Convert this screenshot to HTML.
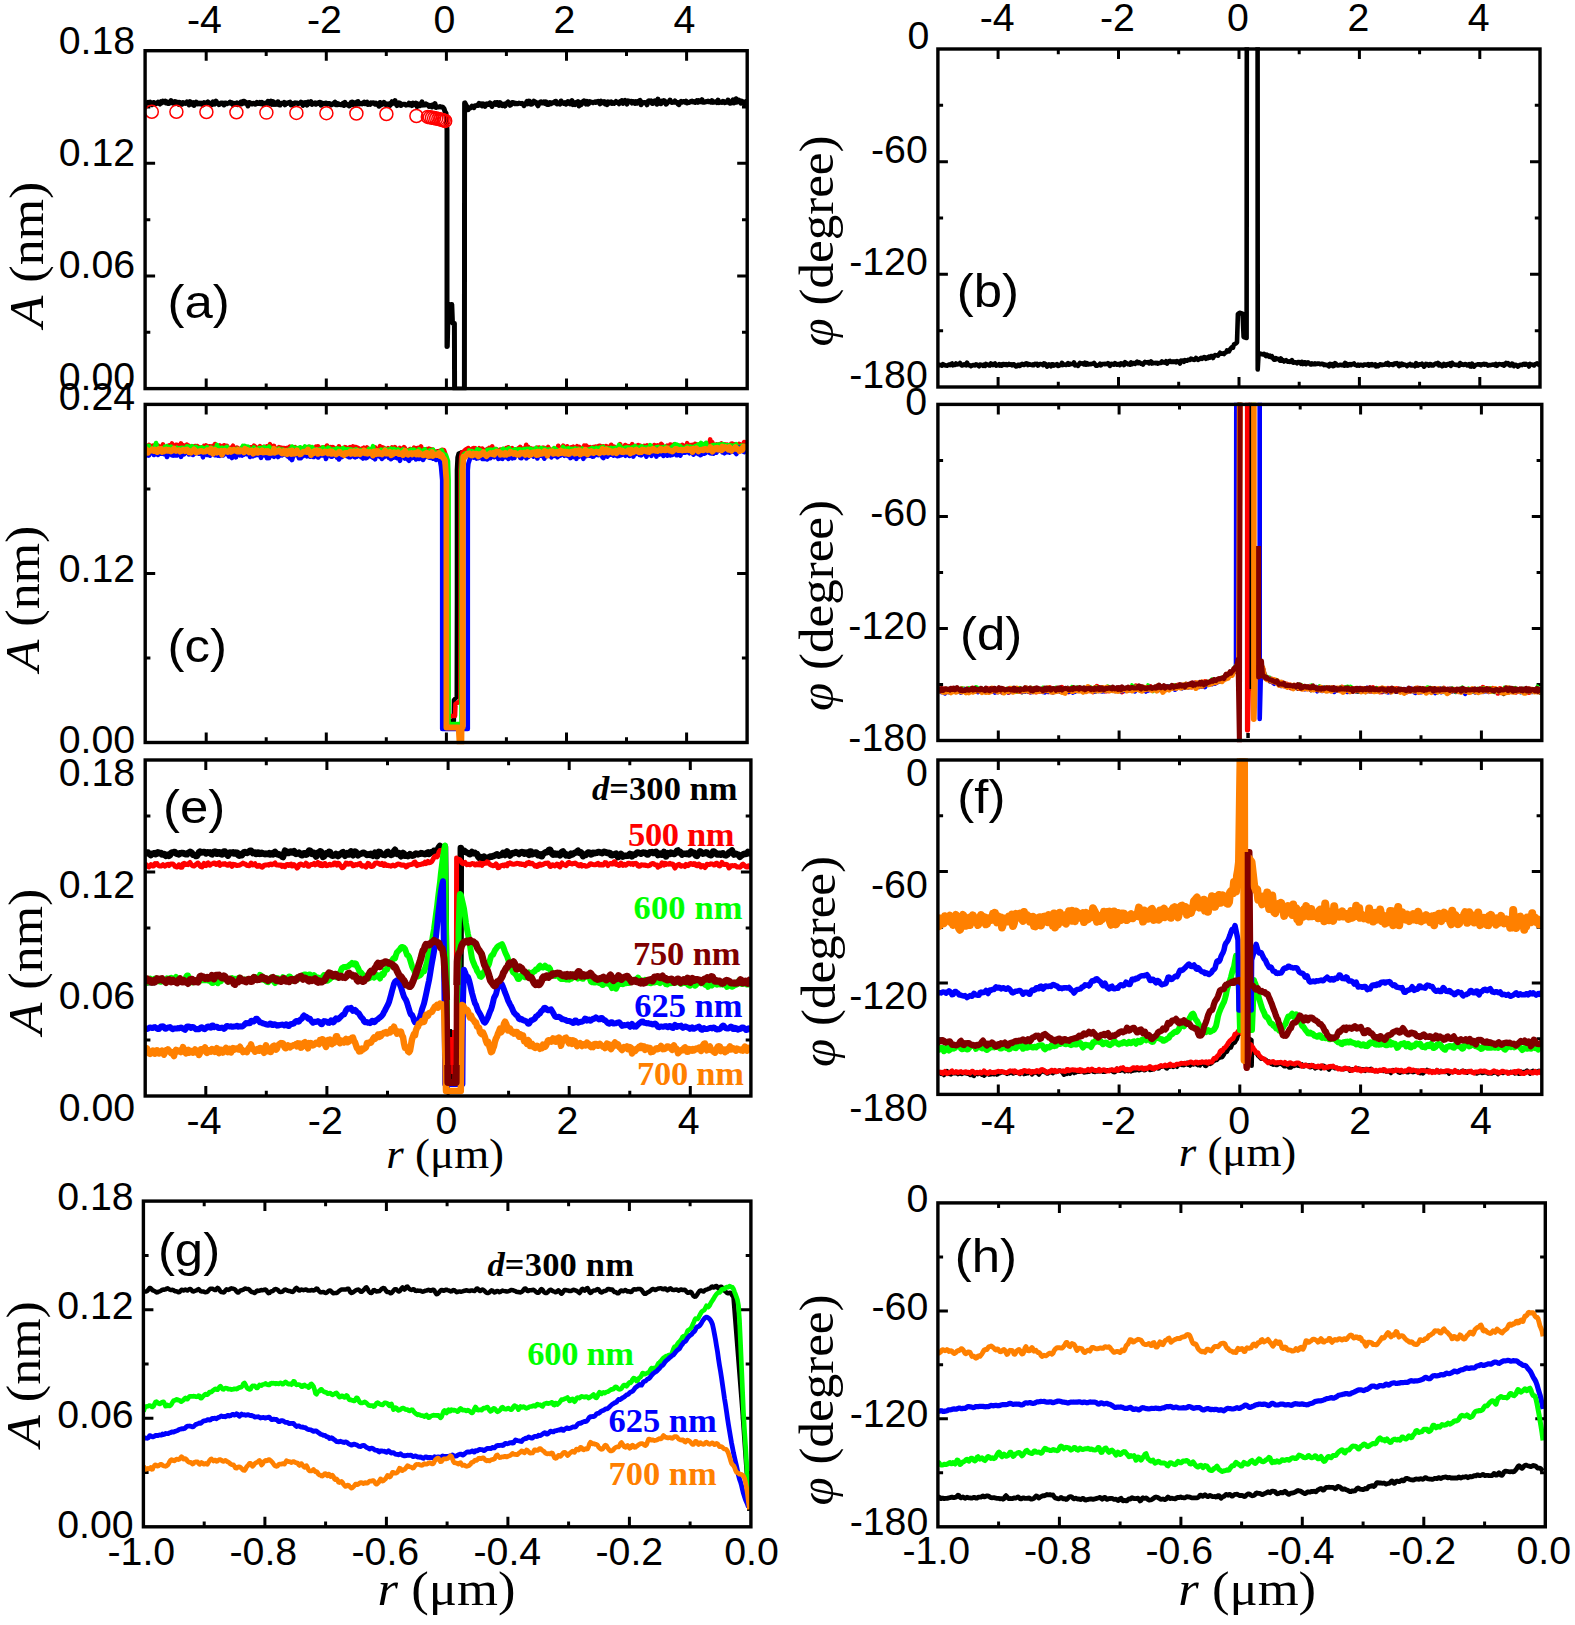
<!DOCTYPE html>
<html><head><meta charset="utf-8"><title>Figure</title><style>html,body{margin:0;padding:0;background:#fff}svg{display:block}</style></head><body>
<svg width="1575" height="1625" viewBox="0 0 1575 1625">
<rect width="1575" height="1625" fill="#fff"/>
<defs>
<clipPath id="cpa"><rect x="145.1" y="49.0" width="602.1" height="341.3"/></clipPath>
<clipPath id="cpb"><rect x="937.9" y="47.3" width="602.1" height="341.4"/></clipPath>
<clipPath id="cpc"><rect x="145.2" y="402.7" width="601.9000000000001" height="341.5"/></clipPath>
<clipPath id="cpd"><rect x="937.9" y="402.7" width="603.9" height="339.5"/></clipPath>
<clipPath id="cpe"><rect x="145.2" y="758.3" width="605.7" height="339.4"/></clipPath>
<clipPath id="cpf"><rect x="937.9" y="758.3" width="603.9" height="337.80000000000007"/></clipPath>
<clipPath id="cpg"><rect x="143.4" y="1199.3999999999999" width="607.5" height="329.1"/></clipPath>
<clipPath id="cph"><rect x="937.9" y="1201.2" width="607.4" height="327.29999999999984"/></clipPath>
</defs>
<path d="M206.2,50.7v10.0M206.2,388.6v-10.0M266.2,50.7v5.2M266.2,388.6v-5.2M326.3,50.7v10.0M326.3,388.6v-10.0M386.3,50.7v5.2M386.3,388.6v-5.2M446.4,50.7v10.0M446.4,388.6v-10.0M506.4,50.7v5.2M506.4,388.6v-5.2M566.5,50.7v10.0M566.5,388.6v-10.0M626.5,50.7v5.2M626.5,388.6v-5.2M686.6,50.7v10.0M686.6,388.6v-10.0M145.1,107.0h5.2M747.2,107.0h-5.2M145.1,163.3h10.0M747.2,163.3h-10.0M145.1,219.7h5.2M747.2,219.7h-5.2M145.1,276.0h10.0M747.2,276.0h-10.0M145.1,332.3h5.2M747.2,332.3h-5.2" stroke="#000" stroke-width="3.0" fill="none"/>
<g clip-path="url(#cpa)">
<path d="M145.0,103.2 L146.0,103.5 L147.0,102.9 L148.0,102.2 L149.0,102.7 L150.0,102.1 L151.0,103.3 L152.0,104.7 L153.0,102.7 L154.0,102.5 L155.0,103.7 L156.0,103.6 L157.0,103.3 L158.0,102.2 L159.0,103.2 L160.0,104.0 L161.0,101.7 L162.0,102.7 L163.0,101.1 L164.0,101.8 L165.0,101.2 L166.0,103.0 L167.0,101.8 L168.0,103.5 L169.0,103.4 L170.0,103.0 L171.0,100.5 L172.0,102.6 L173.0,103.2 L174.0,103.4 L175.0,101.5 L176.0,102.7 L177.0,102.2 L178.0,102.3 L179.0,104.4 L180.0,102.4 L181.0,103.2 L182.0,104.2 L183.0,102.6 L184.0,103.1 L185.0,103.4 L186.0,103.3 L187.0,101.9 L188.0,103.3 L189.0,104.8 L190.0,101.6 L191.0,104.2 L192.0,103.4 L193.0,102.6 L194.0,105.5 L195.0,104.1 L196.0,102.0 L197.0,103.4 L198.0,103.9 L199.0,103.1 L200.0,104.0 L201.0,103.2 L202.0,104.0 L203.0,104.9 L204.0,102.5 L205.0,103.5 L206.0,102.8 L207.0,103.4 L208.0,102.0 L209.0,102.7 L210.0,103.1 L211.0,104.3 L212.0,104.6 L213.0,101.9 L214.0,102.4 L215.0,104.0 L216.0,101.1 L217.0,102.8 L218.0,103.2 L219.0,104.7 L220.0,104.1 L221.0,103.0 L222.0,102.9 L223.0,103.1 L224.0,105.0 L225.0,102.9 L226.0,103.0 L227.0,103.7 L228.0,103.2 L229.0,103.1 L230.0,102.1 L231.0,103.3 L232.0,102.9 L233.0,104.7 L234.0,104.1 L235.0,103.3 L236.0,104.1 L237.0,103.0 L238.0,104.5 L239.0,103.4 L240.0,104.0 L241.0,102.0 L242.0,103.8 L243.0,101.5 L244.0,101.2 L245.0,103.1 L246.0,102.4 L247.0,103.6 L248.0,105.9 L249.0,102.5 L250.0,102.7 L251.0,103.7 L252.0,104.0 L253.0,103.2 L254.0,103.2 L255.0,104.2 L256.0,104.0 L257.0,102.3 L258.0,103.4 L259.0,103.5 L260.0,102.3 L261.0,103.7 L262.0,102.5 L263.0,104.5 L264.0,103.7 L265.0,103.6 L266.0,102.8 L267.0,103.3 L268.0,101.3 L269.0,102.2 L270.0,103.9 L271.0,101.2 L272.0,104.4 L273.0,101.6 L274.0,104.3 L275.0,102.6 L276.0,104.4 L277.0,103.7 L278.0,101.8 L279.0,104.9 L280.0,105.1 L281.0,103.5 L282.0,103.2 L283.0,103.4 L284.0,102.5 L285.0,104.8 L286.0,103.0 L287.0,103.5 L288.0,102.7 L289.0,102.9 L290.0,102.2 L291.0,104.9 L292.0,103.4 L293.0,104.6 L294.0,103.6 L295.0,102.8 L296.0,103.2 L297.0,103.0 L298.0,103.6 L299.0,103.2 L300.0,103.3 L301.0,102.1 L302.0,102.7 L303.0,105.4 L304.0,102.9 L305.0,102.5 L306.0,104.0 L307.0,105.2 L308.0,102.0 L309.0,103.4 L310.0,102.9 L311.0,101.7 L312.0,104.5 L313.0,103.6 L314.0,103.7 L315.0,102.8 L316.0,104.2 L317.0,103.1 L318.0,103.5 L319.0,102.5 L320.0,102.3 L321.0,105.1 L322.0,103.1 L323.0,104.0 L324.0,103.7 L325.0,103.2 L326.0,103.1 L327.0,104.4 L328.0,103.4 L329.0,103.5 L330.0,103.7 L331.0,105.0 L332.0,104.5 L333.0,104.1 L334.0,103.1 L335.0,102.2 L336.0,104.8 L337.0,104.8 L338.0,103.6 L339.0,104.3 L340.0,104.6 L341.0,104.7 L342.0,104.8 L343.0,103.3 L344.0,105.4 L345.0,102.4 L346.0,104.7 L347.0,104.3 L348.0,104.8 L349.0,105.9 L350.0,105.4 L351.0,102.5 L352.0,102.0 L353.0,104.7 L354.0,102.7 L355.0,103.8 L356.0,104.8 L357.0,102.0 L358.0,101.5 L359.0,104.1 L360.0,103.9 L361.0,103.6 L362.0,103.9 L363.0,102.9 L364.0,102.2 L365.0,103.7 L366.0,102.8 L367.0,102.1 L368.0,104.5 L369.0,103.8 L370.0,104.4 L371.0,102.8 L372.0,103.2 L373.0,102.8 L374.0,103.0 L375.0,104.2 L376.0,103.1 L377.0,104.4 L378.0,104.4 L379.0,106.2 L380.0,102.5 L381.0,105.0 L382.0,103.9 L383.0,104.0 L384.0,102.4 L385.0,103.5 L386.0,104.9 L387.0,104.0 L388.0,104.2 L389.0,103.8 L390.0,105.4 L391.0,104.1 L392.0,101.7 L393.0,103.4 L394.0,102.0 L395.0,100.6 L396.0,103.6 L397.0,105.6 L398.0,104.2 L399.0,102.9 L400.0,103.2 L401.0,105.5 L402.0,104.4 L403.0,104.3 L404.0,104.2 L405.0,104.3 L406.0,105.2 L407.0,104.9 L408.0,104.6 L409.0,103.2 L410.0,104.9 L411.0,103.7 L412.0,105.6 L413.0,103.1 L414.0,104.3 L415.0,104.5 L416.0,103.1 L417.0,106.5 L418.0,106.2 L419.0,104.2 L420.0,105.6 L421.0,105.2 L422.0,101.9 L423.0,105.1 L424.0,104.8 L425.0,105.0 L426.0,103.8 L427.0,104.7 L428.0,104.9 L429.0,106.4 L430.0,105.6 L431.0,105.3 L432.0,107.0 L433.0,104.8 L434.0,105.1 L435.0,103.6 L436.0,107.5 L437.0,107.0 L438.0,107.1 L439.0,107.0 L440.0,106.6 L441.0,107.0 L442.0,106.9 L443.0,107.5 L444.0,108.6 L445.0,111.7 L446.0,113.1 L447.0,130.0 L447.0,346.5 L447.3,346.5 L448.2,305.0 L451.8,304.5 L452.5,323.0 L454.4,323.5 L454.6,389.0 L464.4,389.0 L464.6,103.0 L465.0,102.9 L466.0,105.2 L467.0,106.7 L468.0,109.7 L469.0,108.6 L470.0,108.1 L471.0,107.4 L472.0,106.2 L473.0,106.9 L474.0,107.6 L475.0,105.7 L476.0,105.7 L477.0,105.4 L478.0,105.6 L479.0,103.3 L480.0,104.8 L481.0,103.9 L482.0,105.9 L483.0,103.8 L484.0,105.3 L485.0,106.4 L486.0,104.1 L487.0,103.7 L488.0,104.6 L489.0,104.3 L490.0,103.0 L491.0,104.7 L492.0,106.5 L493.0,103.8 L494.0,103.8 L495.0,102.7 L496.0,104.3 L497.0,102.4 L498.0,102.6 L499.0,105.4 L500.0,102.7 L501.0,105.1 L502.0,105.6 L503.0,104.1 L504.0,104.4 L505.0,106.0 L506.0,103.4 L507.0,102.9 L508.0,102.0 L509.0,103.6 L510.0,105.3 L511.0,104.7 L512.0,102.4 L513.0,102.5 L514.0,102.9 L515.0,103.8 L516.0,103.2 L517.0,103.7 L518.0,103.8 L519.0,103.1 L520.0,103.4 L521.0,103.6 L522.0,103.3 L523.0,104.0 L524.0,105.6 L525.0,104.1 L526.0,103.4 L527.0,101.3 L528.0,103.8 L529.0,101.0 L530.0,101.6 L531.0,104.3 L532.0,104.1 L533.0,103.1 L534.0,101.2 L535.0,102.8 L536.0,102.4 L537.0,104.0 L538.0,105.9 L539.0,103.5 L540.0,102.3 L541.0,101.8 L542.0,103.1 L543.0,103.0 L544.0,101.8 L545.0,103.3 L546.0,101.8 L547.0,104.5 L548.0,104.4 L549.0,104.4 L550.0,102.5 L551.0,103.7 L552.0,102.9 L553.0,102.6 L554.0,102.7 L555.0,101.5 L556.0,101.3 L557.0,104.0 L558.0,102.8 L559.0,103.3 L560.0,104.2 L561.0,101.0 L562.0,102.1 L563.0,103.2 L564.0,103.5 L565.0,102.6 L566.0,104.2 L567.0,103.3 L568.0,101.5 L569.0,101.9 L570.0,103.9 L571.0,103.5 L572.0,100.7 L573.0,104.6 L574.0,103.7 L575.0,104.6 L576.0,102.5 L577.0,102.6 L578.0,101.6 L579.0,106.0 L580.0,102.7 L581.0,104.8 L582.0,102.1 L583.0,103.1 L584.0,100.9 L585.0,102.4 L586.0,104.1 L587.0,101.4 L588.0,104.2 L589.0,103.3 L590.0,101.6 L591.0,102.3 L592.0,102.3 L593.0,102.8 L594.0,102.2 L595.0,101.8 L596.0,102.5 L597.0,101.6 L598.0,101.3 L599.0,102.7 L600.0,103.9 L601.0,101.0 L602.0,102.8 L603.0,102.0 L604.0,101.6 L605.0,103.8 L606.0,102.1 L607.0,104.6 L608.0,101.8 L609.0,103.2 L610.0,102.5 L611.0,101.8 L612.0,103.4 L613.0,102.5 L614.0,103.4 L615.0,102.7 L616.0,101.4 L617.0,102.6 L618.0,102.8 L619.0,103.8 L620.0,101.6 L621.0,102.6 L622.0,100.6 L623.0,103.4 L624.0,101.4 L625.0,100.5 L626.0,102.6 L627.0,104.0 L628.0,100.8 L629.0,101.3 L630.0,101.7 L631.0,101.3 L632.0,103.1 L633.0,101.6 L634.0,101.7 L635.0,103.3 L636.0,101.7 L637.0,103.1 L638.0,101.4 L639.0,101.1 L640.0,100.4 L641.0,104.8 L642.0,102.2 L643.0,102.9 L644.0,102.5 L645.0,102.7 L646.0,102.6 L647.0,104.8 L648.0,101.3 L649.0,100.7 L650.0,101.3 L651.0,100.9 L652.0,103.4 L653.0,103.5 L654.0,101.3 L655.0,100.8 L656.0,102.1 L657.0,104.2 L658.0,99.1 L659.0,103.1 L660.0,101.2 L661.0,103.7 L662.0,101.2 L663.0,102.1 L664.0,100.6 L665.0,101.3 L666.0,104.1 L667.0,103.4 L668.0,101.9 L669.0,101.4 L670.0,100.1 L671.0,101.9 L672.0,102.4 L673.0,102.3 L674.0,102.3 L675.0,101.0 L676.0,102.3 L677.0,102.3 L678.0,103.9 L679.0,104.6 L680.0,102.2 L681.0,101.4 L682.0,102.3 L683.0,101.6 L684.0,101.4 L685.0,102.2 L686.0,101.1 L687.0,103.0 L688.0,102.2 L689.0,102.6 L690.0,102.1 L691.0,101.4 L692.0,101.1 L693.0,102.0 L694.0,101.6 L695.0,102.5 L696.0,102.2 L697.0,100.6 L698.0,102.3 L699.0,100.6 L700.0,101.5 L701.0,101.8 L702.0,99.7 L703.0,102.3 L704.0,102.3 L705.0,102.0 L706.0,101.6 L707.0,101.7 L708.0,101.0 L709.0,101.8 L710.0,101.4 L711.0,102.2 L712.0,100.6 L713.0,102.4 L714.0,102.2 L715.0,101.9 L716.0,101.5 L717.0,102.7 L718.0,100.0 L719.0,102.6 L720.0,102.3 L721.0,102.3 L722.0,102.4 L723.0,101.2 L724.0,101.6 L725.0,102.7 L726.0,102.4 L727.0,102.1 L728.0,100.1 L729.0,102.5 L730.0,103.3 L731.0,103.1 L732.0,102.1 L733.0,99.9 L734.0,102.9 L735.0,101.6 L736.0,98.7 L737.0,102.2 L738.0,99.9 L739.0,100.2 L740.0,100.9 L741.0,103.2 L742.0,101.2 L743.0,102.0 L744.0,103.7 L745.0,103.5 L746.0,101.5 L747.0,101.3" fill="none" stroke="#000" stroke-width="5.0" stroke-linejoin="round" stroke-linecap="butt" />
</g>
<g fill="none" stroke="#ff0000" stroke-width="1.5" clip-path="url(#cpa)"><circle cx="151.8" cy="111.8" r="6.5"/><circle cx="176.4" cy="111.8" r="6.5"/><circle cx="206.4" cy="112.0" r="6.5"/><circle cx="236.4" cy="112.3" r="6.5"/><circle cx="266.4" cy="112.6" r="6.5"/><circle cx="296.4" cy="112.9" r="6.5"/><circle cx="326.4" cy="113.2" r="6.5"/><circle cx="356.4" cy="113.5" r="6.5"/><circle cx="386.4" cy="114.0" r="6.5"/><circle cx="416.4" cy="116" r="6.5"/><circle cx="427.8" cy="116.9" r="6.5"/><circle cx="429.9" cy="117.3" r="6.5"/><circle cx="432.0" cy="117.7" r="6.5"/><circle cx="434.1" cy="118.1" r="6.5"/><circle cx="436.2" cy="118.5" r="6.5"/><circle cx="438.3" cy="118.9" r="6.5"/><circle cx="440.4" cy="119.4" r="6.5"/><circle cx="442.2" cy="119.9" r="6.5"/><circle cx="443.7" cy="120.4" r="6.5"/><circle cx="445.2" cy="120.9" r="6.5"/></g>
<rect x="145.1" y="50.7" width="602.1" height="337.9" fill="none" stroke="#000" stroke-width="3.4"/>
<path d="M998.1,49.0v10.0M998.1,387.0v-10.0M1058.3,49.0v5.2M1058.3,387.0v-5.2M1118.5,49.0v10.0M1118.5,387.0v-10.0M1178.7,49.0v5.2M1178.7,387.0v-5.2M1239.0,49.0v10.0M1239.0,387.0v-10.0M1299.2,49.0v5.2M1299.2,387.0v-5.2M1359.4,49.0v10.0M1359.4,387.0v-10.0M1419.6,49.0v5.2M1419.6,387.0v-5.2M1479.8,49.0v10.0M1479.8,387.0v-10.0M937.9,105.3h5.2M1540.0,105.3h-5.2M937.9,161.7h10.0M1540.0,161.7h-10.0M937.9,218.0h5.2M1540.0,218.0h-5.2M937.9,274.3h10.0M1540.0,274.3h-10.0M937.9,330.7h5.2M1540.0,330.7h-5.2" stroke="#000" stroke-width="3.0" fill="none"/>
<g clip-path="url(#cpb)">
<path d="M937.0,363.8 L938.0,364.2 L939.0,365.1 L940.0,365.1 L941.0,364.9 L942.0,365.6 L943.0,364.2 L944.0,364.8 L945.0,365.4 L946.0,365.3 L947.0,365.7 L948.0,365.1 L949.0,364.5 L950.0,365.1 L951.0,364.0 L952.0,363.5 L953.0,365.3 L954.0,364.7 L955.0,365.0 L956.0,363.4 L957.0,364.5 L958.0,364.3 L959.0,364.1 L960.0,363.0 L961.0,364.5 L962.0,365.5 L963.0,365.1 L964.0,364.3 L965.0,364.8 L966.0,365.4 L967.0,362.6 L968.0,364.7 L969.0,365.2 L970.0,365.3 L971.0,366.1 L972.0,365.7 L973.0,365.0 L974.0,365.0 L975.0,365.4 L976.0,364.3 L977.0,364.7 L978.0,365.5 L979.0,366.3 L980.0,364.6 L981.0,364.7 L982.0,364.9 L983.0,365.8 L984.0,364.7 L985.0,365.9 L986.0,364.0 L987.0,364.6 L988.0,364.6 L989.0,365.4 L990.0,365.6 L991.0,363.5 L992.0,364.0 L993.0,365.0 L994.0,364.2 L995.0,363.5 L996.0,365.6 L997.0,365.1 L998.0,365.1 L999.0,364.3 L1000.0,365.5 L1001.0,364.5 L1002.0,365.6 L1003.0,364.0 L1004.0,364.0 L1005.0,364.9 L1006.0,364.1 L1007.0,365.2 L1008.0,364.9 L1009.0,363.9 L1010.0,364.7 L1011.0,364.4 L1012.0,365.4 L1013.0,364.2 L1014.0,364.3 L1015.0,365.6 L1016.0,366.4 L1017.0,366.3 L1018.0,364.7 L1019.0,364.8 L1020.0,365.9 L1021.0,364.5 L1022.0,363.9 L1023.0,364.7 L1024.0,365.0 L1025.0,364.0 L1026.0,363.3 L1027.0,363.5 L1028.0,365.1 L1029.0,364.0 L1030.0,364.5 L1031.0,364.8 L1032.0,365.1 L1033.0,364.3 L1034.0,365.0 L1035.0,363.9 L1036.0,364.3 L1037.0,363.8 L1038.0,365.5 L1039.0,364.5 L1040.0,364.0 L1041.0,364.3 L1042.0,364.4 L1043.0,365.1 L1044.0,363.3 L1045.0,363.7 L1046.0,364.2 L1047.0,366.6 L1048.0,365.3 L1049.0,364.4 L1050.0,365.1 L1051.0,366.2 L1052.0,364.3 L1053.0,364.2 L1054.0,365.5 L1055.0,364.9 L1056.0,365.0 L1057.0,364.1 L1058.0,366.0 L1059.0,365.8 L1060.0,364.9 L1061.0,365.0 L1062.0,362.8 L1063.0,365.0 L1064.0,364.3 L1065.0,364.8 L1066.0,365.0 L1067.0,364.1 L1068.0,363.1 L1069.0,364.7 L1070.0,363.8 L1071.0,364.1 L1072.0,363.9 L1073.0,364.1 L1074.0,362.5 L1075.0,365.3 L1076.0,364.6 L1077.0,365.2 L1078.0,365.9 L1079.0,364.4 L1080.0,362.9 L1081.0,363.6 L1082.0,363.4 L1083.0,363.9 L1084.0,364.4 L1085.0,362.7 L1086.0,364.6 L1087.0,363.1 L1088.0,364.5 L1089.0,364.2 L1090.0,364.0 L1091.0,364.2 L1092.0,363.8 L1093.0,363.8 L1094.0,362.9 L1095.0,364.2 L1096.0,365.7 L1097.0,365.8 L1098.0,365.3 L1099.0,364.8 L1100.0,363.7 L1101.0,365.3 L1102.0,364.1 L1103.0,364.1 L1104.0,363.9 L1105.0,364.2 L1106.0,363.8 L1107.0,364.1 L1108.0,363.2 L1109.0,363.8 L1110.0,365.9 L1111.0,364.0 L1112.0,363.9 L1113.0,364.5 L1114.0,364.6 L1115.0,363.1 L1116.0,363.8 L1117.0,364.7 L1118.0,364.1 L1119.0,364.0 L1120.0,365.1 L1121.0,363.3 L1122.0,363.9 L1123.0,363.4 L1124.0,365.0 L1125.0,362.2 L1126.0,363.2 L1127.0,363.3 L1128.0,364.2 L1129.0,364.1 L1130.0,364.7 L1131.0,362.3 L1132.0,364.2 L1133.0,363.3 L1134.0,363.0 L1135.0,363.9 L1136.0,362.7 L1137.0,361.8 L1138.0,363.1 L1139.0,362.2 L1140.0,362.8 L1141.0,363.6 L1142.0,363.5 L1143.0,364.5 L1144.0,363.0 L1145.0,361.9 L1146.0,362.5 L1147.0,362.4 L1148.0,362.1 L1149.0,363.4 L1150.0,362.5 L1151.0,361.4 L1152.0,363.5 L1153.0,362.8 L1154.0,363.1 L1155.0,362.9 L1156.0,363.3 L1157.0,362.8 L1158.0,363.7 L1159.0,363.0 L1160.0,362.9 L1161.0,362.9 L1162.0,361.4 L1163.0,362.4 L1164.0,362.2 L1165.0,362.6 L1166.0,361.3 L1167.0,363.6 L1168.0,362.3 L1169.0,361.2 L1170.0,360.8 L1171.0,361.9 L1172.0,362.0 L1173.0,361.4 L1174.0,362.0 L1175.0,361.3 L1176.0,362.2 L1177.0,361.1 L1178.0,361.6 L1179.0,362.4 L1180.0,363.6 L1181.0,360.6 L1182.0,361.0 L1183.0,360.6 L1184.0,361.8 L1185.0,360.1 L1186.0,360.5 L1187.0,360.8 L1188.0,359.9 L1189.0,359.8 L1190.0,360.0 L1191.0,358.6 L1192.0,358.9 L1193.0,359.6 L1194.0,359.9 L1195.0,359.5 L1196.0,358.0 L1197.0,358.9 L1198.0,359.8 L1199.0,359.4 L1200.0,358.7 L1201.0,357.9 L1202.0,358.9 L1203.0,357.8 L1204.0,357.1 L1205.0,357.2 L1206.0,358.8 L1207.0,357.6 L1208.0,358.1 L1209.0,356.6 L1210.0,357.5 L1211.0,356.0 L1212.0,356.1 L1213.0,358.0 L1214.0,356.4 L1215.0,355.1 L1216.0,355.2 L1217.0,355.3 L1218.0,355.7 L1219.0,354.1 L1220.0,352.8 L1221.0,353.7 L1222.0,353.7 L1223.0,353.4 L1224.0,354.0 L1225.0,352.8 L1226.0,352.6 L1227.0,350.4 L1228.0,351.3 L1229.0,351.4 L1230.0,349.5 L1231.0,348.2 L1232.0,347.2 L1233.0,347.6 L1234.0,344.4 L1235.0,344.0 L1236.0,343.4 L1237.0,342.4 L1237.9,314.0 L1239.5,312.8 L1242.6,313.8 L1243.6,337.0 L1246.6,338.0 L1246.8,40.0 L1257.6,40.0 L1257.7,369.5 L1258.6,353.0 L1259.0,353.2 L1260.0,354.0 L1261.0,353.8 L1262.0,354.3 L1263.0,354.4 L1264.0,353.8 L1265.0,355.0 L1266.0,356.0 L1267.0,354.8 L1268.0,355.7 L1269.0,356.7 L1270.0,355.7 L1271.0,357.0 L1272.0,356.3 L1273.0,358.3 L1274.0,359.6 L1275.0,359.6 L1276.0,358.1 L1277.0,359.1 L1278.0,358.9 L1279.0,359.2 L1280.0,360.6 L1281.0,358.5 L1282.0,360.7 L1283.0,360.1 L1284.0,361.5 L1285.0,360.7 L1286.0,360.2 L1287.0,361.2 L1288.0,361.8 L1289.0,361.4 L1290.0,361.9 L1291.0,361.2 L1292.0,360.1 L1293.0,362.6 L1294.0,362.6 L1295.0,362.3 L1296.0,362.3 L1297.0,363.2 L1298.0,362.1 L1299.0,362.0 L1300.0,362.6 L1301.0,363.8 L1302.0,361.8 L1303.0,364.0 L1304.0,362.6 L1305.0,362.3 L1306.0,364.2 L1307.0,363.2 L1308.0,362.3 L1309.0,363.2 L1310.0,364.2 L1311.0,364.5 L1312.0,363.3 L1313.0,364.0 L1314.0,364.3 L1315.0,363.3 L1316.0,364.1 L1317.0,363.9 L1318.0,363.5 L1319.0,363.6 L1320.0,364.1 L1321.0,364.1 L1322.0,363.7 L1323.0,363.9 L1324.0,365.1 L1325.0,364.5 L1326.0,365.0 L1327.0,365.3 L1328.0,364.9 L1329.0,366.3 L1330.0,363.8 L1331.0,365.2 L1332.0,364.3 L1333.0,366.1 L1334.0,366.0 L1335.0,363.1 L1336.0,363.9 L1337.0,365.2 L1338.0,365.4 L1339.0,365.3 L1340.0,364.7 L1341.0,365.1 L1342.0,365.3 L1343.0,364.7 L1344.0,365.6 L1345.0,363.0 L1346.0,365.3 L1347.0,364.0 L1348.0,365.6 L1349.0,364.6 L1350.0,364.1 L1351.0,365.1 L1352.0,364.1 L1353.0,364.1 L1354.0,363.5 L1355.0,364.8 L1356.0,365.2 L1357.0,365.6 L1358.0,364.7 L1359.0,365.6 L1360.0,364.8 L1361.0,364.7 L1362.0,365.3 L1363.0,365.6 L1364.0,364.5 L1365.0,364.6 L1366.0,364.7 L1367.0,364.9 L1368.0,364.1 L1369.0,365.6 L1370.0,364.5 L1371.0,365.2 L1372.0,364.1 L1373.0,365.1 L1374.0,365.1 L1375.0,364.5 L1376.0,366.4 L1377.0,365.1 L1378.0,366.2 L1379.0,365.6 L1380.0,364.3 L1381.0,364.5 L1382.0,365.1 L1383.0,364.8 L1384.0,364.8 L1385.0,364.6 L1386.0,363.4 L1387.0,364.6 L1388.0,363.0 L1389.0,365.1 L1390.0,364.2 L1391.0,364.2 L1392.0,364.6 L1393.0,365.0 L1394.0,363.7 L1395.0,363.4 L1396.0,363.9 L1397.0,363.2 L1398.0,364.0 L1399.0,366.1 L1400.0,364.0 L1401.0,365.3 L1402.0,363.7 L1403.0,365.0 L1404.0,364.5 L1405.0,364.7 L1406.0,365.2 L1407.0,366.2 L1408.0,364.9 L1409.0,364.9 L1410.0,364.0 L1411.0,365.3 L1412.0,364.6 L1413.0,365.5 L1414.0,364.8 L1415.0,366.2 L1416.0,363.2 L1417.0,364.6 L1418.0,365.5 L1419.0,364.5 L1420.0,364.2 L1421.0,364.6 L1422.0,363.7 L1423.0,364.9 L1424.0,366.7 L1425.0,365.7 L1426.0,363.9 L1427.0,364.1 L1428.0,364.5 L1429.0,365.6 L1430.0,364.1 L1431.0,364.2 L1432.0,365.5 L1433.0,365.5 L1434.0,364.5 L1435.0,363.9 L1436.0,363.5 L1437.0,364.2 L1438.0,363.0 L1439.0,365.4 L1440.0,364.3 L1441.0,365.2 L1442.0,366.3 L1443.0,365.7 L1444.0,363.9 L1445.0,365.5 L1446.0,365.7 L1447.0,364.2 L1448.0,364.0 L1449.0,364.7 L1450.0,363.5 L1451.0,365.9 L1452.0,362.8 L1453.0,363.9 L1454.0,364.5 L1455.0,364.6 L1456.0,364.9 L1457.0,365.0 L1458.0,364.6 L1459.0,365.7 L1460.0,363.0 L1461.0,364.8 L1462.0,364.2 L1463.0,364.9 L1464.0,364.9 L1465.0,364.0 L1466.0,364.2 L1467.0,365.4 L1468.0,365.0 L1469.0,364.2 L1470.0,366.4 L1471.0,366.6 L1472.0,363.6 L1473.0,365.0 L1474.0,366.7 L1475.0,365.4 L1476.0,364.9 L1477.0,364.6 L1478.0,364.3 L1479.0,364.6 L1480.0,364.3 L1481.0,365.3 L1482.0,364.4 L1483.0,364.4 L1484.0,363.8 L1485.0,364.7 L1486.0,364.0 L1487.0,364.6 L1488.0,365.6 L1489.0,365.0 L1490.0,365.1 L1491.0,365.0 L1492.0,364.8 L1493.0,364.6 L1494.0,364.5 L1495.0,365.3 L1496.0,363.8 L1497.0,365.8 L1498.0,364.7 L1499.0,364.1 L1500.0,364.3 L1501.0,364.2 L1502.0,364.8 L1503.0,364.1 L1504.0,365.6 L1505.0,364.1 L1506.0,362.9 L1507.0,364.1 L1508.0,363.1 L1509.0,364.6 L1510.0,365.5 L1511.0,365.2 L1512.0,363.6 L1513.0,364.1 L1514.0,366.1 L1515.0,364.9 L1516.0,364.7 L1517.0,365.5 L1518.0,366.6 L1519.0,365.7 L1520.0,364.8 L1521.0,364.9 L1522.0,365.1 L1523.0,364.2 L1524.0,363.8 L1525.0,364.7 L1526.0,363.9 L1527.0,364.6 L1528.0,364.7 L1529.0,366.5 L1530.0,363.9 L1531.0,364.5 L1532.0,364.5 L1533.0,365.0 L1534.0,365.5 L1535.0,364.2 L1536.0,364.0 L1537.0,363.3 L1538.0,363.9 L1539.0,365.0 L1540.0,364.6 L1541.0,363.8" fill="none" stroke="#000" stroke-width="4.6" stroke-linejoin="round" stroke-linecap="butt" />
</g>
<rect x="937.9" y="49.0" width="602.1" height="338.0" fill="none" stroke="#000" stroke-width="3.4"/>
<path d="M206.2,404.4v10.0M206.2,742.5v-10.0M266.2,404.4v5.2M266.2,742.5v-5.2M326.3,404.4v10.0M326.3,742.5v-10.0M386.3,404.4v5.2M386.3,742.5v-5.2M446.4,404.4v10.0M446.4,742.5v-10.0M506.4,404.4v5.2M506.4,742.5v-5.2M566.5,404.4v10.0M566.5,742.5v-10.0M626.5,404.4v5.2M626.5,742.5v-5.2M686.6,404.4v10.0M686.6,742.5v-10.0M145.2,488.9h5.2M747.1,488.9h-5.2M145.2,573.5h10.0M747.1,573.5h-10.0M145.2,658.0h5.2M747.1,658.0h-5.2" stroke="#000" stroke-width="3.0" fill="none"/>
<g clip-path="url(#cpc)">
<path d="M145.0,448.6 L146.0,449.0 L147.0,449.5 L148.0,448.4 L149.0,448.8 L150.0,447.2 L151.0,447.9 L152.0,450.7 L153.0,446.9 L154.0,448.7 L155.0,449.3 L156.0,448.7 L157.0,448.3 L158.0,449.0 L159.0,449.1 L160.0,449.0 L161.0,447.2 L162.0,449.0 L163.0,448.3 L164.0,448.6 L165.0,449.4 L166.0,449.8 L167.0,450.1 L168.0,448.7 L169.0,450.1 L170.0,450.4 L171.0,450.3 L172.0,450.6 L173.0,449.1 L174.0,449.0 L175.0,450.0 L176.0,447.9 L177.0,449.4 L178.0,448.7 L179.0,448.9 L180.0,447.5 L181.0,448.4 L182.0,449.3 L183.0,450.2 L184.0,450.3 L185.0,449.2 L186.0,449.1 L187.0,448.5 L188.0,449.7 L189.0,449.1 L190.0,449.9 L191.0,451.1 L192.0,449.3 L193.0,447.9 L194.0,448.5 L195.0,447.9 L196.0,448.2 L197.0,450.7 L198.0,449.6 L199.0,447.9 L200.0,450.1 L201.0,450.7 L202.0,449.1 L203.0,448.8 L204.0,449.1 L205.0,449.8 L206.0,450.1 L207.0,450.7 L208.0,450.7 L209.0,450.7 L210.0,450.9 L211.0,450.2 L212.0,448.0 L213.0,449.4 L214.0,449.9 L215.0,449.2 L216.0,450.5 L217.0,449.2 L218.0,448.7 L219.0,451.1 L220.0,450.3 L221.0,449.8 L222.0,450.6 L223.0,450.7 L224.0,450.0 L225.0,447.2 L226.0,449.0 L227.0,449.2 L228.0,448.7 L229.0,449.9 L230.0,450.9 L231.0,449.2 L232.0,448.6 L233.0,451.8 L234.0,449.3 L235.0,448.5 L236.0,450.0 L237.0,450.2 L238.0,449.1 L239.0,450.6 L240.0,449.3 L241.0,448.9 L242.0,450.0 L243.0,450.6 L244.0,449.2 L245.0,450.2 L246.0,449.8 L247.0,452.7 L248.0,449.2 L249.0,451.3 L250.0,449.9 L251.0,449.8 L252.0,450.7 L253.0,450.9 L254.0,451.2 L255.0,450.3 L256.0,449.4 L257.0,449.5 L258.0,450.5 L259.0,450.6 L260.0,451.4 L261.0,450.5 L262.0,451.1 L263.0,451.6 L264.0,450.2 L265.0,448.6 L266.0,448.9 L267.0,448.7 L268.0,451.7 L269.0,449.3 L270.0,451.4 L271.0,450.7 L272.0,451.9 L273.0,451.2 L274.0,450.1 L275.0,450.0 L276.0,450.3 L277.0,450.4 L278.0,449.7 L279.0,450.2 L280.0,451.9 L281.0,448.6 L282.0,450.5 L283.0,449.4 L284.0,450.5 L285.0,451.2 L286.0,450.3 L287.0,451.1 L288.0,448.8 L289.0,451.5 L290.0,449.8 L291.0,451.0 L292.0,450.6 L293.0,447.8 L294.0,449.7 L295.0,450.7 L296.0,452.0 L297.0,450.8 L298.0,450.7 L299.0,449.1 L300.0,451.9 L301.0,452.3 L302.0,450.6 L303.0,450.3 L304.0,448.9 L305.0,451.4 L306.0,453.3 L307.0,451.3 L308.0,451.9 L309.0,451.2 L310.0,449.6 L311.0,452.0 L312.0,449.4 L313.0,450.4 L314.0,450.9 L315.0,451.6 L316.0,451.1 L317.0,451.1 L318.0,450.0 L319.0,449.4 L320.0,450.8 L321.0,450.0 L322.0,449.5 L323.0,449.5 L324.0,450.3 L325.0,449.0 L326.0,449.5 L327.0,449.2 L328.0,451.0 L329.0,451.3 L330.0,452.9 L331.0,449.4 L332.0,450.2 L333.0,451.8 L334.0,450.7 L335.0,450.6 L336.0,452.7 L337.0,450.6 L338.0,449.8 L339.0,449.7 L340.0,451.3 L341.0,451.3 L342.0,449.7 L343.0,450.1 L344.0,451.6 L345.0,451.7 L346.0,450.4 L347.0,451.7 L348.0,451.7 L349.0,449.4 L350.0,450.8 L351.0,451.6 L352.0,450.6 L353.0,449.1 L354.0,450.9 L355.0,452.0 L356.0,452.8 L357.0,449.1 L358.0,453.9 L359.0,450.2 L360.0,452.3 L361.0,452.5 L362.0,452.3 L363.0,451.5 L364.0,450.2 L365.0,452.0 L366.0,450.7 L367.0,448.9 L368.0,454.3 L369.0,452.2 L370.0,453.3 L371.0,450.6 L372.0,453.0 L373.0,453.1 L374.0,453.1 L375.0,451.5 L376.0,450.4 L377.0,451.4 L378.0,449.4 L379.0,449.9 L380.0,451.7 L381.0,450.7 L382.0,451.5 L383.0,451.6 L384.0,453.6 L385.0,453.0 L386.0,451.7 L387.0,453.0 L388.0,451.0 L389.0,451.5 L390.0,452.7 L391.0,450.6 L392.0,451.6 L393.0,450.5 L394.0,452.0 L395.0,453.5 L396.0,451.2 L397.0,452.2 L398.0,451.1 L399.0,450.8 L400.0,450.8 L401.0,453.5 L402.0,454.4 L403.0,452.5 L404.0,451.4 L405.0,452.8 L406.0,451.8 L407.0,452.9 L408.0,452.4 L409.0,452.4 L410.0,452.8 L411.0,451.6 L412.0,451.8 L413.0,450.5 L414.0,451.8 L415.0,450.8 L416.0,452.1 L417.0,451.3 L418.0,452.4 L419.0,452.7 L420.0,450.9 L421.0,451.5 L422.0,451.4 L423.0,453.1 L424.0,454.1 L425.0,453.3 L426.0,452.1 L427.0,454.0 L428.0,451.0 L429.0,454.1 L430.0,451.9 L431.0,449.9 L432.0,455.3 L433.0,454.3 L434.0,451.7 L435.0,453.0 L436.0,452.7 L437.0,453.0 L438.0,451.5 L439.0,452.4 L440.0,453.8 L441.0,454.0 L442.0,455.5 L443.0,455.1 L444.0,459.6 L445.0,460.5 L446.0,480.0 L446.0,721.0 L453.8,721.0 L454.0,700.0 L456.8,697.0 L457.0,600.0 L457.0,470.0 L457.6,457.3 L458.6,453.8 L459.6,453.2 L460.6,455.0 L461.6,452.4 L462.6,453.8 L463.6,453.0 L464.6,451.9 L465.6,452.5 L466.6,452.3 L467.6,452.2 L468.6,453.4 L469.6,453.2 L470.6,452.0 L471.6,451.6 L472.6,452.8 L473.6,452.3 L474.6,453.4 L475.6,455.0 L476.6,453.2 L477.6,452.3 L478.6,452.1 L479.6,451.4 L480.6,451.3 L481.6,451.2 L482.6,451.8 L483.6,451.7 L484.6,452.9 L485.6,451.7 L486.6,451.9 L487.6,450.8 L488.6,453.7 L489.6,452.5 L490.6,453.8 L491.6,452.8 L492.6,453.4 L493.6,451.7 L494.6,452.6 L495.6,454.6 L496.6,450.6 L497.6,453.0 L498.6,453.5 L499.6,452.2 L500.6,452.6 L501.6,453.1 L502.6,451.1 L503.6,452.2 L504.6,450.8 L505.6,451.0 L506.6,451.1 L507.6,451.5 L508.6,451.8 L509.6,452.1 L510.6,450.2 L511.6,453.7 L512.6,452.8 L513.6,452.4 L514.6,451.2 L515.6,451.5 L516.6,452.1 L517.6,452.0 L518.6,449.8 L519.6,452.3 L520.6,454.5 L521.6,449.6 L522.6,452.5 L523.6,451.9 L524.6,451.4 L525.6,452.9 L526.6,450.2 L527.6,451.6 L528.6,452.9 L529.6,451.2 L530.6,451.0 L531.6,451.5 L532.6,450.9 L533.6,453.0 L534.6,450.4 L535.6,452.3 L536.6,450.1 L537.6,452.0 L538.6,451.2 L539.6,448.7 L540.6,451.3 L541.6,450.2 L542.6,450.8 L543.6,452.8 L544.6,450.1 L545.6,450.1 L546.6,452.7 L547.6,451.3 L548.6,452.8 L549.6,451.5 L550.6,450.3 L551.6,451.1 L552.6,452.4 L553.6,452.1 L554.6,451.1 L555.6,451.1 L556.6,450.9 L557.6,450.5 L558.6,453.0 L559.6,451.0 L560.6,449.8 L561.6,450.5 L562.6,451.7 L563.6,451.6 L564.6,450.8 L565.6,450.2 L566.6,450.9 L567.6,449.1 L568.6,449.5 L569.6,451.6 L570.6,450.3 L571.6,451.2 L572.6,452.0 L573.6,451.4 L574.6,450.7 L575.6,452.9 L576.6,451.4 L577.6,450.3 L578.6,451.4 L579.6,451.0 L580.6,449.7 L581.6,450.6 L582.6,450.4 L583.6,448.5 L584.6,450.3 L585.6,450.2 L586.6,450.0 L587.6,448.7 L588.6,450.0 L589.6,450.4 L590.6,450.5 L591.6,449.2 L592.6,451.0 L593.6,449.1 L594.6,450.1 L595.6,451.6 L596.6,449.5 L597.6,449.7 L598.6,451.3 L599.6,449.8 L600.6,449.8 L601.6,450.4 L602.6,451.2 L603.6,447.8 L604.6,449.2 L605.6,449.0 L606.6,448.9 L607.6,449.1 L608.6,449.1 L609.6,450.3 L610.6,449.0 L611.6,450.0 L612.6,450.3 L613.6,449.1 L614.6,450.0 L615.6,451.5 L616.6,450.1 L617.6,449.1 L618.6,449.7 L619.6,448.8 L620.6,450.0 L621.6,450.6 L622.6,448.8 L623.6,449.4 L624.6,450.7 L625.6,449.1 L626.6,449.7 L627.6,448.5 L628.6,448.7 L629.6,449.0 L630.6,451.6 L631.6,449.0 L632.6,448.9 L633.6,448.8 L634.6,449.2 L635.6,450.0 L636.6,449.5 L637.6,451.4 L638.6,449.5 L639.6,450.7 L640.6,449.5 L641.6,449.8 L642.6,447.7 L643.6,449.0 L644.6,449.1 L645.6,448.9 L646.6,446.9 L647.6,449.9 L648.6,448.6 L649.6,448.6 L650.6,448.7 L651.6,448.7 L652.6,449.3 L653.6,447.6 L654.6,448.0 L655.6,449.2 L656.6,449.0 L657.6,448.4 L658.6,448.2 L659.6,447.9 L660.6,448.7 L661.6,449.9 L662.6,447.6 L663.6,450.2 L664.6,449.5 L665.6,448.2 L666.6,449.4 L667.6,447.1 L668.6,446.8 L669.6,447.2 L670.6,448.1 L671.6,448.2 L672.6,447.9 L673.6,448.5 L674.6,446.3 L675.6,448.9 L676.6,446.9 L677.6,447.7 L678.6,447.9 L679.6,447.1 L680.6,446.9 L681.6,447.2 L682.6,448.2 L683.6,448.8 L684.6,448.7 L685.6,447.1 L686.6,447.3 L687.6,447.2 L688.6,448.5 L689.6,446.0 L690.6,449.2 L691.6,447.5 L692.6,447.2 L693.6,448.3 L694.6,448.9 L695.6,448.2 L696.6,448.9 L697.6,448.0 L698.6,449.0 L699.6,449.0 L700.6,447.6 L701.6,449.2 L702.6,447.9 L703.6,447.8 L704.6,446.7 L705.6,447.3 L706.6,448.4 L707.6,446.3 L708.6,448.2 L709.6,447.9 L710.6,447.8 L711.6,445.3 L712.6,447.3 L713.6,448.1 L714.6,446.6 L715.6,447.4 L716.6,445.0 L717.6,448.0 L718.6,446.6 L719.6,448.1 L720.6,445.4 L721.6,447.9 L722.6,446.9 L723.6,448.0 L724.6,446.2 L725.6,446.5 L726.6,449.3 L727.6,446.2 L728.6,446.3 L729.6,446.7 L730.6,445.9 L731.6,448.1 L732.6,448.6 L733.6,446.2 L734.6,445.1 L735.6,448.0 L736.6,447.9 L737.6,447.6 L738.6,447.9 L739.6,445.8 L740.6,446.5 L741.6,445.3 L742.6,445.2 L743.6,447.6 L744.6,445.9 L745.6,448.8 L746.6,446.6" fill="none" stroke="#000" stroke-width="4.6" stroke-linejoin="round" stroke-linecap="butt" />
<path d="M145.0,445.8 L146.0,448.1 L147.0,449.7 L148.0,447.6 L149.0,444.9 L150.0,447.4 L151.0,449.0 L152.0,446.1 L153.0,445.6 L154.0,448.5 L155.0,447.1 L156.0,445.1 L157.0,446.3 L158.0,445.7 L159.0,447.4 L160.0,447.1 L161.0,448.8 L162.0,448.1 L163.0,444.4 L164.0,447.6 L165.0,448.4 L166.0,447.7 L167.0,448.6 L168.0,446.1 L169.0,445.4 L170.0,448.5 L171.0,445.3 L172.0,443.5 L173.0,448.6 L174.0,445.8 L175.0,446.5 L176.0,444.8 L177.0,444.9 L178.0,445.2 L179.0,446.5 L180.0,447.6 L181.0,443.4 L182.0,448.3 L183.0,445.2 L184.0,445.4 L185.0,448.2 L186.0,447.0 L187.0,444.7 L188.0,450.1 L189.0,445.8 L190.0,447.5 L191.0,447.5 L192.0,449.4 L193.0,446.4 L194.0,448.8 L195.0,446.0 L196.0,449.0 L197.0,446.0 L198.0,446.6 L199.0,450.3 L200.0,447.7 L201.0,447.4 L202.0,450.8 L203.0,447.8 L204.0,446.0 L205.0,448.5 L206.0,445.4 L207.0,449.1 L208.0,449.2 L209.0,446.4 L210.0,446.3 L211.0,447.6 L212.0,447.4 L213.0,445.8 L214.0,448.3 L215.0,444.1 L216.0,446.7 L217.0,446.7 L218.0,447.0 L219.0,447.9 L220.0,445.5 L221.0,448.4 L222.0,447.2 L223.0,446.4 L224.0,445.3 L225.0,445.6 L226.0,448.1 L227.0,445.9 L228.0,447.6 L229.0,449.2 L230.0,449.2 L231.0,450.0 L232.0,447.1 L233.0,445.8 L234.0,449.2 L235.0,448.1 L236.0,449.4 L237.0,447.6 L238.0,449.5 L239.0,449.0 L240.0,448.8 L241.0,448.4 L242.0,448.3 L243.0,448.0 L244.0,448.0 L245.0,449.3 L246.0,446.9 L247.0,450.5 L248.0,447.5 L249.0,449.3 L250.0,447.6 L251.0,447.3 L252.0,451.0 L253.0,447.3 L254.0,445.7 L255.0,446.6 L256.0,447.3 L257.0,451.3 L258.0,448.1 L259.0,449.3 L260.0,446.2 L261.0,448.4 L262.0,448.9 L263.0,450.8 L264.0,446.8 L265.0,448.9 L266.0,448.4 L267.0,446.3 L268.0,447.9 L269.0,447.5 L270.0,444.2 L271.0,448.9 L272.0,448.8 L273.0,447.3 L274.0,445.9 L275.0,450.4 L276.0,448.4 L277.0,449.7 L278.0,450.3 L279.0,447.2 L280.0,449.4 L281.0,447.7 L282.0,448.0 L283.0,448.0 L284.0,448.1 L285.0,449.9 L286.0,448.3 L287.0,447.9 L288.0,447.7 L289.0,448.7 L290.0,446.7 L291.0,447.4 L292.0,448.1 L293.0,447.3 L294.0,448.0 L295.0,447.3 L296.0,451.5 L297.0,450.4 L298.0,449.0 L299.0,448.2 L300.0,451.8 L301.0,448.8 L302.0,448.2 L303.0,448.8 L304.0,448.8 L305.0,450.6 L306.0,448.3 L307.0,451.7 L308.0,447.0 L309.0,449.5 L310.0,446.8 L311.0,451.3 L312.0,447.9 L313.0,448.4 L314.0,449.9 L315.0,450.5 L316.0,446.7 L317.0,448.0 L318.0,446.3 L319.0,448.8 L320.0,448.4 L321.0,448.0 L322.0,447.5 L323.0,448.0 L324.0,447.4 L325.0,449.5 L326.0,451.0 L327.0,445.5 L328.0,448.5 L329.0,448.0 L330.0,449.5 L331.0,447.2 L332.0,448.5 L333.0,447.1 L334.0,449.8 L335.0,448.9 L336.0,448.5 L337.0,449.4 L338.0,448.4 L339.0,446.3 L340.0,449.8 L341.0,449.3 L342.0,448.6 L343.0,450.4 L344.0,450.8 L345.0,447.1 L346.0,447.6 L347.0,451.4 L348.0,451.2 L349.0,447.8 L350.0,447.1 L351.0,447.9 L352.0,448.2 L353.0,446.5 L354.0,449.1 L355.0,447.0 L356.0,447.1 L357.0,450.5 L358.0,448.0 L359.0,449.0 L360.0,450.1 L361.0,450.4 L362.0,448.6 L363.0,449.2 L364.0,447.8 L365.0,452.0 L366.0,450.2 L367.0,447.4 L368.0,449.2 L369.0,450.4 L370.0,450.0 L371.0,452.2 L372.0,451.5 L373.0,448.5 L374.0,449.2 L375.0,447.3 L376.0,449.8 L377.0,449.6 L378.0,453.7 L379.0,449.6 L380.0,446.1 L381.0,448.4 L382.0,449.6 L383.0,447.5 L384.0,448.1 L385.0,448.9 L386.0,450.1 L387.0,449.3 L388.0,448.2 L389.0,450.9 L390.0,448.7 L391.0,448.8 L392.0,447.4 L393.0,448.4 L394.0,450.7 L395.0,447.1 L396.0,449.6 L397.0,450.9 L398.0,449.2 L399.0,450.2 L400.0,448.0 L401.0,451.9 L402.0,451.6 L403.0,450.2 L404.0,447.1 L405.0,448.2 L406.0,451.5 L407.0,452.7 L408.0,450.4 L409.0,451.9 L410.0,449.0 L411.0,449.7 L412.0,450.0 L413.0,450.7 L414.0,447.6 L415.0,451.5 L416.0,452.1 L417.0,448.2 L418.0,447.9 L419.0,450.6 L420.0,449.0 L421.0,446.3 L422.0,451.4 L423.0,450.4 L424.0,449.4 L425.0,453.6 L426.0,450.5 L427.0,449.1 L428.0,450.4 L429.0,448.7 L430.0,449.1 L431.0,451.0 L432.0,449.5 L433.0,449.7 L434.0,453.2 L435.0,451.9 L436.0,451.9 L437.0,451.5 L438.0,451.5 L439.0,453.1 L440.0,450.8 L441.0,454.0 L442.0,449.8 L443.0,451.4 L444.0,450.2 L445.0,453.0 L446.0,457.8 L447.5,480.0 L447.5,716.0 L455.0,716.0 L455.5,704.0 L460.4,701.0 L460.6,600.0 L460.6,470.0 L461.2,457.1 L462.2,452.4 L463.2,452.3 L464.2,450.9 L465.2,450.0 L466.2,449.1 L467.2,451.0 L468.2,448.0 L469.2,450.8 L470.2,450.6 L471.2,449.4 L472.2,448.8 L473.2,448.2 L474.2,453.3 L475.2,448.2 L476.2,452.8 L477.2,451.2 L478.2,449.6 L479.2,448.3 L480.2,451.8 L481.2,452.9 L482.2,448.6 L483.2,449.6 L484.2,451.7 L485.2,450.5 L486.2,453.2 L487.2,449.0 L488.2,450.8 L489.2,447.9 L490.2,453.2 L491.2,448.7 L492.2,446.3 L493.2,449.6 L494.2,449.5 L495.2,452.8 L496.2,449.2 L497.2,449.7 L498.2,450.6 L499.2,452.2 L500.2,449.5 L501.2,451.3 L502.2,450.4 L503.2,449.1 L504.2,449.7 L505.2,449.6 L506.2,448.1 L507.2,451.5 L508.2,447.3 L509.2,451.4 L510.2,451.0 L511.2,449.3 L512.2,448.2 L513.2,449.1 L514.2,450.2 L515.2,450.6 L516.2,449.9 L517.2,451.0 L518.2,448.5 L519.2,449.7 L520.2,446.8 L521.2,450.6 L522.2,449.6 L523.2,448.6 L524.2,451.2 L525.2,450.4 L526.2,444.8 L527.2,449.3 L528.2,446.9 L529.2,450.9 L530.2,453.2 L531.2,448.4 L532.2,449.3 L533.2,448.8 L534.2,449.7 L535.2,450.2 L536.2,451.2 L537.2,447.6 L538.2,451.6 L539.2,447.6 L540.2,449.6 L541.2,451.0 L542.2,450.2 L543.2,447.6 L544.2,447.9 L545.2,448.3 L546.2,448.9 L547.2,450.9 L548.2,446.9 L549.2,449.7 L550.2,449.9 L551.2,449.8 L552.2,449.7 L553.2,451.4 L554.2,449.7 L555.2,450.3 L556.2,449.8 L557.2,451.7 L558.2,445.8 L559.2,450.9 L560.2,448.4 L561.2,448.3 L562.2,447.2 L563.2,445.7 L564.2,448.1 L565.2,447.6 L566.2,449.5 L567.2,446.3 L568.2,450.9 L569.2,449.1 L570.2,448.2 L571.2,447.4 L572.2,447.3 L573.2,446.7 L574.2,447.6 L575.2,448.5 L576.2,448.2 L577.2,446.2 L578.2,448.0 L579.2,447.0 L580.2,448.6 L581.2,451.3 L582.2,449.3 L583.2,447.8 L584.2,445.7 L585.2,446.0 L586.2,445.6 L587.2,449.4 L588.2,447.0 L589.2,448.3 L590.2,447.2 L591.2,448.3 L592.2,450.4 L593.2,447.0 L594.2,447.5 L595.2,446.8 L596.2,449.4 L597.2,446.4 L598.2,446.2 L599.2,445.8 L600.2,445.7 L601.2,448.7 L602.2,452.0 L603.2,446.3 L604.2,449.4 L605.2,448.2 L606.2,446.1 L607.2,447.4 L608.2,447.4 L609.2,446.6 L610.2,450.8 L611.2,444.7 L612.2,448.3 L613.2,448.2 L614.2,446.7 L615.2,447.9 L616.2,449.0 L617.2,447.8 L618.2,448.2 L619.2,448.6 L620.2,444.2 L621.2,449.8 L622.2,451.1 L623.2,449.0 L624.2,449.0 L625.2,445.1 L626.2,447.2 L627.2,446.0 L628.2,446.4 L629.2,448.8 L630.2,446.0 L631.2,447.0 L632.2,444.2 L633.2,446.9 L634.2,447.3 L635.2,446.0 L636.2,446.0 L637.2,450.1 L638.2,445.1 L639.2,445.4 L640.2,445.7 L641.2,448.9 L642.2,450.3 L643.2,447.5 L644.2,445.8 L645.2,446.2 L646.2,448.6 L647.2,445.4 L648.2,449.2 L649.2,449.1 L650.2,446.9 L651.2,447.8 L652.2,447.9 L653.2,449.2 L654.2,445.0 L655.2,448.6 L656.2,446.1 L657.2,445.4 L658.2,446.8 L659.2,446.2 L660.2,445.0 L661.2,444.0 L662.2,445.0 L663.2,448.8 L664.2,449.6 L665.2,447.5 L666.2,448.3 L667.2,445.6 L668.2,446.2 L669.2,446.8 L670.2,444.6 L671.2,444.7 L672.2,446.4 L673.2,445.7 L674.2,444.5 L675.2,446.8 L676.2,445.7 L677.2,447.8 L678.2,446.1 L679.2,445.6 L680.2,446.3 L681.2,445.8 L682.2,444.9 L683.2,445.3 L684.2,447.2 L685.2,447.0 L686.2,448.0 L687.2,443.2 L688.2,445.2 L689.2,445.2 L690.2,446.1 L691.2,445.1 L692.2,444.9 L693.2,447.0 L694.2,446.0 L695.2,443.8 L696.2,447.8 L697.2,447.2 L698.2,444.7 L699.2,446.9 L700.2,444.4 L701.2,447.3 L702.2,445.2 L703.2,444.2 L704.2,444.9 L705.2,444.2 L706.2,445.7 L707.2,445.7 L708.2,445.4 L709.2,444.4 L710.2,439.4 L711.2,445.4 L712.2,442.2 L713.2,445.6 L714.2,447.0 L715.2,445.6 L716.2,444.5 L717.2,444.8 L718.2,444.9 L719.2,444.2 L720.2,444.1 L721.2,443.5 L722.2,446.9 L723.2,444.9 L724.2,446.5 L725.2,444.5 L726.2,445.0 L727.2,444.6 L728.2,445.6 L729.2,446.1 L730.2,445.2 L731.2,443.7 L732.2,443.5 L733.2,447.3 L734.2,444.2 L735.2,444.2 L736.2,447.0 L737.2,446.3 L738.2,445.4 L739.2,443.9 L740.2,448.3 L741.2,445.1 L742.2,445.3 L743.2,444.1 L744.2,442.1 L745.2,442.2 L746.2,445.0 L747.2,444.9" fill="none" stroke="#ff0000" stroke-width="4.6" stroke-linejoin="round" stroke-linecap="butt" />
<path d="M145.0,447.8 L146.0,446.4 L147.0,446.1 L148.0,447.7 L149.0,446.0 L150.0,449.6 L151.0,450.0 L152.0,452.5 L153.0,449.6 L154.0,447.4 L155.0,447.0 L156.0,443.1 L157.0,447.4 L158.0,448.0 L159.0,449.7 L160.0,449.2 L161.0,449.2 L162.0,448.6 L163.0,449.3 L164.0,450.5 L165.0,446.7 L166.0,447.7 L167.0,446.3 L168.0,450.8 L169.0,450.3 L170.0,449.5 L171.0,446.6 L172.0,448.7 L173.0,448.0 L174.0,448.5 L175.0,448.1 L176.0,449.2 L177.0,447.8 L178.0,449.7 L179.0,448.8 L180.0,448.0 L181.0,448.3 L182.0,447.8 L183.0,449.7 L184.0,448.1 L185.0,448.9 L186.0,447.9 L187.0,446.3 L188.0,449.9 L189.0,446.9 L190.0,449.6 L191.0,449.2 L192.0,446.1 L193.0,447.2 L194.0,447.8 L195.0,447.4 L196.0,446.8 L197.0,449.7 L198.0,448.3 L199.0,449.2 L200.0,448.0 L201.0,449.1 L202.0,447.5 L203.0,448.6 L204.0,449.5 L205.0,448.7 L206.0,448.0 L207.0,447.1 L208.0,449.0 L209.0,449.2 L210.0,448.3 L211.0,447.6 L212.0,449.6 L213.0,452.5 L214.0,448.3 L215.0,449.3 L216.0,449.3 L217.0,444.9 L218.0,449.0 L219.0,447.7 L220.0,450.9 L221.0,448.4 L222.0,447.7 L223.0,448.5 L224.0,449.1 L225.0,448.0 L226.0,448.8 L227.0,446.9 L228.0,448.6 L229.0,450.1 L230.0,451.9 L231.0,450.0 L232.0,449.3 L233.0,450.7 L234.0,450.5 L235.0,451.5 L236.0,450.6 L237.0,448.8 L238.0,449.4 L239.0,449.3 L240.0,449.5 L241.0,449.3 L242.0,447.9 L243.0,445.9 L244.0,448.1 L245.0,446.0 L246.0,449.2 L247.0,449.1 L248.0,446.6 L249.0,450.2 L250.0,450.4 L251.0,449.3 L252.0,451.7 L253.0,452.0 L254.0,447.4 L255.0,450.7 L256.0,449.9 L257.0,449.8 L258.0,450.6 L259.0,448.1 L260.0,448.3 L261.0,448.0 L262.0,448.1 L263.0,449.1 L264.0,447.1 L265.0,447.7 L266.0,450.2 L267.0,449.2 L268.0,449.9 L269.0,446.5 L270.0,448.2 L271.0,448.5 L272.0,449.4 L273.0,448.5 L274.0,450.8 L275.0,449.3 L276.0,449.4 L277.0,449.5 L278.0,450.5 L279.0,448.7 L280.0,451.1 L281.0,450.2 L282.0,449.7 L283.0,449.6 L284.0,450.3 L285.0,451.0 L286.0,451.0 L287.0,450.1 L288.0,450.9 L289.0,449.7 L290.0,451.5 L291.0,449.6 L292.0,446.5 L293.0,451.6 L294.0,449.8 L295.0,447.9 L296.0,449.4 L297.0,448.3 L298.0,452.8 L299.0,450.4 L300.0,447.3 L301.0,450.5 L302.0,449.1 L303.0,452.6 L304.0,448.2 L305.0,446.4 L306.0,449.9 L307.0,449.3 L308.0,449.2 L309.0,446.6 L310.0,450.5 L311.0,452.3 L312.0,447.0 L313.0,451.6 L314.0,449.0 L315.0,453.4 L316.0,450.6 L317.0,449.6 L318.0,451.6 L319.0,450.7 L320.0,449.1 L321.0,451.0 L322.0,449.2 L323.0,447.3 L324.0,453.0 L325.0,449.5 L326.0,449.1 L327.0,450.5 L328.0,447.7 L329.0,448.0 L330.0,449.3 L331.0,449.3 L332.0,450.2 L333.0,451.8 L334.0,449.4 L335.0,450.9 L336.0,451.1 L337.0,448.5 L338.0,450.5 L339.0,448.8 L340.0,451.8 L341.0,450.9 L342.0,450.3 L343.0,448.2 L344.0,450.4 L345.0,449.1 L346.0,451.4 L347.0,450.1 L348.0,449.1 L349.0,451.7 L350.0,451.4 L351.0,449.5 L352.0,452.1 L353.0,450.0 L354.0,450.0 L355.0,450.6 L356.0,449.3 L357.0,449.8 L358.0,450.2 L359.0,452.8 L360.0,452.8 L361.0,450.1 L362.0,453.0 L363.0,450.5 L364.0,451.1 L365.0,451.9 L366.0,451.0 L367.0,454.2 L368.0,451.0 L369.0,448.9 L370.0,452.6 L371.0,450.1 L372.0,450.2 L373.0,446.2 L374.0,452.2 L375.0,452.0 L376.0,452.0 L377.0,452.3 L378.0,453.3 L379.0,450.7 L380.0,452.2 L381.0,449.7 L382.0,450.3 L383.0,452.5 L384.0,451.5 L385.0,448.9 L386.0,451.5 L387.0,450.7 L388.0,449.7 L389.0,451.6 L390.0,450.4 L391.0,448.7 L392.0,449.4 L393.0,453.7 L394.0,448.8 L395.0,451.4 L396.0,452.0 L397.0,452.1 L398.0,449.3 L399.0,450.7 L400.0,451.4 L401.0,452.4 L402.0,450.3 L403.0,449.5 L404.0,452.8 L405.0,452.9 L406.0,451.9 L407.0,450.4 L408.0,451.9 L409.0,451.5 L410.0,452.6 L411.0,449.5 L412.0,451.5 L413.0,451.1 L414.0,449.7 L415.0,451.7 L416.0,451.5 L417.0,450.8 L418.0,452.0 L419.0,449.3 L420.0,451.4 L421.0,452.2 L422.0,451.9 L423.0,453.2 L424.0,449.8 L425.0,449.3 L426.0,452.0 L427.0,452.3 L428.0,454.8 L429.0,452.6 L430.0,450.4 L431.0,453.0 L432.0,450.5 L433.0,449.6 L434.0,455.8 L435.0,452.4 L436.0,453.0 L437.0,452.8 L438.0,454.8 L439.0,452.5 L440.0,454.0 L441.0,450.7 L442.0,450.3 L443.0,454.8 L444.0,455.4 L445.0,454.5 L446.0,455.1 L447.0,458.2 L448.0,461.2 L448.6,480.0 L448.6,724.0 L461.5,724.0 L461.5,470.0 L462.1,458.5 L463.1,455.9 L464.1,454.4 L465.1,453.4 L466.1,454.2 L467.1,453.2 L468.1,453.4 L469.1,450.4 L470.1,452.8 L471.1,455.3 L472.1,451.1 L473.1,451.7 L474.1,453.1 L475.1,453.2 L476.1,452.7 L477.1,449.3 L478.1,452.4 L479.1,449.8 L480.1,450.3 L481.1,452.4 L482.1,451.1 L483.1,452.7 L484.1,456.2 L485.1,452.6 L486.1,452.5 L487.1,450.0 L488.1,450.4 L489.1,449.7 L490.1,450.5 L491.1,449.6 L492.1,450.2 L493.1,450.9 L494.1,449.7 L495.1,449.0 L496.1,449.1 L497.1,451.8 L498.1,451.2 L499.1,452.6 L500.1,452.6 L501.1,450.5 L502.1,452.0 L503.1,448.8 L504.1,454.4 L505.1,452.8 L506.1,450.6 L507.1,449.2 L508.1,451.5 L509.1,448.1 L510.1,449.7 L511.1,452.0 L512.1,451.0 L513.1,450.1 L514.1,452.3 L515.1,449.3 L516.1,451.2 L517.1,450.0 L518.1,449.5 L519.1,451.5 L520.1,449.3 L521.1,453.6 L522.1,449.9 L523.1,453.7 L524.1,449.1 L525.1,451.6 L526.1,448.9 L527.1,448.7 L528.1,450.9 L529.1,451.7 L530.1,448.7 L531.1,452.4 L532.1,449.4 L533.1,450.8 L534.1,451.2 L535.1,451.5 L536.1,447.9 L537.1,453.0 L538.1,451.4 L539.1,449.9 L540.1,449.0 L541.1,448.0 L542.1,448.4 L543.1,451.3 L544.1,449.9 L545.1,448.7 L546.1,449.6 L547.1,452.8 L548.1,449.9 L549.1,449.5 L550.1,452.4 L551.1,451.1 L552.1,450.4 L553.1,449.4 L554.1,448.0 L555.1,448.5 L556.1,449.6 L557.1,449.9 L558.1,450.8 L559.1,451.0 L560.1,450.5 L561.1,450.5 L562.1,448.6 L563.1,446.9 L564.1,449.3 L565.1,448.7 L566.1,449.1 L567.1,449.6 L568.1,448.2 L569.1,448.4 L570.1,449.8 L571.1,450.1 L572.1,449.0 L573.1,450.7 L574.1,449.6 L575.1,448.4 L576.1,449.9 L577.1,452.7 L578.1,448.8 L579.1,451.6 L580.1,451.9 L581.1,452.0 L582.1,448.5 L583.1,452.7 L584.1,449.9 L585.1,449.3 L586.1,449.3 L587.1,450.5 L588.1,449.7 L589.1,449.3 L590.1,451.5 L591.1,448.5 L592.1,448.0 L593.1,450.7 L594.1,450.5 L595.1,451.1 L596.1,447.8 L597.1,451.0 L598.1,450.1 L599.1,452.0 L600.1,447.5 L601.1,449.7 L602.1,448.9 L603.1,446.9 L604.1,448.2 L605.1,450.9 L606.1,448.5 L607.1,448.1 L608.1,450.5 L609.1,450.6 L610.1,450.6 L611.1,447.9 L612.1,449.0 L613.1,450.6 L614.1,448.1 L615.1,447.9 L616.1,450.2 L617.1,451.3 L618.1,447.2 L619.1,445.0 L620.1,446.7 L621.1,447.4 L622.1,448.6 L623.1,449.8 L624.1,448.6 L625.1,447.7 L626.1,449.0 L627.1,447.3 L628.1,448.6 L629.1,447.7 L630.1,452.7 L631.1,449.9 L632.1,447.4 L633.1,447.1 L634.1,447.9 L635.1,446.1 L636.1,447.4 L637.1,447.4 L638.1,449.8 L639.1,447.8 L640.1,447.2 L641.1,446.4 L642.1,446.6 L643.1,448.3 L644.1,448.0 L645.1,450.0 L646.1,447.3 L647.1,449.9 L648.1,448.6 L649.1,448.2 L650.1,445.2 L651.1,446.2 L652.1,449.3 L653.1,450.2 L654.1,448.4 L655.1,449.2 L656.1,447.4 L657.1,447.5 L658.1,447.0 L659.1,449.4 L660.1,448.5 L661.1,447.6 L662.1,447.4 L663.1,448.7 L664.1,448.3 L665.1,446.6 L666.1,450.4 L667.1,448.2 L668.1,447.8 L669.1,450.0 L670.1,449.2 L671.1,447.6 L672.1,448.5 L673.1,446.0 L674.1,446.7 L675.1,444.2 L676.1,449.4 L677.1,444.7 L678.1,448.5 L679.1,446.2 L680.1,446.0 L681.1,447.1 L682.1,447.8 L683.1,448.3 L684.1,450.0 L685.1,447.9 L686.1,448.6 L687.1,446.4 L688.1,448.3 L689.1,447.5 L690.1,446.5 L691.1,447.0 L692.1,447.1 L693.1,447.4 L694.1,447.7 L695.1,446.3 L696.1,446.0 L697.1,448.2 L698.1,444.5 L699.1,446.1 L700.1,449.3 L701.1,442.9 L702.1,445.9 L703.1,447.9 L704.1,444.4 L705.1,450.7 L706.1,442.9 L707.1,448.9 L708.1,449.1 L709.1,448.1 L710.1,446.4 L711.1,447.2 L712.1,445.3 L713.1,447.8 L714.1,444.9 L715.1,446.2 L716.1,448.0 L717.1,444.8 L718.1,445.9 L719.1,446.7 L720.1,444.4 L721.1,448.2 L722.1,446.9 L723.1,444.1 L724.1,446.3 L725.1,445.1 L726.1,445.3 L727.1,446.4 L728.1,445.2 L729.1,447.6 L730.1,445.1 L731.1,447.6 L732.1,446.1 L733.1,447.4 L734.1,445.3 L735.1,445.3 L736.1,444.3 L737.1,446.9 L738.1,447.4 L739.1,449.1 L740.1,447.8 L741.1,446.2 L742.1,445.5 L743.1,446.4 L744.1,445.8 L745.1,448.0 L746.1,447.2 L747.1,444.5" fill="none" stroke="#00ff00" stroke-width="4.6" stroke-linejoin="round" stroke-linecap="butt" />
<path d="M145.0,452.5 L146.0,455.8 L147.0,454.1 L148.0,453.2 L149.0,455.5 L150.0,453.0 L151.0,453.2 L152.0,452.9 L153.0,450.5 L154.0,455.0 L155.0,451.7 L156.0,452.8 L157.0,452.5 L158.0,454.9 L159.0,453.6 L160.0,453.7 L161.0,451.0 L162.0,453.6 L163.0,451.4 L164.0,454.2 L165.0,454.3 L166.0,453.7 L167.0,457.0 L168.0,454.6 L169.0,454.7 L170.0,454.0 L171.0,453.5 L172.0,455.3 L173.0,455.6 L174.0,451.7 L175.0,455.5 L176.0,454.6 L177.0,455.4 L178.0,454.6 L179.0,451.9 L180.0,452.0 L181.0,456.8 L182.0,454.3 L183.0,451.6 L184.0,454.4 L185.0,453.3 L186.0,451.0 L187.0,450.3 L188.0,451.4 L189.0,454.4 L190.0,453.9 L191.0,453.6 L192.0,454.4 L193.0,454.9 L194.0,450.6 L195.0,453.5 L196.0,452.7 L197.0,452.0 L198.0,453.1 L199.0,453.8 L200.0,453.6 L201.0,451.7 L202.0,453.3 L203.0,457.3 L204.0,452.4 L205.0,451.4 L206.0,454.5 L207.0,455.0 L208.0,454.8 L209.0,452.3 L210.0,455.7 L211.0,452.9 L212.0,452.3 L213.0,453.2 L214.0,454.0 L215.0,455.3 L216.0,455.2 L217.0,454.2 L218.0,455.7 L219.0,454.3 L220.0,455.7 L221.0,452.0 L222.0,451.7 L223.0,455.5 L224.0,452.0 L225.0,453.8 L226.0,454.1 L227.0,453.5 L228.0,453.6 L229.0,456.5 L230.0,450.3 L231.0,455.7 L232.0,458.0 L233.0,454.4 L234.0,454.3 L235.0,455.5 L236.0,457.3 L237.0,452.5 L238.0,454.5 L239.0,454.1 L240.0,455.3 L241.0,454.7 L242.0,455.5 L243.0,453.8 L244.0,454.5 L245.0,453.4 L246.0,453.4 L247.0,454.3 L248.0,454.3 L249.0,452.6 L250.0,457.0 L251.0,454.3 L252.0,452.3 L253.0,456.3 L254.0,453.4 L255.0,455.4 L256.0,454.6 L257.0,455.0 L258.0,454.9 L259.0,453.7 L260.0,454.7 L261.0,457.9 L262.0,451.1 L263.0,454.8 L264.0,455.4 L265.0,453.0 L266.0,452.5 L267.0,458.2 L268.0,454.1 L269.0,458.1 L270.0,455.6 L271.0,454.9 L272.0,455.5 L273.0,455.8 L274.0,456.7 L275.0,455.5 L276.0,455.0 L277.0,455.1 L278.0,457.0 L279.0,456.2 L280.0,453.3 L281.0,453.9 L282.0,455.4 L283.0,453.9 L284.0,454.3 L285.0,453.4 L286.0,454.5 L287.0,455.6 L288.0,456.6 L289.0,455.0 L290.0,458.3 L291.0,454.9 L292.0,460.1 L293.0,456.6 L294.0,455.8 L295.0,454.2 L296.0,450.5 L297.0,454.8 L298.0,455.4 L299.0,458.2 L300.0,452.9 L301.0,458.2 L302.0,454.7 L303.0,456.3 L304.0,451.1 L305.0,455.4 L306.0,454.6 L307.0,456.3 L308.0,455.3 L309.0,453.4 L310.0,456.7 L311.0,456.3 L312.0,456.2 L313.0,456.9 L314.0,457.0 L315.0,455.2 L316.0,453.1 L317.0,453.1 L318.0,457.5 L319.0,456.5 L320.0,455.5 L321.0,454.7 L322.0,455.4 L323.0,455.4 L324.0,454.9 L325.0,454.3 L326.0,458.9 L327.0,455.8 L328.0,454.5 L329.0,453.4 L330.0,454.3 L331.0,456.6 L332.0,456.7 L333.0,455.2 L334.0,455.6 L335.0,455.0 L336.0,453.8 L337.0,457.6 L338.0,456.2 L339.0,459.5 L340.0,454.4 L341.0,455.4 L342.0,457.0 L343.0,455.2 L344.0,453.4 L345.0,454.1 L346.0,455.8 L347.0,456.2 L348.0,455.6 L349.0,457.3 L350.0,457.3 L351.0,456.3 L352.0,455.8 L353.0,455.4 L354.0,456.7 L355.0,457.3 L356.0,455.9 L357.0,456.6 L358.0,455.3 L359.0,453.6 L360.0,454.3 L361.0,457.1 L362.0,456.6 L363.0,458.5 L364.0,456.0 L365.0,457.3 L366.0,458.1 L367.0,457.6 L368.0,455.0 L369.0,455.7 L370.0,456.3 L371.0,454.5 L372.0,456.8 L373.0,457.7 L374.0,455.3 L375.0,459.3 L376.0,455.7 L377.0,455.8 L378.0,455.8 L379.0,455.1 L380.0,456.9 L381.0,456.3 L382.0,458.9 L383.0,457.2 L384.0,457.1 L385.0,456.0 L386.0,454.1 L387.0,456.2 L388.0,455.0 L389.0,457.9 L390.0,456.4 L391.0,459.1 L392.0,457.6 L393.0,457.8 L394.0,456.8 L395.0,456.8 L396.0,457.6 L397.0,458.0 L398.0,455.4 L399.0,457.4 L400.0,460.8 L401.0,456.5 L402.0,456.2 L403.0,455.5 L404.0,454.4 L405.0,458.6 L406.0,456.8 L407.0,457.2 L408.0,459.7 L409.0,460.8 L410.0,455.3 L411.0,458.5 L412.0,457.8 L413.0,457.5 L414.0,457.6 L415.0,456.8 L416.0,459.4 L417.0,457.9 L418.0,457.5 L419.0,458.9 L420.0,458.4 L421.0,457.7 L422.0,457.5 L423.0,459.9 L424.0,457.9 L425.0,457.0 L426.0,455.8 L427.0,456.7 L428.0,455.6 L429.0,457.5 L430.0,457.8 L431.0,454.1 L432.0,457.5 L433.0,458.6 L434.0,457.9 L435.0,456.2 L436.0,460.0 L437.0,457.2 L438.0,456.8 L439.0,457.7 L440.0,461.2 L441.0,466.6 L442.2,480.0 L442.2,729.0 L467.8,729.0 L467.8,470.0 L468.4,463.5 L469.4,460.6 L470.4,457.2 L471.4,457.2 L472.4,456.6 L473.4,457.5 L474.4,454.8 L475.4,457.7 L476.4,458.5 L477.4,457.1 L478.4,458.0 L479.4,455.7 L480.4,454.9 L481.4,456.1 L482.4,459.0 L483.4,458.7 L484.4,456.3 L485.4,458.9 L486.4,456.5 L487.4,459.4 L488.4,457.7 L489.4,456.1 L490.4,458.1 L491.4,455.6 L492.4,455.3 L493.4,454.4 L494.4,457.1 L495.4,456.6 L496.4,456.5 L497.4,456.0 L498.4,458.9 L499.4,455.9 L500.4,455.4 L501.4,458.5 L502.4,458.8 L503.4,457.0 L504.4,453.7 L505.4,455.5 L506.4,457.4 L507.4,456.4 L508.4,458.9 L509.4,454.2 L510.4,457.4 L511.4,455.3 L512.4,458.4 L513.4,456.2 L514.4,457.9 L515.4,455.2 L516.4,454.0 L517.4,454.5 L518.4,455.3 L519.4,454.6 L520.4,458.1 L521.4,458.3 L522.4,456.6 L523.4,454.5 L524.4,455.9 L525.4,455.0 L526.4,458.4 L527.4,456.6 L528.4,456.9 L529.4,455.4 L530.4,452.8 L531.4,454.8 L532.4,454.2 L533.4,456.6 L534.4,456.2 L535.4,454.7 L536.4,455.4 L537.4,458.5 L538.4,454.4 L539.4,454.5 L540.4,455.6 L541.4,454.8 L542.4,455.2 L543.4,456.7 L544.4,458.6 L545.4,453.0 L546.4,455.8 L547.4,455.9 L548.4,455.7 L549.4,455.5 L550.4,455.2 L551.4,457.4 L552.4,455.0 L553.4,455.5 L554.4,455.7 L555.4,455.9 L556.4,455.4 L557.4,457.3 L558.4,455.6 L559.4,455.9 L560.4,455.5 L561.4,454.0 L562.4,454.2 L563.4,453.8 L564.4,455.8 L565.4,454.3 L566.4,453.8 L567.4,455.8 L568.4,456.3 L569.4,452.6 L570.4,458.1 L571.4,455.4 L572.4,455.2 L573.4,457.0 L574.4,455.4 L575.4,454.3 L576.4,458.8 L577.4,453.5 L578.4,455.1 L579.4,456.5 L580.4,453.5 L581.4,455.0 L582.4,455.7 L583.4,458.9 L584.4,453.7 L585.4,455.0 L586.4,456.1 L587.4,455.2 L588.4,453.1 L589.4,455.6 L590.4,455.1 L591.4,455.6 L592.4,456.7 L593.4,456.5 L594.4,455.5 L595.4,455.3 L596.4,453.1 L597.4,454.6 L598.4,455.1 L599.4,454.1 L600.4,454.9 L601.4,453.4 L602.4,457.1 L603.4,458.1 L604.4,454.0 L605.4,455.3 L606.4,454.2 L607.4,456.6 L608.4,455.3 L609.4,454.7 L610.4,454.2 L611.4,454.7 L612.4,452.9 L613.4,455.5 L614.4,453.3 L615.4,455.3 L616.4,454.6 L617.4,456.1 L618.4,454.3 L619.4,455.9 L620.4,452.8 L621.4,455.2 L622.4,453.9 L623.4,454.5 L624.4,454.3 L625.4,455.7 L626.4,450.9 L627.4,454.6 L628.4,451.7 L629.4,456.0 L630.4,450.9 L631.4,452.4 L632.4,451.3 L633.4,456.6 L634.4,451.9 L635.4,454.1 L636.4,453.1 L637.4,451.0 L638.4,453.3 L639.4,454.9 L640.4,453.5 L641.4,455.3 L642.4,453.2 L643.4,453.8 L644.4,453.1 L645.4,454.3 L646.4,456.7 L647.4,454.2 L648.4,453.9 L649.4,452.6 L650.4,452.4 L651.4,455.9 L652.4,451.8 L653.4,452.1 L654.4,453.3 L655.4,452.8 L656.4,456.6 L657.4,449.6 L658.4,454.0 L659.4,454.5 L660.4,451.6 L661.4,452.3 L662.4,454.0 L663.4,455.9 L664.4,451.8 L665.4,450.7 L666.4,454.8 L667.4,455.6 L668.4,452.6 L669.4,449.6 L670.4,455.4 L671.4,452.8 L672.4,454.9 L673.4,453.0 L674.4,452.4 L675.4,452.3 L676.4,455.3 L677.4,455.2 L678.4,449.5 L679.4,451.4 L680.4,455.7 L681.4,452.2 L682.4,450.6 L683.4,452.8 L684.4,452.6 L685.4,452.6 L686.4,451.9 L687.4,452.2 L688.4,451.9 L689.4,453.2 L690.4,451.3 L691.4,452.1 L692.4,452.3 L693.4,454.6 L694.4,453.1 L695.4,452.3 L696.4,453.3 L697.4,453.1 L698.4,454.1 L699.4,453.2 L700.4,455.2 L701.4,454.5 L702.4,452.2 L703.4,451.6 L704.4,453.7 L705.4,453.0 L706.4,452.0 L707.4,449.8 L708.4,449.2 L709.4,452.7 L710.4,453.3 L711.4,453.4 L712.4,450.0 L713.4,453.7 L714.4,451.1 L715.4,452.6 L716.4,452.6 L717.4,450.6 L718.4,450.9 L719.4,448.5 L720.4,450.4 L721.4,448.9 L722.4,452.5 L723.4,451.8 L724.4,453.2 L725.4,452.3 L726.4,450.7 L727.4,452.2 L728.4,451.0 L729.4,452.6 L730.4,452.1 L731.4,450.0 L732.4,451.5 L733.4,451.6 L734.4,451.0 L735.4,452.9 L736.4,454.1 L737.4,450.8 L738.4,450.8 L739.4,447.7 L740.4,451.1 L741.4,450.6 L742.4,447.8 L743.4,451.7 L744.4,452.1 L745.4,450.0 L746.4,450.5 L747.4,449.6" fill="none" stroke="#0000ff" stroke-width="4.6" stroke-linejoin="round" stroke-linecap="butt" />
<path d="M145.0,451.4 L146.0,448.9 L147.0,450.3 L148.0,452.8 L149.0,450.7 L150.0,451.1 L151.0,450.5 L152.0,449.4 L153.0,450.6 L154.0,451.1 L155.0,449.5 L156.0,451.0 L157.0,452.1 L158.0,451.9 L159.0,449.0 L160.0,449.6 L161.0,448.9 L162.0,451.9 L163.0,451.4 L164.0,451.5 L165.0,449.8 L166.0,449.5 L167.0,450.8 L168.0,450.9 L169.0,449.8 L170.0,450.9 L171.0,451.5 L172.0,451.0 L173.0,449.7 L174.0,448.5 L175.0,450.5 L176.0,451.0 L177.0,450.5 L178.0,450.4 L179.0,450.1 L180.0,451.6 L181.0,450.8 L182.0,451.0 L183.0,449.8 L184.0,450.2 L185.0,451.1 L186.0,449.8 L187.0,449.5 L188.0,450.6 L189.0,452.3 L190.0,451.2 L191.0,452.6 L192.0,450.8 L193.0,450.6 L194.0,449.4 L195.0,450.4 L196.0,452.6 L197.0,451.4 L198.0,451.8 L199.0,451.8 L200.0,451.0 L201.0,450.8 L202.0,451.2 L203.0,451.8 L204.0,451.6 L205.0,451.6 L206.0,451.3 L207.0,450.2 L208.0,450.8 L209.0,450.1 L210.0,452.2 L211.0,448.8 L212.0,450.9 L213.0,453.8 L214.0,450.8 L215.0,449.9 L216.0,451.2 L217.0,452.6 L218.0,451.0 L219.0,451.9 L220.0,451.3 L221.0,450.8 L222.0,454.7 L223.0,451.3 L224.0,450.7 L225.0,450.7 L226.0,451.7 L227.0,451.7 L228.0,452.1 L229.0,451.5 L230.0,449.7 L231.0,451.9 L232.0,451.0 L233.0,451.0 L234.0,449.7 L235.0,450.7 L236.0,450.6 L237.0,451.4 L238.0,449.8 L239.0,451.5 L240.0,451.6 L241.0,450.2 L242.0,450.8 L243.0,450.5 L244.0,452.5 L245.0,448.7 L246.0,451.1 L247.0,449.7 L248.0,451.0 L249.0,452.4 L250.0,450.8 L251.0,451.7 L252.0,450.6 L253.0,453.7 L254.0,452.6 L255.0,452.8 L256.0,450.1 L257.0,450.4 L258.0,452.8 L259.0,451.4 L260.0,451.4 L261.0,452.0 L262.0,450.3 L263.0,452.5 L264.0,451.7 L265.0,452.2 L266.0,451.0 L267.0,452.3 L268.0,451.0 L269.0,452.8 L270.0,453.0 L271.0,452.8 L272.0,452.3 L273.0,452.5 L274.0,448.8 L275.0,452.7 L276.0,451.5 L277.0,451.9 L278.0,451.5 L279.0,450.3 L280.0,451.3 L281.0,452.6 L282.0,453.4 L283.0,451.2 L284.0,450.9 L285.0,453.5 L286.0,451.0 L287.0,454.2 L288.0,452.0 L289.0,451.0 L290.0,453.1 L291.0,453.9 L292.0,450.4 L293.0,453.7 L294.0,451.7 L295.0,453.7 L296.0,451.6 L297.0,450.3 L298.0,452.6 L299.0,453.1 L300.0,454.4 L301.0,454.0 L302.0,452.9 L303.0,451.9 L304.0,451.6 L305.0,451.8 L306.0,451.3 L307.0,451.9 L308.0,449.4 L309.0,452.4 L310.0,452.2 L311.0,455.1 L312.0,453.1 L313.0,451.7 L314.0,452.9 L315.0,450.9 L316.0,451.6 L317.0,450.3 L318.0,453.9 L319.0,453.0 L320.0,451.1 L321.0,452.3 L322.0,453.4 L323.0,452.9 L324.0,452.8 L325.0,451.5 L326.0,451.7 L327.0,452.5 L328.0,453.5 L329.0,451.5 L330.0,451.2 L331.0,453.7 L332.0,451.5 L333.0,453.7 L334.0,452.8 L335.0,453.5 L336.0,454.5 L337.0,453.3 L338.0,453.4 L339.0,451.6 L340.0,451.8 L341.0,453.3 L342.0,454.3 L343.0,454.2 L344.0,455.2 L345.0,453.0 L346.0,452.9 L347.0,453.8 L348.0,452.7 L349.0,452.7 L350.0,451.6 L351.0,453.9 L352.0,451.6 L353.0,453.4 L354.0,451.2 L355.0,454.0 L356.0,451.7 L357.0,453.8 L358.0,451.1 L359.0,452.4 L360.0,454.2 L361.0,452.0 L362.0,453.0 L363.0,452.4 L364.0,450.4 L365.0,453.3 L366.0,453.5 L367.0,451.8 L368.0,453.7 L369.0,452.2 L370.0,452.0 L371.0,453.1 L372.0,452.3 L373.0,455.6 L374.0,451.4 L375.0,454.0 L376.0,454.2 L377.0,451.0 L378.0,451.3 L379.0,453.8 L380.0,452.7 L381.0,453.7 L382.0,454.5 L383.0,452.9 L384.0,452.1 L385.0,450.3 L386.0,453.6 L387.0,452.3 L388.0,453.7 L389.0,453.6 L390.0,451.9 L391.0,455.3 L392.0,454.6 L393.0,454.4 L394.0,452.2 L395.0,453.1 L396.0,452.9 L397.0,453.1 L398.0,452.3 L399.0,454.1 L400.0,453.9 L401.0,454.0 L402.0,453.1 L403.0,455.1 L404.0,453.9 L405.0,450.7 L406.0,453.0 L407.0,453.7 L408.0,454.8 L409.0,453.4 L410.0,453.5 L411.0,453.0 L412.0,454.5 L413.0,453.3 L414.0,453.1 L415.0,453.0 L416.0,454.5 L417.0,453.3 L418.0,452.0 L419.0,454.6 L420.0,453.1 L421.0,454.3 L422.0,454.4 L423.0,455.3 L424.0,455.1 L425.0,453.4 L426.0,453.9 L427.0,452.7 L428.0,456.0 L429.0,454.6 L430.0,455.7 L431.0,453.9 L432.0,452.0 L433.0,456.0 L434.0,454.5 L435.0,454.6 L436.0,454.5 L437.0,455.2 L438.0,455.2 L439.0,452.9 L440.0,456.1 L441.0,454.6 L442.0,455.2 L443.0,458.2 L444.0,458.6 L445.0,460.8 L446.4,480.0 L446.4,727.5 L458.6,727.5 L459.6,744.0 L461.4,744.0 L461.6,727.0 L462.8,727.0 L462.8,470.0 L463.4,456.6 L464.4,457.5 L465.4,456.7 L466.4,455.2 L467.4,453.6 L468.4,454.0 L469.4,453.3 L470.4,454.8 L471.4,455.4 L472.4,455.5 L473.4,453.5 L474.4,454.5 L475.4,454.8 L476.4,453.6 L477.4,454.0 L478.4,456.4 L479.4,454.3 L480.4,455.0 L481.4,453.5 L482.4,454.0 L483.4,452.0 L484.4,453.9 L485.4,455.2 L486.4,456.1 L487.4,455.1 L488.4,454.5 L489.4,453.8 L490.4,453.0 L491.4,453.5 L492.4,454.3 L493.4,452.8 L494.4,454.6 L495.4,452.5 L496.4,451.6 L497.4,452.4 L498.4,451.7 L499.4,452.0 L500.4,454.7 L501.4,453.2 L502.4,453.7 L503.4,454.7 L504.4,454.8 L505.4,452.8 L506.4,454.8 L507.4,453.8 L508.4,453.3 L509.4,453.8 L510.4,451.7 L511.4,452.4 L512.4,453.2 L513.4,453.9 L514.4,452.8 L515.4,453.1 L516.4,454.3 L517.4,454.8 L518.4,454.0 L519.4,454.6 L520.4,452.7 L521.4,452.8 L522.4,453.5 L523.4,452.8 L524.4,452.6 L525.4,454.9 L526.4,452.9 L527.4,452.0 L528.4,453.6 L529.4,455.1 L530.4,453.1 L531.4,454.4 L532.4,452.5 L533.4,452.5 L534.4,452.2 L535.4,452.8 L536.4,455.0 L537.4,451.7 L538.4,454.7 L539.4,451.8 L540.4,452.7 L541.4,453.8 L542.4,453.6 L543.4,453.2 L544.4,451.0 L545.4,453.2 L546.4,451.7 L547.4,455.6 L548.4,452.6 L549.4,453.0 L550.4,451.5 L551.4,452.2 L552.4,451.3 L553.4,453.8 L554.4,452.4 L555.4,453.3 L556.4,451.9 L557.4,452.1 L558.4,454.0 L559.4,451.5 L560.4,450.6 L561.4,453.0 L562.4,451.3 L563.4,452.0 L564.4,453.5 L565.4,451.6 L566.4,453.4 L567.4,451.7 L568.4,454.1 L569.4,453.9 L570.4,451.9 L571.4,452.1 L572.4,451.4 L573.4,452.5 L574.4,453.6 L575.4,450.7 L576.4,453.3 L577.4,450.8 L578.4,451.3 L579.4,450.2 L580.4,454.5 L581.4,452.2 L582.4,452.4 L583.4,451.4 L584.4,453.3 L585.4,449.8 L586.4,452.1 L587.4,454.5 L588.4,451.6 L589.4,452.0 L590.4,452.7 L591.4,451.1 L592.4,451.9 L593.4,453.0 L594.4,452.1 L595.4,452.3 L596.4,451.4 L597.4,452.2 L598.4,451.9 L599.4,453.4 L600.4,452.5 L601.4,451.5 L602.4,449.0 L603.4,452.5 L604.4,452.5 L605.4,450.6 L606.4,449.4 L607.4,450.3 L608.4,452.6 L609.4,450.4 L610.4,451.0 L611.4,451.7 L612.4,452.8 L613.4,451.4 L614.4,451.3 L615.4,450.8 L616.4,453.2 L617.4,452.5 L618.4,451.2 L619.4,449.8 L620.4,450.4 L621.4,451.9 L622.4,450.5 L623.4,452.2 L624.4,451.6 L625.4,451.5 L626.4,451.9 L627.4,451.7 L628.4,450.2 L629.4,450.7 L630.4,453.6 L631.4,449.7 L632.4,450.5 L633.4,452.2 L634.4,450.8 L635.4,450.1 L636.4,449.5 L637.4,451.5 L638.4,452.0 L639.4,452.4 L640.4,450.9 L641.4,452.0 L642.4,449.6 L643.4,450.9 L644.4,450.0 L645.4,450.9 L646.4,451.5 L647.4,451.8 L648.4,449.5 L649.4,452.0 L650.4,450.1 L651.4,449.4 L652.4,450.4 L653.4,448.9 L654.4,450.5 L655.4,450.8 L656.4,450.2 L657.4,451.0 L658.4,450.1 L659.4,450.4 L660.4,448.8 L661.4,450.4 L662.4,449.4 L663.4,449.8 L664.4,450.2 L665.4,450.4 L666.4,448.4 L667.4,448.5 L668.4,449.8 L669.4,450.7 L670.4,450.5 L671.4,451.1 L672.4,451.5 L673.4,450.6 L674.4,450.0 L675.4,448.8 L676.4,448.9 L677.4,449.4 L678.4,450.2 L679.4,450.1 L680.4,449.9 L681.4,449.7 L682.4,450.5 L683.4,450.0 L684.4,450.1 L685.4,450.1 L686.4,449.1 L687.4,448.5 L688.4,450.2 L689.4,450.1 L690.4,449.4 L691.4,449.1 L692.4,452.1 L693.4,448.7 L694.4,449.3 L695.4,449.8 L696.4,448.2 L697.4,449.6 L698.4,451.4 L699.4,450.4 L700.4,450.0 L701.4,450.0 L702.4,449.4 L703.4,450.3 L704.4,449.1 L705.4,448.8 L706.4,449.3 L707.4,450.2 L708.4,449.5 L709.4,449.9 L710.4,446.9 L711.4,450.4 L712.4,451.6 L713.4,450.5 L714.4,448.6 L715.4,448.0 L716.4,449.2 L717.4,447.8 L718.4,449.7 L719.4,448.3 L720.4,449.9 L721.4,450.3 L722.4,446.5 L723.4,449.1 L724.4,448.0 L725.4,447.1 L726.4,448.0 L727.4,448.4 L728.4,449.8 L729.4,446.9 L730.4,449.7 L731.4,450.8 L732.4,449.2 L733.4,449.1 L734.4,448.4 L735.4,447.1 L736.4,449.0 L737.4,448.8 L738.4,449.2 L739.4,451.1 L740.4,449.1 L741.4,448.7 L742.4,450.0 L743.4,446.7 L744.4,446.9 L745.4,447.7 L746.4,447.4 L747.4,448.9" fill="none" stroke="#ff8000" stroke-width="5.8" stroke-linejoin="round" stroke-linecap="butt" />
</g>
<rect x="145.2" y="404.4" width="601.9" height="338.1" fill="none" stroke="#000" stroke-width="3.4"/>
<path d="M998.3,404.4v10.0M998.3,740.5v-10.0M1058.7,404.4v5.2M1058.7,740.5v-5.2M1119.1,404.4v10.0M1119.1,740.5v-10.0M1179.5,404.4v5.2M1179.5,740.5v-5.2M1239.8,404.4v10.0M1239.8,740.5v-10.0M1300.2,404.4v5.2M1300.2,740.5v-5.2M1360.6,404.4v10.0M1360.6,740.5v-10.0M1421.0,404.4v5.2M1421.0,740.5v-5.2M1481.4,404.4v10.0M1481.4,740.5v-10.0M937.9,460.4h5.2M1541.8,460.4h-5.2M937.9,516.4h10.0M1541.8,516.4h-10.0M937.9,572.5h5.2M1541.8,572.5h-5.2M937.9,628.5h10.0M1541.8,628.5h-10.0M937.9,684.5h5.2M1541.8,684.5h-5.2" stroke="#000" stroke-width="3.0" fill="none"/>
<g clip-path="url(#cpd)">
<path d="M937.0,690.5 L938.0,692.4 L939.0,692.2 L940.0,691.5 L941.0,690.5 L942.0,691.4 L943.0,691.5 L944.0,689.8 L945.0,691.1 L946.0,691.4 L947.0,691.0 L948.0,692.2 L949.0,691.9 L950.0,690.1 L951.0,690.9 L952.0,690.0 L953.0,691.3 L954.0,690.0 L955.0,691.6 L956.0,691.1 L957.0,691.7 L958.0,690.7 L959.0,689.5 L960.0,692.4 L961.0,690.6 L962.0,692.0 L963.0,691.2 L964.0,691.4 L965.0,692.4 L966.0,691.1 L967.0,692.0 L968.0,689.4 L969.0,691.5 L970.0,690.5 L971.0,690.6 L972.0,690.8 L973.0,691.1 L974.0,692.2 L975.0,689.1 L976.0,690.8 L977.0,690.1 L978.0,691.8 L979.0,690.4 L980.0,691.1 L981.0,690.4 L982.0,691.3 L983.0,691.6 L984.0,690.4 L985.0,690.8 L986.0,689.4 L987.0,691.0 L988.0,691.5 L989.0,690.2 L990.0,691.7 L991.0,688.8 L992.0,689.0 L993.0,689.4 L994.0,690.3 L995.0,690.7 L996.0,690.6 L997.0,690.6 L998.0,691.3 L999.0,690.2 L1000.0,689.5 L1001.0,689.5 L1002.0,692.6 L1003.0,688.5 L1004.0,690.5 L1005.0,692.0 L1006.0,691.1 L1007.0,689.9 L1008.0,690.6 L1009.0,691.4 L1010.0,691.7 L1011.0,689.8 L1012.0,691.3 L1013.0,690.8 L1014.0,691.6 L1015.0,691.9 L1016.0,690.3 L1017.0,689.3 L1018.0,690.9 L1019.0,692.2 L1020.0,691.2 L1021.0,690.8 L1022.0,692.7 L1023.0,689.6 L1024.0,691.4 L1025.0,690.0 L1026.0,690.6 L1027.0,690.6 L1028.0,691.9 L1029.0,689.7 L1030.0,690.0 L1031.0,689.1 L1032.0,691.0 L1033.0,690.1 L1034.0,690.9 L1035.0,689.5 L1036.0,690.2 L1037.0,691.4 L1038.0,690.3 L1039.0,691.0 L1040.0,690.9 L1041.0,690.1 L1042.0,689.0 L1043.0,691.3 L1044.0,690.6 L1045.0,691.3 L1046.0,688.6 L1047.0,688.9 L1048.0,688.5 L1049.0,689.6 L1050.0,691.3 L1051.0,690.9 L1052.0,690.4 L1053.0,690.5 L1054.0,691.1 L1055.0,690.1 L1056.0,690.7 L1057.0,690.5 L1058.0,688.4 L1059.0,690.0 L1060.0,691.6 L1061.0,690.0 L1062.0,690.2 L1063.0,689.8 L1064.0,689.9 L1065.0,691.3 L1066.0,690.0 L1067.0,689.4 L1068.0,687.5 L1069.0,689.7 L1070.0,688.5 L1071.0,688.6 L1072.0,691.0 L1073.0,690.9 L1074.0,688.5 L1075.0,691.0 L1076.0,690.6 L1077.0,689.5 L1078.0,690.9 L1079.0,688.7 L1080.0,689.1 L1081.0,688.9 L1082.0,689.2 L1083.0,690.9 L1084.0,688.9 L1085.0,689.1 L1086.0,689.3 L1087.0,690.3 L1088.0,689.8 L1089.0,690.9 L1090.0,689.4 L1091.0,688.9 L1092.0,689.6 L1093.0,690.1 L1094.0,689.2 L1095.0,690.3 L1096.0,691.7 L1097.0,689.5 L1098.0,690.1 L1099.0,691.2 L1100.0,689.4 L1101.0,689.2 L1102.0,689.0 L1103.0,690.3 L1104.0,690.4 L1105.0,689.8 L1106.0,690.0 L1107.0,691.1 L1108.0,690.7 L1109.0,688.6 L1110.0,689.9 L1111.0,689.9 L1112.0,690.5 L1113.0,689.6 L1114.0,689.2 L1115.0,689.4 L1116.0,688.2 L1117.0,689.7 L1118.0,689.2 L1119.0,690.1 L1120.0,688.8 L1121.0,689.3 L1122.0,688.8 L1123.0,688.7 L1124.0,690.2 L1125.0,689.2 L1126.0,689.9 L1127.0,688.5 L1128.0,689.6 L1129.0,688.0 L1130.0,689.0 L1131.0,689.0 L1132.0,689.9 L1133.0,689.5 L1134.0,689.2 L1135.0,690.1 L1136.0,689.5 L1137.0,689.7 L1138.0,689.9 L1139.0,689.1 L1140.0,688.9 L1141.0,689.4 L1142.0,688.7 L1143.0,689.4 L1144.0,690.0 L1145.0,689.8 L1146.0,688.6 L1147.0,687.8 L1148.0,688.9 L1149.0,688.8 L1150.0,689.8 L1151.0,688.5 L1152.0,688.6 L1153.0,689.4 L1154.0,688.3 L1155.0,688.5 L1156.0,690.2 L1157.0,689.9 L1158.0,689.1 L1159.0,688.7 L1160.0,687.6 L1161.0,688.9 L1162.0,688.4 L1163.0,688.5 L1164.0,687.8 L1165.0,688.2 L1166.0,688.0 L1167.0,688.4 L1168.0,689.3 L1169.0,688.3 L1170.0,686.4 L1171.0,687.0 L1172.0,686.4 L1173.0,687.0 L1174.0,688.2 L1175.0,687.9 L1176.0,687.0 L1177.0,687.7 L1178.0,686.7 L1179.0,686.0 L1180.0,685.9 L1181.0,686.3 L1182.0,688.3 L1183.0,685.7 L1184.0,687.9 L1185.0,687.9 L1186.0,686.4 L1187.0,686.5 L1188.0,685.8 L1189.0,686.3 L1190.0,686.8 L1191.0,686.1 L1192.0,686.8 L1193.0,686.9 L1194.0,686.0 L1195.0,685.9 L1196.0,685.4 L1197.0,685.7 L1198.0,684.2 L1199.0,685.4 L1200.0,685.1 L1201.0,684.0 L1202.0,686.6 L1203.0,683.7 L1204.0,683.6 L1205.0,684.5 L1206.0,682.3 L1207.0,683.1 L1208.0,682.3 L1209.0,682.6 L1210.0,683.1 L1211.0,683.3 L1212.0,683.8 L1213.0,683.3 L1214.0,683.3 L1215.0,682.5 L1216.0,681.3 L1217.0,682.4 L1218.0,680.7 L1219.0,680.2 L1220.0,681.8 L1221.0,680.8 L1222.0,679.8 L1223.0,679.8 L1224.0,679.4 L1225.0,676.8 L1226.0,677.3 L1227.0,675.6 L1228.0,676.1 L1229.0,674.6 L1230.0,675.7 L1231.0,674.1 L1232.0,672.1 L1233.0,671.8 L1234.0,669.7 L1235.0,669.7 L1236.0,668.9 L1237.0,667.2 L1238.0,663.6 L1239.0,663.1 L1239.5,380.0" fill="none" stroke="#000" stroke-width="3.6" stroke-linejoin="round" stroke-linecap="butt" />
<path d="M1250.3,380.0 L1250.3,689.0 L1251.5,672.5 L1251.8,670.9 L1252.8,670.1 L1253.8,670.5 L1254.8,667.9 L1255.8,669.3 L1256.8,668.1 L1257.8,668.7 L1258.8,668.8 L1259.8,669.1 L1260.8,667.9 L1261.8,669.0 L1262.8,668.9 L1263.8,672.4 L1264.8,677.7 L1265.8,678.1 L1266.8,677.4 L1267.8,678.7 L1268.8,680.0 L1269.8,681.8 L1270.8,681.7 L1271.8,681.7 L1272.8,679.7 L1273.8,681.5 L1274.8,682.2 L1275.8,682.4 L1276.8,682.8 L1277.8,682.5 L1278.8,684.6 L1279.8,684.7 L1280.8,683.6 L1281.8,683.1 L1282.8,686.2 L1283.8,684.1 L1284.8,686.0 L1285.8,686.9 L1286.8,684.6 L1287.8,685.9 L1288.8,685.6 L1289.8,686.6 L1290.8,686.6 L1291.8,688.2 L1292.8,687.1 L1293.8,686.7 L1294.8,687.8 L1295.8,686.7 L1296.8,686.7 L1297.8,689.2 L1298.8,686.5 L1299.8,687.0 L1300.8,687.5 L1301.8,686.7 L1302.8,685.8 L1303.8,688.8 L1304.8,687.2 L1305.8,687.5 L1306.8,687.8 L1307.8,687.3 L1308.8,687.3 L1309.8,688.5 L1310.8,690.6 L1311.8,689.2 L1312.8,689.3 L1313.8,687.3 L1314.8,688.7 L1315.8,687.7 L1316.8,689.6 L1317.8,688.7 L1318.8,689.0 L1319.8,689.0 L1320.8,688.6 L1321.8,687.8 L1322.8,689.7 L1323.8,688.0 L1324.8,688.2 L1325.8,689.0 L1326.8,688.7 L1327.8,689.6 L1328.8,690.3 L1329.8,689.7 L1330.8,689.6 L1331.8,689.5 L1332.8,690.3 L1333.8,687.9 L1334.8,689.9 L1335.8,688.8 L1336.8,688.5 L1337.8,689.6 L1338.8,689.3 L1339.8,690.2 L1340.8,690.7 L1341.8,687.6 L1342.8,689.7 L1343.8,691.5 L1344.8,690.6 L1345.8,691.1 L1346.8,689.9 L1347.8,688.6 L1348.8,688.9 L1349.8,690.5 L1350.8,690.8 L1351.8,689.3 L1352.8,689.7 L1353.8,690.2 L1354.8,688.4 L1355.8,689.7 L1356.8,691.5 L1357.8,692.0 L1358.8,689.9 L1359.8,691.7 L1360.8,689.6 L1361.8,689.4 L1362.8,688.1 L1363.8,691.0 L1364.8,689.8 L1365.8,692.3 L1366.8,690.5 L1367.8,690.3 L1368.8,688.6 L1369.8,691.6 L1370.8,689.9 L1371.8,690.1 L1372.8,688.3 L1373.8,691.1 L1374.8,691.2 L1375.8,689.7 L1376.8,690.4 L1377.8,690.6 L1378.8,691.2 L1379.8,690.4 L1380.8,691.9 L1381.8,690.1 L1382.8,689.8 L1383.8,689.9 L1384.8,688.1 L1385.8,689.6 L1386.8,691.3 L1387.8,690.6 L1388.8,689.7 L1389.8,690.7 L1390.8,688.6 L1391.8,690.2 L1392.8,690.9 L1393.8,691.0 L1394.8,689.7 L1395.8,691.3 L1396.8,692.1 L1397.8,690.1 L1398.8,691.1 L1399.8,689.0 L1400.8,688.7 L1401.8,691.0 L1402.8,690.5 L1403.8,690.6 L1404.8,689.9 L1405.8,690.2 L1406.8,691.2 L1407.8,692.0 L1408.8,690.3 L1409.8,689.0 L1410.8,691.6 L1411.8,691.0 L1412.8,691.1 L1413.8,690.7 L1414.8,692.6 L1415.8,690.6 L1416.8,691.0 L1417.8,688.9 L1418.8,690.0 L1419.8,689.9 L1420.8,690.5 L1421.8,690.8 L1422.8,689.9 L1423.8,692.1 L1424.8,689.6 L1425.8,690.1 L1426.8,690.8 L1427.8,689.4 L1428.8,691.1 L1429.8,691.1 L1430.8,690.3 L1431.8,692.3 L1432.8,690.6 L1433.8,690.8 L1434.8,689.7 L1435.8,689.1 L1436.8,690.0 L1437.8,690.3 L1438.8,690.2 L1439.8,691.3 L1440.8,688.4 L1441.8,689.6 L1442.8,689.0 L1443.8,691.8 L1444.8,690.1 L1445.8,690.1 L1446.8,689.6 L1447.8,691.4 L1448.8,690.2 L1449.8,690.8 L1450.8,688.8 L1451.8,691.7 L1452.8,691.0 L1453.8,691.1 L1454.8,691.8 L1455.8,690.5 L1456.8,690.5 L1457.8,691.3 L1458.8,691.0 L1459.8,690.4 L1460.8,690.7 L1461.8,690.2 L1462.8,691.3 L1463.8,691.5 L1464.8,690.7 L1465.8,692.4 L1466.8,689.3 L1467.8,690.5 L1468.8,692.2 L1469.8,690.3 L1470.8,689.2 L1471.8,691.9 L1472.8,691.2 L1473.8,689.6 L1474.8,691.4 L1475.8,689.8 L1476.8,689.5 L1477.8,690.6 L1478.8,690.3 L1479.8,689.7 L1480.8,690.4 L1481.8,689.8 L1482.8,690.8 L1483.8,690.7 L1484.8,691.4 L1485.8,690.3 L1486.8,689.5 L1487.8,689.5 L1488.8,690.5 L1489.8,692.1 L1490.8,691.5 L1491.8,690.1 L1492.8,691.6 L1493.8,689.7 L1494.8,691.6 L1495.8,690.4 L1496.8,691.4 L1497.8,691.3 L1498.8,690.5 L1499.8,691.0 L1500.8,689.8 L1501.8,690.7 L1502.8,691.7 L1503.8,694.4 L1504.8,691.4 L1505.8,690.8 L1506.8,689.8 L1507.8,691.7 L1508.8,689.2 L1509.8,690.0 L1510.8,691.1 L1511.8,689.7 L1512.8,692.1 L1513.8,691.7 L1514.8,690.2 L1515.8,690.2 L1516.8,689.6 L1517.8,689.5 L1518.8,691.1 L1519.8,691.3 L1520.8,691.1 L1521.8,691.0 L1522.8,690.2 L1523.8,691.1 L1524.8,689.4 L1525.8,690.8 L1526.8,692.1 L1527.8,691.9 L1528.8,690.3 L1529.8,690.5 L1530.8,692.0 L1531.8,692.4 L1532.8,689.4 L1533.8,690.4 L1534.8,691.0 L1535.8,691.9 L1536.8,690.0 L1537.8,691.3 L1538.8,690.5 L1539.8,692.9 L1540.8,691.1 L1541.8,690.6 L1542.8,690.5" fill="none" stroke="#000" stroke-width="3.6" stroke-linejoin="round" stroke-linecap="butt" />
<path d="M937.0,691.2 L938.0,690.9 L939.0,689.3 L940.0,690.5 L941.0,689.0 L942.0,689.6 L943.0,689.1 L944.0,689.1 L945.0,689.6 L946.0,689.4 L947.0,690.7 L948.0,691.0 L949.0,690.0 L950.0,689.2 L951.0,691.0 L952.0,688.4 L953.0,688.5 L954.0,690.9 L955.0,690.8 L956.0,691.1 L957.0,690.1 L958.0,689.1 L959.0,689.8 L960.0,690.8 L961.0,689.5 L962.0,689.6 L963.0,689.0 L964.0,689.2 L965.0,691.0 L966.0,690.6 L967.0,689.2 L968.0,689.3 L969.0,689.7 L970.0,690.7 L971.0,689.2 L972.0,690.1 L973.0,688.3 L974.0,689.1 L975.0,690.6 L976.0,691.0 L977.0,689.2 L978.0,689.5 L979.0,690.9 L980.0,689.8 L981.0,689.7 L982.0,690.7 L983.0,690.4 L984.0,691.2 L985.0,690.9 L986.0,689.7 L987.0,690.1 L988.0,690.1 L989.0,688.9 L990.0,689.3 L991.0,691.0 L992.0,688.7 L993.0,691.1 L994.0,690.4 L995.0,690.0 L996.0,690.6 L997.0,690.6 L998.0,691.2 L999.0,689.8 L1000.0,689.9 L1001.0,689.9 L1002.0,691.8 L1003.0,691.0 L1004.0,689.3 L1005.0,689.8 L1006.0,689.5 L1007.0,690.1 L1008.0,690.3 L1009.0,692.2 L1010.0,688.4 L1011.0,691.0 L1012.0,690.5 L1013.0,689.4 L1014.0,689.9 L1015.0,689.6 L1016.0,690.1 L1017.0,691.0 L1018.0,688.7 L1019.0,691.2 L1020.0,689.7 L1021.0,691.4 L1022.0,690.4 L1023.0,691.1 L1024.0,690.5 L1025.0,691.0 L1026.0,690.1 L1027.0,689.3 L1028.0,690.6 L1029.0,690.6 L1030.0,691.9 L1031.0,688.2 L1032.0,689.8 L1033.0,690.9 L1034.0,688.8 L1035.0,689.8 L1036.0,691.9 L1037.0,691.2 L1038.0,689.2 L1039.0,691.2 L1040.0,691.0 L1041.0,690.6 L1042.0,690.3 L1043.0,690.1 L1044.0,689.1 L1045.0,689.4 L1046.0,690.6 L1047.0,690.0 L1048.0,691.6 L1049.0,689.6 L1050.0,687.7 L1051.0,689.6 L1052.0,690.1 L1053.0,690.2 L1054.0,689.9 L1055.0,689.1 L1056.0,691.2 L1057.0,689.2 L1058.0,690.5 L1059.0,689.6 L1060.0,688.7 L1061.0,691.1 L1062.0,687.5 L1063.0,689.0 L1064.0,690.2 L1065.0,689.4 L1066.0,690.4 L1067.0,689.7 L1068.0,689.3 L1069.0,691.7 L1070.0,689.5 L1071.0,689.6 L1072.0,688.7 L1073.0,689.0 L1074.0,690.3 L1075.0,690.2 L1076.0,689.7 L1077.0,689.0 L1078.0,690.3 L1079.0,688.1 L1080.0,689.3 L1081.0,689.4 L1082.0,688.9 L1083.0,689.8 L1084.0,689.0 L1085.0,688.9 L1086.0,691.2 L1087.0,690.3 L1088.0,690.7 L1089.0,689.6 L1090.0,690.4 L1091.0,690.3 L1092.0,690.7 L1093.0,691.7 L1094.0,689.3 L1095.0,689.8 L1096.0,689.5 L1097.0,686.4 L1098.0,688.3 L1099.0,689.5 L1100.0,690.1 L1101.0,689.0 L1102.0,690.5 L1103.0,690.6 L1104.0,689.1 L1105.0,690.7 L1106.0,691.0 L1107.0,689.8 L1108.0,688.5 L1109.0,690.7 L1110.0,689.2 L1111.0,689.0 L1112.0,689.5 L1113.0,688.8 L1114.0,690.3 L1115.0,690.0 L1116.0,690.4 L1117.0,689.8 L1118.0,688.5 L1119.0,689.1 L1120.0,690.0 L1121.0,688.8 L1122.0,691.8 L1123.0,688.9 L1124.0,688.6 L1125.0,690.1 L1126.0,689.8 L1127.0,689.0 L1128.0,688.8 L1129.0,689.4 L1130.0,689.7 L1131.0,689.6 L1132.0,688.7 L1133.0,689.3 L1134.0,689.6 L1135.0,689.5 L1136.0,686.0 L1137.0,688.0 L1138.0,688.1 L1139.0,688.5 L1140.0,688.9 L1141.0,689.5 L1142.0,689.2 L1143.0,688.5 L1144.0,688.6 L1145.0,690.1 L1146.0,688.0 L1147.0,688.8 L1148.0,689.9 L1149.0,688.7 L1150.0,686.5 L1151.0,688.7 L1152.0,688.0 L1153.0,688.2 L1154.0,689.2 L1155.0,688.6 L1156.0,687.9 L1157.0,688.9 L1158.0,688.5 L1159.0,688.1 L1160.0,688.3 L1161.0,688.2 L1162.0,687.6 L1163.0,687.5 L1164.0,687.8 L1165.0,686.9 L1166.0,686.6 L1167.0,688.8 L1168.0,687.4 L1169.0,687.5 L1170.0,687.4 L1171.0,687.4 L1172.0,687.4 L1173.0,687.3 L1174.0,686.5 L1175.0,688.0 L1176.0,686.4 L1177.0,687.9 L1178.0,685.2 L1179.0,685.8 L1180.0,687.6 L1181.0,686.5 L1182.0,685.9 L1183.0,686.8 L1184.0,685.4 L1185.0,686.3 L1186.0,684.1 L1187.0,685.6 L1188.0,685.3 L1189.0,686.3 L1190.0,686.5 L1191.0,684.8 L1192.0,686.9 L1193.0,684.8 L1194.0,683.4 L1195.0,683.0 L1196.0,686.4 L1197.0,684.8 L1198.0,684.2 L1199.0,684.0 L1200.0,683.5 L1201.0,685.6 L1202.0,684.1 L1203.0,685.7 L1204.0,683.7 L1205.0,681.6 L1206.0,684.3 L1207.0,683.1 L1208.0,683.0 L1209.0,684.4 L1210.0,682.5 L1211.0,683.6 L1212.0,682.3 L1213.0,681.4 L1214.0,682.3 L1215.0,681.0 L1216.0,682.4 L1217.0,681.8 L1218.0,680.7 L1219.0,680.9 L1220.0,680.5 L1221.0,679.4 L1222.0,680.0 L1223.0,678.5 L1224.0,678.7 L1225.0,676.7 L1226.0,677.0 L1227.0,676.6 L1228.0,674.8 L1229.0,674.4 L1230.0,673.5 L1231.0,673.9 L1232.0,671.7 L1233.0,671.8 L1234.0,671.7 L1235.0,669.5 L1236.0,666.6 L1237.0,666.8 L1238.0,666.0 L1239.0,663.2 L1239.8,380.0" fill="none" stroke="#ff0000" stroke-width="5.2" stroke-linejoin="round" stroke-linecap="butt" />
<path d="M1247.5,380.0 L1247.5,730.0 L1248.7,672.0 L1249.0,671.0 L1250.0,670.1 L1251.0,669.5 L1252.0,668.6 L1253.0,668.1 L1254.0,668.2 L1255.0,668.3 L1256.0,668.6 L1257.0,668.5 L1258.0,667.8 L1259.0,668.1 L1260.0,668.4 L1261.0,666.5 L1262.0,667.8 L1263.0,669.4 L1264.0,673.9 L1265.0,676.8 L1266.0,677.6 L1267.0,677.7 L1268.0,679.7 L1269.0,679.8 L1270.0,678.5 L1271.0,680.4 L1272.0,679.6 L1273.0,682.5 L1274.0,680.8 L1275.0,681.1 L1276.0,681.8 L1277.0,681.8 L1278.0,682.3 L1279.0,684.1 L1280.0,683.2 L1281.0,684.1 L1282.0,684.6 L1283.0,683.1 L1284.0,685.8 L1285.0,685.1 L1286.0,685.7 L1287.0,684.3 L1288.0,686.0 L1289.0,685.9 L1290.0,685.2 L1291.0,687.9 L1292.0,686.5 L1293.0,685.9 L1294.0,686.4 L1295.0,687.2 L1296.0,687.5 L1297.0,687.2 L1298.0,687.9 L1299.0,688.2 L1300.0,685.9 L1301.0,686.7 L1302.0,686.4 L1303.0,687.4 L1304.0,688.7 L1305.0,688.1 L1306.0,686.7 L1307.0,687.4 L1308.0,688.7 L1309.0,687.4 L1310.0,687.9 L1311.0,688.3 L1312.0,686.5 L1313.0,688.9 L1314.0,688.6 L1315.0,688.8 L1316.0,687.5 L1317.0,687.8 L1318.0,688.0 L1319.0,688.8 L1320.0,688.7 L1321.0,688.8 L1322.0,690.3 L1323.0,689.9 L1324.0,688.2 L1325.0,688.3 L1326.0,690.4 L1327.0,688.6 L1328.0,690.2 L1329.0,690.4 L1330.0,688.5 L1331.0,688.8 L1332.0,689.1 L1333.0,688.3 L1334.0,688.2 L1335.0,688.8 L1336.0,689.9 L1337.0,688.8 L1338.0,689.0 L1339.0,688.8 L1340.0,688.0 L1341.0,690.6 L1342.0,687.2 L1343.0,688.7 L1344.0,689.8 L1345.0,688.1 L1346.0,689.9 L1347.0,690.5 L1348.0,688.7 L1349.0,689.6 L1350.0,688.5 L1351.0,689.9 L1352.0,689.6 L1353.0,689.7 L1354.0,690.8 L1355.0,690.0 L1356.0,690.8 L1357.0,690.2 L1358.0,688.5 L1359.0,689.9 L1360.0,690.1 L1361.0,688.4 L1362.0,690.9 L1363.0,689.7 L1364.0,690.0 L1365.0,688.9 L1366.0,689.8 L1367.0,690.0 L1368.0,689.5 L1369.0,689.8 L1370.0,687.9 L1371.0,691.0 L1372.0,688.8 L1373.0,687.8 L1374.0,689.0 L1375.0,689.1 L1376.0,690.3 L1377.0,689.0 L1378.0,690.1 L1379.0,689.0 L1380.0,691.9 L1381.0,690.4 L1382.0,691.7 L1383.0,689.0 L1384.0,690.5 L1385.0,689.1 L1386.0,690.5 L1387.0,690.6 L1388.0,688.5 L1389.0,688.9 L1390.0,688.9 L1391.0,688.6 L1392.0,689.3 L1393.0,689.1 L1394.0,688.7 L1395.0,690.1 L1396.0,690.5 L1397.0,688.8 L1398.0,689.5 L1399.0,690.0 L1400.0,689.8 L1401.0,689.4 L1402.0,690.7 L1403.0,690.8 L1404.0,690.6 L1405.0,689.8 L1406.0,691.8 L1407.0,691.6 L1408.0,689.7 L1409.0,689.9 L1410.0,691.1 L1411.0,689.3 L1412.0,690.4 L1413.0,690.1 L1414.0,689.4 L1415.0,689.9 L1416.0,688.7 L1417.0,689.6 L1418.0,688.3 L1419.0,692.1 L1420.0,691.4 L1421.0,691.2 L1422.0,690.4 L1423.0,691.0 L1424.0,691.2 L1425.0,691.0 L1426.0,690.9 L1427.0,689.3 L1428.0,690.5 L1429.0,689.6 L1430.0,689.1 L1431.0,689.1 L1432.0,690.5 L1433.0,691.1 L1434.0,688.9 L1435.0,691.7 L1436.0,691.5 L1437.0,689.8 L1438.0,689.7 L1439.0,690.1 L1440.0,691.0 L1441.0,689.8 L1442.0,689.2 L1443.0,690.5 L1444.0,688.3 L1445.0,690.3 L1446.0,691.2 L1447.0,690.4 L1448.0,690.9 L1449.0,690.6 L1450.0,690.8 L1451.0,690.3 L1452.0,689.4 L1453.0,690.0 L1454.0,690.1 L1455.0,691.3 L1456.0,691.6 L1457.0,690.6 L1458.0,689.5 L1459.0,689.5 L1460.0,690.0 L1461.0,691.4 L1462.0,690.5 L1463.0,690.2 L1464.0,689.5 L1465.0,691.0 L1466.0,690.5 L1467.0,690.2 L1468.0,690.3 L1469.0,691.7 L1470.0,690.1 L1471.0,691.7 L1472.0,691.3 L1473.0,690.3 L1474.0,691.0 L1475.0,690.1 L1476.0,689.5 L1477.0,690.0 L1478.0,689.4 L1479.0,690.7 L1480.0,690.3 L1481.0,690.8 L1482.0,691.0 L1483.0,687.4 L1484.0,690.5 L1485.0,688.6 L1486.0,690.4 L1487.0,689.5 L1488.0,690.3 L1489.0,691.5 L1490.0,688.7 L1491.0,690.4 L1492.0,690.2 L1493.0,688.6 L1494.0,690.8 L1495.0,690.3 L1496.0,689.8 L1497.0,689.6 L1498.0,693.2 L1499.0,689.9 L1500.0,688.7 L1501.0,689.4 L1502.0,689.9 L1503.0,689.9 L1504.0,690.2 L1505.0,689.3 L1506.0,690.8 L1507.0,689.8 L1508.0,689.1 L1509.0,689.5 L1510.0,689.9 L1511.0,691.0 L1512.0,690.7 L1513.0,690.0 L1514.0,690.3 L1515.0,690.5 L1516.0,692.1 L1517.0,689.7 L1518.0,690.7 L1519.0,690.9 L1520.0,689.4 L1521.0,690.5 L1522.0,690.4 L1523.0,689.9 L1524.0,690.8 L1525.0,691.2 L1526.0,691.3 L1527.0,690.1 L1528.0,690.5 L1529.0,692.4 L1530.0,689.3 L1531.0,690.5 L1532.0,691.1 L1533.0,690.4 L1534.0,690.9 L1535.0,690.5 L1536.0,691.0 L1537.0,691.5 L1538.0,690.1 L1539.0,690.5 L1540.0,690.3 L1541.0,689.9 L1542.0,690.3 L1543.0,689.3" fill="none" stroke="#ff0000" stroke-width="5.2" stroke-linejoin="round" stroke-linecap="butt" />
<path d="M937.0,690.8 L938.0,691.9 L939.0,691.9 L940.0,691.4 L941.0,688.7 L942.0,691.7 L943.0,689.0 L944.0,689.8 L945.0,692.1 L946.0,688.6 L947.0,690.9 L948.0,690.2 L949.0,689.7 L950.0,688.8 L951.0,690.4 L952.0,689.3 L953.0,691.1 L954.0,691.4 L955.0,688.2 L956.0,689.3 L957.0,689.5 L958.0,688.5 L959.0,688.5 L960.0,690.0 L961.0,689.6 L962.0,687.9 L963.0,689.2 L964.0,690.5 L965.0,688.4 L966.0,688.8 L967.0,691.8 L968.0,691.4 L969.0,687.9 L970.0,688.2 L971.0,690.3 L972.0,688.4 L973.0,689.6 L974.0,689.3 L975.0,690.5 L976.0,686.8 L977.0,687.2 L978.0,688.4 L979.0,691.1 L980.0,689.7 L981.0,687.8 L982.0,690.4 L983.0,690.7 L984.0,689.5 L985.0,689.4 L986.0,690.3 L987.0,691.3 L988.0,690.0 L989.0,690.5 L990.0,689.7 L991.0,689.3 L992.0,688.7 L993.0,690.1 L994.0,689.4 L995.0,689.5 L996.0,690.9 L997.0,690.4 L998.0,690.8 L999.0,687.9 L1000.0,690.4 L1001.0,689.1 L1002.0,688.8 L1003.0,688.7 L1004.0,691.2 L1005.0,690.7 L1006.0,688.9 L1007.0,688.4 L1008.0,689.8 L1009.0,689.2 L1010.0,691.7 L1011.0,688.0 L1012.0,687.5 L1013.0,689.4 L1014.0,689.7 L1015.0,689.9 L1016.0,690.6 L1017.0,692.2 L1018.0,689.3 L1019.0,689.0 L1020.0,687.6 L1021.0,690.0 L1022.0,690.7 L1023.0,689.4 L1024.0,691.1 L1025.0,689.7 L1026.0,691.5 L1027.0,690.0 L1028.0,688.4 L1029.0,688.9 L1030.0,687.8 L1031.0,687.5 L1032.0,689.9 L1033.0,690.7 L1034.0,691.9 L1035.0,689.5 L1036.0,689.3 L1037.0,688.3 L1038.0,690.8 L1039.0,690.0 L1040.0,688.9 L1041.0,690.4 L1042.0,690.2 L1043.0,687.3 L1044.0,690.4 L1045.0,689.7 L1046.0,689.1 L1047.0,689.0 L1048.0,691.6 L1049.0,691.3 L1050.0,691.7 L1051.0,688.1 L1052.0,688.7 L1053.0,690.6 L1054.0,688.0 L1055.0,688.6 L1056.0,687.3 L1057.0,691.7 L1058.0,690.7 L1059.0,690.0 L1060.0,689.7 L1061.0,688.9 L1062.0,688.9 L1063.0,690.1 L1064.0,688.5 L1065.0,690.9 L1066.0,688.8 L1067.0,688.3 L1068.0,690.9 L1069.0,689.2 L1070.0,690.0 L1071.0,688.8 L1072.0,686.6 L1073.0,690.0 L1074.0,687.7 L1075.0,690.6 L1076.0,687.4 L1077.0,687.1 L1078.0,689.7 L1079.0,689.8 L1080.0,689.4 L1081.0,687.8 L1082.0,690.3 L1083.0,687.5 L1084.0,688.7 L1085.0,688.3 L1086.0,688.8 L1087.0,690.2 L1088.0,688.4 L1089.0,689.9 L1090.0,690.0 L1091.0,687.1 L1092.0,687.8 L1093.0,688.7 L1094.0,688.4 L1095.0,689.5 L1096.0,686.8 L1097.0,690.0 L1098.0,690.0 L1099.0,688.9 L1100.0,687.4 L1101.0,689.1 L1102.0,688.4 L1103.0,689.8 L1104.0,689.0 L1105.0,689.9 L1106.0,688.5 L1107.0,690.8 L1108.0,686.2 L1109.0,687.8 L1110.0,689.6 L1111.0,687.2 L1112.0,689.8 L1113.0,687.5 L1114.0,689.0 L1115.0,687.8 L1116.0,688.4 L1117.0,689.1 L1118.0,688.7 L1119.0,688.4 L1120.0,691.4 L1121.0,688.8 L1122.0,687.6 L1123.0,689.9 L1124.0,689.7 L1125.0,690.2 L1126.0,690.8 L1127.0,687.5 L1128.0,689.9 L1129.0,690.0 L1130.0,688.6 L1131.0,688.9 L1132.0,684.9 L1133.0,687.8 L1134.0,690.6 L1135.0,686.3 L1136.0,687.8 L1137.0,688.7 L1138.0,689.1 L1139.0,690.3 L1140.0,686.2 L1141.0,688.3 L1142.0,689.3 L1143.0,686.6 L1144.0,688.1 L1145.0,690.4 L1146.0,689.7 L1147.0,688.7 L1148.0,684.9 L1149.0,687.9 L1150.0,688.4 L1151.0,687.6 L1152.0,687.8 L1153.0,691.6 L1154.0,687.6 L1155.0,686.6 L1156.0,688.0 L1157.0,687.3 L1158.0,687.3 L1159.0,687.5 L1160.0,688.5 L1161.0,687.8 L1162.0,686.1 L1163.0,687.3 L1164.0,688.0 L1165.0,686.8 L1166.0,688.7 L1167.0,688.2 L1168.0,686.0 L1169.0,687.5 L1170.0,689.5 L1171.0,688.9 L1172.0,686.9 L1173.0,687.9 L1174.0,686.0 L1175.0,685.0 L1176.0,687.3 L1177.0,686.9 L1178.0,687.1 L1179.0,686.4 L1180.0,686.7 L1181.0,685.6 L1182.0,686.7 L1183.0,687.0 L1184.0,685.9 L1185.0,686.8 L1186.0,683.6 L1187.0,684.7 L1188.0,687.3 L1189.0,687.5 L1190.0,685.6 L1191.0,685.1 L1192.0,683.6 L1193.0,685.4 L1194.0,685.8 L1195.0,683.0 L1196.0,685.3 L1197.0,685.1 L1198.0,684.9 L1199.0,682.9 L1200.0,684.8 L1201.0,682.2 L1202.0,685.6 L1203.0,683.8 L1204.0,682.1 L1205.0,685.0 L1206.0,684.6 L1207.0,682.2 L1208.0,685.4 L1209.0,681.4 L1210.0,682.8 L1211.0,683.6 L1212.0,679.2 L1213.0,682.9 L1214.0,681.3 L1215.0,681.1 L1216.0,679.6 L1217.0,681.0 L1218.0,678.9 L1219.0,678.8 L1220.0,679.1 L1221.0,677.7 L1222.0,680.7 L1223.0,676.7 L1224.0,676.8 L1225.0,676.7 L1226.0,676.5 L1227.0,676.8 L1228.0,676.1 L1229.0,674.0 L1230.0,673.1 L1231.0,672.8 L1232.0,672.9 L1233.0,671.8 L1234.0,669.3 L1235.0,666.4 L1236.0,670.2 L1237.0,667.3 L1238.0,664.9 L1239.0,663.1 L1239.6,380.0" fill="none" stroke="#00ff00" stroke-width="3.6" stroke-linejoin="round" stroke-linecap="butt" />
<path d="M1254.0,380.0 L1254.0,700.0 L1255.2,671.6 L1255.5,669.0 L1256.5,667.5 L1257.5,667.7 L1258.5,667.5 L1259.5,666.9 L1260.5,665.9 L1261.5,667.4 L1262.5,669.3 L1263.5,671.0 L1264.5,675.6 L1265.5,674.5 L1266.5,677.5 L1267.5,678.3 L1268.5,677.5 L1269.5,677.3 L1270.5,680.3 L1271.5,679.1 L1272.5,681.0 L1273.5,680.1 L1274.5,681.6 L1275.5,680.7 L1276.5,679.6 L1277.5,681.7 L1278.5,681.7 L1279.5,683.2 L1280.5,682.2 L1281.5,682.6 L1282.5,684.4 L1283.5,685.1 L1284.5,684.9 L1285.5,685.5 L1286.5,685.1 L1287.5,685.7 L1288.5,686.0 L1289.5,685.7 L1290.5,685.4 L1291.5,685.7 L1292.5,688.6 L1293.5,685.8 L1294.5,685.6 L1295.5,685.6 L1296.5,686.1 L1297.5,686.6 L1298.5,685.0 L1299.5,684.1 L1300.5,687.0 L1301.5,684.8 L1302.5,687.1 L1303.5,687.1 L1304.5,688.4 L1305.5,689.1 L1306.5,687.7 L1307.5,686.6 L1308.5,686.0 L1309.5,686.5 L1310.5,687.6 L1311.5,685.2 L1312.5,687.8 L1313.5,687.8 L1314.5,688.6 L1315.5,687.5 L1316.5,688.1 L1317.5,687.2 L1318.5,687.6 L1319.5,686.0 L1320.5,688.4 L1321.5,690.1 L1322.5,688.5 L1323.5,688.8 L1324.5,687.2 L1325.5,690.2 L1326.5,687.6 L1327.5,689.5 L1328.5,688.7 L1329.5,687.4 L1330.5,689.8 L1331.5,688.7 L1332.5,688.9 L1333.5,689.2 L1334.5,688.7 L1335.5,688.3 L1336.5,689.3 L1337.5,688.3 L1338.5,688.9 L1339.5,688.0 L1340.5,687.1 L1341.5,688.1 L1342.5,688.3 L1343.5,688.9 L1344.5,690.4 L1345.5,686.9 L1346.5,689.1 L1347.5,686.3 L1348.5,687.8 L1349.5,688.4 L1350.5,686.4 L1351.5,686.8 L1352.5,689.3 L1353.5,689.2 L1354.5,689.0 L1355.5,688.2 L1356.5,691.7 L1357.5,689.0 L1358.5,688.2 L1359.5,691.2 L1360.5,690.0 L1361.5,688.8 L1362.5,690.7 L1363.5,689.5 L1364.5,690.1 L1365.5,689.6 L1366.5,688.1 L1367.5,690.5 L1368.5,689.5 L1369.5,688.1 L1370.5,688.4 L1371.5,690.5 L1372.5,688.9 L1373.5,689.5 L1374.5,690.2 L1375.5,689.6 L1376.5,687.6 L1377.5,690.2 L1378.5,690.6 L1379.5,690.5 L1380.5,691.4 L1381.5,689.9 L1382.5,690.4 L1383.5,691.4 L1384.5,689.2 L1385.5,691.6 L1386.5,691.6 L1387.5,690.5 L1388.5,691.7 L1389.5,690.6 L1390.5,688.5 L1391.5,690.9 L1392.5,690.0 L1393.5,690.1 L1394.5,689.8 L1395.5,691.2 L1396.5,690.2 L1397.5,688.8 L1398.5,690.2 L1399.5,690.5 L1400.5,688.7 L1401.5,689.1 L1402.5,689.2 L1403.5,688.9 L1404.5,690.0 L1405.5,690.8 L1406.5,691.9 L1407.5,691.1 L1408.5,690.9 L1409.5,691.0 L1410.5,691.2 L1411.5,689.2 L1412.5,690.5 L1413.5,690.0 L1414.5,689.5 L1415.5,689.1 L1416.5,689.1 L1417.5,689.3 L1418.5,688.2 L1419.5,690.3 L1420.5,689.7 L1421.5,689.8 L1422.5,690.1 L1423.5,690.6 L1424.5,689.0 L1425.5,689.6 L1426.5,687.8 L1427.5,687.0 L1428.5,687.4 L1429.5,691.6 L1430.5,687.5 L1431.5,690.3 L1432.5,691.5 L1433.5,689.2 L1434.5,691.7 L1435.5,691.9 L1436.5,690.9 L1437.5,692.6 L1438.5,690.5 L1439.5,688.9 L1440.5,690.4 L1441.5,689.2 L1442.5,688.2 L1443.5,688.2 L1444.5,692.5 L1445.5,689.1 L1446.5,689.7 L1447.5,689.0 L1448.5,689.9 L1449.5,689.5 L1450.5,689.3 L1451.5,688.3 L1452.5,688.1 L1453.5,688.9 L1454.5,690.1 L1455.5,692.3 L1456.5,691.1 L1457.5,692.0 L1458.5,690.4 L1459.5,689.7 L1460.5,688.2 L1461.5,689.8 L1462.5,687.2 L1463.5,689.5 L1464.5,691.8 L1465.5,690.2 L1466.5,691.2 L1467.5,689.4 L1468.5,688.2 L1469.5,689.3 L1470.5,689.4 L1471.5,691.3 L1472.5,692.2 L1473.5,689.0 L1474.5,689.4 L1475.5,689.7 L1476.5,689.4 L1477.5,688.4 L1478.5,690.0 L1479.5,690.3 L1480.5,690.3 L1481.5,688.4 L1482.5,689.7 L1483.5,687.8 L1484.5,691.0 L1485.5,688.7 L1486.5,689.6 L1487.5,689.3 L1488.5,689.2 L1489.5,688.6 L1490.5,687.8 L1491.5,692.0 L1492.5,690.2 L1493.5,690.2 L1494.5,692.4 L1495.5,689.8 L1496.5,690.6 L1497.5,689.9 L1498.5,691.3 L1499.5,690.5 L1500.5,690.3 L1501.5,689.6 L1502.5,690.2 L1503.5,691.3 L1504.5,687.4 L1505.5,689.8 L1506.5,689.4 L1507.5,689.6 L1508.5,687.5 L1509.5,690.8 L1510.5,688.9 L1511.5,689.7 L1512.5,689.3 L1513.5,687.9 L1514.5,689.4 L1515.5,687.7 L1516.5,688.8 L1517.5,689.6 L1518.5,689.9 L1519.5,690.0 L1520.5,689.8 L1521.5,692.5 L1522.5,690.5 L1523.5,688.5 L1524.5,689.2 L1525.5,689.1 L1526.5,689.7 L1527.5,689.2 L1528.5,688.9 L1529.5,691.9 L1530.5,690.0 L1531.5,689.5 L1532.5,689.6 L1533.5,689.7 L1534.5,691.6 L1535.5,690.5 L1536.5,691.3 L1537.5,686.2 L1538.5,690.3 L1539.5,691.2 L1540.5,692.3 L1541.5,690.0 L1542.5,687.9" fill="none" stroke="#00ff00" stroke-width="3.6" stroke-linejoin="round" stroke-linecap="butt" />
<path d="M937.0,691.5 L938.0,690.3 L939.0,689.1 L940.0,690.3 L941.0,692.0 L942.0,692.1 L943.0,691.7 L944.0,689.9 L945.0,693.5 L946.0,689.8 L947.0,690.9 L948.0,689.5 L949.0,692.2 L950.0,691.4 L951.0,691.8 L952.0,691.0 L953.0,690.9 L954.0,691.1 L955.0,689.0 L956.0,691.9 L957.0,691.8 L958.0,690.5 L959.0,690.9 L960.0,691.2 L961.0,692.5 L962.0,691.4 L963.0,691.0 L964.0,690.4 L965.0,689.4 L966.0,690.3 L967.0,691.0 L968.0,690.7 L969.0,691.0 L970.0,691.7 L971.0,691.3 L972.0,691.2 L973.0,691.6 L974.0,691.1 L975.0,690.9 L976.0,691.4 L977.0,689.2 L978.0,692.1 L979.0,689.6 L980.0,691.7 L981.0,690.9 L982.0,692.0 L983.0,690.9 L984.0,689.9 L985.0,691.9 L986.0,691.1 L987.0,691.0 L988.0,690.9 L989.0,691.9 L990.0,691.7 L991.0,691.1 L992.0,689.3 L993.0,690.4 L994.0,691.0 L995.0,692.6 L996.0,691.2 L997.0,690.7 L998.0,692.0 L999.0,690.7 L1000.0,690.8 L1001.0,691.0 L1002.0,689.3 L1003.0,691.8 L1004.0,691.2 L1005.0,690.5 L1006.0,689.7 L1007.0,691.0 L1008.0,692.2 L1009.0,690.1 L1010.0,689.7 L1011.0,691.2 L1012.0,689.2 L1013.0,688.5 L1014.0,690.3 L1015.0,690.1 L1016.0,690.5 L1017.0,690.2 L1018.0,691.1 L1019.0,690.5 L1020.0,690.1 L1021.0,690.3 L1022.0,691.4 L1023.0,691.7 L1024.0,691.6 L1025.0,691.4 L1026.0,687.4 L1027.0,689.7 L1028.0,690.4 L1029.0,690.9 L1030.0,689.1 L1031.0,692.1 L1032.0,691.0 L1033.0,690.0 L1034.0,690.8 L1035.0,690.3 L1036.0,689.9 L1037.0,691.1 L1038.0,690.2 L1039.0,689.2 L1040.0,690.0 L1041.0,690.5 L1042.0,689.5 L1043.0,691.9 L1044.0,689.5 L1045.0,692.4 L1046.0,691.5 L1047.0,689.6 L1048.0,690.7 L1049.0,691.8 L1050.0,690.4 L1051.0,689.4 L1052.0,690.7 L1053.0,692.5 L1054.0,689.0 L1055.0,691.1 L1056.0,690.5 L1057.0,690.4 L1058.0,690.1 L1059.0,690.2 L1060.0,691.5 L1061.0,691.1 L1062.0,689.5 L1063.0,692.0 L1064.0,689.2 L1065.0,691.1 L1066.0,690.6 L1067.0,691.6 L1068.0,690.8 L1069.0,691.5 L1070.0,690.4 L1071.0,691.4 L1072.0,690.8 L1073.0,692.6 L1074.0,689.7 L1075.0,691.6 L1076.0,690.8 L1077.0,690.5 L1078.0,689.8 L1079.0,690.8 L1080.0,688.9 L1081.0,689.0 L1082.0,691.0 L1083.0,688.8 L1084.0,691.8 L1085.0,690.0 L1086.0,690.5 L1087.0,690.4 L1088.0,690.7 L1089.0,690.0 L1090.0,689.9 L1091.0,690.1 L1092.0,691.3 L1093.0,691.4 L1094.0,691.5 L1095.0,690.6 L1096.0,690.0 L1097.0,688.5 L1098.0,690.8 L1099.0,691.0 L1100.0,689.8 L1101.0,691.0 L1102.0,691.4 L1103.0,690.2 L1104.0,691.2 L1105.0,690.4 L1106.0,688.4 L1107.0,689.6 L1108.0,689.7 L1109.0,690.6 L1110.0,689.2 L1111.0,689.6 L1112.0,689.1 L1113.0,690.0 L1114.0,690.1 L1115.0,691.0 L1116.0,690.8 L1117.0,690.1 L1118.0,690.2 L1119.0,690.0 L1120.0,690.0 L1121.0,691.4 L1122.0,687.4 L1123.0,689.6 L1124.0,690.1 L1125.0,690.9 L1126.0,688.7 L1127.0,690.1 L1128.0,690.6 L1129.0,689.2 L1130.0,687.8 L1131.0,689.3 L1132.0,688.4 L1133.0,690.2 L1134.0,688.7 L1135.0,691.3 L1136.0,689.6 L1137.0,688.7 L1138.0,688.9 L1139.0,688.3 L1140.0,689.8 L1141.0,690.8 L1142.0,689.1 L1143.0,690.2 L1144.0,688.3 L1145.0,689.5 L1146.0,691.5 L1147.0,687.8 L1148.0,690.4 L1149.0,690.3 L1150.0,687.2 L1151.0,687.6 L1152.0,688.0 L1153.0,689.9 L1154.0,688.5 L1155.0,688.7 L1156.0,689.5 L1157.0,688.9 L1158.0,689.0 L1159.0,688.4 L1160.0,689.8 L1161.0,687.9 L1162.0,690.3 L1163.0,688.2 L1164.0,687.7 L1165.0,689.1 L1166.0,688.8 L1167.0,686.4 L1168.0,688.5 L1169.0,686.9 L1170.0,687.3 L1171.0,688.9 L1172.0,687.2 L1173.0,688.3 L1174.0,687.5 L1175.0,689.7 L1176.0,687.6 L1177.0,686.5 L1178.0,686.4 L1179.0,686.6 L1180.0,687.5 L1181.0,687.3 L1182.0,688.2 L1183.0,687.3 L1184.0,687.1 L1185.0,687.2 L1186.0,686.7 L1187.0,687.0 L1188.0,687.4 L1189.0,687.3 L1190.0,685.8 L1191.0,684.5 L1192.0,685.3 L1193.0,686.3 L1194.0,683.4 L1195.0,685.3 L1196.0,686.1 L1197.0,685.0 L1198.0,684.3 L1199.0,687.0 L1200.0,686.5 L1201.0,684.8 L1202.0,686.2 L1203.0,686.0 L1204.0,683.4 L1205.0,687.1 L1206.0,683.3 L1207.0,683.8 L1208.0,682.8 L1209.0,683.7 L1210.0,682.1 L1211.0,683.2 L1212.0,684.1 L1213.0,682.9 L1214.0,682.2 L1215.0,683.7 L1216.0,681.0 L1217.0,682.6 L1218.0,681.0 L1219.0,681.2 L1220.0,680.7 L1221.0,680.4 L1222.0,679.8 L1223.0,678.5 L1224.0,678.2 L1225.0,678.6 L1226.0,677.4 L1227.0,675.7 L1228.0,675.4 L1229.0,674.7 L1230.0,674.6 L1231.0,674.2 L1232.0,673.7 L1233.0,672.4 L1234.0,672.2 L1235.0,669.4 L1236.0,665.8 L1236.3,380.0" fill="none" stroke="#0000ff" stroke-width="4.6" stroke-linejoin="round" stroke-linecap="butt" />
<path d="M1259.7,380.0 L1259.7,719.0 L1260.9,672.6 L1261.2,670.6 L1262.2,668.0 L1263.2,670.1 L1264.2,674.2 L1265.2,678.4 L1266.2,677.4 L1267.2,679.5 L1268.2,679.3 L1269.2,679.1 L1270.2,679.1 L1271.2,681.5 L1272.2,681.7 L1273.2,682.4 L1274.2,683.7 L1275.2,682.4 L1276.2,682.7 L1277.2,682.6 L1278.2,683.1 L1279.2,683.0 L1280.2,682.8 L1281.2,686.0 L1282.2,682.4 L1283.2,684.9 L1284.2,685.3 L1285.2,685.3 L1286.2,684.5 L1287.2,685.5 L1288.2,685.5 L1289.2,685.1 L1290.2,686.3 L1291.2,686.1 L1292.2,686.1 L1293.2,687.4 L1294.2,685.8 L1295.2,687.5 L1296.2,686.5 L1297.2,687.7 L1298.2,687.4 L1299.2,687.7 L1300.2,686.6 L1301.2,686.9 L1302.2,686.9 L1303.2,688.1 L1304.2,688.7 L1305.2,689.2 L1306.2,687.7 L1307.2,688.4 L1308.2,686.8 L1309.2,686.2 L1310.2,687.7 L1311.2,687.9 L1312.2,687.1 L1313.2,687.0 L1314.2,689.4 L1315.2,688.1 L1316.2,687.3 L1317.2,691.3 L1318.2,689.3 L1319.2,688.8 L1320.2,689.9 L1321.2,688.5 L1322.2,690.9 L1323.2,687.8 L1324.2,688.1 L1325.2,689.3 L1326.2,688.7 L1327.2,690.9 L1328.2,687.9 L1329.2,688.8 L1330.2,689.8 L1331.2,690.2 L1332.2,690.6 L1333.2,690.0 L1334.2,691.9 L1335.2,689.2 L1336.2,689.9 L1337.2,690.6 L1338.2,689.5 L1339.2,689.5 L1340.2,689.4 L1341.2,689.2 L1342.2,688.7 L1343.2,689.3 L1344.2,688.4 L1345.2,690.3 L1346.2,688.3 L1347.2,692.0 L1348.2,691.7 L1349.2,691.1 L1350.2,689.8 L1351.2,689.4 L1352.2,691.3 L1353.2,690.2 L1354.2,690.6 L1355.2,689.4 L1356.2,691.2 L1357.2,689.3 L1358.2,690.3 L1359.2,688.4 L1360.2,689.5 L1361.2,690.7 L1362.2,689.8 L1363.2,689.8 L1364.2,691.0 L1365.2,690.2 L1366.2,691.5 L1367.2,687.9 L1368.2,690.9 L1369.2,690.8 L1370.2,688.8 L1371.2,689.0 L1372.2,691.2 L1373.2,689.3 L1374.2,689.7 L1375.2,691.0 L1376.2,690.0 L1377.2,690.9 L1378.2,689.5 L1379.2,690.7 L1380.2,691.5 L1381.2,690.7 L1382.2,688.2 L1383.2,691.1 L1384.2,690.5 L1385.2,689.6 L1386.2,691.9 L1387.2,688.7 L1388.2,692.3 L1389.2,689.9 L1390.2,692.1 L1391.2,690.5 L1392.2,689.2 L1393.2,690.6 L1394.2,690.8 L1395.2,691.1 L1396.2,691.6 L1397.2,689.6 L1398.2,691.0 L1399.2,691.3 L1400.2,690.3 L1401.2,689.6 L1402.2,689.6 L1403.2,691.3 L1404.2,691.4 L1405.2,689.7 L1406.2,689.2 L1407.2,691.8 L1408.2,689.0 L1409.2,690.7 L1410.2,689.8 L1411.2,688.8 L1412.2,690.7 L1413.2,690.4 L1414.2,692.0 L1415.2,692.9 L1416.2,690.4 L1417.2,691.6 L1418.2,691.7 L1419.2,690.1 L1420.2,689.8 L1421.2,692.2 L1422.2,690.3 L1423.2,690.6 L1424.2,690.3 L1425.2,690.5 L1426.2,690.0 L1427.2,691.4 L1428.2,691.9 L1429.2,690.3 L1430.2,689.3 L1431.2,690.7 L1432.2,689.2 L1433.2,690.0 L1434.2,691.9 L1435.2,693.0 L1436.2,691.0 L1437.2,689.6 L1438.2,691.5 L1439.2,688.4 L1440.2,690.0 L1441.2,692.2 L1442.2,691.4 L1443.2,689.3 L1444.2,689.0 L1445.2,691.6 L1446.2,690.7 L1447.2,690.1 L1448.2,691.1 L1449.2,690.1 L1450.2,688.8 L1451.2,691.5 L1452.2,690.1 L1453.2,689.7 L1454.2,689.4 L1455.2,691.0 L1456.2,689.9 L1457.2,691.4 L1458.2,690.5 L1459.2,691.8 L1460.2,690.4 L1461.2,690.1 L1462.2,688.8 L1463.2,689.7 L1464.2,691.5 L1465.2,693.8 L1466.2,689.5 L1467.2,689.7 L1468.2,691.1 L1469.2,691.2 L1470.2,690.1 L1471.2,690.8 L1472.2,689.2 L1473.2,690.5 L1474.2,691.7 L1475.2,692.4 L1476.2,690.6 L1477.2,690.5 L1478.2,691.2 L1479.2,691.9 L1480.2,691.3 L1481.2,690.0 L1482.2,691.1 L1483.2,691.8 L1484.2,690.1 L1485.2,689.5 L1486.2,691.3 L1487.2,691.2 L1488.2,691.8 L1489.2,690.9 L1490.2,690.2 L1491.2,690.4 L1492.2,689.8 L1493.2,689.9 L1494.2,690.3 L1495.2,690.3 L1496.2,691.9 L1497.2,689.6 L1498.2,690.8 L1499.2,690.2 L1500.2,692.3 L1501.2,691.1 L1502.2,690.5 L1503.2,691.6 L1504.2,690.9 L1505.2,690.4 L1506.2,692.4 L1507.2,691.5 L1508.2,692.6 L1509.2,692.0 L1510.2,691.6 L1511.2,691.0 L1512.2,689.8 L1513.2,691.5 L1514.2,690.9 L1515.2,691.5 L1516.2,690.8 L1517.2,690.2 L1518.2,689.8 L1519.2,691.5 L1520.2,692.1 L1521.2,690.6 L1522.2,691.3 L1523.2,692.2 L1524.2,690.0 L1525.2,690.5 L1526.2,689.7 L1527.2,692.0 L1528.2,691.1 L1529.2,690.4 L1530.2,689.2 L1531.2,690.7 L1532.2,691.8 L1533.2,690.6 L1534.2,690.4 L1535.2,691.5 L1536.2,689.6 L1537.2,690.9 L1538.2,691.5 L1539.2,690.1 L1540.2,690.0 L1541.2,691.1 L1542.2,690.8" fill="none" stroke="#0000ff" stroke-width="4.6" stroke-linejoin="round" stroke-linecap="butt" />
<path d="M937.0,690.4 L938.0,690.9 L939.0,690.9 L940.0,689.7 L941.0,690.0 L942.0,691.1 L943.0,691.8 L944.0,692.0 L945.0,689.8 L946.0,691.7 L947.0,691.4 L948.0,690.6 L949.0,691.1 L950.0,691.5 L951.0,692.4 L952.0,689.6 L953.0,691.3 L954.0,690.5 L955.0,690.4 L956.0,691.8 L957.0,691.5 L958.0,689.6 L959.0,690.4 L960.0,690.9 L961.0,689.2 L962.0,691.5 L963.0,690.6 L964.0,690.8 L965.0,691.0 L966.0,692.4 L967.0,690.7 L968.0,690.3 L969.0,692.4 L970.0,690.1 L971.0,690.1 L972.0,689.3 L973.0,691.7 L974.0,690.9 L975.0,691.1 L976.0,690.8 L977.0,690.5 L978.0,689.8 L979.0,689.8 L980.0,691.0 L981.0,690.7 L982.0,692.2 L983.0,689.8 L984.0,690.1 L985.0,689.6 L986.0,692.0 L987.0,689.4 L988.0,691.3 L989.0,692.0 L990.0,690.4 L991.0,691.3 L992.0,688.5 L993.0,690.2 L994.0,688.9 L995.0,690.7 L996.0,690.6 L997.0,689.8 L998.0,691.5 L999.0,690.9 L1000.0,690.0 L1001.0,690.0 L1002.0,689.1 L1003.0,690.3 L1004.0,692.6 L1005.0,689.8 L1006.0,690.9 L1007.0,690.0 L1008.0,691.3 L1009.0,690.9 L1010.0,690.3 L1011.0,688.7 L1012.0,690.0 L1013.0,691.7 L1014.0,690.2 L1015.0,691.1 L1016.0,690.0 L1017.0,688.6 L1018.0,690.9 L1019.0,690.8 L1020.0,689.9 L1021.0,690.1 L1022.0,690.7 L1023.0,689.9 L1024.0,690.8 L1025.0,690.2 L1026.0,688.1 L1027.0,690.3 L1028.0,689.8 L1029.0,689.6 L1030.0,690.8 L1031.0,689.9 L1032.0,690.9 L1033.0,691.5 L1034.0,690.5 L1035.0,688.8 L1036.0,689.6 L1037.0,691.3 L1038.0,690.1 L1039.0,689.6 L1040.0,690.3 L1041.0,690.8 L1042.0,690.6 L1043.0,691.0 L1044.0,689.5 L1045.0,690.0 L1046.0,690.1 L1047.0,690.3 L1048.0,688.2 L1049.0,690.1 L1050.0,689.0 L1051.0,691.6 L1052.0,691.8 L1053.0,691.9 L1054.0,691.1 L1055.0,689.8 L1056.0,691.2 L1057.0,690.0 L1058.0,690.8 L1059.0,689.3 L1060.0,689.6 L1061.0,690.7 L1062.0,691.9 L1063.0,690.2 L1064.0,692.4 L1065.0,692.9 L1066.0,688.9 L1067.0,690.1 L1068.0,689.2 L1069.0,690.0 L1070.0,689.6 L1071.0,690.1 L1072.0,691.1 L1073.0,691.0 L1074.0,690.4 L1075.0,690.1 L1076.0,690.2 L1077.0,690.2 L1078.0,690.6 L1079.0,690.1 L1080.0,690.6 L1081.0,688.8 L1082.0,690.8 L1083.0,691.8 L1084.0,690.2 L1085.0,688.6 L1086.0,691.3 L1087.0,689.7 L1088.0,687.0 L1089.0,689.8 L1090.0,690.6 L1091.0,690.3 L1092.0,691.2 L1093.0,690.6 L1094.0,690.1 L1095.0,688.0 L1096.0,688.8 L1097.0,690.1 L1098.0,690.6 L1099.0,688.9 L1100.0,689.3 L1101.0,690.3 L1102.0,688.0 L1103.0,687.9 L1104.0,689.6 L1105.0,690.1 L1106.0,689.3 L1107.0,687.5 L1108.0,689.8 L1109.0,688.5 L1110.0,690.4 L1111.0,689.7 L1112.0,690.0 L1113.0,690.4 L1114.0,689.2 L1115.0,690.5 L1116.0,690.9 L1117.0,690.0 L1118.0,691.0 L1119.0,689.0 L1120.0,690.5 L1121.0,689.8 L1122.0,688.6 L1123.0,689.5 L1124.0,689.0 L1125.0,688.9 L1126.0,689.6 L1127.0,690.5 L1128.0,689.1 L1129.0,689.5 L1130.0,687.9 L1131.0,689.5 L1132.0,690.5 L1133.0,690.1 L1134.0,689.7 L1135.0,688.7 L1136.0,688.2 L1137.0,689.1 L1138.0,687.8 L1139.0,687.9 L1140.0,690.0 L1141.0,688.2 L1142.0,690.8 L1143.0,687.6 L1144.0,689.4 L1145.0,687.8 L1146.0,689.1 L1147.0,687.8 L1148.0,688.9 L1149.0,688.6 L1150.0,688.3 L1151.0,689.2 L1152.0,690.2 L1153.0,688.1 L1154.0,689.5 L1155.0,688.7 L1156.0,688.5 L1157.0,690.7 L1158.0,686.3 L1159.0,687.8 L1160.0,686.6 L1161.0,688.0 L1162.0,688.1 L1163.0,692.0 L1164.0,688.6 L1165.0,689.9 L1166.0,689.4 L1167.0,687.6 L1168.0,688.5 L1169.0,689.6 L1170.0,688.0 L1171.0,688.0 L1172.0,688.2 L1173.0,686.2 L1174.0,686.8 L1175.0,687.8 L1176.0,688.0 L1177.0,686.4 L1178.0,686.9 L1179.0,687.1 L1180.0,686.9 L1181.0,687.7 L1182.0,687.0 L1183.0,687.0 L1184.0,685.3 L1185.0,685.6 L1186.0,686.8 L1187.0,684.8 L1188.0,686.6 L1189.0,685.6 L1190.0,685.3 L1191.0,686.6 L1192.0,685.2 L1193.0,684.9 L1194.0,685.0 L1195.0,685.6 L1196.0,688.1 L1197.0,683.2 L1198.0,685.1 L1199.0,684.8 L1200.0,685.8 L1201.0,684.4 L1202.0,682.2 L1203.0,685.8 L1204.0,683.2 L1205.0,684.1 L1206.0,682.6 L1207.0,682.7 L1208.0,683.1 L1209.0,684.2 L1210.0,684.0 L1211.0,682.3 L1212.0,683.2 L1213.0,682.1 L1214.0,682.3 L1215.0,682.1 L1216.0,682.3 L1217.0,680.7 L1218.0,680.9 L1219.0,680.9 L1220.0,680.5 L1221.0,679.2 L1222.0,681.3 L1223.0,678.6 L1224.0,679.3 L1225.0,678.1 L1226.0,678.5 L1227.0,674.4 L1228.0,677.9 L1229.0,674.9 L1230.0,673.1 L1231.0,673.7 L1232.0,674.9 L1233.0,672.2 L1234.0,669.5 L1235.0,669.1 L1236.0,669.7 L1237.0,665.6 L1238.0,665.3 L1239.0,663.5 L1239.8,380.0" fill="none" stroke="#ff8000" stroke-width="5.8" stroke-linejoin="round" stroke-linecap="butt" />
<path d="M1253.8,380.0 L1253.8,719.0 L1255.0,672.4 L1255.3,672.5 L1256.3,669.2 L1257.3,670.2 L1258.3,667.9 L1259.3,667.6 L1260.3,669.4 L1261.3,669.0 L1262.3,667.4 L1263.3,672.2 L1264.3,676.3 L1265.3,677.0 L1266.3,678.6 L1267.3,679.3 L1268.3,679.1 L1269.3,679.5 L1270.3,679.8 L1271.3,680.5 L1272.3,679.8 L1273.3,681.3 L1274.3,680.1 L1275.3,681.9 L1276.3,682.1 L1277.3,681.4 L1278.3,683.6 L1279.3,685.0 L1280.3,684.8 L1281.3,682.4 L1282.3,685.3 L1283.3,684.6 L1284.3,684.6 L1285.3,684.4 L1286.3,685.2 L1287.3,686.9 L1288.3,686.2 L1289.3,685.5 L1290.3,685.4 L1291.3,685.9 L1292.3,687.0 L1293.3,688.4 L1294.3,685.6 L1295.3,686.8 L1296.3,686.5 L1297.3,686.3 L1298.3,687.5 L1299.3,687.8 L1300.3,686.0 L1301.3,686.4 L1302.3,688.8 L1303.3,688.0 L1304.3,688.3 L1305.3,687.4 L1306.3,687.6 L1307.3,688.5 L1308.3,687.7 L1309.3,687.1 L1310.3,688.3 L1311.3,689.3 L1312.3,687.4 L1313.3,689.6 L1314.3,689.3 L1315.3,687.8 L1316.3,688.8 L1317.3,688.8 L1318.3,689.5 L1319.3,689.6 L1320.3,687.7 L1321.3,687.7 L1322.3,690.1 L1323.3,689.2 L1324.3,689.6 L1325.3,689.5 L1326.3,690.8 L1327.3,688.1 L1328.3,690.4 L1329.3,688.5 L1330.3,690.1 L1331.3,690.7 L1332.3,688.1 L1333.3,689.8 L1334.3,689.2 L1335.3,689.2 L1336.3,689.6 L1337.3,688.5 L1338.3,688.6 L1339.3,690.2 L1340.3,690.5 L1341.3,689.1 L1342.3,688.2 L1343.3,692.0 L1344.3,690.8 L1345.3,690.1 L1346.3,688.7 L1347.3,689.2 L1348.3,690.0 L1349.3,688.9 L1350.3,691.4 L1351.3,690.0 L1352.3,690.2 L1353.3,688.9 L1354.3,689.0 L1355.3,689.1 L1356.3,690.2 L1357.3,689.7 L1358.3,689.7 L1359.3,690.3 L1360.3,690.2 L1361.3,691.5 L1362.3,689.8 L1363.3,689.0 L1364.3,690.0 L1365.3,691.5 L1366.3,689.5 L1367.3,690.1 L1368.3,689.8 L1369.3,690.5 L1370.3,690.4 L1371.3,689.3 L1372.3,689.9 L1373.3,691.1 L1374.3,691.3 L1375.3,691.1 L1376.3,691.0 L1377.3,689.9 L1378.3,689.9 L1379.3,691.1 L1380.3,689.1 L1381.3,690.2 L1382.3,688.4 L1383.3,689.9 L1384.3,689.6 L1385.3,689.1 L1386.3,690.9 L1387.3,689.6 L1388.3,689.9 L1389.3,690.1 L1390.3,689.6 L1391.3,691.7 L1392.3,689.8 L1393.3,690.5 L1394.3,689.1 L1395.3,689.9 L1396.3,690.0 L1397.3,690.1 L1398.3,689.8 L1399.3,690.5 L1400.3,691.9 L1401.3,690.2 L1402.3,690.2 L1403.3,690.0 L1404.3,692.9 L1405.3,692.0 L1406.3,690.9 L1407.3,691.1 L1408.3,689.7 L1409.3,690.3 L1410.3,690.6 L1411.3,690.5 L1412.3,689.6 L1413.3,689.7 L1414.3,690.9 L1415.3,690.7 L1416.3,688.4 L1417.3,690.5 L1418.3,691.7 L1419.3,689.8 L1420.3,690.7 L1421.3,689.0 L1422.3,691.3 L1423.3,689.4 L1424.3,689.2 L1425.3,690.2 L1426.3,692.8 L1427.3,689.9 L1428.3,689.2 L1429.3,690.9 L1430.3,690.7 L1431.3,692.1 L1432.3,689.2 L1433.3,688.9 L1434.3,690.2 L1435.3,690.9 L1436.3,690.8 L1437.3,691.6 L1438.3,689.0 L1439.3,689.7 L1440.3,690.4 L1441.3,691.3 L1442.3,691.0 L1443.3,690.1 L1444.3,689.5 L1445.3,691.4 L1446.3,691.5 L1447.3,693.2 L1448.3,690.4 L1449.3,692.1 L1450.3,689.4 L1451.3,690.0 L1452.3,689.9 L1453.3,690.1 L1454.3,689.7 L1455.3,690.0 L1456.3,690.5 L1457.3,690.1 L1458.3,691.2 L1459.3,690.5 L1460.3,690.6 L1461.3,692.0 L1462.3,690.9 L1463.3,690.7 L1464.3,690.6 L1465.3,690.6 L1466.3,691.1 L1467.3,689.8 L1468.3,691.7 L1469.3,692.1 L1470.3,691.7 L1471.3,690.1 L1472.3,689.0 L1473.3,690.2 L1474.3,690.7 L1475.3,691.4 L1476.3,690.4 L1477.3,690.3 L1478.3,692.1 L1479.3,690.0 L1480.3,691.7 L1481.3,691.5 L1482.3,689.3 L1483.3,690.9 L1484.3,690.1 L1485.3,689.7 L1486.3,688.8 L1487.3,689.1 L1488.3,691.0 L1489.3,690.2 L1490.3,690.9 L1491.3,689.6 L1492.3,690.3 L1493.3,690.4 L1494.3,689.1 L1495.3,689.0 L1496.3,691.1 L1497.3,690.8 L1498.3,689.7 L1499.3,690.5 L1500.3,691.3 L1501.3,692.4 L1502.3,689.8 L1503.3,691.3 L1504.3,692.7 L1505.3,690.7 L1506.3,692.1 L1507.3,688.1 L1508.3,692.1 L1509.3,690.6 L1510.3,688.8 L1511.3,691.4 L1512.3,691.7 L1513.3,691.8 L1514.3,691.8 L1515.3,690.6 L1516.3,689.9 L1517.3,690.2 L1518.3,690.6 L1519.3,691.1 L1520.3,690.2 L1521.3,690.7 L1522.3,691.5 L1523.3,691.0 L1524.3,692.9 L1525.3,692.8 L1526.3,689.5 L1527.3,690.1 L1528.3,689.4 L1529.3,689.5 L1530.3,691.2 L1531.3,689.7 L1532.3,689.6 L1533.3,690.4 L1534.3,691.5 L1535.3,690.3 L1536.3,690.3 L1537.3,691.6 L1538.3,691.1 L1539.3,691.1 L1540.3,691.6 L1541.3,689.7 L1542.3,690.9" fill="none" stroke="#ff8000" stroke-width="5.8" stroke-linejoin="round" stroke-linecap="butt" />
<path d="M1250.3,404.0 L1250.3,689.0" fill="none" stroke="#000" stroke-width="1.6" stroke-linejoin="round" stroke-linecap="butt" />
<path d="M1246.3,735.6 L1249.8,735.6" fill="none" stroke="#000" stroke-width="5.0" stroke-linejoin="round" stroke-linecap="butt" />
<path d="M937.0,689.1 L938.0,690.4 L939.0,690.2 L940.0,688.8 L941.0,690.6 L942.0,688.7 L943.0,690.5 L944.0,689.7 L945.0,688.9 L946.0,688.7 L947.0,689.3 L948.0,689.6 L949.0,689.0 L950.0,690.0 L951.0,688.5 L952.0,689.6 L953.0,689.6 L954.0,688.1 L955.0,689.8 L956.0,688.6 L957.0,687.6 L958.0,689.1 L959.0,689.4 L960.0,690.3 L961.0,689.2 L962.0,690.7 L963.0,690.7 L964.0,690.4 L965.0,690.6 L966.0,689.8 L967.0,689.1 L968.0,690.1 L969.0,690.3 L970.0,689.7 L971.0,689.3 L972.0,688.3 L973.0,690.1 L974.0,689.8 L975.0,688.5 L976.0,689.6 L977.0,690.1 L978.0,689.4 L979.0,690.1 L980.0,690.1 L981.0,688.3 L982.0,689.3 L983.0,689.9 L984.0,690.2 L985.0,690.6 L986.0,688.0 L987.0,689.4 L988.0,690.1 L989.0,690.5 L990.0,690.8 L991.0,688.7 L992.0,689.2 L993.0,688.6 L994.0,690.1 L995.0,688.4 L996.0,690.4 L997.0,690.2 L998.0,689.8 L999.0,687.7 L1000.0,688.9 L1001.0,690.0 L1002.0,688.3 L1003.0,689.2 L1004.0,689.3 L1005.0,690.1 L1006.0,689.6 L1007.0,689.6 L1008.0,689.1 L1009.0,689.4 L1010.0,689.3 L1011.0,690.0 L1012.0,689.3 L1013.0,690.2 L1014.0,688.0 L1015.0,690.3 L1016.0,689.2 L1017.0,690.3 L1018.0,689.4 L1019.0,690.0 L1020.0,690.5 L1021.0,688.9 L1022.0,689.4 L1023.0,689.2 L1024.0,689.5 L1025.0,688.0 L1026.0,689.2 L1027.0,689.1 L1028.0,688.7 L1029.0,689.2 L1030.0,688.1 L1031.0,690.4 L1032.0,689.6 L1033.0,690.8 L1034.0,688.6 L1035.0,688.3 L1036.0,689.5 L1037.0,687.9 L1038.0,689.4 L1039.0,688.7 L1040.0,689.0 L1041.0,689.4 L1042.0,689.3 L1043.0,690.7 L1044.0,689.7 L1045.0,688.2 L1046.0,690.0 L1047.0,688.1 L1048.0,689.3 L1049.0,688.2 L1050.0,688.5 L1051.0,690.2 L1052.0,688.7 L1053.0,688.6 L1054.0,688.7 L1055.0,688.9 L1056.0,690.3 L1057.0,688.2 L1058.0,688.1 L1059.0,689.6 L1060.0,687.8 L1061.0,688.8 L1062.0,690.0 L1063.0,689.1 L1064.0,688.7 L1065.0,688.5 L1066.0,688.3 L1067.0,688.6 L1068.0,689.1 L1069.0,690.0 L1070.0,689.8 L1071.0,688.6 L1072.0,688.4 L1073.0,689.5 L1074.0,687.6 L1075.0,688.6 L1076.0,688.7 L1077.0,688.1 L1078.0,688.2 L1079.0,689.2 L1080.0,687.6 L1081.0,688.2 L1082.0,688.4 L1083.0,689.0 L1084.0,687.8 L1085.0,689.8 L1086.0,688.6 L1087.0,688.7 L1088.0,688.6 L1089.0,688.3 L1090.0,688.1 L1091.0,689.7 L1092.0,689.0 L1093.0,688.7 L1094.0,689.6 L1095.0,688.2 L1096.0,689.3 L1097.0,688.8 L1098.0,688.1 L1099.0,689.4 L1100.0,687.6 L1101.0,689.3 L1102.0,688.0 L1103.0,689.0 L1104.0,689.8 L1105.0,689.1 L1106.0,688.2 L1107.0,688.6 L1108.0,688.4 L1109.0,687.7 L1110.0,687.7 L1111.0,688.6 L1112.0,689.0 L1113.0,687.2 L1114.0,688.5 L1115.0,688.9 L1116.0,688.6 L1117.0,687.7 L1118.0,689.3 L1119.0,687.5 L1120.0,688.9 L1121.0,689.7 L1122.0,686.8 L1123.0,688.6 L1124.0,688.6 L1125.0,688.5 L1126.0,687.7 L1127.0,688.0 L1128.0,687.1 L1129.0,688.3 L1130.0,688.6 L1131.0,687.6 L1132.0,687.4 L1133.0,687.7 L1134.0,688.1 L1135.0,688.1 L1136.0,687.9 L1137.0,688.0 L1138.0,686.9 L1139.0,685.8 L1140.0,688.4 L1141.0,689.0 L1142.0,686.7 L1143.0,687.3 L1144.0,688.0 L1145.0,688.5 L1146.0,688.2 L1147.0,688.6 L1148.0,687.6 L1149.0,687.9 L1150.0,687.9 L1151.0,687.2 L1152.0,688.4 L1153.0,687.9 L1154.0,688.1 L1155.0,687.0 L1156.0,688.1 L1157.0,686.4 L1158.0,687.5 L1159.0,685.1 L1160.0,686.3 L1161.0,687.7 L1162.0,686.7 L1163.0,687.1 L1164.0,685.7 L1165.0,688.1 L1166.0,687.3 L1167.0,686.7 L1168.0,687.0 L1169.0,686.9 L1170.0,687.7 L1171.0,686.7 L1172.0,685.3 L1173.0,686.1 L1174.0,687.3 L1175.0,686.6 L1176.0,685.8 L1177.0,686.5 L1178.0,686.0 L1179.0,686.3 L1180.0,684.5 L1181.0,684.9 L1182.0,686.1 L1183.0,685.3 L1184.0,685.6 L1185.0,686.8 L1186.0,684.9 L1187.0,685.2 L1188.0,684.5 L1189.0,684.3 L1190.0,684.6 L1191.0,683.4 L1192.0,682.8 L1193.0,685.4 L1194.0,684.1 L1195.0,685.0 L1196.0,684.0 L1197.0,683.9 L1198.0,684.2 L1199.0,684.1 L1200.0,682.5 L1201.0,684.2 L1202.0,682.4 L1203.0,683.1 L1204.0,684.8 L1205.0,682.7 L1206.0,683.8 L1207.0,682.0 L1208.0,682.6 L1209.0,681.9 L1210.0,682.0 L1211.0,680.8 L1212.0,680.5 L1213.0,681.3 L1214.0,679.5 L1215.0,679.8 L1216.0,680.7 L1217.0,679.4 L1218.0,678.9 L1219.0,678.4 L1220.0,679.0 L1221.0,678.3 L1222.0,678.2 L1223.0,677.5 L1224.0,678.5 L1225.0,676.1 L1226.0,674.3 L1227.0,675.2 L1228.0,674.4 L1229.0,673.8 L1230.0,671.7 L1231.0,673.1 L1232.0,671.4 L1233.0,670.6 L1234.0,668.4 L1235.0,668.8 L1236.0,666.9 L1237.0,665.1 L1238.0,659.6 L1239.4,742.0 L1240.2,380.0" fill="none" stroke="#800000" stroke-width="5.0" stroke-linejoin="round" stroke-linecap="butt" />
<path d="M1258.6,546.0 L1258.6,677.0 L1261.5,661.0 L1262.6,676.0 L1263.0,675.0 L1264.0,676.7 L1265.0,676.5 L1266.0,678.2 L1267.0,677.6 L1268.0,678.8 L1269.0,679.2 L1270.0,679.8 L1271.0,679.9 L1272.0,680.1 L1273.0,681.1 L1274.0,681.1 L1275.0,682.0 L1276.0,682.0 L1277.0,680.8 L1278.0,682.8 L1279.0,684.3 L1280.0,683.7 L1281.0,684.1 L1282.0,684.2 L1283.0,683.7 L1284.0,683.3 L1285.0,685.2 L1286.0,685.5 L1287.0,685.4 L1288.0,685.4 L1289.0,685.6 L1290.0,685.4 L1291.0,685.8 L1292.0,685.8 L1293.0,686.2 L1294.0,685.3 L1295.0,685.7 L1296.0,686.8 L1297.0,686.2 L1298.0,684.7 L1299.0,686.7 L1300.0,685.0 L1301.0,688.3 L1302.0,687.4 L1303.0,687.5 L1304.0,686.5 L1305.0,686.2 L1306.0,687.0 L1307.0,687.3 L1308.0,686.7 L1309.0,687.5 L1310.0,688.0 L1311.0,688.0 L1312.0,686.8 L1313.0,686.0 L1314.0,687.7 L1315.0,687.3 L1316.0,688.2 L1317.0,689.1 L1318.0,689.2 L1319.0,688.2 L1320.0,688.9 L1321.0,689.3 L1322.0,688.2 L1323.0,688.4 L1324.0,688.9 L1325.0,688.2 L1326.0,687.9 L1327.0,687.8 L1328.0,688.4 L1329.0,687.9 L1330.0,689.1 L1331.0,688.2 L1332.0,689.6 L1333.0,689.5 L1334.0,687.6 L1335.0,689.4 L1336.0,688.3 L1337.0,689.7 L1338.0,689.1 L1339.0,688.7 L1340.0,689.3 L1341.0,688.3 L1342.0,689.0 L1343.0,689.1 L1344.0,688.7 L1345.0,689.1 L1346.0,688.1 L1347.0,689.3 L1348.0,688.0 L1349.0,689.4 L1350.0,689.3 L1351.0,689.5 L1352.0,688.6 L1353.0,691.3 L1354.0,688.9 L1355.0,689.2 L1356.0,688.5 L1357.0,690.2 L1358.0,688.7 L1359.0,689.9 L1360.0,688.4 L1361.0,689.4 L1362.0,688.9 L1363.0,689.9 L1364.0,689.0 L1365.0,688.6 L1366.0,689.6 L1367.0,688.3 L1368.0,688.5 L1369.0,689.9 L1370.0,687.9 L1371.0,689.9 L1372.0,689.0 L1373.0,688.6 L1374.0,689.5 L1375.0,689.8 L1376.0,688.9 L1377.0,689.3 L1378.0,690.0 L1379.0,690.0 L1380.0,689.4 L1381.0,688.9 L1382.0,688.7 L1383.0,689.0 L1384.0,690.0 L1385.0,689.9 L1386.0,689.7 L1387.0,690.5 L1388.0,689.3 L1389.0,689.2 L1390.0,689.2 L1391.0,691.0 L1392.0,688.0 L1393.0,689.8 L1394.0,689.9 L1395.0,689.6 L1396.0,691.3 L1397.0,690.4 L1398.0,690.2 L1399.0,688.9 L1400.0,690.0 L1401.0,689.3 L1402.0,689.6 L1403.0,689.7 L1404.0,689.2 L1405.0,690.1 L1406.0,690.8 L1407.0,690.4 L1408.0,689.8 L1409.0,688.1 L1410.0,690.4 L1411.0,690.4 L1412.0,689.5 L1413.0,689.3 L1414.0,690.1 L1415.0,689.0 L1416.0,690.2 L1417.0,688.8 L1418.0,688.9 L1419.0,689.6 L1420.0,688.5 L1421.0,689.6 L1422.0,690.0 L1423.0,688.7 L1424.0,690.3 L1425.0,689.2 L1426.0,690.1 L1427.0,689.8 L1428.0,689.3 L1429.0,689.3 L1430.0,688.4 L1431.0,689.1 L1432.0,689.1 L1433.0,690.9 L1434.0,690.4 L1435.0,688.7 L1436.0,690.3 L1437.0,689.9 L1438.0,689.4 L1439.0,690.0 L1440.0,690.3 L1441.0,689.3 L1442.0,689.5 L1443.0,689.8 L1444.0,689.0 L1445.0,689.8 L1446.0,689.6 L1447.0,689.2 L1448.0,689.1 L1449.0,689.9 L1450.0,690.4 L1451.0,690.0 L1452.0,689.1 L1453.0,690.3 L1454.0,689.8 L1455.0,690.2 L1456.0,690.6 L1457.0,689.0 L1458.0,689.6 L1459.0,689.3 L1460.0,689.1 L1461.0,691.2 L1462.0,690.4 L1463.0,688.4 L1464.0,690.1 L1465.0,689.3 L1466.0,690.6 L1467.0,689.8 L1468.0,689.6 L1469.0,689.9 L1470.0,690.0 L1471.0,689.8 L1472.0,689.6 L1473.0,689.6 L1474.0,690.1 L1475.0,688.9 L1476.0,689.8 L1477.0,689.7 L1478.0,689.4 L1479.0,690.3 L1480.0,688.8 L1481.0,689.5 L1482.0,689.1 L1483.0,690.2 L1484.0,689.4 L1485.0,689.8 L1486.0,690.1 L1487.0,688.6 L1488.0,690.1 L1489.0,689.2 L1490.0,689.6 L1491.0,689.7 L1492.0,690.4 L1493.0,690.3 L1494.0,691.1 L1495.0,689.9 L1496.0,689.4 L1497.0,689.4 L1498.0,690.3 L1499.0,691.0 L1500.0,690.0 L1501.0,689.4 L1502.0,690.0 L1503.0,690.0 L1504.0,689.8 L1505.0,689.2 L1506.0,687.9 L1507.0,689.4 L1508.0,690.6 L1509.0,689.9 L1510.0,688.1 L1511.0,689.8 L1512.0,688.4 L1513.0,691.3 L1514.0,689.9 L1515.0,688.9 L1516.0,690.4 L1517.0,689.2 L1518.0,690.2 L1519.0,689.8 L1520.0,688.9 L1521.0,690.3 L1522.0,688.8 L1523.0,690.8 L1524.0,689.8 L1525.0,689.0 L1526.0,688.4 L1527.0,691.0 L1528.0,690.9 L1529.0,688.9 L1530.0,691.0 L1531.0,689.9 L1532.0,689.6 L1533.0,689.7 L1534.0,689.6 L1535.0,690.9 L1536.0,689.9 L1537.0,688.4 L1538.0,691.4 L1539.0,690.5 L1540.0,689.0 L1541.0,689.5 L1542.0,689.1 L1543.0,689.8" fill="none" stroke="#800000" stroke-width="5.0" stroke-linejoin="round" stroke-linecap="butt" />
</g>
<rect x="937.9" y="404.4" width="603.9" height="336.1" fill="none" stroke="#000" stroke-width="3.4"/>
<path d="M205.8,760.0v10.0M205.8,1096.0v-10.0M266.3,760.0v5.2M266.3,1096.0v-5.2M326.9,760.0v10.0M326.9,1096.0v-10.0M387.5,760.0v5.2M387.5,1096.0v-5.2M448.1,760.0v10.0M448.1,1096.0v-10.0M508.6,760.0v5.2M508.6,1096.0v-5.2M569.2,760.0v10.0M569.2,1096.0v-10.0M629.8,760.0v5.2M629.8,1096.0v-5.2M690.3,760.0v10.0M690.3,1096.0v-10.0M145.2,816.0h5.2M750.9,816.0h-5.2M145.2,872.0h10.0M750.9,872.0h-10.0M145.2,928.0h5.2M750.9,928.0h-5.2M145.2,984.0h10.0M750.9,984.0h-10.0M145.2,1040.0h5.2M750.9,1040.0h-5.2" stroke="#000" stroke-width="3.0" fill="none"/>
<g clip-path="url(#cpe)">
<path d="M145.0,853.9 L146.0,853.3 L147.0,852.4 L148.0,852.5 L149.0,853.7 L150.0,854.5 L151.0,855.1 L152.0,853.8 L153.0,853.7 L154.0,853.3 L155.0,853.1 L156.0,854.2 L157.0,853.5 L158.0,852.3 L159.0,852.9 L160.0,853.5 L161.0,853.1 L162.0,854.4 L163.0,854.4 L164.0,854.0 L165.0,855.3 L166.0,855.9 L167.0,854.8 L168.0,854.7 L169.0,855.8 L170.0,855.1 L171.0,852.9 L172.0,852.5 L173.0,852.6 L174.0,852.0 L175.0,851.9 L176.0,853.5 L177.0,853.8 L178.0,854.0 L179.0,854.4 L180.0,853.3 L181.0,853.1 L182.0,853.2 L183.0,852.9 L184.0,853.3 L185.0,854.0 L186.0,854.2 L187.0,854.3 L188.0,853.1 L189.0,852.5 L190.0,851.8 L191.0,852.2 L192.0,853.1 L193.0,854.7 L194.0,854.9 L195.0,855.1 L196.0,856.1 L197.0,855.9 L198.0,854.3 L199.0,852.3 L200.0,851.5 L201.0,852.3 L202.0,852.5 L203.0,852.2 L204.0,851.9 L205.0,852.1 L206.0,853.4 L207.0,852.4 L208.0,852.3 L209.0,852.8 L210.0,852.3 L211.0,853.9 L212.0,854.4 L213.0,852.9 L214.0,851.8 L215.0,851.5 L216.0,851.8 L217.0,853.8 L218.0,853.5 L219.0,852.2 L220.0,852.4 L221.0,854.1 L222.0,854.4 L223.0,852.4 L224.0,851.4 L225.0,851.5 L226.0,853.3 L227.0,854.8 L228.0,855.6 L229.0,854.0 L230.0,852.6 L231.0,852.7 L232.0,853.1 L233.0,852.4 L234.0,853.5 L235.0,853.6 L236.0,852.6 L237.0,852.8 L238.0,854.8 L239.0,855.5 L240.0,854.1 L241.0,854.5 L242.0,855.1 L243.0,853.4 L244.0,852.3 L245.0,851.9 L246.0,852.6 L247.0,852.9 L248.0,852.5 L249.0,851.6 L250.0,850.7 L251.0,850.8 L252.0,851.9 L253.0,853.2 L254.0,852.7 L255.0,852.6 L256.0,853.9 L257.0,853.8 L258.0,852.6 L259.0,852.7 L260.0,853.9 L261.0,853.7 L262.0,852.8 L263.0,853.3 L264.0,853.9 L265.0,854.2 L266.0,853.5 L267.0,854.1 L268.0,853.8 L269.0,853.2 L270.0,854.4 L271.0,854.3 L272.0,853.4 L273.0,854.3 L274.0,852.7 L275.0,851.9 L276.0,853.0 L277.0,854.3 L278.0,854.4 L279.0,854.3 L280.0,855.1 L281.0,855.3 L282.0,856.5 L283.0,857.0 L284.0,853.8 L285.0,850.7 L286.0,851.3 L287.0,852.1 L288.0,853.0 L289.0,852.9 L290.0,851.7 L291.0,851.6 L292.0,852.4 L293.0,851.9 L294.0,851.1 L295.0,853.3 L296.0,853.9 L297.0,853.6 L298.0,853.3 L299.0,852.6 L300.0,853.5 L301.0,855.0 L302.0,855.3 L303.0,854.4 L304.0,853.2 L305.0,853.2 L306.0,854.7 L307.0,854.4 L308.0,852.3 L309.0,850.6 L310.0,850.7 L311.0,851.6 L312.0,853.9 L313.0,853.9 L314.0,852.9 L315.0,854.2 L316.0,856.6 L317.0,855.4 L318.0,852.7 L319.0,852.2 L320.0,851.3 L321.0,851.4 L322.0,854.1 L323.0,856.9 L324.0,856.4 L325.0,854.3 L326.0,853.4 L327.0,854.1 L328.0,854.0 L329.0,851.8 L330.0,851.9 L331.0,854.8 L332.0,855.5 L333.0,855.7 L334.0,855.4 L335.0,855.1 L336.0,854.0 L337.0,854.7 L338.0,856.0 L339.0,855.3 L340.0,854.1 L341.0,854.1 L342.0,852.7 L343.0,852.2 L344.0,854.2 L345.0,855.7 L346.0,854.7 L347.0,853.3 L348.0,854.4 L349.0,854.5 L350.0,852.4 L351.0,851.4 L352.0,854.0 L353.0,855.2 L354.0,853.8 L355.0,851.5 L356.0,851.9 L357.0,854.4 L358.0,855.3 L359.0,854.6 L360.0,853.9 L361.0,853.8 L362.0,853.2 L363.0,852.8 L364.0,852.8 L365.0,853.5 L366.0,853.9 L367.0,855.0 L368.0,854.7 L369.0,854.2 L370.0,854.9 L371.0,853.8 L372.0,854.4 L373.0,855.7 L374.0,854.7 L375.0,852.7 L376.0,854.6 L377.0,856.2 L378.0,854.9 L379.0,851.9 L380.0,852.1 L381.0,853.2 L382.0,854.0 L383.0,854.8 L384.0,854.4 L385.0,855.2 L386.0,854.3 L387.0,852.2 L388.0,851.9 L389.0,853.0 L390.0,854.2 L391.0,855.0 L392.0,854.6 L393.0,854.0 L394.0,851.2 L395.0,849.8 L396.0,852.2 L397.0,853.9 L398.0,853.3 L399.0,853.0 L400.0,854.9 L401.0,856.2 L402.0,854.5 L403.0,853.0 L404.0,853.7 L405.0,855.7 L406.0,855.3 L407.0,855.4 L408.0,856.2 L409.0,855.5 L410.0,854.2 L411.0,855.2 L412.0,855.7 L413.0,855.6 L414.0,855.2 L415.0,854.0 L416.0,853.6 L417.0,853.9 L418.0,854.4 L419.0,853.9 L420.0,853.8 L421.0,853.1 L422.0,853.3 L423.0,853.6 L424.0,853.9 L425.0,854.2 L426.0,853.9 L427.0,852.9 L428.0,852.4 L429.0,853.9 L430.0,853.3 L431.0,852.3 L432.0,851.9 L433.0,852.0 L434.0,850.8 L435.0,850.7 L436.0,850.8 L437.0,850.2 L438.0,848.9 L439.0,847.1 L440.0,845.9 L441.0,847.4 L442.0,848.2 L443.0,847.8 L444.0,847.2 L445.0,846.9 L446.5,1000.0 L447.0,1083.0 L460.2,1083.0 L460.8,848.0 L461.0,849.7 L462.0,851.8 L463.0,851.9 L464.0,850.6 L465.0,851.5 L466.0,852.2 L467.0,852.7 L468.0,853.0 L469.0,853.9 L470.0,854.3 L471.0,853.3 L472.0,852.0 L473.0,853.3 L474.0,853.3 L475.0,852.9 L476.0,853.8 L477.0,853.9 L478.0,856.3 L479.0,857.7 L480.0,856.8 L481.0,857.6 L482.0,858.2 L483.0,857.6 L484.0,856.6 L485.0,857.7 L486.0,858.2 L487.0,858.0 L488.0,857.4 L489.0,857.3 L490.0,856.6 L491.0,856.6 L492.0,856.7 L493.0,856.0 L494.0,855.9 L495.0,855.4 L496.0,854.7 L497.0,854.3 L498.0,855.4 L499.0,855.8 L500.0,855.0 L501.0,855.0 L502.0,854.1 L503.0,853.0 L504.0,854.2 L505.0,855.0 L506.0,852.8 L507.0,851.4 L508.0,852.6 L509.0,853.9 L510.0,855.5 L511.0,854.5 L512.0,853.3 L513.0,852.9 L514.0,853.2 L515.0,852.5 L516.0,852.1 L517.0,852.6 L518.0,853.2 L519.0,854.0 L520.0,852.7 L521.0,852.4 L522.0,851.9 L523.0,852.3 L524.0,853.6 L525.0,852.6 L526.0,853.4 L527.0,852.7 L528.0,854.0 L529.0,854.9 L530.0,851.5 L531.0,851.5 L532.0,854.3 L533.0,854.0 L534.0,852.9 L535.0,852.6 L536.0,852.4 L537.0,853.9 L538.0,855.1 L539.0,854.0 L540.0,854.3 L541.0,856.0 L542.0,856.2 L543.0,854.0 L544.0,853.3 L545.0,852.6 L546.0,852.1 L547.0,852.2 L548.0,851.4 L549.0,849.9 L550.0,849.7 L551.0,851.5 L552.0,853.7 L553.0,854.6 L554.0,853.4 L555.0,853.4 L556.0,854.5 L557.0,854.6 L558.0,853.8 L559.0,854.3 L560.0,855.4 L561.0,853.7 L562.0,851.9 L563.0,851.4 L564.0,853.0 L565.0,854.3 L566.0,855.4 L567.0,854.5 L568.0,854.9 L569.0,855.8 L570.0,855.3 L571.0,853.7 L572.0,854.6 L573.0,854.1 L574.0,853.2 L575.0,852.8 L576.0,852.5 L577.0,851.5 L578.0,850.7 L579.0,852.7 L580.0,853.1 L581.0,852.4 L582.0,854.1 L583.0,856.2 L584.0,855.0 L585.0,854.2 L586.0,854.8 L587.0,853.3 L588.0,852.6 L589.0,852.5 L590.0,853.2 L591.0,854.4 L592.0,854.1 L593.0,852.8 L594.0,852.9 L595.0,853.2 L596.0,852.9 L597.0,852.7 L598.0,852.1 L599.0,852.1 L600.0,852.5 L601.0,852.4 L602.0,853.2 L603.0,852.8 L604.0,851.8 L605.0,851.9 L606.0,852.3 L607.0,852.9 L608.0,853.2 L609.0,852.8 L610.0,853.1 L611.0,855.1 L612.0,855.3 L613.0,854.6 L614.0,854.8 L615.0,854.1 L616.0,853.5 L617.0,854.8 L618.0,857.1 L619.0,856.5 L620.0,855.1 L621.0,853.9 L622.0,855.1 L623.0,856.6 L624.0,855.7 L625.0,855.7 L626.0,855.9 L627.0,855.7 L628.0,855.8 L629.0,854.7 L630.0,853.9 L631.0,854.3 L632.0,856.3 L633.0,855.2 L634.0,854.5 L635.0,854.8 L636.0,853.5 L637.0,852.7 L638.0,852.4 L639.0,852.8 L640.0,853.1 L641.0,853.7 L642.0,853.1 L643.0,852.4 L644.0,852.6 L645.0,852.8 L646.0,853.2 L647.0,854.5 L648.0,854.6 L649.0,853.3 L650.0,852.2 L651.0,852.6 L652.0,852.1 L653.0,852.9 L654.0,853.0 L655.0,852.2 L656.0,851.8 L657.0,853.1 L658.0,855.1 L659.0,854.0 L660.0,853.6 L661.0,854.6 L662.0,854.8 L663.0,854.1 L664.0,852.0 L665.0,853.2 L666.0,856.5 L667.0,854.8 L668.0,853.2 L669.0,853.8 L670.0,853.9 L671.0,852.6 L672.0,853.1 L673.0,853.7 L674.0,854.1 L675.0,853.5 L676.0,852.2 L677.0,850.8 L678.0,850.4 L679.0,852.3 L680.0,851.8 L681.0,852.9 L682.0,854.7 L683.0,854.0 L684.0,853.8 L685.0,853.7 L686.0,854.0 L687.0,853.5 L688.0,853.4 L689.0,854.4 L690.0,852.9 L691.0,851.5 L692.0,852.4 L693.0,853.1 L694.0,852.7 L695.0,854.1 L696.0,855.6 L697.0,855.9 L698.0,854.0 L699.0,852.9 L700.0,851.4 L701.0,852.0 L702.0,853.3 L703.0,853.7 L704.0,853.4 L705.0,852.8 L706.0,852.3 L707.0,852.6 L708.0,853.7 L709.0,854.5 L710.0,854.9 L711.0,855.3 L712.0,854.2 L713.0,851.6 L714.0,851.6 L715.0,852.4 L716.0,853.0 L717.0,854.5 L718.0,854.6 L719.0,853.7 L720.0,854.0 L721.0,854.6 L722.0,853.4 L723.0,853.3 L724.0,854.5 L725.0,855.1 L726.0,855.4 L727.0,854.8 L728.0,854.1 L729.0,852.5 L730.0,851.8 L731.0,851.3 L732.0,850.4 L733.0,852.8 L734.0,854.5 L735.0,853.8 L736.0,853.7 L737.0,854.4 L738.0,854.4 L739.0,855.6 L740.0,856.8 L741.0,855.8 L742.0,855.1 L743.0,854.5 L744.0,854.0 L745.0,853.8 L746.0,854.0 L747.0,853.7 L748.0,851.9 L749.0,852.5 L750.0,853.3 L751.0,852.1" fill="none" stroke="#000" stroke-width="6.5" stroke-linejoin="round" stroke-linecap="butt" />
<path d="M145.0,864.7 L146.0,864.5 L147.0,865.5 L148.0,866.5 L149.0,866.9 L150.0,865.8 L151.0,864.6 L152.0,865.2 L153.0,866.1 L154.0,865.8 L155.0,863.6 L156.0,864.0 L157.0,863.6 L158.0,865.2 L159.0,865.8 L160.0,866.0 L161.0,866.1 L162.0,865.5 L163.0,864.7 L164.0,865.5 L165.0,866.2 L166.0,865.3 L167.0,864.6 L168.0,864.2 L169.0,865.5 L170.0,864.6 L171.0,863.9 L172.0,864.0 L173.0,863.9 L174.0,864.9 L175.0,866.4 L176.0,866.7 L177.0,867.1 L178.0,866.6 L179.0,864.8 L180.0,865.7 L181.0,867.3 L182.0,867.2 L183.0,863.9 L184.0,863.3 L185.0,864.7 L186.0,864.4 L187.0,864.0 L188.0,864.6 L189.0,863.5 L190.0,862.5 L191.0,864.2 L192.0,865.2 L193.0,865.9 L194.0,866.1 L195.0,865.3 L196.0,864.5 L197.0,863.6 L198.0,863.0 L199.0,864.3 L200.0,865.9 L201.0,866.6 L202.0,867.0 L203.0,864.9 L204.0,863.5 L205.0,865.4 L206.0,865.7 L207.0,863.6 L208.0,863.0 L209.0,864.7 L210.0,865.2 L211.0,863.9 L212.0,863.9 L213.0,863.6 L214.0,863.0 L215.0,863.2 L216.0,864.4 L217.0,864.3 L218.0,863.2 L219.0,862.7 L220.0,865.3 L221.0,864.5 L222.0,864.1 L223.0,863.8 L224.0,864.3 L225.0,863.6 L226.0,864.4 L227.0,865.0 L228.0,865.3 L229.0,863.9 L230.0,863.8 L231.0,865.1 L232.0,866.3 L233.0,864.3 L234.0,864.4 L235.0,864.4 L236.0,865.2 L237.0,865.6 L238.0,865.3 L239.0,865.2 L240.0,865.0 L241.0,864.3 L242.0,863.9 L243.0,863.0 L244.0,863.7 L245.0,863.9 L246.0,864.6 L247.0,865.6 L248.0,865.6 L249.0,865.8 L250.0,865.2 L251.0,863.1 L252.0,864.4 L253.0,864.9 L254.0,864.3 L255.0,863.7 L256.0,865.3 L257.0,866.4 L258.0,866.2 L259.0,865.3 L260.0,865.8 L261.0,866.6 L262.0,867.3 L263.0,866.7 L264.0,865.4 L265.0,865.0 L266.0,865.1 L267.0,864.9 L268.0,864.7 L269.0,865.1 L270.0,864.1 L271.0,863.9 L272.0,864.7 L273.0,864.3 L274.0,863.7 L275.0,863.0 L276.0,864.8 L277.0,865.0 L278.0,864.9 L279.0,865.3 L280.0,865.0 L281.0,864.9 L282.0,866.3 L283.0,865.4 L284.0,866.2 L285.0,866.7 L286.0,864.9 L287.0,864.4 L288.0,864.4 L289.0,865.4 L290.0,864.5 L291.0,864.1 L292.0,866.0 L293.0,865.8 L294.0,864.7 L295.0,865.8 L296.0,866.3 L297.0,868.1 L298.0,867.2 L299.0,864.8 L300.0,864.1 L301.0,863.9 L302.0,864.7 L303.0,865.1 L304.0,865.5 L305.0,864.6 L306.0,863.2 L307.0,864.0 L308.0,866.2 L309.0,866.3 L310.0,865.0 L311.0,864.6 L312.0,864.6 L313.0,864.2 L314.0,863.5 L315.0,864.9 L316.0,864.5 L317.0,863.9 L318.0,862.5 L319.0,864.6 L320.0,865.4 L321.0,863.7 L322.0,865.7 L323.0,865.5 L324.0,863.8 L325.0,863.5 L326.0,865.5 L327.0,865.7 L328.0,865.4 L329.0,864.5 L330.0,864.3 L331.0,865.1 L332.0,864.5 L333.0,864.8 L334.0,863.2 L335.0,862.9 L336.0,863.5 L337.0,865.0 L338.0,863.2 L339.0,863.4 L340.0,865.2 L341.0,866.1 L342.0,867.7 L343.0,867.6 L344.0,866.4 L345.0,865.1 L346.0,863.1 L347.0,863.3 L348.0,864.2 L349.0,864.1 L350.0,863.2 L351.0,863.3 L352.0,864.1 L353.0,865.8 L354.0,865.6 L355.0,864.7 L356.0,864.6 L357.0,864.9 L358.0,864.2 L359.0,863.9 L360.0,863.4 L361.0,865.3 L362.0,866.2 L363.0,865.8 L364.0,865.7 L365.0,866.2 L366.0,867.1 L367.0,865.4 L368.0,863.4 L369.0,863.8 L370.0,865.6 L371.0,866.5 L372.0,866.4 L373.0,866.1 L374.0,864.9 L375.0,863.3 L376.0,863.1 L377.0,862.8 L378.0,863.5 L379.0,863.5 L380.0,864.5 L381.0,864.2 L382.0,863.3 L383.0,865.2 L384.0,865.5 L385.0,864.0 L386.0,864.9 L387.0,865.6 L388.0,865.3 L389.0,865.8 L390.0,865.8 L391.0,866.2 L392.0,865.5 L393.0,865.1 L394.0,865.7 L395.0,866.0 L396.0,865.3 L397.0,864.4 L398.0,863.9 L399.0,864.1 L400.0,864.4 L401.0,865.0 L402.0,865.2 L403.0,865.0 L404.0,865.0 L405.0,865.7 L406.0,866.9 L407.0,866.5 L408.0,865.0 L409.0,865.0 L410.0,864.7 L411.0,864.6 L412.0,864.4 L413.0,863.7 L414.0,862.5 L415.0,862.0 L416.0,864.5 L417.0,865.6 L418.0,864.4 L419.0,864.8 L420.0,864.5 L421.0,864.5 L422.0,863.8 L423.0,864.0 L424.0,863.5 L425.0,862.2 L426.0,863.6 L427.0,863.1 L428.0,861.4 L429.0,862.8 L430.0,862.6 L431.0,862.0 L432.0,861.2 L433.0,859.3 L434.0,857.3 L435.0,856.2 L436.0,855.8 L437.0,856.8 L438.0,855.3 L439.0,851.9 L440.0,850.5 L441.0,850.8 L442.0,850.9 L443.0,849.7 L444.0,849.1 L445.6,1000.0 L446.5,1083.0 L456.2,1083.0 L456.6,858.0 L457.0,861.5 L458.0,861.0 L459.0,859.5 L460.0,859.7 L461.0,861.3 L462.0,863.0 L463.0,863.7 L464.0,863.0 L465.0,862.4 L466.0,863.9 L467.0,864.7 L468.0,864.4 L469.0,864.2 L470.0,864.8 L471.0,864.2 L472.0,863.5 L473.0,863.8 L474.0,863.7 L475.0,865.0 L476.0,864.8 L477.0,863.9 L478.0,864.7 L479.0,864.9 L480.0,863.0 L481.0,864.2 L482.0,865.3 L483.0,863.6 L484.0,863.5 L485.0,863.2 L486.0,863.2 L487.0,861.9 L488.0,862.2 L489.0,863.6 L490.0,864.5 L491.0,865.0 L492.0,865.3 L493.0,865.8 L494.0,865.6 L495.0,865.0 L496.0,863.9 L497.0,865.1 L498.0,867.8 L499.0,867.6 L500.0,866.2 L501.0,865.7 L502.0,865.5 L503.0,865.1 L504.0,865.9 L505.0,864.8 L506.0,865.0 L507.0,865.7 L508.0,863.5 L509.0,863.7 L510.0,862.9 L511.0,863.4 L512.0,864.1 L513.0,864.2 L514.0,864.3 L515.0,863.9 L516.0,863.8 L517.0,863.3 L518.0,863.4 L519.0,863.4 L520.0,864.3 L521.0,863.8 L522.0,864.6 L523.0,864.3 L524.0,864.5 L525.0,865.4 L526.0,864.4 L527.0,863.1 L528.0,863.5 L529.0,862.3 L530.0,863.7 L531.0,863.8 L532.0,863.2 L533.0,864.1 L534.0,864.9 L535.0,866.0 L536.0,865.4 L537.0,866.5 L538.0,866.1 L539.0,864.2 L540.0,864.1 L541.0,865.3 L542.0,864.8 L543.0,864.5 L544.0,864.0 L545.0,863.3 L546.0,863.5 L547.0,863.1 L548.0,862.9 L549.0,864.4 L550.0,866.4 L551.0,866.4 L552.0,865.0 L553.0,864.8 L554.0,865.4 L555.0,865.9 L556.0,865.1 L557.0,864.1 L558.0,864.4 L559.0,866.2 L560.0,866.9 L561.0,864.2 L562.0,862.9 L563.0,864.6 L564.0,864.7 L565.0,865.0 L566.0,865.6 L567.0,864.5 L568.0,862.8 L569.0,862.4 L570.0,863.5 L571.0,863.6 L572.0,864.0 L573.0,863.4 L574.0,863.4 L575.0,863.0 L576.0,863.6 L577.0,864.2 L578.0,865.3 L579.0,865.8 L580.0,864.6 L581.0,864.4 L582.0,866.1 L583.0,865.6 L584.0,865.4 L585.0,865.7 L586.0,866.3 L587.0,866.1 L588.0,865.7 L589.0,865.2 L590.0,863.9 L591.0,863.7 L592.0,864.3 L593.0,864.6 L594.0,864.7 L595.0,864.8 L596.0,864.5 L597.0,863.7 L598.0,863.3 L599.0,864.9 L600.0,865.0 L601.0,864.2 L602.0,864.9 L603.0,865.0 L604.0,864.2 L605.0,862.6 L606.0,862.8 L607.0,864.1 L608.0,865.5 L609.0,864.2 L610.0,863.7 L611.0,863.4 L612.0,863.9 L613.0,864.0 L614.0,862.0 L615.0,861.7 L616.0,864.3 L617.0,864.6 L618.0,864.4 L619.0,865.5 L620.0,865.1 L621.0,863.1 L622.0,864.2 L623.0,865.3 L624.0,864.3 L625.0,864.4 L626.0,865.2 L627.0,864.3 L628.0,863.3 L629.0,863.3 L630.0,863.4 L631.0,864.2 L632.0,863.6 L633.0,864.5 L634.0,863.5 L635.0,863.7 L636.0,863.3 L637.0,864.2 L638.0,865.8 L639.0,866.3 L640.0,866.1 L641.0,865.0 L642.0,864.8 L643.0,865.1 L644.0,865.2 L645.0,864.9 L646.0,865.6 L647.0,865.6 L648.0,865.9 L649.0,865.6 L650.0,865.2 L651.0,864.1 L652.0,863.7 L653.0,863.4 L654.0,864.0 L655.0,864.7 L656.0,865.0 L657.0,864.9 L658.0,867.1 L659.0,866.0 L660.0,866.1 L661.0,865.2 L662.0,862.8 L663.0,864.2 L664.0,865.1 L665.0,863.3 L666.0,864.4 L667.0,864.0 L668.0,864.1 L669.0,864.2 L670.0,863.3 L671.0,864.2 L672.0,864.0 L673.0,864.2 L674.0,866.2 L675.0,868.1 L676.0,866.4 L677.0,865.4 L678.0,864.7 L679.0,864.3 L680.0,865.3 L681.0,866.3 L682.0,865.7 L683.0,865.7 L684.0,865.7 L685.0,866.5 L686.0,864.4 L687.0,865.1 L688.0,865.6 L689.0,864.9 L690.0,863.7 L691.0,863.5 L692.0,864.3 L693.0,864.5 L694.0,863.6 L695.0,863.8 L696.0,865.4 L697.0,865.8 L698.0,864.6 L699.0,864.0 L700.0,864.9 L701.0,867.0 L702.0,866.1 L703.0,865.5 L704.0,866.6 L705.0,867.6 L706.0,866.3 L707.0,864.2 L708.0,864.4 L709.0,864.5 L710.0,864.3 L711.0,863.8 L712.0,864.1 L713.0,864.2 L714.0,865.1 L715.0,864.9 L716.0,863.5 L717.0,863.2 L718.0,864.5 L719.0,865.8 L720.0,865.9 L721.0,864.4 L722.0,862.4 L723.0,863.7 L724.0,864.5 L725.0,864.6 L726.0,864.2 L727.0,864.6 L728.0,865.7 L729.0,868.0 L730.0,867.0 L731.0,865.8 L732.0,865.6 L733.0,865.7 L734.0,865.8 L735.0,865.5 L736.0,866.1 L737.0,867.0 L738.0,867.1 L739.0,866.9 L740.0,867.3 L741.0,866.3 L742.0,864.8 L743.0,864.1 L744.0,865.0 L745.0,866.1 L746.0,866.9 L747.0,867.1 L748.0,865.9 L749.0,865.8 L750.0,867.2 L751.0,868.1" fill="none" stroke="#ff0000" stroke-width="5.0" stroke-linejoin="round" stroke-linecap="butt" />
<path d="M145.0,979.8 L146.0,981.3 L147.0,982.5 L148.0,981.5 L149.0,979.5 L150.0,978.6 L151.0,981.2 L152.0,981.9 L153.0,980.7 L154.0,979.2 L155.0,978.5 L156.0,979.5 L157.0,980.7 L158.0,981.1 L159.0,980.3 L160.0,981.6 L161.0,981.8 L162.0,981.4 L163.0,980.1 L164.0,981.0 L165.0,982.0 L166.0,980.4 L167.0,978.5 L168.0,979.3 L169.0,979.9 L170.0,978.1 L171.0,977.8 L172.0,979.2 L173.0,979.5 L174.0,979.9 L175.0,978.1 L176.0,977.0 L177.0,979.0 L178.0,981.1 L179.0,980.0 L180.0,980.0 L181.0,980.1 L182.0,979.9 L183.0,981.3 L184.0,981.2 L185.0,979.9 L186.0,977.3 L187.0,975.5 L188.0,975.6 L189.0,978.3 L190.0,980.2 L191.0,981.9 L192.0,982.4 L193.0,980.7 L194.0,980.2 L195.0,981.5 L196.0,981.9 L197.0,980.4 L198.0,980.5 L199.0,980.1 L200.0,980.1 L201.0,980.5 L202.0,979.1 L203.0,978.8 L204.0,980.3 L205.0,980.3 L206.0,979.8 L207.0,980.1 L208.0,980.5 L209.0,980.4 L210.0,981.2 L211.0,982.0 L212.0,983.0 L213.0,983.0 L214.0,981.9 L215.0,980.4 L216.0,980.0 L217.0,981.0 L218.0,983.2 L219.0,981.7 L220.0,981.4 L221.0,981.2 L222.0,978.6 L223.0,978.0 L224.0,978.3 L225.0,977.7 L226.0,977.5 L227.0,979.3 L228.0,981.6 L229.0,981.5 L230.0,980.3 L231.0,979.1 L232.0,978.2 L233.0,979.9 L234.0,980.1 L235.0,978.8 L236.0,979.3 L237.0,979.2 L238.0,978.4 L239.0,977.8 L240.0,977.8 L241.0,978.4 L242.0,979.9 L243.0,980.5 L244.0,980.2 L245.0,979.5 L246.0,980.1 L247.0,980.9 L248.0,979.1 L249.0,980.3 L250.0,980.6 L251.0,979.6 L252.0,978.8 L253.0,978.2 L254.0,977.1 L255.0,976.9 L256.0,977.6 L257.0,977.8 L258.0,980.0 L259.0,979.2 L260.0,974.9 L261.0,975.7 L262.0,978.8 L263.0,979.8 L264.0,979.9 L265.0,980.4 L266.0,981.1 L267.0,981.9 L268.0,982.2 L269.0,980.8 L270.0,979.6 L271.0,977.6 L272.0,977.6 L273.0,978.5 L274.0,981.7 L275.0,983.1 L276.0,980.6 L277.0,978.0 L278.0,978.4 L279.0,979.3 L280.0,980.1 L281.0,981.0 L282.0,979.5 L283.0,977.2 L284.0,979.0 L285.0,978.9 L286.0,978.9 L287.0,980.2 L288.0,978.6 L289.0,976.4 L290.0,976.6 L291.0,978.7 L292.0,980.7 L293.0,980.9 L294.0,979.0 L295.0,978.5 L296.0,979.6 L297.0,978.9 L298.0,979.2 L299.0,978.4 L300.0,977.3 L301.0,976.6 L302.0,976.2 L303.0,975.2 L304.0,974.6 L305.0,974.6 L306.0,974.6 L307.0,975.2 L308.0,975.1 L309.0,974.6 L310.0,974.5 L311.0,975.6 L312.0,977.2 L313.0,976.2 L314.0,975.2 L315.0,976.1 L316.0,977.4 L317.0,977.4 L318.0,977.5 L319.0,978.0 L320.0,978.9 L321.0,979.6 L322.0,978.7 L323.0,976.4 L324.0,975.1 L325.0,975.2 L326.0,978.7 L327.0,980.8 L328.0,980.6 L329.0,979.5 L330.0,979.1 L331.0,977.7 L332.0,975.9 L333.0,974.1 L334.0,974.1 L335.0,975.3 L336.0,977.2 L337.0,977.3 L338.0,975.0 L339.0,974.1 L340.0,972.9 L341.0,970.3 L342.0,968.1 L343.0,967.5 L344.0,966.9 L345.0,967.2 L346.0,967.2 L347.0,966.6 L348.0,966.2 L349.0,965.7 L350.0,964.7 L351.0,964.4 L352.0,962.9 L353.0,963.8 L354.0,964.5 L355.0,963.4 L356.0,963.7 L357.0,966.3 L358.0,967.9 L359.0,970.2 L360.0,971.9 L361.0,972.4 L362.0,973.8 L363.0,975.8 L364.0,976.1 L365.0,975.8 L366.0,977.3 L367.0,978.6 L368.0,978.6 L369.0,978.2 L370.0,977.7 L371.0,976.9 L372.0,975.7 L373.0,975.8 L374.0,977.6 L375.0,977.0 L376.0,976.1 L377.0,975.0 L378.0,975.5 L379.0,976.8 L380.0,978.5 L381.0,975.4 L382.0,973.8 L383.0,975.1 L384.0,973.7 L385.0,970.0 L386.0,970.1 L387.0,969.6 L388.0,967.0 L389.0,966.0 L390.0,963.8 L391.0,961.6 L392.0,960.6 L393.0,958.9 L394.0,957.9 L395.0,958.4 L396.0,954.9 L397.0,952.1 L398.0,951.4 L399.0,950.2 L400.0,949.3 L401.0,947.5 L402.0,946.9 L403.0,947.1 L404.0,947.8 L405.0,949.0 L406.0,951.8 L407.0,954.9 L408.0,955.3 L409.0,956.7 L410.0,959.5 L411.0,962.9 L412.0,966.2 L413.0,968.5 L414.0,969.8 L415.0,972.9 L416.0,975.3 L417.0,976.5 L418.0,976.4 L419.0,974.9 L420.0,975.5 L421.0,974.5 L422.0,971.9 L423.0,971.8 L424.0,971.5 L425.0,968.6 L426.0,965.9 L427.0,961.9 L428.0,957.0 L429.0,952.6 L430.0,949.5 L431.0,946.7 L432.0,941.3 L433.0,934.7 L434.0,929.2 L435.0,921.8 L436.0,914.1 L437.0,907.0 L438.0,898.2 L439.0,890.0 L440.0,882.5 L441.0,872.6 L442.0,864.8 L443.0,857.0 L444.0,851.1 L445.0,845.5 L446.8,1000.0 L447.5,1083.0 L457.8,1083.0 L458.6,930.0 L459.7,896.0 L460.0,893.9 L461.0,895.3 L462.0,899.9 L463.0,904.2 L464.0,908.6 L465.0,915.7 L466.0,923.2 L467.0,928.9 L468.0,934.3 L469.0,939.1 L470.0,945.6 L471.0,952.5 L472.0,958.6 L473.0,961.5 L474.0,963.8 L475.0,966.3 L476.0,967.8 L477.0,970.8 L478.0,972.2 L479.0,973.9 L480.0,976.4 L481.0,976.9 L482.0,975.9 L483.0,973.1 L484.0,972.0 L485.0,970.3 L486.0,967.8 L487.0,965.7 L488.0,966.1 L489.0,964.0 L490.0,959.8 L491.0,956.4 L492.0,955.2 L493.0,954.9 L494.0,952.4 L495.0,950.2 L496.0,949.0 L497.0,947.4 L498.0,946.4 L499.0,945.8 L500.0,945.3 L501.0,944.7 L502.0,944.2 L503.0,946.3 L504.0,948.9 L505.0,951.8 L506.0,954.2 L507.0,956.1 L508.0,959.0 L509.0,962.3 L510.0,963.6 L511.0,965.5 L512.0,969.6 L513.0,972.2 L514.0,972.9 L515.0,973.9 L516.0,974.8 L517.0,976.8 L518.0,979.0 L519.0,979.0 L520.0,977.7 L521.0,975.8 L522.0,974.6 L523.0,975.7 L524.0,976.6 L525.0,977.3 L526.0,977.3 L527.0,975.6 L528.0,973.9 L529.0,972.4 L530.0,973.4 L531.0,973.8 L532.0,973.4 L533.0,972.2 L534.0,971.5 L535.0,971.0 L536.0,969.2 L537.0,969.4 L538.0,969.1 L539.0,966.7 L540.0,965.8 L541.0,966.9 L542.0,967.3 L543.0,967.5 L544.0,966.8 L545.0,965.7 L546.0,966.7 L547.0,967.9 L548.0,967.5 L549.0,967.6 L550.0,968.9 L551.0,972.4 L552.0,974.0 L553.0,972.9 L554.0,974.6 L555.0,976.0 L556.0,975.5 L557.0,975.4 L558.0,975.5 L559.0,976.5 L560.0,978.1 L561.0,978.9 L562.0,979.0 L563.0,979.1 L564.0,978.1 L565.0,977.5 L566.0,979.5 L567.0,979.6 L568.0,978.5 L569.0,979.6 L570.0,979.2 L571.0,978.9 L572.0,978.3 L573.0,974.6 L574.0,974.5 L575.0,976.9 L576.0,976.7 L577.0,976.7 L578.0,978.5 L579.0,977.7 L580.0,975.6 L581.0,976.2 L582.0,978.6 L583.0,978.8 L584.0,976.3 L585.0,976.8 L586.0,976.7 L587.0,976.0 L588.0,976.7 L589.0,976.9 L590.0,978.9 L591.0,981.8 L592.0,982.2 L593.0,982.3 L594.0,982.4 L595.0,982.6 L596.0,982.4 L597.0,981.0 L598.0,981.6 L599.0,982.8 L600.0,982.0 L601.0,982.6 L602.0,984.8 L603.0,985.0 L604.0,982.8 L605.0,982.3 L606.0,983.6 L607.0,983.6 L608.0,983.2 L609.0,984.2 L610.0,984.8 L611.0,985.8 L612.0,988.1 L613.0,987.5 L614.0,986.5 L615.0,987.3 L616.0,988.7 L617.0,986.6 L618.0,984.2 L619.0,984.2 L620.0,984.0 L621.0,983.6 L622.0,984.1 L623.0,984.2 L624.0,983.6 L625.0,983.3 L626.0,983.2 L627.0,982.1 L628.0,983.0 L629.0,983.0 L630.0,981.5 L631.0,980.3 L632.0,981.6 L633.0,979.9 L634.0,979.8 L635.0,981.0 L636.0,980.2 L637.0,978.8 L638.0,977.6 L639.0,979.0 L640.0,980.9 L641.0,981.4 L642.0,980.8 L643.0,981.0 L644.0,981.0 L645.0,980.0 L646.0,980.8 L647.0,982.6 L648.0,981.9 L649.0,982.6 L650.0,983.0 L651.0,983.2 L652.0,982.1 L653.0,982.4 L654.0,982.6 L655.0,982.2 L656.0,982.1 L657.0,981.6 L658.0,981.8 L659.0,982.4 L660.0,983.2 L661.0,982.2 L662.0,980.8 L663.0,981.4 L664.0,982.0 L665.0,982.4 L666.0,984.2 L667.0,984.5 L668.0,983.8 L669.0,982.4 L670.0,982.6 L671.0,983.2 L672.0,982.1 L673.0,982.8 L674.0,983.1 L675.0,982.6 L676.0,982.5 L677.0,982.0 L678.0,982.2 L679.0,981.3 L680.0,981.9 L681.0,983.8 L682.0,982.1 L683.0,981.1 L684.0,982.8 L685.0,981.0 L686.0,978.9 L687.0,982.0 L688.0,984.7 L689.0,985.4 L690.0,985.8 L691.0,984.6 L692.0,983.8 L693.0,982.9 L694.0,984.1 L695.0,985.7 L696.0,985.0 L697.0,983.1 L698.0,981.1 L699.0,981.4 L700.0,982.2 L701.0,983.4 L702.0,983.2 L703.0,983.2 L704.0,983.5 L705.0,984.7 L706.0,983.4 L707.0,984.7 L708.0,986.8 L709.0,984.9 L710.0,983.2 L711.0,984.5 L712.0,985.5 L713.0,984.2 L714.0,981.8 L715.0,981.8 L716.0,982.1 L717.0,984.7 L718.0,984.4 L719.0,983.6 L720.0,984.4 L721.0,984.0 L722.0,983.4 L723.0,984.7 L724.0,983.3 L725.0,982.3 L726.0,985.2 L727.0,986.8 L728.0,986.3 L729.0,984.6 L730.0,983.5 L731.0,985.3 L732.0,986.8 L733.0,986.5 L734.0,985.7 L735.0,984.2 L736.0,984.9 L737.0,984.4 L738.0,981.5 L739.0,980.5 L740.0,981.9 L741.0,983.5 L742.0,984.0 L743.0,983.6 L744.0,983.4 L745.0,983.5 L746.0,984.0 L747.0,984.6 L748.0,984.5 L749.0,984.0 L750.0,983.7 L751.0,983.0" fill="none" stroke="#00ff00" stroke-width="6.0" stroke-linejoin="round" stroke-linecap="butt" />
<path d="M145.0,1028.6 L146.0,1028.4 L147.0,1029.0 L148.0,1028.6 L149.0,1028.0 L150.0,1027.4 L151.0,1027.6 L152.0,1028.0 L153.0,1027.9 L154.0,1027.3 L155.0,1027.1 L156.0,1027.8 L157.0,1028.5 L158.0,1029.0 L159.0,1029.1 L160.0,1027.7 L161.0,1026.5 L162.0,1026.7 L163.0,1026.3 L164.0,1027.0 L165.0,1028.7 L166.0,1028.7 L167.0,1027.8 L168.0,1027.5 L169.0,1027.4 L170.0,1027.1 L171.0,1028.0 L172.0,1028.7 L173.0,1029.2 L174.0,1028.4 L175.0,1028.5 L176.0,1028.4 L177.0,1028.5 L178.0,1028.1 L179.0,1028.4 L180.0,1027.9 L181.0,1027.5 L182.0,1028.0 L183.0,1028.7 L184.0,1029.3 L185.0,1029.8 L186.0,1028.5 L187.0,1026.4 L188.0,1026.4 L189.0,1026.4 L190.0,1027.4 L191.0,1028.0 L192.0,1027.0 L193.0,1026.9 L194.0,1027.7 L195.0,1028.5 L196.0,1029.3 L197.0,1029.1 L198.0,1029.2 L199.0,1029.3 L200.0,1028.2 L201.0,1027.5 L202.0,1027.3 L203.0,1028.1 L204.0,1029.1 L205.0,1029.2 L206.0,1028.0 L207.0,1026.9 L208.0,1026.4 L209.0,1026.4 L210.0,1027.6 L211.0,1027.7 L212.0,1025.5 L213.0,1025.5 L214.0,1027.1 L215.0,1026.7 L216.0,1026.7 L217.0,1026.7 L218.0,1027.7 L219.0,1028.1 L220.0,1027.9 L221.0,1027.8 L222.0,1027.6 L223.0,1028.1 L224.0,1028.9 L225.0,1028.1 L226.0,1026.5 L227.0,1025.9 L228.0,1026.2 L229.0,1026.4 L230.0,1026.4 L231.0,1026.3 L232.0,1026.8 L233.0,1026.7 L234.0,1026.6 L235.0,1026.5 L236.0,1026.2 L237.0,1025.8 L238.0,1026.7 L239.0,1026.6 L240.0,1026.3 L241.0,1026.4 L242.0,1026.5 L243.0,1026.0 L244.0,1025.2 L245.0,1024.0 L246.0,1023.1 L247.0,1023.4 L248.0,1023.1 L249.0,1023.2 L250.0,1023.2 L251.0,1021.0 L252.0,1020.8 L253.0,1021.6 L254.0,1021.5 L255.0,1020.5 L256.0,1018.8 L257.0,1018.8 L258.0,1020.1 L259.0,1021.0 L260.0,1022.3 L261.0,1022.5 L262.0,1022.8 L263.0,1023.4 L264.0,1023.7 L265.0,1024.0 L266.0,1024.2 L267.0,1024.6 L268.0,1024.8 L269.0,1024.6 L270.0,1023.6 L271.0,1023.7 L272.0,1024.9 L273.0,1025.0 L274.0,1024.3 L275.0,1024.2 L276.0,1024.8 L277.0,1025.6 L278.0,1025.0 L279.0,1025.4 L280.0,1024.9 L281.0,1024.8 L282.0,1024.6 L283.0,1024.7 L284.0,1025.4 L285.0,1025.3 L286.0,1024.3 L287.0,1024.4 L288.0,1026.0 L289.0,1026.0 L290.0,1024.7 L291.0,1023.9 L292.0,1023.9 L293.0,1023.8 L294.0,1023.4 L295.0,1021.9 L296.0,1021.2 L297.0,1020.9 L298.0,1021.7 L299.0,1021.5 L300.0,1020.0 L301.0,1019.3 L302.0,1018.6 L303.0,1016.6 L304.0,1015.5 L305.0,1016.3 L306.0,1016.6 L307.0,1017.2 L308.0,1018.7 L309.0,1018.9 L310.0,1018.8 L311.0,1020.4 L312.0,1021.8 L313.0,1022.7 L314.0,1022.0 L315.0,1021.7 L316.0,1022.0 L317.0,1021.7 L318.0,1021.1 L319.0,1021.6 L320.0,1022.5 L321.0,1024.0 L322.0,1024.2 L323.0,1022.1 L324.0,1021.1 L325.0,1021.3 L326.0,1021.5 L327.0,1021.9 L328.0,1022.7 L329.0,1022.9 L330.0,1021.5 L331.0,1020.4 L332.0,1020.8 L333.0,1022.4 L334.0,1022.0 L335.0,1019.5 L336.0,1018.3 L337.0,1019.0 L338.0,1019.5 L339.0,1018.7 L340.0,1017.4 L341.0,1016.6 L342.0,1015.5 L343.0,1014.7 L344.0,1014.6 L345.0,1012.6 L346.0,1010.4 L347.0,1009.1 L348.0,1008.2 L349.0,1008.6 L350.0,1008.7 L351.0,1008.0 L352.0,1009.5 L353.0,1010.9 L354.0,1010.4 L355.0,1009.9 L356.0,1010.8 L357.0,1012.1 L358.0,1012.7 L359.0,1013.7 L360.0,1015.3 L361.0,1016.9 L362.0,1018.0 L363.0,1018.9 L364.0,1021.2 L365.0,1022.3 L366.0,1022.1 L367.0,1022.0 L368.0,1022.7 L369.0,1022.6 L370.0,1023.1 L371.0,1022.5 L372.0,1020.8 L373.0,1021.0 L374.0,1022.2 L375.0,1021.7 L376.0,1020.3 L377.0,1019.7 L378.0,1019.1 L379.0,1018.1 L380.0,1017.5 L381.0,1016.6 L382.0,1015.6 L383.0,1014.2 L384.0,1012.0 L385.0,1010.4 L386.0,1008.3 L387.0,1006.4 L388.0,1004.5 L389.0,1002.1 L390.0,998.7 L391.0,995.0 L392.0,991.0 L393.0,987.5 L394.0,983.9 L395.0,981.8 L396.0,980.9 L397.0,980.2 L398.0,980.5 L399.0,981.9 L400.0,984.9 L401.0,987.4 L402.0,990.5 L403.0,993.8 L404.0,996.7 L405.0,998.4 L406.0,1000.1 L407.0,1002.6 L408.0,1006.0 L409.0,1009.1 L410.0,1012.5 L411.0,1014.7 L412.0,1014.9 L413.0,1017.0 L414.0,1020.4 L415.0,1022.4 L416.0,1022.4 L417.0,1021.6 L418.0,1020.4 L419.0,1018.9 L420.0,1016.9 L421.0,1013.3 L422.0,1009.3 L423.0,1006.5 L424.0,1003.5 L425.0,999.2 L426.0,994.7 L427.0,989.9 L428.0,985.2 L429.0,980.5 L430.0,974.7 L431.0,968.4 L432.0,962.6 L433.0,957.3 L434.0,951.6 L435.0,944.1 L436.0,936.5 L437.0,927.0 L438.0,916.3 L439.0,907.7 L440.0,899.1 L441.0,891.2 L442.0,885.3 L443.0,881.2 L444.5,1000.0 L445.2,1084.0 L462.4,1084.0 L463.0,1000.0 L463.9,971.5 L464.0,969.8 L465.0,972.1 L466.0,974.9 L467.0,976.3 L468.0,977.1 L469.0,980.1 L470.0,984.0 L471.0,988.5 L472.0,993.0 L473.0,996.5 L474.0,1000.2 L475.0,1003.4 L476.0,1004.9 L477.0,1007.9 L478.0,1010.8 L479.0,1012.2 L480.0,1013.9 L481.0,1015.8 L482.0,1018.2 L483.0,1020.2 L484.0,1022.0 L485.0,1022.6 L486.0,1021.1 L487.0,1019.1 L488.0,1017.1 L489.0,1014.4 L490.0,1011.7 L491.0,1009.7 L492.0,1006.4 L493.0,1002.2 L494.0,997.9 L495.0,996.0 L496.0,994.1 L497.0,990.0 L498.0,985.8 L499.0,983.9 L500.0,983.1 L501.0,983.2 L502.0,984.6 L503.0,987.0 L504.0,989.6 L505.0,992.4 L506.0,994.8 L507.0,997.5 L508.0,1000.3 L509.0,1002.3 L510.0,1004.5 L511.0,1006.1 L512.0,1008.2 L513.0,1010.7 L514.0,1012.7 L515.0,1013.7 L516.0,1014.9 L517.0,1015.3 L518.0,1016.9 L519.0,1018.9 L520.0,1019.4 L521.0,1018.8 L522.0,1019.2 L523.0,1020.3 L524.0,1020.3 L525.0,1020.9 L526.0,1021.2 L527.0,1022.1 L528.0,1023.7 L529.0,1023.7 L530.0,1022.1 L531.0,1020.4 L532.0,1020.1 L533.0,1019.7 L534.0,1019.1 L535.0,1018.3 L536.0,1016.4 L537.0,1015.9 L538.0,1015.1 L539.0,1014.0 L540.0,1013.4 L541.0,1011.5 L542.0,1010.7 L543.0,1009.9 L544.0,1008.1 L545.0,1007.7 L546.0,1008.4 L547.0,1009.7 L548.0,1010.2 L549.0,1010.2 L550.0,1009.7 L551.0,1009.3 L552.0,1010.9 L553.0,1012.6 L554.0,1014.5 L555.0,1016.2 L556.0,1017.1 L557.0,1017.1 L558.0,1016.9 L559.0,1016.7 L560.0,1017.3 L561.0,1018.1 L562.0,1019.2 L563.0,1019.2 L564.0,1019.5 L565.0,1019.8 L566.0,1020.3 L567.0,1020.9 L568.0,1020.9 L569.0,1021.0 L570.0,1021.2 L571.0,1022.0 L572.0,1022.0 L573.0,1022.9 L574.0,1022.8 L575.0,1020.6 L576.0,1020.5 L577.0,1021.9 L578.0,1022.7 L579.0,1022.2 L580.0,1022.0 L581.0,1021.8 L582.0,1021.7 L583.0,1021.1 L584.0,1020.5 L585.0,1018.5 L586.0,1018.8 L587.0,1020.7 L588.0,1020.1 L589.0,1019.5 L590.0,1020.7 L591.0,1020.5 L592.0,1019.7 L593.0,1018.8 L594.0,1018.9 L595.0,1018.4 L596.0,1017.4 L597.0,1018.1 L598.0,1018.6 L599.0,1019.4 L600.0,1019.2 L601.0,1018.0 L602.0,1018.0 L603.0,1019.2 L604.0,1020.1 L605.0,1020.3 L606.0,1021.1 L607.0,1022.3 L608.0,1023.2 L609.0,1023.8 L610.0,1023.3 L611.0,1022.2 L612.0,1022.2 L613.0,1023.5 L614.0,1023.6 L615.0,1023.4 L616.0,1023.2 L617.0,1022.8 L618.0,1022.7 L619.0,1022.2 L620.0,1023.2 L621.0,1024.4 L622.0,1025.9 L623.0,1025.6 L624.0,1025.0 L625.0,1025.2 L626.0,1025.3 L627.0,1024.7 L628.0,1024.6 L629.0,1025.6 L630.0,1026.7 L631.0,1025.3 L632.0,1024.0 L633.0,1025.6 L634.0,1026.6 L635.0,1025.9 L636.0,1026.7 L637.0,1025.6 L638.0,1024.6 L639.0,1023.6 L640.0,1022.8 L641.0,1022.0 L642.0,1021.5 L643.0,1021.6 L644.0,1022.8 L645.0,1022.7 L646.0,1023.1 L647.0,1023.4 L648.0,1023.1 L649.0,1023.5 L650.0,1023.7 L651.0,1023.8 L652.0,1024.3 L653.0,1024.4 L654.0,1023.8 L655.0,1023.5 L656.0,1024.2 L657.0,1025.6 L658.0,1026.9 L659.0,1027.2 L660.0,1026.7 L661.0,1026.6 L662.0,1026.6 L663.0,1026.8 L664.0,1026.5 L665.0,1026.3 L666.0,1026.1 L667.0,1026.7 L668.0,1027.2 L669.0,1026.1 L670.0,1025.9 L671.0,1026.4 L672.0,1027.6 L673.0,1028.0 L674.0,1026.2 L675.0,1024.9 L676.0,1026.5 L677.0,1026.9 L678.0,1025.9 L679.0,1026.2 L680.0,1026.2 L681.0,1025.7 L682.0,1027.1 L683.0,1027.9 L684.0,1027.4 L685.0,1026.6 L686.0,1026.6 L687.0,1027.1 L688.0,1027.7 L689.0,1027.8 L690.0,1028.8 L691.0,1028.2 L692.0,1027.4 L693.0,1028.8 L694.0,1028.8 L695.0,1028.1 L696.0,1027.8 L697.0,1027.2 L698.0,1027.2 L699.0,1026.5 L700.0,1027.5 L701.0,1029.5 L702.0,1029.8 L703.0,1028.5 L704.0,1028.1 L705.0,1028.9 L706.0,1028.9 L707.0,1028.9 L708.0,1028.8 L709.0,1028.2 L710.0,1028.1 L711.0,1027.7 L712.0,1028.4 L713.0,1027.6 L714.0,1027.4 L715.0,1028.1 L716.0,1029.1 L717.0,1029.5 L718.0,1029.3 L719.0,1029.3 L720.0,1029.0 L721.0,1028.0 L722.0,1026.3 L723.0,1025.5 L724.0,1026.0 L725.0,1027.6 L726.0,1028.3 L727.0,1028.4 L728.0,1028.6 L729.0,1028.1 L730.0,1027.2 L731.0,1026.5 L732.0,1027.1 L733.0,1029.0 L734.0,1029.1 L735.0,1027.8 L736.0,1028.1 L737.0,1029.3 L738.0,1029.7 L739.0,1028.8 L740.0,1028.9 L741.0,1028.8 L742.0,1027.4 L743.0,1027.4 L744.0,1028.0 L745.0,1028.7 L746.0,1030.1 L747.0,1029.9 L748.0,1028.8 L749.0,1028.3 L750.0,1029.1 L751.0,1029.5" fill="none" stroke="#0000ff" stroke-width="6.0" stroke-linejoin="round" stroke-linecap="butt" />
<path d="M145.0,1050.0 L146.0,1049.6 L147.0,1048.4 L148.0,1051.0 L149.0,1053.4 L150.0,1053.9 L151.0,1053.3 L152.0,1052.9 L153.0,1050.5 L154.0,1050.8 L155.0,1053.6 L156.0,1052.4 L157.0,1050.3 L158.0,1052.3 L159.0,1053.5 L160.0,1053.1 L161.0,1051.6 L162.0,1050.6 L163.0,1052.6 L164.0,1054.7 L165.0,1052.1 L166.0,1050.3 L167.0,1051.1 L168.0,1049.3 L169.0,1051.0 L170.0,1051.3 L171.0,1053.0 L172.0,1052.4 L173.0,1054.4 L174.0,1056.0 L175.0,1051.6 L176.0,1049.8 L177.0,1051.7 L178.0,1051.4 L179.0,1051.2 L180.0,1050.4 L181.0,1052.0 L182.0,1050.6 L183.0,1047.1 L184.0,1049.9 L185.0,1052.2 L186.0,1053.3 L187.0,1050.3 L188.0,1049.9 L189.0,1052.6 L190.0,1050.6 L191.0,1051.3 L192.0,1052.4 L193.0,1052.7 L194.0,1051.0 L195.0,1049.5 L196.0,1052.3 L197.0,1050.5 L198.0,1050.9 L199.0,1055.0 L200.0,1053.1 L201.0,1049.3 L202.0,1049.5 L203.0,1050.0 L204.0,1048.6 L205.0,1047.5 L206.0,1051.9 L207.0,1052.9 L208.0,1051.6 L209.0,1050.4 L210.0,1051.4 L211.0,1051.7 L212.0,1049.1 L213.0,1049.5 L214.0,1049.9 L215.0,1051.9 L216.0,1051.0 L217.0,1048.2 L218.0,1049.8 L219.0,1053.2 L220.0,1049.7 L221.0,1050.2 L222.0,1050.1 L223.0,1052.6 L224.0,1050.8 L225.0,1049.1 L226.0,1048.0 L227.0,1049.8 L228.0,1052.1 L229.0,1051.4 L230.0,1048.9 L231.0,1052.5 L232.0,1050.0 L233.0,1048.2 L234.0,1049.7 L235.0,1048.8 L236.0,1048.5 L237.0,1048.6 L238.0,1049.3 L239.0,1048.2 L240.0,1046.8 L241.0,1049.9 L242.0,1049.7 L243.0,1052.1 L244.0,1051.6 L245.0,1051.2 L246.0,1050.9 L247.0,1052.0 L248.0,1049.2 L249.0,1047.7 L250.0,1048.5 L251.0,1044.4 L252.0,1047.6 L253.0,1049.4 L254.0,1049.3 L255.0,1051.7 L256.0,1051.2 L257.0,1049.5 L258.0,1048.9 L259.0,1050.6 L260.0,1048.1 L261.0,1048.2 L262.0,1050.3 L263.0,1051.2 L264.0,1052.7 L265.0,1048.3 L266.0,1045.3 L267.0,1049.4 L268.0,1051.0 L269.0,1049.4 L270.0,1051.9 L271.0,1051.9 L272.0,1047.5 L273.0,1046.3 L274.0,1045.7 L275.0,1048.6 L276.0,1049.6 L277.0,1048.6 L278.0,1045.3 L279.0,1044.9 L280.0,1043.7 L281.0,1043.1 L282.0,1043.3 L283.0,1043.5 L284.0,1046.2 L285.0,1048.0 L286.0,1048.2 L287.0,1046.7 L288.0,1045.5 L289.0,1046.5 L290.0,1047.4 L291.0,1046.1 L292.0,1046.1 L293.0,1045.4 L294.0,1045.0 L295.0,1045.3 L296.0,1044.2 L297.0,1046.4 L298.0,1043.3 L299.0,1044.9 L300.0,1043.6 L301.0,1047.7 L302.0,1046.9 L303.0,1043.5 L304.0,1042.9 L305.0,1042.2 L306.0,1043.9 L307.0,1046.1 L308.0,1048.3 L309.0,1043.1 L310.0,1045.2 L311.0,1043.2 L312.0,1044.1 L313.0,1045.3 L314.0,1044.8 L315.0,1044.0 L316.0,1042.8 L317.0,1042.8 L318.0,1043.5 L319.0,1044.2 L320.0,1040.1 L321.0,1040.2 L322.0,1039.3 L323.0,1039.5 L324.0,1040.7 L325.0,1044.6 L326.0,1046.9 L327.0,1044.7 L328.0,1040.1 L329.0,1040.6 L330.0,1039.6 L331.0,1042.2 L332.0,1044.1 L333.0,1043.2 L334.0,1042.9 L335.0,1040.2 L336.0,1036.3 L337.0,1036.2 L338.0,1039.9 L339.0,1042.3 L340.0,1043.1 L341.0,1040.6 L342.0,1040.7 L343.0,1041.5 L344.0,1042.5 L345.0,1040.4 L346.0,1039.0 L347.0,1042.3 L348.0,1042.2 L349.0,1041.3 L350.0,1039.0 L351.0,1040.1 L352.0,1037.7 L353.0,1037.6 L354.0,1041.0 L355.0,1042.3 L356.0,1045.3 L357.0,1048.1 L358.0,1048.2 L359.0,1051.4 L360.0,1049.8 L361.0,1051.0 L362.0,1048.5 L363.0,1049.5 L364.0,1048.7 L365.0,1048.1 L366.0,1047.4 L367.0,1043.0 L368.0,1044.0 L369.0,1042.5 L370.0,1043.0 L371.0,1042.7 L372.0,1040.6 L373.0,1039.0 L374.0,1037.5 L375.0,1038.9 L376.0,1037.1 L377.0,1036.9 L378.0,1034.5 L379.0,1037.0 L380.0,1034.3 L381.0,1035.9 L382.0,1033.7 L383.0,1033.9 L384.0,1032.8 L385.0,1033.1 L386.0,1032.2 L387.0,1033.4 L388.0,1032.4 L389.0,1032.1 L390.0,1032.5 L391.0,1029.3 L392.0,1031.1 L393.0,1029.1 L394.0,1026.7 L395.0,1029.7 L396.0,1030.7 L397.0,1033.6 L398.0,1031.5 L399.0,1032.6 L400.0,1033.3 L401.0,1031.7 L402.0,1035.6 L403.0,1036.9 L404.0,1043.6 L405.0,1047.7 L406.0,1047.3 L407.0,1047.2 L408.0,1051.3 L409.0,1052.2 L410.0,1050.6 L411.0,1045.1 L412.0,1039.4 L413.0,1036.7 L414.0,1034.0 L415.0,1035.4 L416.0,1030.2 L417.0,1027.7 L418.0,1026.7 L419.0,1023.6 L420.0,1023.3 L421.0,1022.6 L422.0,1020.9 L423.0,1020.6 L424.0,1021.8 L425.0,1019.0 L426.0,1014.7 L427.0,1015.0 L428.0,1015.8 L429.0,1013.1 L430.0,1012.8 L431.0,1012.2 L432.0,1011.9 L433.0,1009.8 L434.0,1008.2 L435.0,1006.4 L436.0,1006.6 L437.0,1005.0 L438.0,1007.7 L439.0,1004.9 L440.0,1003.8 L441.0,1005.0 L442.0,1004.2 L443.0,1004.7 L444.0,1005.4 L445.5,1060.0 L446.0,1091.0 L460.8,1091.0 L461.3,1040.0 L461.8,1006.9 L462.0,1005.1 L463.0,1005.5 L464.0,1007.2 L465.0,1010.3 L466.0,1009.3 L467.0,1009.9 L468.0,1011.4 L469.0,1014.8 L470.0,1017.5 L471.0,1015.5 L472.0,1018.1 L473.0,1019.5 L474.0,1020.6 L475.0,1022.6 L476.0,1022.5 L477.0,1026.4 L478.0,1027.2 L479.0,1027.5 L480.0,1032.2 L481.0,1033.6 L482.0,1034.3 L483.0,1032.4 L484.0,1034.8 L485.0,1037.2 L486.0,1041.1 L487.0,1043.5 L488.0,1041.6 L489.0,1045.3 L490.0,1048.5 L491.0,1052.1 L492.0,1051.6 L493.0,1048.6 L494.0,1046.2 L495.0,1041.4 L496.0,1038.4 L497.0,1036.7 L498.0,1033.6 L499.0,1031.4 L500.0,1028.7 L501.0,1032.4 L502.0,1030.9 L503.0,1028.0 L504.0,1023.6 L505.0,1021.6 L506.0,1023.5 L507.0,1026.2 L508.0,1030.5 L509.0,1030.1 L510.0,1028.5 L511.0,1031.3 L512.0,1032.4 L513.0,1031.7 L514.0,1033.6 L515.0,1033.1 L516.0,1031.9 L517.0,1031.9 L518.0,1034.6 L519.0,1036.7 L520.0,1034.2 L521.0,1034.5 L522.0,1037.2 L523.0,1035.4 L524.0,1041.0 L525.0,1040.3 L526.0,1042.4 L527.0,1043.9 L528.0,1040.0 L529.0,1041.2 L530.0,1046.0 L531.0,1043.9 L532.0,1043.8 L533.0,1045.2 L534.0,1047.2 L535.0,1047.9 L536.0,1046.4 L537.0,1045.7 L538.0,1046.4 L539.0,1047.6 L540.0,1048.7 L541.0,1047.6 L542.0,1048.2 L543.0,1044.6 L544.0,1045.4 L545.0,1046.9 L546.0,1045.7 L547.0,1043.0 L548.0,1040.5 L549.0,1040.3 L550.0,1041.2 L551.0,1041.7 L552.0,1040.4 L553.0,1038.4 L554.0,1039.4 L555.0,1041.6 L556.0,1041.7 L557.0,1038.6 L558.0,1038.8 L559.0,1037.6 L560.0,1040.3 L561.0,1045.8 L562.0,1041.9 L563.0,1039.9 L564.0,1039.3 L565.0,1038.1 L566.0,1037.7 L567.0,1040.4 L568.0,1041.6 L569.0,1043.3 L570.0,1040.2 L571.0,1042.8 L572.0,1043.9 L573.0,1040.4 L574.0,1042.6 L575.0,1041.1 L576.0,1044.1 L577.0,1046.0 L578.0,1044.4 L579.0,1044.1 L580.0,1043.2 L581.0,1044.7 L582.0,1046.0 L583.0,1044.4 L584.0,1044.3 L585.0,1045.4 L586.0,1045.4 L587.0,1042.6 L588.0,1044.1 L589.0,1044.1 L590.0,1046.0 L591.0,1047.1 L592.0,1046.6 L593.0,1047.1 L594.0,1044.2 L595.0,1044.1 L596.0,1043.9 L597.0,1045.4 L598.0,1045.8 L599.0,1045.1 L600.0,1043.9 L601.0,1045.2 L602.0,1045.5 L603.0,1046.8 L604.0,1046.4 L605.0,1048.0 L606.0,1046.4 L607.0,1043.5 L608.0,1044.9 L609.0,1044.5 L610.0,1048.0 L611.0,1049.1 L612.0,1047.3 L613.0,1046.8 L614.0,1043.8 L615.0,1042.5 L616.0,1044.9 L617.0,1045.6 L618.0,1044.5 L619.0,1046.6 L620.0,1047.8 L621.0,1048.8 L622.0,1050.0 L623.0,1048.8 L624.0,1047.0 L625.0,1047.4 L626.0,1047.8 L627.0,1046.4 L628.0,1049.3 L629.0,1049.2 L630.0,1047.2 L631.0,1047.8 L632.0,1053.5 L633.0,1050.6 L634.0,1050.0 L635.0,1051.1 L636.0,1049.9 L637.0,1048.6 L638.0,1048.5 L639.0,1046.8 L640.0,1047.9 L641.0,1045.8 L642.0,1048.1 L643.0,1048.2 L644.0,1046.4 L645.0,1049.8 L646.0,1047.3 L647.0,1048.9 L648.0,1047.7 L649.0,1048.0 L650.0,1048.1 L651.0,1052.1 L652.0,1051.3 L653.0,1051.6 L654.0,1050.3 L655.0,1049.6 L656.0,1048.6 L657.0,1048.2 L658.0,1049.2 L659.0,1048.7 L660.0,1047.6 L661.0,1046.0 L662.0,1047.6 L663.0,1049.0 L664.0,1048.1 L665.0,1048.8 L666.0,1048.0 L667.0,1046.5 L668.0,1046.4 L669.0,1046.9 L670.0,1047.8 L671.0,1048.5 L672.0,1049.8 L673.0,1046.6 L674.0,1045.4 L675.0,1048.8 L676.0,1048.3 L677.0,1049.4 L678.0,1053.3 L679.0,1052.3 L680.0,1050.7 L681.0,1050.6 L682.0,1049.8 L683.0,1050.2 L684.0,1048.1 L685.0,1047.4 L686.0,1048.6 L687.0,1051.8 L688.0,1051.8 L689.0,1049.1 L690.0,1050.5 L691.0,1049.6 L692.0,1050.5 L693.0,1049.3 L694.0,1050.4 L695.0,1049.1 L696.0,1048.6 L697.0,1049.0 L698.0,1049.1 L699.0,1047.7 L700.0,1047.4 L701.0,1051.0 L702.0,1048.4 L703.0,1045.2 L704.0,1043.7 L705.0,1043.6 L706.0,1047.5 L707.0,1050.3 L708.0,1046.9 L709.0,1047.2 L710.0,1046.5 L711.0,1050.2 L712.0,1050.2 L713.0,1050.3 L714.0,1052.0 L715.0,1052.6 L716.0,1051.1 L717.0,1048.1 L718.0,1046.4 L719.0,1046.3 L720.0,1046.6 L721.0,1051.1 L722.0,1049.5 L723.0,1049.3 L724.0,1050.2 L725.0,1052.1 L726.0,1049.5 L727.0,1050.8 L728.0,1050.0 L729.0,1048.2 L730.0,1046.4 L731.0,1049.5 L732.0,1048.1 L733.0,1048.2 L734.0,1049.3 L735.0,1049.8 L736.0,1050.6 L737.0,1048.6 L738.0,1049.2 L739.0,1049.6 L740.0,1049.5 L741.0,1050.1 L742.0,1049.4 L743.0,1050.6 L744.0,1047.9 L745.0,1046.6 L746.0,1048.9 L747.0,1050.7 L748.0,1048.5 L749.0,1047.8 L750.0,1048.4 L751.0,1049.3" fill="none" stroke="#ff8000" stroke-width="6.5" stroke-linejoin="round" stroke-linecap="butt" />
<path d="M452.0,1030.0 L452.0,1081.0" fill="none" stroke="#ff0000" stroke-width="8.0" stroke-linejoin="round" stroke-linecap="butt" />
<path d="M450.6,1029.0 L450.6,1037.0" fill="none" stroke="#000" stroke-width="3.0" stroke-linejoin="round" stroke-linecap="butt" />
<path d="M451.0,1074.0 L451.0,1079.0" fill="none" stroke="#000" stroke-width="3.0" stroke-linejoin="round" stroke-linecap="butt" />
<path d="M145.0,979.4 L146.0,979.1 L147.0,978.8 L148.0,981.1 L149.0,981.0 L150.0,980.2 L151.0,981.7 L152.0,982.3 L153.0,981.9 L154.0,980.7 L155.0,981.8 L156.0,980.4 L157.0,978.6 L158.0,980.2 L159.0,980.1 L160.0,979.2 L161.0,978.9 L162.0,978.6 L163.0,980.4 L164.0,980.8 L165.0,981.3 L166.0,982.5 L167.0,981.4 L168.0,979.8 L169.0,979.6 L170.0,981.0 L171.0,981.9 L172.0,980.4 L173.0,980.1 L174.0,981.6 L175.0,981.7 L176.0,982.2 L177.0,982.9 L178.0,980.8 L179.0,979.7 L180.0,978.8 L181.0,980.0 L182.0,982.0 L183.0,981.9 L184.0,980.5 L185.0,981.6 L186.0,982.2 L187.0,982.4 L188.0,983.5 L189.0,981.4 L190.0,979.7 L191.0,979.5 L192.0,979.2 L193.0,981.6 L194.0,981.9 L195.0,980.6 L196.0,981.0 L197.0,981.9 L198.0,982.1 L199.0,979.2 L200.0,976.6 L201.0,976.0 L202.0,976.9 L203.0,976.8 L204.0,978.0 L205.0,978.6 L206.0,977.6 L207.0,977.3 L208.0,978.6 L209.0,978.1 L210.0,978.0 L211.0,977.6 L212.0,975.4 L213.0,976.3 L214.0,978.9 L215.0,977.1 L216.0,975.2 L217.0,975.4 L218.0,975.3 L219.0,975.0 L220.0,976.1 L221.0,977.3 L222.0,978.0 L223.0,977.8 L224.0,975.9 L225.0,976.5 L226.0,979.0 L227.0,980.0 L228.0,981.2 L229.0,980.4 L230.0,979.2 L231.0,980.0 L232.0,980.0 L233.0,981.5 L234.0,983.8 L235.0,984.4 L236.0,982.6 L237.0,982.2 L238.0,982.1 L239.0,980.7 L240.0,978.0 L241.0,979.1 L242.0,980.8 L243.0,980.8 L244.0,980.2 L245.0,981.4 L246.0,981.9 L247.0,980.5 L248.0,979.4 L249.0,979.2 L250.0,980.2 L251.0,981.6 L252.0,981.4 L253.0,978.8 L254.0,977.3 L255.0,977.9 L256.0,979.6 L257.0,979.7 L258.0,979.5 L259.0,979.6 L260.0,979.2 L261.0,978.1 L262.0,977.0 L263.0,977.5 L264.0,978.8 L265.0,979.2 L266.0,978.6 L267.0,979.2 L268.0,980.5 L269.0,979.7 L270.0,979.5 L271.0,978.9 L272.0,977.8 L273.0,977.4 L274.0,978.2 L275.0,979.3 L276.0,980.3 L277.0,979.3 L278.0,979.8 L279.0,981.1 L280.0,981.1 L281.0,981.5 L282.0,980.9 L283.0,978.7 L284.0,978.5 L285.0,979.5 L286.0,981.1 L287.0,980.8 L288.0,981.2 L289.0,981.7 L290.0,979.9 L291.0,979.4 L292.0,979.4 L293.0,979.4 L294.0,980.5 L295.0,980.7 L296.0,980.1 L297.0,978.7 L298.0,977.6 L299.0,977.2 L300.0,976.6 L301.0,976.2 L302.0,978.1 L303.0,979.3 L304.0,978.5 L305.0,978.0 L306.0,978.6 L307.0,979.3 L308.0,980.4 L309.0,981.1 L310.0,979.6 L311.0,980.0 L312.0,980.7 L313.0,980.2 L314.0,979.3 L315.0,978.6 L316.0,979.5 L317.0,981.7 L318.0,982.3 L319.0,980.9 L320.0,981.2 L321.0,981.9 L322.0,982.0 L323.0,981.1 L324.0,980.7 L325.0,979.7 L326.0,977.5 L327.0,976.3 L328.0,974.0 L329.0,972.9 L330.0,973.2 L331.0,973.6 L332.0,975.5 L333.0,976.1 L334.0,974.8 L335.0,974.2 L336.0,974.4 L337.0,975.3 L338.0,976.7 L339.0,977.5 L340.0,976.8 L341.0,976.1 L342.0,976.6 L343.0,977.4 L344.0,977.2 L345.0,977.6 L346.0,976.7 L347.0,976.0 L348.0,973.6 L349.0,973.1 L350.0,974.3 L351.0,974.5 L352.0,974.8 L353.0,976.2 L354.0,975.8 L355.0,975.7 L356.0,977.0 L357.0,980.0 L358.0,981.0 L359.0,980.2 L360.0,979.3 L361.0,980.6 L362.0,981.0 L363.0,981.5 L364.0,981.1 L365.0,979.1 L366.0,978.7 L367.0,978.4 L368.0,976.5 L369.0,974.2 L370.0,972.2 L371.0,971.2 L372.0,970.9 L373.0,971.7 L374.0,970.3 L375.0,968.0 L376.0,967.0 L377.0,964.4 L378.0,963.2 L379.0,966.6 L380.0,966.8 L381.0,963.7 L382.0,963.1 L383.0,963.6 L384.0,962.7 L385.0,961.8 L386.0,961.8 L387.0,962.2 L388.0,962.6 L389.0,963.4 L390.0,963.6 L391.0,963.8 L392.0,964.4 L393.0,965.1 L394.0,967.1 L395.0,966.7 L396.0,968.3 L397.0,970.9 L398.0,972.9 L399.0,974.8 L400.0,976.5 L401.0,976.4 L402.0,978.1 L403.0,979.8 L404.0,980.6 L405.0,982.5 L406.0,985.0 L407.0,985.0 L408.0,985.4 L409.0,986.3 L410.0,986.6 L411.0,985.7 L412.0,983.7 L413.0,981.4 L414.0,978.6 L415.0,976.2 L416.0,973.6 L417.0,970.0 L418.0,967.9 L419.0,964.3 L420.0,961.4 L421.0,958.1 L422.0,953.9 L423.0,950.6 L424.0,949.8 L425.0,946.4 L426.0,944.4 L427.0,944.7 L428.0,944.3 L429.0,944.9 L430.0,944.5 L431.0,943.1 L432.0,942.3 L433.0,941.7 L434.0,940.5 L435.0,941.4 L436.0,942.0 L437.0,942.1 L438.0,942.6 L439.0,943.2 L440.0,946.5 L441.0,948.3 L442.0,948.2 L443.0,952.0 L444.0,958.6 L445.0,975.0 L446.6,1000.0" fill="none" stroke="#800000" stroke-width="7.0" stroke-linejoin="round" stroke-linecap="butt" />
<path d="M446.4,985.0 L447.2,1020.0 L447.8,1070.0" fill="none" stroke="#800000" stroke-width="5.4" stroke-linejoin="round" stroke-linecap="butt" />
<path d="M456.2,1070.0 L456.4,1040.0 L456.6,1000.0 L457.0,975.0" fill="none" stroke="#800000" stroke-width="5.4" stroke-linejoin="round" stroke-linecap="butt" />
<path d="M447.8,1065.0 L447.9,1082.5 L456.1,1082.5 L456.2,1065.0" fill="none" stroke="#800000" stroke-width="7.0" stroke-linejoin="round" stroke-linecap="butt" />
<path d="M456.8,985.0 L457.2,962.0 L457.5,957.9 L458.5,954.3 L459.5,952.5 L460.5,949.9 L461.5,946.0 L462.5,943.9 L463.5,942.5 L464.5,942.0 L465.5,941.9 L466.5,941.1 L467.5,941.1 L468.5,942.2 L469.5,940.9 L470.5,940.4 L471.5,941.4 L472.5,941.4 L473.5,941.9 L474.5,943.0 L475.5,943.3 L476.5,945.5 L477.5,948.0 L478.5,949.5 L479.5,950.9 L480.5,952.4 L481.5,953.9 L482.5,957.5 L483.5,961.5 L484.5,964.9 L485.5,966.9 L486.5,968.6 L487.5,970.8 L488.5,973.8 L489.5,977.4 L490.5,980.6 L491.5,982.1 L492.5,983.4 L493.5,985.0 L494.5,985.9 L495.5,985.4 L496.5,983.0 L497.5,981.6 L498.5,981.2 L499.5,980.8 L500.5,979.2 L501.5,977.8 L502.5,975.8 L503.5,972.6 L504.5,971.3 L505.5,969.3 L506.5,967.7 L507.5,967.1 L508.5,964.3 L509.5,963.0 L510.5,963.7 L511.5,964.2 L512.5,963.0 L513.5,961.7 L514.5,963.3 L515.5,966.1 L516.5,969.1 L517.5,969.1 L518.5,967.4 L519.5,966.8 L520.5,967.6 L521.5,968.1 L522.5,969.8 L523.5,971.1 L524.5,971.6 L525.5,972.6 L526.5,973.3 L527.5,974.7 L528.5,977.3 L529.5,977.8 L530.5,977.1 L531.5,977.7 L532.5,979.7 L533.5,981.8 L534.5,983.6 L535.5,984.6 L536.5,983.6 L537.5,982.9 L538.5,984.7 L539.5,984.5 L540.5,983.1 L541.5,981.2 L542.5,978.0 L543.5,976.9 L544.5,977.2 L545.5,977.4 L546.5,975.7 L547.5,975.9 L548.5,977.3 L549.5,976.4 L550.5,975.5 L551.5,975.6 L552.5,973.7 L553.5,973.7 L554.5,973.9 L555.5,974.0 L556.5,973.3 L557.5,972.9 L558.5,973.3 L559.5,973.2 L560.5,974.3 L561.5,975.0 L562.5,975.6 L563.5,974.9 L564.5,974.8 L565.5,976.3 L566.5,976.4 L567.5,974.5 L568.5,975.6 L569.5,976.1 L570.5,974.6 L571.5,974.8 L572.5,975.8 L573.5,975.1 L574.5,975.5 L575.5,976.6 L576.5,974.7 L577.5,972.7 L578.5,971.5 L579.5,972.0 L580.5,973.6 L581.5,976.2 L582.5,975.9 L583.5,974.6 L584.5,976.2 L585.5,975.9 L586.5,975.1 L587.5,975.6 L588.5,975.3 L589.5,973.9 L590.5,973.1 L591.5,974.4 L592.5,976.1 L593.5,976.6 L594.5,977.4 L595.5,978.6 L596.5,978.5 L597.5,979.4 L598.5,979.2 L599.5,978.9 L600.5,978.3 L601.5,978.5 L602.5,977.7 L603.5,977.1 L604.5,978.4 L605.5,979.4 L606.5,980.0 L607.5,979.1 L608.5,977.4 L609.5,976.2 L610.5,974.9 L611.5,976.5 L612.5,979.7 L613.5,980.6 L614.5,979.7 L615.5,978.9 L616.5,978.7 L617.5,977.5 L618.5,975.6 L619.5,976.4 L620.5,978.9 L621.5,979.5 L622.5,978.4 L623.5,977.5 L624.5,977.2 L625.5,976.9 L626.5,976.3 L627.5,976.3 L628.5,978.0 L629.5,978.8 L630.5,980.1 L631.5,981.9 L632.5,981.4 L633.5,980.4 L634.5,980.4 L635.5,980.2 L636.5,981.7 L637.5,982.0 L638.5,981.8 L639.5,982.7 L640.5,983.1 L641.5,981.3 L642.5,981.2 L643.5,983.1 L644.5,982.8 L645.5,982.4 L646.5,980.9 L647.5,980.4 L648.5,980.1 L649.5,980.3 L650.5,979.6 L651.5,979.6 L652.5,980.9 L653.5,979.3 L654.5,977.0 L655.5,977.1 L656.5,976.9 L657.5,976.5 L658.5,977.0 L659.5,977.6 L660.5,977.8 L661.5,976.7 L662.5,976.0 L663.5,977.6 L664.5,978.8 L665.5,978.3 L666.5,979.5 L667.5,980.0 L668.5,979.6 L669.5,979.6 L670.5,979.2 L671.5,979.1 L672.5,979.5 L673.5,981.4 L674.5,982.3 L675.5,981.6 L676.5,981.2 L677.5,979.1 L678.5,979.1 L679.5,980.7 L680.5,982.6 L681.5,981.9 L682.5,981.0 L683.5,979.6 L684.5,980.7 L685.5,981.6 L686.5,979.9 L687.5,978.1 L688.5,980.0 L689.5,982.1 L690.5,982.4 L691.5,980.6 L692.5,978.5 L693.5,979.4 L694.5,980.3 L695.5,979.6 L696.5,979.7 L697.5,979.4 L698.5,979.8 L699.5,980.1 L700.5,980.5 L701.5,982.4 L702.5,981.3 L703.5,979.9 L704.5,979.1 L705.5,979.3 L706.5,978.8 L707.5,977.6 L708.5,977.9 L709.5,979.6 L710.5,979.0 L711.5,976.6 L712.5,976.9 L713.5,979.4 L714.5,981.0 L715.5,981.2 L716.5,980.6 L717.5,981.3 L718.5,981.2 L719.5,981.0 L720.5,981.9 L721.5,983.2 L722.5,983.4 L723.5,982.9 L724.5,981.5 L725.5,980.8 L726.5,980.3 L727.5,980.6 L728.5,981.0 L729.5,981.6 L730.5,982.7 L731.5,983.1 L732.5,983.1 L733.5,983.0 L734.5,983.2 L735.5,983.0 L736.5,983.2 L737.5,983.1 L738.5,982.7 L739.5,981.2 L740.5,979.6 L741.5,980.3 L742.5,983.0 L743.5,982.9 L744.5,981.9 L745.5,981.1 L746.5,981.9 L747.5,983.3 L748.5,981.0 L749.5,980.1 L750.5,979.8 L751.5,978.5" fill="none" stroke="#800000" stroke-width="7.0" stroke-linejoin="round" stroke-linecap="butt" />
</g>
<rect x="145.2" y="760.0" width="605.7" height="336.0" fill="none" stroke="#000" stroke-width="3.4"/>
<path d="M998.3,760.0v10.0M998.3,1094.4v-10.0M1058.7,760.0v5.2M1058.7,1094.4v-5.2M1119.1,760.0v10.0M1119.1,1094.4v-10.0M1179.5,760.0v5.2M1179.5,1094.4v-5.2M1239.8,760.0v10.0M1239.8,1094.4v-10.0M1300.2,760.0v5.2M1300.2,1094.4v-5.2M1360.6,760.0v10.0M1360.6,1094.4v-10.0M1421.0,760.0v5.2M1421.0,1094.4v-5.2M1481.4,760.0v10.0M1481.4,1094.4v-10.0M937.9,815.7h5.2M1541.8,815.7h-5.2M937.9,871.5h10.0M1541.8,871.5h-10.0M937.9,927.2h5.2M1541.8,927.2h-5.2M937.9,982.9h10.0M1541.8,982.9h-10.0M937.9,1038.7h5.2M1541.8,1038.7h-5.2" stroke="#000" stroke-width="3.0" fill="none"/>
<g clip-path="url(#cpf)">
<path d="M937.0,1072.0 L938.0,1072.6 L939.0,1073.0 L940.0,1073.3 L941.0,1074.0 L942.0,1072.8 L943.0,1074.0 L944.0,1075.2 L945.0,1074.4 L946.0,1072.1 L947.0,1070.9 L948.0,1073.8 L949.0,1074.1 L950.0,1073.5 L951.0,1074.5 L952.0,1073.5 L953.0,1073.4 L954.0,1072.7 L955.0,1073.5 L956.0,1073.1 L957.0,1073.3 L958.0,1074.4 L959.0,1073.7 L960.0,1072.4 L961.0,1074.0 L962.0,1074.2 L963.0,1072.9 L964.0,1073.0 L965.0,1073.4 L966.0,1073.3 L967.0,1073.7 L968.0,1074.0 L969.0,1073.7 L970.0,1075.1 L971.0,1073.2 L972.0,1073.3 L973.0,1075.6 L974.0,1076.0 L975.0,1074.0 L976.0,1073.1 L977.0,1072.7 L978.0,1074.3 L979.0,1073.7 L980.0,1072.8 L981.0,1073.9 L982.0,1074.9 L983.0,1074.8 L984.0,1075.8 L985.0,1075.0 L986.0,1074.0 L987.0,1073.6 L988.0,1074.1 L989.0,1074.8 L990.0,1074.6 L991.0,1074.5 L992.0,1073.9 L993.0,1074.3 L994.0,1074.5 L995.0,1073.1 L996.0,1072.5 L997.0,1074.7 L998.0,1074.1 L999.0,1073.1 L1000.0,1073.3 L1001.0,1072.7 L1002.0,1071.6 L1003.0,1072.4 L1004.0,1071.9 L1005.0,1073.0 L1006.0,1073.4 L1007.0,1074.1 L1008.0,1073.4 L1009.0,1073.4 L1010.0,1072.9 L1011.0,1072.4 L1012.0,1072.0 L1013.0,1073.7 L1014.0,1073.3 L1015.0,1072.6 L1016.0,1073.0 L1017.0,1072.6 L1018.0,1072.4 L1019.0,1073.3 L1020.0,1074.1 L1021.0,1072.7 L1022.0,1071.5 L1023.0,1072.5 L1024.0,1074.2 L1025.0,1072.9 L1026.0,1073.8 L1027.0,1073.1 L1028.0,1073.5 L1029.0,1072.6 L1030.0,1071.4 L1031.0,1072.6 L1032.0,1074.6 L1033.0,1073.3 L1034.0,1073.2 L1035.0,1072.6 L1036.0,1072.7 L1037.0,1073.1 L1038.0,1073.7 L1039.0,1074.8 L1040.0,1073.1 L1041.0,1072.4 L1042.0,1071.7 L1043.0,1071.0 L1044.0,1071.1 L1045.0,1072.4 L1046.0,1071.4 L1047.0,1073.6 L1048.0,1073.6 L1049.0,1072.2 L1050.0,1071.5 L1051.0,1072.3 L1052.0,1072.8 L1053.0,1073.3 L1054.0,1072.0 L1055.0,1071.9 L1056.0,1072.2 L1057.0,1072.0 L1058.0,1071.4 L1059.0,1070.3 L1060.0,1070.4 L1061.0,1071.3 L1062.0,1072.2 L1063.0,1073.6 L1064.0,1074.9 L1065.0,1074.4 L1066.0,1073.4 L1067.0,1074.0 L1068.0,1072.4 L1069.0,1072.2 L1070.0,1073.9 L1071.0,1071.6 L1072.0,1071.5 L1073.0,1072.1 L1074.0,1073.2 L1075.0,1072.0 L1076.0,1072.5 L1077.0,1071.6 L1078.0,1070.9 L1079.0,1071.9 L1080.0,1071.9 L1081.0,1070.8 L1082.0,1070.7 L1083.0,1071.2 L1084.0,1072.6 L1085.0,1072.5 L1086.0,1072.2 L1087.0,1072.2 L1088.0,1071.6 L1089.0,1071.9 L1090.0,1071.0 L1091.0,1070.2 L1092.0,1070.8 L1093.0,1071.7 L1094.0,1072.0 L1095.0,1072.2 L1096.0,1070.3 L1097.0,1071.1 L1098.0,1071.6 L1099.0,1070.8 L1100.0,1071.4 L1101.0,1070.9 L1102.0,1070.6 L1103.0,1071.9 L1104.0,1070.6 L1105.0,1071.9 L1106.0,1071.0 L1107.0,1070.2 L1108.0,1070.1 L1109.0,1070.2 L1110.0,1070.3 L1111.0,1070.8 L1112.0,1069.8 L1113.0,1072.0 L1114.0,1072.3 L1115.0,1072.2 L1116.0,1069.9 L1117.0,1068.5 L1118.0,1069.7 L1119.0,1070.6 L1120.0,1070.9 L1121.0,1070.3 L1122.0,1070.5 L1123.0,1070.4 L1124.0,1069.6 L1125.0,1071.5 L1126.0,1069.9 L1127.0,1070.6 L1128.0,1071.2 L1129.0,1069.8 L1130.0,1070.4 L1131.0,1071.5 L1132.0,1070.4 L1133.0,1070.9 L1134.0,1070.5 L1135.0,1070.3 L1136.0,1070.4 L1137.0,1069.7 L1138.0,1069.7 L1139.0,1070.5 L1140.0,1070.1 L1141.0,1069.7 L1142.0,1068.5 L1143.0,1069.3 L1144.0,1070.5 L1145.0,1070.3 L1146.0,1069.5 L1147.0,1068.5 L1148.0,1068.4 L1149.0,1069.4 L1150.0,1070.2 L1151.0,1069.4 L1152.0,1069.8 L1153.0,1068.9 L1154.0,1069.3 L1155.0,1067.8 L1156.0,1068.1 L1157.0,1067.5 L1158.0,1068.7 L1159.0,1068.5 L1160.0,1067.1 L1161.0,1067.0 L1162.0,1066.9 L1163.0,1066.1 L1164.0,1066.3 L1165.0,1066.7 L1166.0,1068.2 L1167.0,1068.6 L1168.0,1067.0 L1169.0,1066.7 L1170.0,1066.9 L1171.0,1066.2 L1172.0,1066.4 L1173.0,1067.1 L1174.0,1066.6 L1175.0,1066.0 L1176.0,1065.8 L1177.0,1066.9 L1178.0,1065.5 L1179.0,1065.3 L1180.0,1064.4 L1181.0,1064.6 L1182.0,1065.1 L1183.0,1064.9 L1184.0,1065.4 L1185.0,1064.7 L1186.0,1063.1 L1187.0,1062.6 L1188.0,1064.9 L1189.0,1064.6 L1190.0,1065.7 L1191.0,1064.7 L1192.0,1063.9 L1193.0,1064.7 L1194.0,1064.3 L1195.0,1064.1 L1196.0,1063.7 L1197.0,1064.9 L1198.0,1065.3 L1199.0,1064.5 L1200.0,1065.6 L1201.0,1064.2 L1202.0,1064.0 L1203.0,1062.4 L1204.0,1062.6 L1205.0,1065.9 L1206.0,1066.1 L1207.0,1065.0 L1208.0,1062.8 L1209.0,1063.8 L1210.0,1064.1 L1211.0,1063.6 L1212.0,1063.0 L1213.0,1061.7 L1214.0,1061.3 L1215.0,1060.2 L1216.0,1060.2 L1217.0,1060.1 L1218.0,1058.7 L1219.0,1058.2 L1220.0,1057.6 L1221.0,1057.4 L1222.0,1057.4 L1223.0,1056.1 L1224.0,1054.8 L1225.0,1052.4 L1226.0,1052.1 L1227.0,1051.9 L1228.0,1049.7 L1229.0,1048.4 L1230.0,1047.4 L1231.0,1047.6 L1232.0,1045.2 L1233.0,1043.5 L1234.0,1043.3 L1235.0,1042.4 L1236.0,1040.5 L1237.0,1039.2 L1239.0,1032.0 L1251.6,1040.0 L1251.8,1066.0 L1252.2,1050.0 L1253.0,1050.2 L1254.0,1051.1 L1255.0,1052.0 L1256.0,1053.0 L1257.0,1054.2 L1258.0,1055.9 L1259.0,1056.7 L1260.0,1057.7 L1261.0,1058.8 L1262.0,1058.8 L1263.0,1058.4 L1264.0,1059.1 L1265.0,1059.4 L1266.0,1059.7 L1267.0,1061.4 L1268.0,1061.2 L1269.0,1061.4 L1270.0,1062.3 L1271.0,1064.0 L1272.0,1064.1 L1273.0,1064.9 L1274.0,1064.4 L1275.0,1064.3 L1276.0,1065.1 L1277.0,1065.2 L1278.0,1064.7 L1279.0,1063.9 L1280.0,1064.0 L1281.0,1063.8 L1282.0,1064.5 L1283.0,1065.3 L1284.0,1066.4 L1285.0,1066.5 L1286.0,1066.0 L1287.0,1066.0 L1288.0,1066.0 L1289.0,1067.6 L1290.0,1067.4 L1291.0,1067.6 L1292.0,1066.1 L1293.0,1065.8 L1294.0,1066.2 L1295.0,1065.7 L1296.0,1065.4 L1297.0,1064.8 L1298.0,1066.0 L1299.0,1065.9 L1300.0,1066.1 L1301.0,1065.2 L1302.0,1064.3 L1303.0,1066.0 L1304.0,1066.5 L1305.0,1064.9 L1306.0,1064.8 L1307.0,1065.5 L1308.0,1065.5 L1309.0,1065.1 L1310.0,1067.5 L1311.0,1067.3 L1312.0,1065.8 L1313.0,1065.1 L1314.0,1066.9 L1315.0,1068.5 L1316.0,1068.1 L1317.0,1067.8 L1318.0,1066.5 L1319.0,1066.8 L1320.0,1066.4 L1321.0,1068.6 L1322.0,1067.8 L1323.0,1065.6 L1324.0,1065.8 L1325.0,1067.7 L1326.0,1067.8 L1327.0,1067.7 L1328.0,1068.7 L1329.0,1069.7 L1330.0,1068.3 L1331.0,1066.7 L1332.0,1067.4 L1333.0,1067.0 L1334.0,1067.4 L1335.0,1068.4 L1336.0,1068.1 L1337.0,1067.6 L1338.0,1068.1 L1339.0,1068.0 L1340.0,1068.9 L1341.0,1068.7 L1342.0,1069.0 L1343.0,1068.9 L1344.0,1069.4 L1345.0,1069.0 L1346.0,1068.9 L1347.0,1068.7 L1348.0,1068.8 L1349.0,1068.4 L1350.0,1070.9 L1351.0,1069.3 L1352.0,1069.3 L1353.0,1069.0 L1354.0,1069.1 L1355.0,1069.7 L1356.0,1069.2 L1357.0,1069.0 L1358.0,1068.4 L1359.0,1068.6 L1360.0,1069.1 L1361.0,1070.9 L1362.0,1069.1 L1363.0,1069.0 L1364.0,1070.3 L1365.0,1071.0 L1366.0,1068.9 L1367.0,1068.8 L1368.0,1070.2 L1369.0,1070.4 L1370.0,1069.0 L1371.0,1068.6 L1372.0,1069.6 L1373.0,1071.0 L1374.0,1070.9 L1375.0,1071.2 L1376.0,1070.8 L1377.0,1070.8 L1378.0,1071.3 L1379.0,1070.9 L1380.0,1070.9 L1381.0,1070.2 L1382.0,1070.4 L1383.0,1071.2 L1384.0,1070.8 L1385.0,1070.6 L1386.0,1071.6 L1387.0,1071.7 L1388.0,1071.2 L1389.0,1070.8 L1390.0,1072.3 L1391.0,1073.2 L1392.0,1070.9 L1393.0,1069.8 L1394.0,1070.3 L1395.0,1070.2 L1396.0,1070.0 L1397.0,1070.4 L1398.0,1072.0 L1399.0,1072.6 L1400.0,1072.9 L1401.0,1072.3 L1402.0,1071.5 L1403.0,1072.2 L1404.0,1071.2 L1405.0,1070.9 L1406.0,1070.8 L1407.0,1072.5 L1408.0,1072.5 L1409.0,1071.4 L1410.0,1071.3 L1411.0,1071.6 L1412.0,1072.0 L1413.0,1072.4 L1414.0,1072.0 L1415.0,1071.7 L1416.0,1070.5 L1417.0,1070.8 L1418.0,1070.6 L1419.0,1073.0 L1420.0,1073.3 L1421.0,1072.8 L1422.0,1073.2 L1423.0,1073.7 L1424.0,1072.6 L1425.0,1070.7 L1426.0,1070.9 L1427.0,1069.8 L1428.0,1070.5 L1429.0,1070.7 L1430.0,1071.7 L1431.0,1072.0 L1432.0,1071.2 L1433.0,1071.6 L1434.0,1072.0 L1435.0,1071.8 L1436.0,1071.3 L1437.0,1069.9 L1438.0,1071.3 L1439.0,1072.5 L1440.0,1072.0 L1441.0,1070.8 L1442.0,1071.5 L1443.0,1072.0 L1444.0,1071.4 L1445.0,1072.2 L1446.0,1071.5 L1447.0,1071.6 L1448.0,1072.3 L1449.0,1073.7 L1450.0,1072.1 L1451.0,1071.7 L1452.0,1072.4 L1453.0,1071.9 L1454.0,1071.7 L1455.0,1070.5 L1456.0,1071.9 L1457.0,1071.9 L1458.0,1071.4 L1459.0,1072.9 L1460.0,1072.2 L1461.0,1071.7 L1462.0,1070.8 L1463.0,1070.6 L1464.0,1071.1 L1465.0,1071.0 L1466.0,1072.5 L1467.0,1072.9 L1468.0,1071.6 L1469.0,1070.8 L1470.0,1071.4 L1471.0,1071.4 L1472.0,1072.2 L1473.0,1072.4 L1474.0,1072.0 L1475.0,1072.5 L1476.0,1073.5 L1477.0,1073.7 L1478.0,1072.4 L1479.0,1072.7 L1480.0,1072.1 L1481.0,1071.7 L1482.0,1073.2 L1483.0,1072.9 L1484.0,1072.6 L1485.0,1072.6 L1486.0,1072.1 L1487.0,1071.9 L1488.0,1073.7 L1489.0,1073.5 L1490.0,1073.0 L1491.0,1073.5 L1492.0,1073.6 L1493.0,1072.6 L1494.0,1072.8 L1495.0,1072.4 L1496.0,1072.8 L1497.0,1072.8 L1498.0,1074.2 L1499.0,1072.7 L1500.0,1072.9 L1501.0,1072.8 L1502.0,1072.5 L1503.0,1073.1 L1504.0,1072.5 L1505.0,1072.1 L1506.0,1072.3 L1507.0,1072.1 L1508.0,1073.4 L1509.0,1073.4 L1510.0,1073.1 L1511.0,1071.7 L1512.0,1072.3 L1513.0,1072.0 L1514.0,1072.7 L1515.0,1073.6 L1516.0,1072.9 L1517.0,1072.6 L1518.0,1073.6 L1519.0,1073.9 L1520.0,1073.8 L1521.0,1071.5 L1522.0,1072.3 L1523.0,1072.1 L1524.0,1071.8 L1525.0,1072.2 L1526.0,1071.2 L1527.0,1070.4 L1528.0,1071.4 L1529.0,1072.5 L1530.0,1073.8 L1531.0,1072.1 L1532.0,1071.1 L1533.0,1070.7 L1534.0,1071.8 L1535.0,1072.3 L1536.0,1072.3 L1537.0,1071.3 L1538.0,1071.2 L1539.0,1070.7 L1540.0,1071.9 L1541.0,1070.8 L1542.0,1070.3 L1543.0,1073.1" fill="none" stroke="#000" stroke-width="4.2" stroke-linejoin="round" stroke-linecap="butt" />
<path d="M937.0,1072.8 L938.0,1072.7 L939.0,1072.5 L940.0,1071.9 L941.0,1072.7 L942.0,1072.2 L943.0,1073.4 L944.0,1072.5 L945.0,1071.4 L946.0,1072.9 L947.0,1073.7 L948.0,1072.7 L949.0,1072.9 L950.0,1072.3 L951.0,1071.5 L952.0,1070.8 L953.0,1072.6 L954.0,1072.3 L955.0,1072.3 L956.0,1071.5 L957.0,1071.8 L958.0,1072.8 L959.0,1072.2 L960.0,1071.8 L961.0,1071.5 L962.0,1072.3 L963.0,1072.7 L964.0,1072.1 L965.0,1071.9 L966.0,1071.7 L967.0,1072.8 L968.0,1072.1 L969.0,1072.3 L970.0,1073.2 L971.0,1072.1 L972.0,1071.1 L973.0,1071.4 L974.0,1072.1 L975.0,1073.3 L976.0,1072.6 L977.0,1072.2 L978.0,1072.9 L979.0,1073.0 L980.0,1072.1 L981.0,1073.1 L982.0,1073.0 L983.0,1072.2 L984.0,1070.8 L985.0,1072.1 L986.0,1073.0 L987.0,1072.5 L988.0,1073.5 L989.0,1072.3 L990.0,1071.5 L991.0,1072.3 L992.0,1072.5 L993.0,1072.6 L994.0,1072.2 L995.0,1072.7 L996.0,1071.9 L997.0,1071.8 L998.0,1071.1 L999.0,1071.3 L1000.0,1071.9 L1001.0,1071.5 L1002.0,1071.5 L1003.0,1071.8 L1004.0,1072.2 L1005.0,1072.5 L1006.0,1072.6 L1007.0,1072.7 L1008.0,1072.1 L1009.0,1071.3 L1010.0,1070.7 L1011.0,1071.2 L1012.0,1071.0 L1013.0,1070.8 L1014.0,1072.2 L1015.0,1070.9 L1016.0,1071.8 L1017.0,1072.1 L1018.0,1072.1 L1019.0,1073.3 L1020.0,1072.0 L1021.0,1071.5 L1022.0,1072.5 L1023.0,1071.2 L1024.0,1070.4 L1025.0,1070.6 L1026.0,1071.0 L1027.0,1071.5 L1028.0,1071.5 L1029.0,1070.7 L1030.0,1071.8 L1031.0,1072.8 L1032.0,1071.4 L1033.0,1071.4 L1034.0,1072.0 L1035.0,1072.2 L1036.0,1071.0 L1037.0,1070.5 L1038.0,1070.8 L1039.0,1072.0 L1040.0,1071.7 L1041.0,1069.8 L1042.0,1069.4 L1043.0,1069.9 L1044.0,1070.2 L1045.0,1071.3 L1046.0,1071.7 L1047.0,1072.6 L1048.0,1072.0 L1049.0,1071.5 L1050.0,1071.8 L1051.0,1070.5 L1052.0,1070.1 L1053.0,1071.0 L1054.0,1071.4 L1055.0,1070.3 L1056.0,1071.5 L1057.0,1071.6 L1058.0,1070.8 L1059.0,1070.9 L1060.0,1070.8 L1061.0,1071.0 L1062.0,1071.3 L1063.0,1070.6 L1064.0,1071.5 L1065.0,1071.7 L1066.0,1071.2 L1067.0,1069.4 L1068.0,1069.4 L1069.0,1070.8 L1070.0,1070.3 L1071.0,1070.0 L1072.0,1069.9 L1073.0,1069.6 L1074.0,1070.1 L1075.0,1070.0 L1076.0,1070.1 L1077.0,1070.6 L1078.0,1070.0 L1079.0,1070.7 L1080.0,1069.6 L1081.0,1071.5 L1082.0,1070.1 L1083.0,1070.7 L1084.0,1071.0 L1085.0,1070.6 L1086.0,1070.8 L1087.0,1070.1 L1088.0,1069.2 L1089.0,1070.4 L1090.0,1070.9 L1091.0,1069.8 L1092.0,1068.9 L1093.0,1069.6 L1094.0,1070.3 L1095.0,1070.5 L1096.0,1070.9 L1097.0,1070.7 L1098.0,1070.1 L1099.0,1069.2 L1100.0,1071.1 L1101.0,1070.5 L1102.0,1070.4 L1103.0,1069.8 L1104.0,1069.7 L1105.0,1070.1 L1106.0,1071.1 L1107.0,1071.1 L1108.0,1070.7 L1109.0,1071.0 L1110.0,1069.8 L1111.0,1069.8 L1112.0,1069.6 L1113.0,1070.3 L1114.0,1069.9 L1115.0,1070.4 L1116.0,1070.4 L1117.0,1068.7 L1118.0,1070.5 L1119.0,1069.8 L1120.0,1068.8 L1121.0,1067.9 L1122.0,1068.3 L1123.0,1067.6 L1124.0,1068.8 L1125.0,1069.2 L1126.0,1070.1 L1127.0,1069.2 L1128.0,1069.7 L1129.0,1070.1 L1130.0,1070.2 L1131.0,1069.0 L1132.0,1068.9 L1133.0,1067.6 L1134.0,1067.6 L1135.0,1068.1 L1136.0,1068.2 L1137.0,1067.5 L1138.0,1068.0 L1139.0,1068.5 L1140.0,1068.0 L1141.0,1067.8 L1142.0,1067.7 L1143.0,1069.0 L1144.0,1069.3 L1145.0,1068.2 L1146.0,1068.0 L1147.0,1068.8 L1148.0,1068.1 L1149.0,1067.0 L1150.0,1066.4 L1151.0,1067.1 L1152.0,1068.5 L1153.0,1067.7 L1154.0,1068.9 L1155.0,1067.5 L1156.0,1067.1 L1157.0,1067.7 L1158.0,1066.9 L1159.0,1066.8 L1160.0,1065.9 L1161.0,1065.5 L1162.0,1065.9 L1163.0,1066.3 L1164.0,1065.6 L1165.0,1064.9 L1166.0,1066.0 L1167.0,1065.8 L1168.0,1065.4 L1169.0,1064.7 L1170.0,1064.1 L1171.0,1065.7 L1172.0,1065.0 L1173.0,1065.2 L1174.0,1065.7 L1175.0,1065.3 L1176.0,1064.5 L1177.0,1064.1 L1178.0,1064.1 L1179.0,1064.3 L1180.0,1063.9 L1181.0,1063.2 L1182.0,1063.4 L1183.0,1063.4 L1184.0,1063.4 L1185.0,1063.2 L1186.0,1063.6 L1187.0,1063.1 L1188.0,1063.1 L1189.0,1062.6 L1190.0,1062.0 L1191.0,1061.8 L1192.0,1062.3 L1193.0,1063.0 L1194.0,1063.3 L1195.0,1062.5 L1196.0,1062.0 L1197.0,1062.2 L1198.0,1063.2 L1199.0,1062.6 L1200.0,1062.2 L1201.0,1062.6 L1202.0,1061.7 L1203.0,1062.2 L1204.0,1062.3 L1205.0,1062.1 L1206.0,1061.7 L1207.0,1063.0 L1208.0,1063.3 L1209.0,1061.6 L1210.0,1061.8 L1211.0,1062.1 L1212.0,1062.2 L1213.0,1059.8 L1214.0,1058.4 L1215.0,1058.2 L1216.0,1058.3 L1217.0,1056.4 L1218.0,1055.4 L1219.0,1054.8 L1220.0,1051.6 L1221.0,1050.5 L1222.0,1051.3 L1223.0,1050.3 L1224.0,1048.1 L1225.0,1047.7 L1226.0,1046.5 L1227.0,1045.1 L1228.0,1043.3 L1229.0,1042.0 L1230.0,1040.6 L1231.0,1039.9 L1232.0,1038.9 L1233.0,1038.6 L1234.0,1036.5 L1235.0,1034.0 L1236.0,1033.7 L1237.0,1033.1 L1238.0,1031.3 L1239.0,1030.2 L1244.0,1036.0 L1246.0,1068.0 L1247.0,1068.0 L1250.8,1044.5 L1251.0,1044.6 L1252.0,1046.5 L1253.0,1047.5 L1254.0,1049.6 L1255.0,1050.4 L1256.0,1052.7 L1257.0,1052.3 L1258.0,1052.9 L1259.0,1055.4 L1260.0,1056.3 L1261.0,1057.2 L1262.0,1058.2 L1263.0,1058.6 L1264.0,1058.8 L1265.0,1060.1 L1266.0,1061.0 L1267.0,1061.8 L1268.0,1062.8 L1269.0,1061.7 L1270.0,1062.0 L1271.0,1062.4 L1272.0,1061.8 L1273.0,1061.4 L1274.0,1062.0 L1275.0,1063.1 L1276.0,1062.7 L1277.0,1062.9 L1278.0,1062.4 L1279.0,1062.8 L1280.0,1062.3 L1281.0,1062.2 L1282.0,1062.8 L1283.0,1063.2 L1284.0,1063.7 L1285.0,1062.3 L1286.0,1063.4 L1287.0,1064.5 L1288.0,1064.3 L1289.0,1063.1 L1290.0,1062.7 L1291.0,1062.9 L1292.0,1063.6 L1293.0,1063.7 L1294.0,1064.0 L1295.0,1064.0 L1296.0,1063.0 L1297.0,1062.8 L1298.0,1062.8 L1299.0,1063.0 L1300.0,1064.1 L1301.0,1065.0 L1302.0,1066.4 L1303.0,1065.5 L1304.0,1065.2 L1305.0,1065.9 L1306.0,1065.0 L1307.0,1065.6 L1308.0,1066.3 L1309.0,1066.4 L1310.0,1066.1 L1311.0,1065.5 L1312.0,1065.1 L1313.0,1065.8 L1314.0,1066.0 L1315.0,1066.8 L1316.0,1066.7 L1317.0,1066.8 L1318.0,1066.0 L1319.0,1067.1 L1320.0,1066.3 L1321.0,1065.7 L1322.0,1065.9 L1323.0,1066.8 L1324.0,1068.1 L1325.0,1067.9 L1326.0,1066.9 L1327.0,1067.4 L1328.0,1067.4 L1329.0,1066.5 L1330.0,1066.6 L1331.0,1066.2 L1332.0,1066.6 L1333.0,1066.0 L1334.0,1067.0 L1335.0,1067.3 L1336.0,1067.5 L1337.0,1067.9 L1338.0,1069.0 L1339.0,1068.5 L1340.0,1068.8 L1341.0,1069.3 L1342.0,1069.5 L1343.0,1069.3 L1344.0,1068.4 L1345.0,1067.9 L1346.0,1068.2 L1347.0,1068.6 L1348.0,1069.0 L1349.0,1069.2 L1350.0,1069.9 L1351.0,1069.6 L1352.0,1070.6 L1353.0,1070.2 L1354.0,1069.4 L1355.0,1069.4 L1356.0,1067.9 L1357.0,1070.0 L1358.0,1070.1 L1359.0,1069.6 L1360.0,1069.0 L1361.0,1071.0 L1362.0,1069.9 L1363.0,1069.8 L1364.0,1070.4 L1365.0,1069.7 L1366.0,1069.3 L1367.0,1070.0 L1368.0,1069.4 L1369.0,1070.2 L1370.0,1070.3 L1371.0,1070.5 L1372.0,1069.6 L1373.0,1070.7 L1374.0,1070.8 L1375.0,1071.3 L1376.0,1070.3 L1377.0,1071.4 L1378.0,1071.1 L1379.0,1070.7 L1380.0,1069.9 L1381.0,1070.6 L1382.0,1070.7 L1383.0,1069.6 L1384.0,1069.3 L1385.0,1069.9 L1386.0,1071.2 L1387.0,1070.9 L1388.0,1071.1 L1389.0,1070.8 L1390.0,1070.6 L1391.0,1070.6 L1392.0,1070.5 L1393.0,1071.3 L1394.0,1070.9 L1395.0,1070.5 L1396.0,1069.8 L1397.0,1070.5 L1398.0,1070.2 L1399.0,1070.4 L1400.0,1071.1 L1401.0,1070.1 L1402.0,1070.5 L1403.0,1071.3 L1404.0,1071.6 L1405.0,1070.7 L1406.0,1071.0 L1407.0,1070.9 L1408.0,1069.8 L1409.0,1068.9 L1410.0,1069.3 L1411.0,1071.0 L1412.0,1070.9 L1413.0,1069.9 L1414.0,1070.2 L1415.0,1070.5 L1416.0,1070.7 L1417.0,1071.3 L1418.0,1072.4 L1419.0,1070.9 L1420.0,1070.9 L1421.0,1070.5 L1422.0,1070.4 L1423.0,1070.4 L1424.0,1070.7 L1425.0,1070.8 L1426.0,1071.3 L1427.0,1071.2 L1428.0,1070.9 L1429.0,1072.1 L1430.0,1070.8 L1431.0,1071.6 L1432.0,1072.6 L1433.0,1071.4 L1434.0,1072.3 L1435.0,1072.5 L1436.0,1071.5 L1437.0,1070.4 L1438.0,1072.0 L1439.0,1071.6 L1440.0,1071.2 L1441.0,1072.0 L1442.0,1071.3 L1443.0,1071.9 L1444.0,1071.3 L1445.0,1071.5 L1446.0,1070.7 L1447.0,1070.9 L1448.0,1070.7 L1449.0,1070.9 L1450.0,1071.5 L1451.0,1071.5 L1452.0,1071.8 L1453.0,1072.4 L1454.0,1071.4 L1455.0,1070.3 L1456.0,1071.1 L1457.0,1071.8 L1458.0,1072.5 L1459.0,1072.6 L1460.0,1072.4 L1461.0,1071.8 L1462.0,1071.8 L1463.0,1071.0 L1464.0,1072.4 L1465.0,1072.3 L1466.0,1072.1 L1467.0,1071.6 L1468.0,1071.6 L1469.0,1071.4 L1470.0,1071.8 L1471.0,1071.1 L1472.0,1072.3 L1473.0,1072.7 L1474.0,1073.3 L1475.0,1072.1 L1476.0,1071.8 L1477.0,1072.0 L1478.0,1071.9 L1479.0,1071.6 L1480.0,1070.9 L1481.0,1070.9 L1482.0,1071.3 L1483.0,1071.4 L1484.0,1070.9 L1485.0,1070.9 L1486.0,1071.7 L1487.0,1072.4 L1488.0,1072.1 L1489.0,1072.6 L1490.0,1072.9 L1491.0,1072.6 L1492.0,1071.8 L1493.0,1071.4 L1494.0,1070.6 L1495.0,1071.3 L1496.0,1072.1 L1497.0,1071.6 L1498.0,1073.0 L1499.0,1073.2 L1500.0,1072.2 L1501.0,1072.4 L1502.0,1071.1 L1503.0,1071.1 L1504.0,1071.7 L1505.0,1072.1 L1506.0,1071.9 L1507.0,1071.9 L1508.0,1073.4 L1509.0,1072.8 L1510.0,1072.5 L1511.0,1072.7 L1512.0,1072.4 L1513.0,1072.0 L1514.0,1071.5 L1515.0,1071.3 L1516.0,1072.8 L1517.0,1071.6 L1518.0,1070.8 L1519.0,1071.2 L1520.0,1071.4 L1521.0,1073.4 L1522.0,1073.1 L1523.0,1073.5 L1524.0,1073.6 L1525.0,1073.0 L1526.0,1072.7 L1527.0,1071.9 L1528.0,1072.0 L1529.0,1071.9 L1530.0,1072.1 L1531.0,1072.1 L1532.0,1073.2 L1533.0,1073.1 L1534.0,1072.1 L1535.0,1071.3 L1536.0,1072.7 L1537.0,1073.1 L1538.0,1072.3 L1539.0,1071.6 L1540.0,1072.6 L1541.0,1072.8 L1542.0,1071.4 L1543.0,1072.6" fill="none" stroke="#ff0000" stroke-width="4.8" stroke-linejoin="round" stroke-linecap="butt" />
<path d="M937.0,1044.8 L938.0,1047.8 L939.0,1049.8 L940.0,1049.1 L941.0,1048.3 L942.0,1047.8 L943.0,1048.9 L944.0,1051.2 L945.0,1050.4 L946.0,1048.1 L947.0,1047.4 L948.0,1048.8 L949.0,1050.5 L950.0,1049.7 L951.0,1049.0 L952.0,1047.4 L953.0,1046.9 L954.0,1048.5 L955.0,1047.9 L956.0,1046.5 L957.0,1046.2 L958.0,1046.2 L959.0,1045.9 L960.0,1046.3 L961.0,1048.5 L962.0,1049.2 L963.0,1049.0 L964.0,1048.1 L965.0,1048.1 L966.0,1048.7 L967.0,1049.6 L968.0,1049.4 L969.0,1048.2 L970.0,1046.5 L971.0,1045.6 L972.0,1045.8 L973.0,1046.1 L974.0,1046.1 L975.0,1046.8 L976.0,1048.9 L977.0,1047.7 L978.0,1044.9 L979.0,1044.7 L980.0,1045.6 L981.0,1047.7 L982.0,1048.4 L983.0,1047.4 L984.0,1047.8 L985.0,1048.2 L986.0,1049.5 L987.0,1050.0 L988.0,1049.1 L989.0,1048.6 L990.0,1047.7 L991.0,1046.6 L992.0,1046.2 L993.0,1047.2 L994.0,1047.4 L995.0,1047.0 L996.0,1047.1 L997.0,1046.7 L998.0,1046.0 L999.0,1046.9 L1000.0,1048.4 L1001.0,1048.5 L1002.0,1048.3 L1003.0,1046.2 L1004.0,1045.5 L1005.0,1047.2 L1006.0,1048.0 L1007.0,1047.4 L1008.0,1048.3 L1009.0,1049.3 L1010.0,1049.0 L1011.0,1047.7 L1012.0,1046.3 L1013.0,1045.3 L1014.0,1046.6 L1015.0,1048.1 L1016.0,1048.2 L1017.0,1045.9 L1018.0,1045.0 L1019.0,1045.7 L1020.0,1046.1 L1021.0,1044.0 L1022.0,1045.5 L1023.0,1048.8 L1024.0,1047.9 L1025.0,1045.7 L1026.0,1046.5 L1027.0,1047.8 L1028.0,1047.5 L1029.0,1046.3 L1030.0,1046.0 L1031.0,1047.0 L1032.0,1047.3 L1033.0,1047.5 L1034.0,1047.0 L1035.0,1046.7 L1036.0,1047.4 L1037.0,1046.5 L1038.0,1046.1 L1039.0,1045.4 L1040.0,1045.3 L1041.0,1045.2 L1042.0,1045.2 L1043.0,1046.5 L1044.0,1048.4 L1045.0,1049.3 L1046.0,1048.4 L1047.0,1047.1 L1048.0,1047.5 L1049.0,1047.6 L1050.0,1047.2 L1051.0,1045.7 L1052.0,1046.3 L1053.0,1045.9 L1054.0,1046.2 L1055.0,1045.7 L1056.0,1045.8 L1057.0,1044.2 L1058.0,1042.3 L1059.0,1042.8 L1060.0,1044.0 L1061.0,1043.6 L1062.0,1041.7 L1063.0,1041.9 L1064.0,1043.1 L1065.0,1044.1 L1066.0,1044.3 L1067.0,1043.1 L1068.0,1042.6 L1069.0,1043.9 L1070.0,1044.6 L1071.0,1045.1 L1072.0,1044.5 L1073.0,1044.4 L1074.0,1043.7 L1075.0,1044.2 L1076.0,1044.6 L1077.0,1044.2 L1078.0,1043.1 L1079.0,1043.0 L1080.0,1042.8 L1081.0,1043.7 L1082.0,1046.0 L1083.0,1047.5 L1084.0,1045.7 L1085.0,1044.8 L1086.0,1044.8 L1087.0,1045.3 L1088.0,1045.2 L1089.0,1045.3 L1090.0,1045.7 L1091.0,1047.0 L1092.0,1045.3 L1093.0,1042.4 L1094.0,1042.7 L1095.0,1042.2 L1096.0,1040.2 L1097.0,1040.7 L1098.0,1041.6 L1099.0,1041.9 L1100.0,1041.9 L1101.0,1041.4 L1102.0,1043.3 L1103.0,1044.2 L1104.0,1043.5 L1105.0,1042.7 L1106.0,1042.5 L1107.0,1042.9 L1108.0,1044.2 L1109.0,1044.9 L1110.0,1045.2 L1111.0,1044.1 L1112.0,1043.9 L1113.0,1042.6 L1114.0,1041.7 L1115.0,1041.6 L1116.0,1042.6 L1117.0,1043.1 L1118.0,1044.0 L1119.0,1044.4 L1120.0,1043.4 L1121.0,1043.3 L1122.0,1043.5 L1123.0,1042.4 L1124.0,1041.9 L1125.0,1042.6 L1126.0,1043.3 L1127.0,1043.7 L1128.0,1043.1 L1129.0,1042.0 L1130.0,1042.8 L1131.0,1043.3 L1132.0,1042.2 L1133.0,1041.7 L1134.0,1041.4 L1135.0,1042.5 L1136.0,1043.7 L1137.0,1042.2 L1138.0,1040.8 L1139.0,1041.5 L1140.0,1042.3 L1141.0,1042.0 L1142.0,1039.8 L1143.0,1039.4 L1144.0,1039.7 L1145.0,1039.7 L1146.0,1040.3 L1147.0,1038.6 L1148.0,1038.0 L1149.0,1038.2 L1150.0,1039.5 L1151.0,1041.3 L1152.0,1041.9 L1153.0,1041.8 L1154.0,1040.3 L1155.0,1038.1 L1156.0,1038.2 L1157.0,1037.4 L1158.0,1037.9 L1159.0,1038.4 L1160.0,1038.7 L1161.0,1039.1 L1162.0,1039.3 L1163.0,1040.7 L1164.0,1040.7 L1165.0,1040.3 L1166.0,1039.7 L1167.0,1038.8 L1168.0,1038.2 L1169.0,1037.9 L1170.0,1035.6 L1171.0,1034.9 L1172.0,1034.3 L1173.0,1033.3 L1174.0,1032.6 L1175.0,1031.7 L1176.0,1032.1 L1177.0,1031.7 L1178.0,1030.4 L1179.0,1029.1 L1180.0,1026.3 L1181.0,1024.3 L1182.0,1024.5 L1183.0,1025.6 L1184.0,1026.3 L1185.0,1024.1 L1186.0,1022.9 L1187.0,1022.5 L1188.0,1021.7 L1189.0,1019.3 L1190.0,1017.6 L1191.0,1015.7 L1192.0,1014.1 L1193.0,1013.6 L1194.0,1015.3 L1195.0,1018.4 L1196.0,1019.8 L1197.0,1021.0 L1198.0,1022.9 L1199.0,1024.9 L1200.0,1027.4 L1201.0,1029.7 L1202.0,1031.7 L1203.0,1031.6 L1204.0,1029.9 L1205.0,1031.1 L1206.0,1032.0 L1207.0,1030.3 L1208.0,1030.1 L1209.0,1031.2 L1210.0,1032.0 L1211.0,1031.4 L1212.0,1030.4 L1213.0,1030.4 L1214.0,1029.8 L1215.0,1028.1 L1216.0,1026.2 L1217.0,1021.7 L1218.0,1016.4 L1219.0,1013.0 L1220.0,1010.5 L1221.0,1008.0 L1222.0,1005.9 L1223.0,1003.8 L1224.0,1001.8 L1225.0,998.6 L1226.0,994.7 L1227.0,989.4 L1228.0,985.9 L1229.0,983.6 L1230.0,980.3 L1231.0,977.0 L1232.0,972.9 L1233.0,969.4 L1234.0,966.7 L1235.0,961.1 L1236.0,955.7 L1237.0,955.8 L1238.0,958.3 L1240.0,1030.0 L1252.0,1030.0 L1254.0,980.0 L1254.2,981.1 L1255.2,983.4 L1256.2,986.3 L1257.2,991.1 L1258.2,995.1 L1259.2,999.0 L1260.2,1002.1 L1261.2,1005.5 L1262.2,1008.6 L1263.2,1010.9 L1264.2,1012.8 L1265.2,1015.8 L1266.2,1016.9 L1267.2,1017.0 L1268.2,1018.6 L1269.2,1020.7 L1270.2,1022.8 L1271.2,1023.7 L1272.2,1023.7 L1273.2,1025.5 L1274.2,1026.2 L1275.2,1026.8 L1276.2,1028.6 L1277.2,1028.4 L1278.2,1028.7 L1279.2,1030.7 L1280.2,1030.6 L1281.2,1029.0 L1282.2,1028.7 L1283.2,1027.2 L1284.2,1025.1 L1285.2,1024.4 L1286.2,1021.9 L1287.2,1019.0 L1288.2,1016.5 L1289.2,1016.8 L1290.2,1016.1 L1291.2,1014.9 L1292.2,1013.7 L1293.2,1015.6 L1294.2,1017.3 L1295.2,1016.5 L1296.2,1014.3 L1297.2,1017.0 L1298.2,1018.3 L1299.2,1017.4 L1300.2,1020.0 L1301.2,1023.7 L1302.2,1026.2 L1303.2,1026.5 L1304.2,1027.9 L1305.2,1029.6 L1306.2,1030.8 L1307.2,1031.8 L1308.2,1033.4 L1309.2,1033.6 L1310.2,1032.7 L1311.2,1033.8 L1312.2,1033.5 L1313.2,1034.2 L1314.2,1035.7 L1315.2,1035.8 L1316.2,1036.3 L1317.2,1036.8 L1318.2,1036.4 L1319.2,1035.2 L1320.2,1035.2 L1321.2,1037.1 L1322.2,1038.0 L1323.2,1037.7 L1324.2,1037.7 L1325.2,1038.3 L1326.2,1037.4 L1327.2,1036.6 L1328.2,1038.1 L1329.2,1039.3 L1330.2,1039.2 L1331.2,1037.8 L1332.2,1037.8 L1333.2,1038.7 L1334.2,1038.8 L1335.2,1039.5 L1336.2,1040.7 L1337.2,1041.5 L1338.2,1042.3 L1339.2,1042.2 L1340.2,1043.0 L1341.2,1043.8 L1342.2,1044.1 L1343.2,1042.4 L1344.2,1042.0 L1345.2,1042.7 L1346.2,1041.8 L1347.2,1041.6 L1348.2,1042.5 L1349.2,1042.4 L1350.2,1041.4 L1351.2,1042.2 L1352.2,1042.6 L1353.2,1042.8 L1354.2,1043.1 L1355.2,1043.5 L1356.2,1044.5 L1357.2,1044.2 L1358.2,1043.4 L1359.2,1043.9 L1360.2,1045.0 L1361.2,1045.5 L1362.2,1045.3 L1363.2,1044.2 L1364.2,1044.7 L1365.2,1046.0 L1366.2,1045.5 L1367.2,1046.1 L1368.2,1045.3 L1369.2,1043.1 L1370.2,1042.4 L1371.2,1043.4 L1372.2,1042.9 L1373.2,1042.0 L1374.2,1042.3 L1375.2,1044.4 L1376.2,1044.7 L1377.2,1044.4 L1378.2,1044.7 L1379.2,1044.7 L1380.2,1044.6 L1381.2,1044.5 L1382.2,1042.9 L1383.2,1041.6 L1384.2,1044.0 L1385.2,1045.1 L1386.2,1045.3 L1387.2,1045.3 L1388.2,1042.2 L1389.2,1041.3 L1390.2,1044.6 L1391.2,1044.7 L1392.2,1042.8 L1393.2,1043.5 L1394.2,1044.3 L1395.2,1043.9 L1396.2,1045.8 L1397.2,1047.9 L1398.2,1047.3 L1399.2,1045.6 L1400.2,1044.7 L1401.2,1043.9 L1402.2,1044.3 L1403.2,1044.0 L1404.2,1043.1 L1405.2,1043.9 L1406.2,1046.4 L1407.2,1045.5 L1408.2,1043.9 L1409.2,1045.0 L1410.2,1047.3 L1411.2,1047.4 L1412.2,1045.6 L1413.2,1045.7 L1414.2,1046.2 L1415.2,1044.8 L1416.2,1043.5 L1417.2,1043.7 L1418.2,1044.5 L1419.2,1044.0 L1420.2,1043.7 L1421.2,1045.2 L1422.2,1046.9 L1423.2,1046.9 L1424.2,1046.8 L1425.2,1047.4 L1426.2,1045.8 L1427.2,1044.9 L1428.2,1044.8 L1429.2,1046.0 L1430.2,1045.3 L1431.2,1043.9 L1432.2,1045.3 L1433.2,1048.0 L1434.2,1048.0 L1435.2,1047.2 L1436.2,1046.5 L1437.2,1044.5 L1438.2,1044.0 L1439.2,1044.0 L1440.2,1044.6 L1441.2,1045.9 L1442.2,1047.4 L1443.2,1048.5 L1444.2,1049.5 L1445.2,1049.8 L1446.2,1047.5 L1447.2,1046.7 L1448.2,1046.8 L1449.2,1045.9 L1450.2,1046.2 L1451.2,1046.6 L1452.2,1046.3 L1453.2,1047.5 L1454.2,1047.7 L1455.2,1045.1 L1456.2,1043.8 L1457.2,1045.3 L1458.2,1045.8 L1459.2,1046.4 L1460.2,1046.7 L1461.2,1047.7 L1462.2,1048.8 L1463.2,1048.3 L1464.2,1046.5 L1465.2,1044.3 L1466.2,1042.7 L1467.2,1043.1 L1468.2,1045.1 L1469.2,1046.4 L1470.2,1046.1 L1471.2,1045.4 L1472.2,1044.3 L1473.2,1043.8 L1474.2,1044.7 L1475.2,1046.1 L1476.2,1045.7 L1477.2,1046.7 L1478.2,1046.9 L1479.2,1047.7 L1480.2,1048.3 L1481.2,1049.0 L1482.2,1048.7 L1483.2,1046.7 L1484.2,1045.8 L1485.2,1046.1 L1486.2,1046.7 L1487.2,1047.7 L1488.2,1047.7 L1489.2,1047.7 L1490.2,1047.8 L1491.2,1047.7 L1492.2,1047.6 L1493.2,1046.1 L1494.2,1047.1 L1495.2,1047.7 L1496.2,1046.6 L1497.2,1046.8 L1498.2,1047.9 L1499.2,1046.6 L1500.2,1044.6 L1501.2,1045.5 L1502.2,1047.5 L1503.2,1047.7 L1504.2,1049.2 L1505.2,1049.6 L1506.2,1048.3 L1507.2,1047.6 L1508.2,1046.6 L1509.2,1046.3 L1510.2,1046.7 L1511.2,1047.1 L1512.2,1046.2 L1513.2,1046.7 L1514.2,1047.5 L1515.2,1046.9 L1516.2,1044.4 L1517.2,1043.9 L1518.2,1045.3 L1519.2,1046.7 L1520.2,1047.6 L1521.2,1048.7 L1522.2,1050.1 L1523.2,1049.4 L1524.2,1048.2 L1525.2,1047.6 L1526.2,1048.3 L1527.2,1048.8 L1528.2,1048.4 L1529.2,1047.9 L1530.2,1048.6 L1531.2,1048.7 L1532.2,1046.1 L1533.2,1044.9 L1534.2,1047.3 L1535.2,1048.1 L1536.2,1047.2 L1537.2,1047.9 L1538.2,1049.6 L1539.2,1047.3 L1540.2,1045.4 L1541.2,1046.1 L1542.2,1047.5" fill="none" stroke="#00ff00" stroke-width="6.0" stroke-linejoin="round" stroke-linecap="butt" />
<path d="M937.0,991.7 L938.0,992.3 L939.0,992.9 L940.0,992.7 L941.0,992.9 L942.0,992.5 L943.0,991.9 L944.0,992.1 L945.0,992.3 L946.0,993.2 L947.0,992.5 L948.0,991.7 L949.0,990.9 L950.0,991.5 L951.0,992.7 L952.0,994.7 L953.0,994.6 L954.0,993.5 L955.0,991.6 L956.0,991.6 L957.0,992.6 L958.0,993.2 L959.0,994.9 L960.0,994.9 L961.0,995.2 L962.0,995.6 L963.0,995.8 L964.0,996.1 L965.0,995.6 L966.0,996.6 L967.0,997.6 L968.0,996.9 L969.0,996.1 L970.0,995.6 L971.0,996.0 L972.0,996.2 L973.0,994.7 L974.0,993.3 L975.0,994.3 L976.0,994.9 L977.0,995.1 L978.0,995.3 L979.0,995.2 L980.0,992.7 L981.0,992.1 L982.0,992.8 L983.0,992.2 L984.0,992.4 L985.0,991.6 L986.0,990.4 L987.0,992.4 L988.0,993.5 L989.0,991.6 L990.0,990.0 L991.0,990.3 L992.0,989.5 L993.0,989.6 L994.0,989.6 L995.0,987.9 L996.0,986.8 L997.0,987.8 L998.0,988.1 L999.0,987.3 L1000.0,987.6 L1001.0,988.9 L1002.0,988.5 L1003.0,987.8 L1004.0,988.0 L1005.0,988.9 L1006.0,989.3 L1007.0,988.7 L1008.0,987.9 L1009.0,988.6 L1010.0,989.5 L1011.0,991.0 L1012.0,992.6 L1013.0,992.9 L1014.0,992.4 L1015.0,991.5 L1016.0,991.2 L1017.0,991.3 L1018.0,990.9 L1019.0,990.6 L1020.0,990.5 L1021.0,991.3 L1022.0,992.6 L1023.0,994.2 L1024.0,993.3 L1025.0,992.2 L1026.0,992.4 L1027.0,992.2 L1028.0,993.1 L1029.0,994.2 L1030.0,994.3 L1031.0,991.1 L1032.0,990.0 L1033.0,990.1 L1034.0,990.4 L1035.0,989.9 L1036.0,988.0 L1037.0,987.7 L1038.0,988.8 L1039.0,988.7 L1040.0,986.4 L1041.0,986.1 L1042.0,988.4 L1043.0,989.1 L1044.0,988.1 L1045.0,986.1 L1046.0,985.9 L1047.0,986.5 L1048.0,986.6 L1049.0,986.0 L1050.0,986.1 L1051.0,986.5 L1052.0,985.3 L1053.0,984.6 L1054.0,984.7 L1055.0,985.2 L1056.0,985.9 L1057.0,986.0 L1058.0,986.8 L1059.0,988.4 L1060.0,988.1 L1061.0,987.9 L1062.0,988.7 L1063.0,987.9 L1064.0,987.8 L1065.0,987.9 L1066.0,987.7 L1067.0,988.0 L1068.0,988.1 L1069.0,987.4 L1070.0,988.4 L1071.0,989.7 L1072.0,990.4 L1073.0,991.5 L1074.0,993.0 L1075.0,991.8 L1076.0,990.1 L1077.0,989.5 L1078.0,989.4 L1079.0,989.2 L1080.0,988.9 L1081.0,988.7 L1082.0,987.0 L1083.0,986.9 L1084.0,986.2 L1085.0,984.8 L1086.0,985.3 L1087.0,985.1 L1088.0,984.8 L1089.0,986.0 L1090.0,984.6 L1091.0,982.2 L1092.0,980.9 L1093.0,980.6 L1094.0,981.0 L1095.0,980.4 L1096.0,978.9 L1097.0,978.8 L1098.0,979.7 L1099.0,980.7 L1100.0,981.4 L1101.0,982.4 L1102.0,984.5 L1103.0,985.6 L1104.0,984.4 L1105.0,983.2 L1106.0,985.3 L1107.0,987.5 L1108.0,988.2 L1109.0,988.9 L1110.0,988.5 L1111.0,986.6 L1112.0,986.2 L1113.0,988.4 L1114.0,988.8 L1115.0,988.7 L1116.0,988.1 L1117.0,988.2 L1118.0,988.2 L1119.0,986.2 L1120.0,985.3 L1121.0,984.7 L1122.0,985.2 L1123.0,985.8 L1124.0,985.4 L1125.0,983.8 L1126.0,982.2 L1127.0,983.0 L1128.0,984.0 L1129.0,984.5 L1130.0,984.4 L1131.0,982.0 L1132.0,979.4 L1133.0,979.0 L1134.0,979.7 L1135.0,979.7 L1136.0,978.3 L1137.0,978.8 L1138.0,978.3 L1139.0,976.9 L1140.0,976.7 L1141.0,975.9 L1142.0,975.8 L1143.0,975.8 L1144.0,975.7 L1145.0,975.2 L1146.0,975.5 L1147.0,974.7 L1148.0,975.9 L1149.0,978.1 L1150.0,980.5 L1151.0,980.5 L1152.0,979.3 L1153.0,979.2 L1154.0,980.3 L1155.0,981.8 L1156.0,982.8 L1157.0,980.5 L1158.0,980.6 L1159.0,981.1 L1160.0,983.2 L1161.0,984.0 L1162.0,984.8 L1163.0,984.1 L1164.0,984.2 L1165.0,983.9 L1166.0,983.3 L1167.0,980.5 L1168.0,977.2 L1169.0,977.1 L1170.0,977.8 L1171.0,979.4 L1172.0,979.3 L1173.0,978.2 L1174.0,977.5 L1175.0,976.4 L1176.0,975.9 L1177.0,976.6 L1178.0,974.9 L1179.0,972.3 L1180.0,970.3 L1181.0,970.1 L1182.0,970.4 L1183.0,969.8 L1184.0,968.8 L1185.0,967.9 L1186.0,966.7 L1187.0,965.9 L1188.0,964.5 L1189.0,964.1 L1190.0,965.0 L1191.0,966.4 L1192.0,966.6 L1193.0,965.7 L1194.0,965.0 L1195.0,966.4 L1196.0,968.7 L1197.0,969.2 L1198.0,967.7 L1199.0,968.3 L1200.0,970.0 L1201.0,971.0 L1202.0,971.7 L1203.0,972.0 L1204.0,971.9 L1205.0,973.3 L1206.0,972.7 L1207.0,973.1 L1208.0,974.1 L1209.0,974.5 L1210.0,973.8 L1211.0,972.9 L1212.0,971.7 L1213.0,969.9 L1214.0,969.4 L1215.0,968.2 L1216.0,964.3 L1217.0,961.1 L1218.0,960.6 L1219.0,961.5 L1220.0,959.9 L1221.0,956.5 L1222.0,954.4 L1223.0,952.7 L1224.0,949.8 L1225.0,945.2 L1226.0,943.0 L1227.0,941.8 L1228.0,940.2 L1229.0,937.7 L1230.0,935.1 L1231.0,932.0 L1232.0,929.5 L1233.0,930.8 L1234.0,928.7 L1235.0,925.5 L1238.0,940.0 L1239.0,1010.0 L1251.2,1010.0 L1251.6,960.0 L1256.0,945.1 L1256.2,944.4 L1257.2,947.9 L1258.2,951.5 L1259.2,952.9 L1260.2,952.4 L1261.2,952.6 L1262.2,954.8 L1263.2,957.1 L1264.2,959.0 L1265.2,959.8 L1266.2,962.0 L1267.2,964.3 L1268.2,965.9 L1269.2,967.4 L1270.2,966.9 L1271.2,967.3 L1272.2,969.3 L1273.2,971.1 L1274.2,971.3 L1275.2,971.8 L1276.2,973.2 L1277.2,973.4 L1278.2,973.0 L1279.2,973.2 L1280.2,973.1 L1281.2,972.8 L1282.2,971.4 L1283.2,969.4 L1284.2,968.3 L1285.2,968.0 L1286.2,968.2 L1287.2,967.6 L1288.2,966.3 L1289.2,966.3 L1290.2,967.0 L1291.2,967.5 L1292.2,967.6 L1293.2,968.1 L1294.2,967.7 L1295.2,967.8 L1296.2,967.7 L1297.2,968.2 L1298.2,970.1 L1299.2,971.9 L1300.2,972.7 L1301.2,973.1 L1302.2,973.3 L1303.2,973.8 L1304.2,975.3 L1305.2,977.2 L1306.2,977.2 L1307.2,975.9 L1308.2,978.7 L1309.2,981.3 L1310.2,982.0 L1311.2,981.7 L1312.2,981.5 L1313.2,981.1 L1314.2,981.5 L1315.2,981.7 L1316.2,980.8 L1317.2,980.8 L1318.2,981.1 L1319.2,980.5 L1320.2,980.5 L1321.2,980.1 L1322.2,980.7 L1323.2,980.7 L1324.2,979.7 L1325.2,978.9 L1326.2,978.1 L1327.2,977.1 L1328.2,978.1 L1329.2,979.5 L1330.2,979.9 L1331.2,978.7 L1332.2,978.7 L1333.2,980.0 L1334.2,979.8 L1335.2,978.2 L1336.2,978.4 L1337.2,978.5 L1338.2,977.0 L1339.2,975.1 L1340.2,975.1 L1341.2,977.1 L1342.2,978.4 L1343.2,977.8 L1344.2,978.8 L1345.2,978.8 L1346.2,976.9 L1347.2,977.6 L1348.2,980.2 L1349.2,981.1 L1350.2,980.9 L1351.2,981.0 L1352.2,981.5 L1353.2,982.4 L1354.2,984.0 L1355.2,982.5 L1356.2,982.1 L1357.2,984.9 L1358.2,987.0 L1359.2,986.7 L1360.2,986.6 L1361.2,986.8 L1362.2,987.3 L1363.2,987.0 L1364.2,986.5 L1365.2,986.4 L1366.2,987.9 L1367.2,989.6 L1368.2,988.7 L1369.2,988.7 L1370.2,989.0 L1371.2,986.7 L1372.2,985.3 L1373.2,985.4 L1374.2,984.7 L1375.2,985.5 L1376.2,985.6 L1377.2,983.9 L1378.2,984.0 L1379.2,984.7 L1380.2,982.9 L1381.2,982.2 L1382.2,982.5 L1383.2,982.0 L1384.2,982.0 L1385.2,983.0 L1386.2,982.2 L1387.2,981.9 L1388.2,981.8 L1389.2,981.6 L1390.2,982.0 L1391.2,983.8 L1392.2,984.7 L1393.2,985.5 L1394.2,984.8 L1395.2,985.3 L1396.2,986.9 L1397.2,987.3 L1398.2,987.3 L1399.2,987.6 L1400.2,987.8 L1401.2,988.1 L1402.2,987.7 L1403.2,990.1 L1404.2,992.2 L1405.2,992.3 L1406.2,991.5 L1407.2,990.5 L1408.2,990.3 L1409.2,989.8 L1410.2,989.5 L1411.2,988.2 L1412.2,986.7 L1413.2,989.1 L1414.2,990.4 L1415.2,989.8 L1416.2,988.9 L1417.2,989.3 L1418.2,988.5 L1419.2,986.0 L1420.2,985.9 L1421.2,987.3 L1422.2,987.6 L1423.2,987.6 L1424.2,987.9 L1425.2,988.2 L1426.2,985.9 L1427.2,985.1 L1428.2,985.4 L1429.2,985.5 L1430.2,986.3 L1431.2,986.6 L1432.2,986.5 L1433.2,988.1 L1434.2,989.8 L1435.2,990.7 L1436.2,991.3 L1437.2,990.6 L1438.2,990.2 L1439.2,991.2 L1440.2,991.6 L1441.2,991.6 L1442.2,989.5 L1443.2,987.5 L1444.2,988.3 L1445.2,990.3 L1446.2,991.2 L1447.2,991.4 L1448.2,991.6 L1449.2,990.5 L1450.2,991.0 L1451.2,992.6 L1452.2,992.8 L1453.2,993.3 L1454.2,994.6 L1455.2,994.3 L1456.2,992.9 L1457.2,992.3 L1458.2,991.7 L1459.2,992.6 L1460.2,992.9 L1461.2,992.5 L1462.2,994.8 L1463.2,995.9 L1464.2,994.9 L1465.2,994.8 L1466.2,994.6 L1467.2,993.7 L1468.2,993.7 L1469.2,992.5 L1470.2,990.6 L1471.2,990.4 L1472.2,991.5 L1473.2,992.8 L1474.2,992.8 L1475.2,992.5 L1476.2,991.1 L1477.2,991.1 L1478.2,994.0 L1479.2,994.9 L1480.2,992.7 L1481.2,991.5 L1482.2,991.4 L1483.2,990.0 L1484.2,989.4 L1485.2,989.3 L1486.2,990.4 L1487.2,990.7 L1488.2,989.9 L1489.2,989.1 L1490.2,988.6 L1491.2,990.0 L1492.2,991.8 L1493.2,992.1 L1494.2,992.4 L1495.2,991.7 L1496.2,991.7 L1497.2,992.0 L1498.2,992.6 L1499.2,992.8 L1500.2,992.0 L1501.2,993.7 L1502.2,994.7 L1503.2,994.4 L1504.2,994.3 L1505.2,994.6 L1506.2,995.3 L1507.2,994.9 L1508.2,994.4 L1509.2,995.4 L1510.2,996.3 L1511.2,996.0 L1512.2,995.5 L1513.2,995.1 L1514.2,994.4 L1515.2,993.5 L1516.2,992.8 L1517.2,994.1 L1518.2,995.2 L1519.2,994.2 L1520.2,993.8 L1521.2,994.8 L1522.2,994.8 L1523.2,994.6 L1524.2,994.8 L1525.2,994.7 L1526.2,993.8 L1527.2,993.7 L1528.2,994.9 L1529.2,994.0 L1530.2,992.9 L1531.2,993.7 L1532.2,993.9 L1533.2,992.9 L1534.2,993.8 L1535.2,994.3 L1536.2,995.1 L1537.2,994.4 L1538.2,993.6 L1539.2,994.4 L1540.2,994.2 L1541.2,992.9 L1542.2,992.6" fill="none" stroke="#0000ff" stroke-width="5.5" stroke-linejoin="round" stroke-linecap="butt" />
<path d="M937.0,1042.1 L938.0,1042.6 L939.0,1041.4 L940.0,1040.8 L941.0,1040.5 L942.0,1041.3 L943.0,1040.2 L944.0,1040.9 L945.0,1042.5 L946.0,1042.6 L947.0,1042.1 L948.0,1041.7 L949.0,1041.4 L950.0,1041.4 L951.0,1043.3 L952.0,1044.8 L953.0,1044.8 L954.0,1044.6 L955.0,1045.2 L956.0,1045.3 L957.0,1045.2 L958.0,1044.6 L959.0,1043.5 L960.0,1041.7 L961.0,1040.9 L962.0,1043.2 L963.0,1044.8 L964.0,1045.1 L965.0,1043.1 L966.0,1043.5 L967.0,1043.2 L968.0,1043.1 L969.0,1043.1 L970.0,1044.0 L971.0,1044.5 L972.0,1045.1 L973.0,1044.9 L974.0,1045.3 L975.0,1045.9 L976.0,1045.2 L977.0,1044.8 L978.0,1045.3 L979.0,1044.7 L980.0,1044.2 L981.0,1043.3 L982.0,1041.6 L983.0,1040.6 L984.0,1042.6 L985.0,1043.3 L986.0,1044.9 L987.0,1045.5 L988.0,1043.7 L989.0,1044.1 L990.0,1044.1 L991.0,1043.5 L992.0,1042.5 L993.0,1043.1 L994.0,1044.4 L995.0,1046.2 L996.0,1046.6 L997.0,1044.7 L998.0,1044.2 L999.0,1045.4 L1000.0,1044.1 L1001.0,1043.2 L1002.0,1043.4 L1003.0,1043.9 L1004.0,1043.6 L1005.0,1042.6 L1006.0,1043.4 L1007.0,1045.5 L1008.0,1045.6 L1009.0,1044.1 L1010.0,1043.1 L1011.0,1042.8 L1012.0,1043.1 L1013.0,1042.2 L1014.0,1041.8 L1015.0,1041.2 L1016.0,1040.9 L1017.0,1041.3 L1018.0,1041.1 L1019.0,1040.6 L1020.0,1040.7 L1021.0,1040.6 L1022.0,1039.8 L1023.0,1039.4 L1024.0,1040.1 L1025.0,1041.2 L1026.0,1041.4 L1027.0,1040.2 L1028.0,1039.2 L1029.0,1039.9 L1030.0,1041.3 L1031.0,1040.1 L1032.0,1037.9 L1033.0,1037.5 L1034.0,1037.1 L1035.0,1036.4 L1036.0,1035.6 L1037.0,1036.0 L1038.0,1035.7 L1039.0,1036.8 L1040.0,1039.0 L1041.0,1038.5 L1042.0,1036.1 L1043.0,1035.0 L1044.0,1034.5 L1045.0,1034.0 L1046.0,1034.9 L1047.0,1035.8 L1048.0,1036.4 L1049.0,1037.7 L1050.0,1037.7 L1051.0,1038.2 L1052.0,1040.0 L1053.0,1040.0 L1054.0,1039.9 L1055.0,1041.4 L1056.0,1040.9 L1057.0,1039.2 L1058.0,1039.0 L1059.0,1038.5 L1060.0,1038.9 L1061.0,1041.8 L1062.0,1041.8 L1063.0,1039.6 L1064.0,1039.2 L1065.0,1039.0 L1066.0,1040.3 L1067.0,1040.2 L1068.0,1040.0 L1069.0,1040.7 L1070.0,1039.7 L1071.0,1039.1 L1072.0,1039.2 L1073.0,1038.6 L1074.0,1038.6 L1075.0,1038.1 L1076.0,1038.1 L1077.0,1037.8 L1078.0,1036.7 L1079.0,1035.8 L1080.0,1036.7 L1081.0,1036.3 L1082.0,1036.0 L1083.0,1034.2 L1084.0,1033.3 L1085.0,1033.8 L1086.0,1034.5 L1087.0,1033.8 L1088.0,1033.0 L1089.0,1031.8 L1090.0,1032.5 L1091.0,1033.5 L1092.0,1032.9 L1093.0,1032.1 L1094.0,1033.3 L1095.0,1034.3 L1096.0,1036.1 L1097.0,1036.4 L1098.0,1037.6 L1099.0,1036.9 L1100.0,1035.7 L1101.0,1034.9 L1102.0,1035.1 L1103.0,1035.0 L1104.0,1034.1 L1105.0,1035.3 L1106.0,1034.7 L1107.0,1033.7 L1108.0,1033.1 L1109.0,1035.5 L1110.0,1037.1 L1111.0,1036.8 L1112.0,1036.1 L1113.0,1035.4 L1114.0,1035.7 L1115.0,1035.8 L1116.0,1034.5 L1117.0,1034.2 L1118.0,1033.8 L1119.0,1032.5 L1120.0,1031.9 L1121.0,1031.3 L1122.0,1031.3 L1123.0,1032.3 L1124.0,1031.3 L1125.0,1031.5 L1126.0,1030.1 L1127.0,1027.6 L1128.0,1028.9 L1129.0,1030.6 L1130.0,1030.2 L1131.0,1028.8 L1132.0,1028.6 L1133.0,1027.8 L1134.0,1027.9 L1135.0,1029.2 L1136.0,1031.0 L1137.0,1032.4 L1138.0,1032.3 L1139.0,1031.6 L1140.0,1029.7 L1141.0,1029.4 L1142.0,1031.5 L1143.0,1033.3 L1144.0,1031.7 L1145.0,1031.6 L1146.0,1034.2 L1147.0,1035.7 L1148.0,1034.7 L1149.0,1035.0 L1150.0,1036.2 L1151.0,1038.7 L1152.0,1039.1 L1153.0,1038.1 L1154.0,1037.1 L1155.0,1036.4 L1156.0,1035.6 L1157.0,1034.1 L1158.0,1032.5 L1159.0,1031.7 L1160.0,1031.6 L1161.0,1031.1 L1162.0,1030.3 L1163.0,1028.4 L1164.0,1029.1 L1165.0,1029.6 L1166.0,1028.7 L1167.0,1025.7 L1168.0,1022.9 L1169.0,1022.8 L1170.0,1023.6 L1171.0,1022.2 L1172.0,1020.7 L1173.0,1020.3 L1174.0,1020.4 L1175.0,1019.9 L1176.0,1018.9 L1177.0,1020.2 L1178.0,1022.6 L1179.0,1023.2 L1180.0,1021.7 L1181.0,1021.4 L1182.0,1022.5 L1183.0,1021.4 L1184.0,1020.3 L1185.0,1021.4 L1186.0,1023.3 L1187.0,1023.9 L1188.0,1022.9 L1189.0,1023.4 L1190.0,1024.5 L1191.0,1026.4 L1192.0,1027.3 L1193.0,1027.6 L1194.0,1027.8 L1195.0,1028.8 L1196.0,1028.9 L1197.0,1029.0 L1198.0,1033.3 L1199.0,1035.5 L1200.0,1035.7 L1201.0,1035.5 L1202.0,1034.3 L1203.0,1031.2 L1204.0,1027.0 L1205.0,1024.4 L1206.0,1022.1 L1207.0,1018.9 L1208.0,1015.3 L1209.0,1013.1 L1210.0,1010.9 L1211.0,1010.5 L1212.0,1010.0 L1213.0,1007.6 L1214.0,1004.0 L1215.0,1001.4 L1216.0,999.8 L1217.0,998.5 L1218.0,996.1 L1219.0,993.2 L1220.0,990.4 L1221.0,989.8 L1222.0,989.5 L1223.0,989.3 L1224.0,988.9 L1225.0,986.0 L1226.0,984.7 L1227.0,985.0 L1228.0,983.7 L1229.0,983.3 L1230.0,983.1 L1231.0,982.2 L1232.0,981.7 L1233.0,983.0 L1234.0,982.9 L1235.0,980.6 L1236.0,980.5 L1237.0,981.4 L1238.0,980.6 L1239.0,979.9 L1240.0,981.3 L1241.0,983.0 L1242.0,983.3 L1243.0,985.0 L1245.5,1030.0 L1246.8,1068.0 L1247.5,852.0 L1249.4,852.0 L1250.4,985.0 L1251.8,985.3 L1252.8,985.5 L1253.8,987.0 L1254.8,988.5 L1255.8,989.5 L1256.8,989.1 L1257.8,988.2 L1258.8,990.1 L1259.8,991.5 L1260.8,991.5 L1261.8,991.0 L1262.8,992.2 L1263.8,992.3 L1264.8,992.2 L1265.8,993.8 L1266.8,993.5 L1267.8,994.4 L1268.8,997.0 L1269.8,999.1 L1270.8,1001.7 L1271.8,1004.0 L1272.8,1006.9 L1273.8,1009.7 L1274.8,1012.1 L1275.8,1015.3 L1276.8,1017.7 L1277.8,1019.4 L1278.8,1023.0 L1279.8,1025.8 L1280.8,1028.2 L1281.8,1032.1 L1282.8,1035.3 L1283.8,1035.8 L1284.8,1035.1 L1285.8,1035.8 L1286.8,1034.7 L1287.8,1032.6 L1288.8,1030.7 L1289.8,1029.0 L1290.8,1028.3 L1291.8,1025.6 L1292.8,1023.3 L1293.8,1022.8 L1294.8,1022.7 L1295.8,1022.2 L1296.8,1020.9 L1297.8,1019.5 L1298.8,1017.8 L1299.8,1015.5 L1300.8,1016.1 L1301.8,1018.4 L1302.8,1019.0 L1303.8,1020.5 L1304.8,1019.9 L1305.8,1017.4 L1306.8,1018.6 L1307.8,1020.3 L1308.8,1018.2 L1309.8,1017.5 L1310.8,1017.5 L1311.8,1017.6 L1312.8,1018.2 L1313.8,1019.4 L1314.8,1020.3 L1315.8,1020.3 L1316.8,1021.2 L1317.8,1021.9 L1318.8,1023.4 L1319.8,1024.1 L1320.8,1024.2 L1321.8,1025.5 L1322.8,1026.6 L1323.8,1028.6 L1324.8,1031.0 L1325.8,1031.4 L1326.8,1033.9 L1327.8,1035.6 L1328.8,1036.3 L1329.8,1038.3 L1330.8,1038.6 L1331.8,1037.5 L1332.8,1038.4 L1333.8,1038.2 L1334.8,1037.0 L1335.8,1037.1 L1336.8,1036.3 L1337.8,1033.3 L1338.8,1031.5 L1339.8,1032.1 L1340.8,1030.9 L1341.8,1029.4 L1342.8,1028.8 L1343.8,1027.8 L1344.8,1029.4 L1345.8,1029.9 L1346.8,1027.5 L1347.8,1028.1 L1348.8,1028.1 L1349.8,1027.7 L1350.8,1027.9 L1351.8,1028.8 L1352.8,1028.3 L1353.8,1026.8 L1354.8,1026.2 L1355.8,1027.5 L1356.8,1028.5 L1357.8,1027.5 L1358.8,1028.1 L1359.8,1027.8 L1360.8,1027.0 L1361.8,1029.2 L1362.8,1030.9 L1363.8,1033.2 L1364.8,1033.2 L1365.8,1031.4 L1366.8,1030.6 L1367.8,1030.1 L1368.8,1030.8 L1369.8,1032.9 L1370.8,1033.3 L1371.8,1033.4 L1372.8,1034.6 L1373.8,1036.5 L1374.8,1037.4 L1375.8,1037.0 L1376.8,1037.1 L1377.8,1038.6 L1378.8,1039.1 L1379.8,1036.2 L1380.8,1036.0 L1381.8,1037.8 L1382.8,1038.6 L1383.8,1039.4 L1384.8,1039.8 L1385.8,1038.8 L1386.8,1036.2 L1387.8,1035.5 L1388.8,1035.1 L1389.8,1035.2 L1390.8,1034.6 L1391.8,1033.8 L1392.8,1032.3 L1393.8,1031.9 L1394.8,1031.4 L1395.8,1031.1 L1396.8,1030.6 L1397.8,1030.8 L1398.8,1032.4 L1399.8,1032.7 L1400.8,1032.1 L1401.8,1029.6 L1402.8,1028.1 L1403.8,1029.3 L1404.8,1030.9 L1405.8,1032.5 L1406.8,1033.5 L1407.8,1034.2 L1408.8,1034.5 L1409.8,1033.8 L1410.8,1032.7 L1411.8,1032.5 L1412.8,1033.5 L1413.8,1033.2 L1414.8,1033.5 L1415.8,1035.1 L1416.8,1036.1 L1417.8,1036.3 L1418.8,1036.1 L1419.8,1037.2 L1420.8,1037.0 L1421.8,1035.9 L1422.8,1034.9 L1423.8,1034.3 L1424.8,1035.2 L1425.8,1036.9 L1426.8,1036.3 L1427.8,1036.9 L1428.8,1036.8 L1429.8,1036.2 L1430.8,1036.5 L1431.8,1037.5 L1432.8,1038.7 L1433.8,1038.6 L1434.8,1037.2 L1435.8,1035.4 L1436.8,1036.0 L1437.8,1038.4 L1438.8,1036.9 L1439.8,1036.4 L1440.8,1037.8 L1441.8,1037.4 L1442.8,1038.9 L1443.8,1039.9 L1444.8,1039.6 L1445.8,1039.0 L1446.8,1036.8 L1447.8,1036.5 L1448.8,1037.8 L1449.8,1038.5 L1450.8,1038.9 L1451.8,1038.8 L1452.8,1037.2 L1453.8,1036.4 L1454.8,1038.3 L1455.8,1039.5 L1456.8,1041.0 L1457.8,1042.0 L1458.8,1040.7 L1459.8,1039.7 L1460.8,1039.2 L1461.8,1040.2 L1462.8,1040.5 L1463.8,1040.5 L1464.8,1040.3 L1465.8,1039.2 L1466.8,1040.2 L1467.8,1041.4 L1468.8,1041.1 L1469.8,1038.9 L1470.8,1040.3 L1471.8,1042.3 L1472.8,1040.9 L1473.8,1040.9 L1474.8,1043.6 L1475.8,1044.5 L1476.8,1042.0 L1477.8,1040.1 L1478.8,1039.9 L1479.8,1040.0 L1480.8,1039.9 L1481.8,1040.3 L1482.8,1041.6 L1483.8,1042.3 L1484.8,1042.6 L1485.8,1041.9 L1486.8,1041.5 L1487.8,1042.8 L1488.8,1043.0 L1489.8,1042.2 L1490.8,1042.5 L1491.8,1043.3 L1492.8,1043.4 L1493.8,1043.6 L1494.8,1044.7 L1495.8,1044.8 L1496.8,1043.6 L1497.8,1042.8 L1498.8,1042.2 L1499.8,1043.1 L1500.8,1044.4 L1501.8,1044.8 L1502.8,1044.1 L1503.8,1043.2 L1504.8,1042.8 L1505.8,1042.9 L1506.8,1042.5 L1507.8,1043.1 L1508.8,1043.1 L1509.8,1042.7 L1510.8,1043.4 L1511.8,1043.7 L1512.8,1043.9 L1513.8,1043.6 L1514.8,1044.6 L1515.8,1045.6 L1516.8,1044.9 L1517.8,1044.2 L1518.8,1042.9 L1519.8,1041.8 L1520.8,1041.0 L1521.8,1041.7 L1522.8,1041.9 L1523.8,1041.8 L1524.8,1040.6 L1525.8,1041.4 L1526.8,1043.0 L1527.8,1042.8 L1528.8,1041.5 L1529.8,1043.3 L1530.8,1046.2 L1531.8,1045.3 L1532.8,1042.3 L1533.8,1039.6 L1534.8,1040.8 L1535.8,1043.1 L1536.8,1043.7 L1537.8,1044.0 L1538.8,1044.2 L1539.8,1043.7 L1540.8,1042.9 L1541.8,1042.5 L1542.8,1045.9" fill="none" stroke="#800000" stroke-width="6.2" stroke-linejoin="round" stroke-linecap="butt" />
<path d="M937.0,919.3 L938.0,918.3 L939.0,926.2 L940.0,923.3 L941.0,924.2 L942.0,918.4 L943.0,921.6 L944.0,923.1 L945.0,916.3 L946.0,919.5 L947.0,919.5 L948.0,919.3 L949.0,917.6 L950.0,915.7 L951.0,922.0 L952.0,921.7 L953.0,924.9 L954.0,920.3 L955.0,917.7 L956.0,914.9 L957.0,920.5 L958.0,919.7 L959.0,928.4 L960.0,929.7 L961.0,926.6 L962.0,917.1 L963.0,915.0 L964.0,919.2 L965.0,917.2 L966.0,925.7 L967.0,921.0 L968.0,918.9 L969.0,920.5 L970.0,925.0 L971.0,917.1 L972.0,921.8 L973.0,915.4 L974.0,919.2 L975.0,917.9 L976.0,921.4 L977.0,921.1 L978.0,925.0 L979.0,923.0 L980.0,917.9 L981.0,915.0 L982.0,916.9 L983.0,918.5 L984.0,919.2 L985.0,917.5 L986.0,924.3 L987.0,923.9 L988.0,919.2 L989.0,918.2 L990.0,919.2 L991.0,919.9 L992.0,919.8 L993.0,913.9 L994.0,917.9 L995.0,912.9 L996.0,920.0 L997.0,922.4 L998.0,916.2 L999.0,920.4 L1000.0,917.6 L1001.0,917.6 L1002.0,927.4 L1003.0,923.8 L1004.0,921.9 L1005.0,918.5 L1006.0,921.4 L1007.0,919.3 L1008.0,921.4 L1009.0,916.5 L1010.0,919.3 L1011.0,918.1 L1012.0,914.7 L1013.0,926.0 L1014.0,923.0 L1015.0,916.6 L1016.0,913.9 L1017.0,916.5 L1018.0,916.2 L1019.0,916.9 L1020.0,913.6 L1021.0,916.1 L1022.0,919.6 L1023.0,920.7 L1024.0,912.0 L1025.0,918.9 L1026.0,915.4 L1027.0,915.1 L1028.0,917.7 L1029.0,916.7 L1030.0,921.8 L1031.0,921.8 L1032.0,917.9 L1033.0,916.9 L1034.0,926.0 L1035.0,926.4 L1036.0,920.7 L1037.0,918.5 L1038.0,922.9 L1039.0,924.4 L1040.0,917.3 L1041.0,925.5 L1042.0,918.6 L1043.0,922.7 L1044.0,916.8 L1045.0,918.7 L1046.0,916.8 L1047.0,918.7 L1048.0,922.2 L1049.0,915.1 L1050.0,917.2 L1051.0,920.3 L1052.0,917.0 L1053.0,925.7 L1054.0,913.4 L1055.0,927.5 L1056.0,916.2 L1057.0,922.0 L1058.0,924.5 L1059.0,920.1 L1060.0,912.7 L1061.0,916.5 L1062.0,918.2 L1063.0,920.2 L1064.0,921.9 L1065.0,922.6 L1066.0,923.5 L1067.0,914.6 L1068.0,921.1 L1069.0,911.3 L1070.0,917.8 L1071.0,913.3 L1072.0,910.8 L1073.0,920.8 L1074.0,917.8 L1075.0,921.1 L1076.0,911.4 L1077.0,912.5 L1078.0,916.8 L1079.0,914.9 L1080.0,917.5 L1081.0,914.9 L1082.0,915.7 L1083.0,913.1 L1084.0,922.0 L1085.0,916.1 L1086.0,912.8 L1087.0,919.7 L1088.0,919.2 L1089.0,918.1 L1090.0,917.9 L1091.0,915.6 L1092.0,916.1 L1093.0,908.3 L1094.0,910.4 L1095.0,912.0 L1096.0,918.0 L1097.0,921.6 L1098.0,916.4 L1099.0,916.0 L1100.0,921.0 L1101.0,915.7 L1102.0,919.3 L1103.0,918.2 L1104.0,911.7 L1105.0,917.6 L1106.0,917.2 L1107.0,912.0 L1108.0,912.1 L1109.0,911.6 L1110.0,921.8 L1111.0,924.8 L1112.0,919.7 L1113.0,922.2 L1114.0,911.6 L1115.0,921.7 L1116.0,924.3 L1117.0,922.5 L1118.0,912.9 L1119.0,920.0 L1120.0,915.9 L1121.0,920.0 L1122.0,913.6 L1123.0,915.7 L1124.0,913.7 L1125.0,917.5 L1126.0,915.6 L1127.0,920.0 L1128.0,919.0 L1129.0,917.3 L1130.0,915.3 L1131.0,914.2 L1132.0,915.4 L1133.0,918.2 L1134.0,915.9 L1135.0,916.3 L1136.0,915.0 L1137.0,914.6 L1138.0,912.1 L1139.0,907.6 L1140.0,916.8 L1141.0,916.8 L1142.0,911.3 L1143.0,921.6 L1144.0,910.5 L1145.0,918.1 L1146.0,915.5 L1147.0,915.7 L1148.0,918.7 L1149.0,917.8 L1150.0,914.1 L1151.0,909.6 L1152.0,909.0 L1153.0,914.5 L1154.0,919.9 L1155.0,917.2 L1156.0,913.5 L1157.0,914.7 L1158.0,916.2 L1159.0,919.7 L1160.0,910.5 L1161.0,915.6 L1162.0,913.9 L1163.0,909.6 L1164.0,908.7 L1165.0,917.2 L1166.0,913.7 L1167.0,911.4 L1168.0,912.5 L1169.0,915.7 L1170.0,912.5 L1171.0,917.7 L1172.0,910.6 L1173.0,908.2 L1174.0,910.4 L1175.0,907.2 L1176.0,909.5 L1177.0,915.5 L1178.0,917.3 L1179.0,913.0 L1180.0,910.8 L1181.0,906.2 L1182.0,905.7 L1183.0,910.8 L1184.0,909.9 L1185.0,906.8 L1186.0,907.3 L1187.0,914.8 L1188.0,912.6 L1189.0,908.7 L1190.0,909.2 L1191.0,912.9 L1192.0,909.3 L1193.0,908.2 L1194.0,901.0 L1195.0,900.0 L1196.0,898.8 L1197.0,897.6 L1198.0,906.1 L1199.0,907.4 L1200.0,902.8 L1201.0,907.4 L1202.0,907.4 L1203.0,904.9 L1204.0,899.8 L1205.0,910.6 L1206.0,910.3 L1207.0,902.9 L1208.0,911.8 L1209.0,904.5 L1210.0,900.9 L1211.0,901.7 L1212.0,896.2 L1213.0,901.3 L1214.0,896.9 L1215.0,906.8 L1216.0,903.6 L1217.0,896.9 L1218.0,903.4 L1219.0,894.9 L1220.0,901.4 L1221.0,902.5 L1222.0,900.4 L1223.0,895.4 L1224.0,898.6 L1225.0,898.0 L1226.0,898.5 L1227.0,903.5 L1228.0,903.8 L1229.0,902.2 L1230.0,892.7 L1231.0,891.1 L1232.0,893.0 L1233.0,893.1 L1234.0,882.1 L1235.0,885.4 L1236.0,891.6 L1237.0,875.7 L1238.0,870.2 L1239.0,862.0 L1240.5,760.0 L1243.0,750.0 L1244.0,760.0 L1244.6,1060.0 L1245.0,865.0 L1248.5,858.0 L1251.5,862.0 L1254.0,884.0 L1254.2,885.9 L1255.2,888.2 L1256.2,890.6 L1257.2,889.5 L1258.2,899.7 L1259.2,899.2 L1260.2,897.7 L1261.2,901.1 L1262.2,904.3 L1263.2,896.5 L1264.2,896.4 L1265.2,898.9 L1266.2,899.7 L1267.2,892.5 L1268.2,902.0 L1269.2,908.9 L1270.2,904.4 L1271.2,909.0 L1272.2,895.5 L1273.2,905.8 L1274.2,912.2 L1275.2,913.1 L1276.2,905.7 L1277.2,904.7 L1278.2,909.2 L1279.2,903.9 L1280.2,906.9 L1281.2,902.8 L1282.2,909.3 L1283.2,909.9 L1284.2,915.9 L1285.2,911.5 L1286.2,907.9 L1287.2,909.9 L1288.2,906.0 L1289.2,910.9 L1290.2,910.5 L1291.2,913.1 L1292.2,914.9 L1293.2,904.6 L1294.2,913.0 L1295.2,914.8 L1296.2,908.3 L1297.2,919.2 L1298.2,910.6 L1299.2,921.8 L1300.2,916.2 L1301.2,916.6 L1302.2,914.3 L1303.2,916.7 L1304.2,909.3 L1305.2,909.8 L1306.2,906.0 L1307.2,915.0 L1308.2,911.1 L1309.2,916.4 L1310.2,915.8 L1311.2,909.0 L1312.2,916.3 L1313.2,915.1 L1314.2,914.9 L1315.2,915.9 L1316.2,914.2 L1317.2,914.5 L1318.2,918.1 L1319.2,910.7 L1320.2,909.7 L1321.2,911.7 L1322.2,918.3 L1323.2,914.0 L1324.2,921.3 L1325.2,903.5 L1326.2,911.7 L1327.2,913.2 L1328.2,916.2 L1329.2,920.1 L1330.2,914.5 L1331.2,911.5 L1332.2,918.4 L1333.2,920.8 L1334.2,906.2 L1335.2,917.2 L1336.2,916.5 L1337.2,912.4 L1338.2,913.7 L1339.2,916.6 L1340.2,915.8 L1341.2,914.6 L1342.2,911.4 L1343.2,916.5 L1344.2,913.4 L1345.2,916.0 L1346.2,913.8 L1347.2,916.7 L1348.2,918.8 L1349.2,917.1 L1350.2,918.3 L1351.2,911.1 L1352.2,917.7 L1353.2,917.2 L1354.2,913.9 L1355.2,915.1 L1356.2,905.8 L1357.2,916.1 L1358.2,914.5 L1359.2,907.9 L1360.2,917.8 L1361.2,914.2 L1362.2,917.3 L1363.2,915.7 L1364.2,918.3 L1365.2,916.9 L1366.2,915.6 L1367.2,918.5 L1368.2,919.4 L1369.2,908.4 L1370.2,916.3 L1371.2,914.3 L1372.2,912.7 L1373.2,921.6 L1374.2,920.4 L1375.2,912.9 L1376.2,912.6 L1377.2,919.6 L1378.2,914.6 L1379.2,915.3 L1380.2,909.5 L1381.2,916.3 L1382.2,921.1 L1383.2,915.4 L1384.2,916.8 L1385.2,923.6 L1386.2,920.8 L1387.2,922.6 L1388.2,919.9 L1389.2,921.4 L1390.2,911.0 L1391.2,913.5 L1392.2,911.2 L1393.2,925.2 L1394.2,918.2 L1395.2,916.7 L1396.2,914.2 L1397.2,912.9 L1398.2,907.0 L1399.2,925.2 L1400.2,917.4 L1401.2,917.3 L1402.2,912.1 L1403.2,917.0 L1404.2,918.8 L1405.2,917.3 L1406.2,919.6 L1407.2,914.5 L1408.2,918.7 L1409.2,921.0 L1410.2,919.8 L1411.2,919.0 L1412.2,917.1 L1413.2,914.0 L1414.2,919.4 L1415.2,916.1 L1416.2,914.2 L1417.2,920.1 L1418.2,911.7 L1419.2,915.5 L1420.2,920.7 L1421.2,921.3 L1422.2,916.5 L1423.2,918.1 L1424.2,919.8 L1425.2,917.5 L1426.2,915.1 L1427.2,919.4 L1428.2,918.6 L1429.2,918.5 L1430.2,922.2 L1431.2,919.2 L1432.2,916.4 L1433.2,918.9 L1434.2,925.2 L1435.2,915.7 L1436.2,916.9 L1437.2,915.2 L1438.2,919.2 L1439.2,913.7 L1440.2,919.8 L1441.2,921.1 L1442.2,915.4 L1443.2,914.8 L1444.2,912.7 L1445.2,918.1 L1446.2,914.2 L1447.2,915.9 L1448.2,916.7 L1449.2,916.0 L1450.2,921.8 L1451.2,924.3 L1452.2,910.8 L1453.2,915.3 L1454.2,919.3 L1455.2,914.8 L1456.2,916.6 L1457.2,919.7 L1458.2,924.2 L1459.2,923.4 L1460.2,918.0 L1461.2,919.3 L1462.2,917.6 L1463.2,918.1 L1464.2,914.3 L1465.2,912.2 L1466.2,917.6 L1467.2,922.8 L1468.2,921.8 L1469.2,912.3 L1470.2,918.1 L1471.2,916.9 L1472.2,920.1 L1473.2,915.4 L1474.2,922.5 L1475.2,918.9 L1476.2,921.7 L1477.2,922.5 L1478.2,912.4 L1479.2,918.6 L1480.2,925.1 L1481.2,920.1 L1482.2,923.6 L1483.2,921.3 L1484.2,917.9 L1485.2,920.8 L1486.2,923.9 L1487.2,925.0 L1488.2,925.2 L1489.2,916.1 L1490.2,922.6 L1491.2,914.9 L1492.2,919.2 L1493.2,919.3 L1494.2,922.4 L1495.2,921.5 L1496.2,924.7 L1497.2,918.2 L1498.2,923.2 L1499.2,921.8 L1500.2,920.1 L1501.2,915.9 L1502.2,922.2 L1503.2,921.7 L1504.2,923.3 L1505.2,920.3 L1506.2,919.5 L1507.2,921.9 L1508.2,922.4 L1509.2,923.4 L1510.2,927.6 L1511.2,918.9 L1512.2,927.5 L1513.2,910.1 L1514.2,923.6 L1515.2,918.1 L1516.2,927.9 L1517.2,918.0 L1518.2,924.4 L1519.2,917.1 L1520.2,916.6 L1521.2,923.8 L1522.2,924.1 L1523.2,918.9 L1524.2,929.7 L1525.2,920.5 L1526.2,926.6 L1527.2,917.4 L1528.2,917.4 L1529.2,921.1 L1530.2,917.5 L1531.2,922.3 L1532.2,913.3 L1533.2,921.4 L1534.2,919.0 L1535.2,917.7 L1536.2,921.9 L1537.2,920.5 L1538.2,919.8 L1539.2,924.4 L1540.2,922.7 L1541.2,923.1 L1542.2,926.7" fill="none" stroke="#ff8000" stroke-width="8.0" stroke-linejoin="round" stroke-linecap="butt" />
<path d="M1242.4,758.0 L1242.4,880.0" fill="none" stroke="#ff8000" stroke-width="6.4" stroke-linejoin="round" stroke-linecap="butt" />
<path d="M1247.7,852.0 L1247.7,1067.5" fill="none" stroke="#800000" stroke-width="6.0" stroke-linejoin="round" stroke-linecap="butt" />
</g>
<rect x="937.9" y="760.0" width="603.9" height="334.4" fill="none" stroke="#000" stroke-width="3.4"/>
<path d="M204.2,1201.1v5.2M204.2,1526.8v-5.2M264.9,1201.1v10.0M264.9,1526.8v-10.0M325.6,1201.1v5.2M325.6,1526.8v-5.2M386.4,1201.1v10.0M386.4,1526.8v-10.0M447.1,1201.1v5.2M447.1,1526.8v-5.2M507.9,1201.1v10.0M507.9,1526.8v-10.0M568.6,1201.1v5.2M568.6,1526.8v-5.2M629.4,1201.1v10.0M629.4,1526.8v-10.0M690.1,1201.1v5.2M690.1,1526.8v-5.2M143.4,1255.4h5.2M750.9,1255.4h-5.2M143.4,1309.7h10.0M750.9,1309.7h-10.0M143.4,1363.9h5.2M750.9,1363.9h-5.2M143.4,1418.2h10.0M750.9,1418.2h-10.0M143.4,1472.5h5.2M750.9,1472.5h-5.2" stroke="#000" stroke-width="3.0" fill="none"/>
<g clip-path="url(#cpg)">
<path d="M143.5,1291.1 L144.5,1291.4 L145.5,1291.4 L146.5,1291.4 L147.5,1290.8 L148.5,1289.4 L149.5,1288.1 L150.5,1288.0 L151.5,1289.0 L152.5,1290.2 L153.5,1290.6 L154.5,1291.0 L155.5,1291.7 L156.5,1292.4 L157.5,1292.3 L158.5,1291.7 L159.5,1291.4 L160.5,1291.0 L161.5,1290.3 L162.5,1289.7 L163.5,1289.6 L164.5,1289.7 L165.5,1289.4 L166.5,1288.6 L167.5,1288.3 L168.5,1288.9 L169.5,1289.5 L170.5,1289.9 L171.5,1289.9 L172.5,1289.8 L173.5,1290.1 L174.5,1290.9 L175.5,1291.3 L176.5,1291.3 L177.5,1291.7 L178.5,1292.3 L179.5,1292.1 L180.5,1290.8 L181.5,1289.8 L182.5,1290.0 L183.5,1290.5 L184.5,1289.9 L185.5,1289.5 L186.5,1290.2 L187.5,1290.5 L188.5,1289.7 L189.5,1288.9 L190.5,1288.9 L191.5,1290.0 L192.5,1291.3 L193.5,1291.4 L194.5,1290.9 L195.5,1290.7 L196.5,1290.4 L197.5,1289.7 L198.5,1289.1 L199.5,1289.9 L200.5,1291.1 L201.5,1291.5 L202.5,1291.4 L203.5,1291.5 L204.5,1292.0 L205.5,1292.2 L206.5,1292.1 L207.5,1291.7 L208.5,1290.6 L209.5,1289.4 L210.5,1288.8 L211.5,1288.7 L212.5,1288.8 L213.5,1289.3 L214.5,1290.0 L215.5,1290.1 L216.5,1288.8 L217.5,1287.9 L218.5,1288.5 L219.5,1289.9 L220.5,1291.4 L221.5,1292.1 L222.5,1292.2 L223.5,1292.4 L224.5,1291.9 L225.5,1290.3 L226.5,1289.3 L227.5,1289.6 L228.5,1289.9 L229.5,1289.5 L230.5,1288.7 L231.5,1288.3 L232.5,1288.6 L233.5,1288.8 L234.5,1289.1 L235.5,1290.0 L236.5,1291.5 L237.5,1292.5 L238.5,1292.4 L239.5,1291.3 L240.5,1290.4 L241.5,1290.2 L242.5,1290.0 L243.5,1289.6 L244.5,1288.8 L245.5,1288.4 L246.5,1288.9 L247.5,1289.1 L248.5,1288.9 L249.5,1289.7 L250.5,1291.1 L251.5,1291.9 L252.5,1292.0 L253.5,1292.5 L254.5,1293.0 L255.5,1292.4 L256.5,1291.1 L257.5,1290.6 L258.5,1290.9 L259.5,1290.7 L260.5,1290.2 L261.5,1290.1 L262.5,1290.2 L263.5,1290.1 L264.5,1289.7 L265.5,1289.5 L266.5,1290.3 L267.5,1292.1 L268.5,1293.2 L269.5,1292.9 L270.5,1291.8 L271.5,1291.3 L272.5,1291.2 L273.5,1290.4 L274.5,1289.4 L275.5,1289.1 L276.5,1289.2 L277.5,1289.7 L278.5,1290.7 L279.5,1291.9 L280.5,1292.1 L281.5,1291.9 L282.5,1291.6 L283.5,1290.7 L284.5,1289.8 L285.5,1289.6 L286.5,1290.0 L287.5,1290.6 L288.5,1291.0 L289.5,1291.0 L290.5,1291.2 L291.5,1291.7 L292.5,1291.9 L293.5,1291.4 L294.5,1290.1 L295.5,1288.5 L296.5,1287.8 L297.5,1288.7 L298.5,1290.2 L299.5,1290.6 L300.5,1289.9 L301.5,1289.5 L302.5,1289.9 L303.5,1290.2 L304.5,1289.9 L305.5,1289.4 L306.5,1289.7 L307.5,1290.4 L308.5,1290.5 L309.5,1290.5 L310.5,1290.4 L311.5,1290.0 L312.5,1290.2 L313.5,1290.5 L314.5,1290.2 L315.5,1289.4 L316.5,1288.5 L317.5,1288.9 L318.5,1290.5 L319.5,1291.6 L320.5,1292.2 L321.5,1292.3 L322.5,1292.1 L323.5,1292.1 L324.5,1292.6 L325.5,1293.0 L326.5,1292.8 L327.5,1292.0 L328.5,1290.9 L329.5,1290.4 L330.5,1290.7 L331.5,1291.6 L332.5,1292.6 L333.5,1293.3 L334.5,1293.1 L335.5,1292.9 L336.5,1292.9 L337.5,1292.4 L338.5,1291.6 L339.5,1290.8 L340.5,1289.9 L341.5,1289.4 L342.5,1289.5 L343.5,1289.5 L344.5,1289.5 L345.5,1289.6 L346.5,1289.4 L347.5,1288.7 L348.5,1288.8 L349.5,1290.4 L350.5,1292.4 L351.5,1293.0 L352.5,1292.6 L353.5,1292.0 L354.5,1291.2 L355.5,1290.4 L356.5,1289.9 L357.5,1289.7 L358.5,1289.6 L359.5,1290.3 L360.5,1291.5 L361.5,1291.8 L362.5,1291.1 L363.5,1290.2 L364.5,1289.2 L365.5,1287.8 L366.5,1287.3 L367.5,1288.7 L368.5,1290.8 L369.5,1292.1 L370.5,1292.9 L371.5,1293.1 L372.5,1291.9 L373.5,1290.3 L374.5,1290.1 L375.5,1291.0 L376.5,1291.5 L377.5,1291.3 L378.5,1291.2 L379.5,1291.1 L380.5,1290.2 L381.5,1289.1 L382.5,1288.3 L383.5,1288.0 L384.5,1288.4 L385.5,1290.0 L386.5,1291.7 L387.5,1292.1 L388.5,1291.9 L389.5,1292.5 L390.5,1293.3 L391.5,1293.1 L392.5,1292.0 L393.5,1290.6 L394.5,1289.5 L395.5,1289.2 L396.5,1289.5 L397.5,1290.5 L398.5,1291.4 L399.5,1291.4 L400.5,1290.2 L401.5,1288.3 L402.5,1287.4 L403.5,1288.4 L404.5,1289.6 L405.5,1288.7 L406.5,1286.8 L407.5,1286.6 L408.5,1287.9 L409.5,1289.0 L410.5,1289.6 L411.5,1289.9 L412.5,1289.6 L413.5,1289.2 L414.5,1289.8 L415.5,1290.8 L416.5,1290.9 L417.5,1290.6 L418.5,1290.7 L419.5,1290.7 L420.5,1290.8 L421.5,1291.3 L422.5,1291.7 L423.5,1291.6 L424.5,1291.1 L425.5,1290.7 L426.5,1290.6 L427.5,1290.2 L428.5,1289.8 L429.5,1290.2 L430.5,1290.8 L431.5,1290.5 L432.5,1289.8 L433.5,1289.7 L434.5,1290.7 L435.5,1292.7 L436.5,1294.2 L437.5,1294.1 L438.5,1293.0 L439.5,1291.8 L440.5,1290.6 L441.5,1289.9 L442.5,1290.2 L443.5,1290.8 L444.5,1290.5 L445.5,1289.8 L446.5,1289.7 L447.5,1290.1 L448.5,1290.4 L449.5,1290.8 L450.5,1291.4 L451.5,1291.3 L452.5,1290.6 L453.5,1290.1 L454.5,1290.3 L455.5,1291.2 L456.5,1292.2 L457.5,1292.1 L458.5,1291.6 L459.5,1291.4 L460.5,1291.7 L461.5,1291.7 L462.5,1291.4 L463.5,1291.0 L464.5,1290.8 L465.5,1290.5 L466.5,1290.3 L467.5,1290.4 L468.5,1290.9 L469.5,1291.1 L470.5,1290.7 L471.5,1290.4 L472.5,1290.5 L473.5,1290.9 L474.5,1291.1 L475.5,1290.2 L476.5,1288.7 L477.5,1288.5 L478.5,1289.6 L479.5,1290.9 L480.5,1291.0 L481.5,1290.0 L482.5,1289.5 L483.5,1290.0 L484.5,1290.9 L485.5,1291.9 L486.5,1292.7 L487.5,1293.0 L488.5,1292.9 L489.5,1292.3 L490.5,1291.2 L491.5,1290.3 L492.5,1290.6 L493.5,1291.7 L494.5,1292.5 L495.5,1292.1 L496.5,1291.2 L497.5,1290.9 L498.5,1291.6 L499.5,1292.2 L500.5,1291.9 L501.5,1291.0 L502.5,1290.6 L503.5,1290.9 L504.5,1291.1 L505.5,1291.2 L506.5,1291.5 L507.5,1291.4 L508.5,1291.2 L509.5,1290.9 L510.5,1290.3 L511.5,1289.9 L512.5,1290.1 L513.5,1290.6 L514.5,1290.8 L515.5,1291.1 L516.5,1291.8 L517.5,1292.0 L518.5,1292.0 L519.5,1292.3 L520.5,1292.4 L521.5,1292.0 L522.5,1291.2 L523.5,1290.0 L524.5,1288.6 L525.5,1288.4 L526.5,1289.8 L527.5,1291.0 L528.5,1290.9 L529.5,1290.2 L530.5,1290.2 L531.5,1290.3 L532.5,1289.9 L533.5,1289.7 L534.5,1290.5 L535.5,1291.4 L536.5,1292.2 L537.5,1292.8 L538.5,1292.8 L539.5,1291.6 L540.5,1289.9 L541.5,1289.0 L542.5,1289.8 L543.5,1291.3 L544.5,1292.6 L545.5,1293.1 L546.5,1293.0 L547.5,1292.4 L548.5,1291.3 L549.5,1290.2 L550.5,1289.7 L551.5,1290.1 L552.5,1290.9 L553.5,1291.3 L554.5,1291.6 L555.5,1292.2 L556.5,1292.1 L557.5,1290.9 L558.5,1290.3 L559.5,1291.3 L560.5,1292.9 L561.5,1293.7 L562.5,1292.9 L563.5,1291.2 L564.5,1290.1 L565.5,1290.0 L566.5,1290.3 L567.5,1290.4 L568.5,1290.7 L569.5,1291.1 L570.5,1291.1 L571.5,1290.8 L572.5,1290.3 L573.5,1289.8 L574.5,1289.9 L575.5,1290.4 L576.5,1290.8 L577.5,1291.4 L578.5,1292.3 L579.5,1293.1 L580.5,1291.9 L581.5,1289.6 L582.5,1288.8 L583.5,1290.0 L584.5,1290.7 L585.5,1289.9 L586.5,1288.5 L587.5,1288.0 L588.5,1289.6 L589.5,1292.2 L590.5,1293.0 L591.5,1292.3 L592.5,1291.2 L593.5,1290.5 L594.5,1290.5 L595.5,1290.5 L596.5,1289.7 L597.5,1289.0 L598.5,1289.4 L599.5,1290.7 L600.5,1292.1 L601.5,1292.6 L602.5,1292.1 L603.5,1291.3 L604.5,1290.9 L605.5,1291.0 L606.5,1290.3 L607.5,1289.2 L608.5,1288.9 L609.5,1289.3 L610.5,1289.7 L611.5,1289.4 L612.5,1289.7 L613.5,1291.1 L614.5,1292.0 L615.5,1292.0 L616.5,1292.6 L617.5,1293.3 L618.5,1293.2 L619.5,1292.1 L620.5,1290.8 L621.5,1290.4 L622.5,1291.0 L623.5,1291.2 L624.5,1290.3 L625.5,1290.0 L626.5,1290.9 L627.5,1291.5 L628.5,1291.3 L629.5,1291.5 L630.5,1292.0 L631.5,1291.8 L632.5,1290.5 L633.5,1289.5 L634.5,1289.3 L635.5,1289.5 L636.5,1289.4 L637.5,1289.1 L638.5,1289.0 L639.5,1288.9 L640.5,1289.2 L641.5,1289.9 L642.5,1291.3 L643.5,1292.9 L644.5,1293.8 L645.5,1293.8 L646.5,1293.1 L647.5,1292.4 L648.5,1291.9 L649.5,1291.4 L650.5,1290.7 L651.5,1289.8 L652.5,1289.0 L653.5,1289.0 L654.5,1289.7 L655.5,1290.1 L656.5,1289.6 L657.5,1288.8 L658.5,1288.5 L659.5,1288.4 L660.5,1288.2 L661.5,1288.4 L662.5,1289.1 L663.5,1289.3 L664.5,1288.6 L665.5,1288.6 L666.5,1289.7 L667.5,1290.4 L668.5,1289.8 L669.5,1288.6 L670.5,1288.3 L671.5,1289.1 L672.5,1289.8 L673.5,1290.0 L674.5,1289.9 L675.5,1289.6 L676.5,1289.4 L677.5,1290.0 L678.5,1290.7 L679.5,1290.2 L680.5,1289.5 L681.5,1289.6 L682.5,1290.1 L683.5,1290.1 L684.5,1289.7 L685.5,1290.4 L686.5,1291.8 L687.5,1292.7 L688.5,1292.8 L689.5,1292.2 L690.5,1291.8 L691.5,1292.6 L692.5,1294.4 L693.5,1296.0 L694.5,1296.7 L695.5,1296.6 L696.5,1295.6 L697.5,1294.0 L698.5,1292.3 L699.5,1291.0 L700.5,1290.5 L701.5,1290.6 L702.5,1291.2 L703.5,1291.5 L704.5,1290.6 L705.5,1289.9 L706.5,1289.6 L707.5,1289.3 L708.5,1288.8 L709.5,1288.6 L710.5,1288.0 L711.5,1286.7 L712.5,1286.6 L713.5,1287.6 L714.5,1287.4 L715.5,1286.1 L716.5,1285.9 L717.5,1287.3 L718.5,1288.6 L719.5,1287.9 L720.5,1286.7 L721.5,1286.7 L722.5,1287.9 L723.5,1289.4 L724.5,1290.6 L725.5,1291.5 L726.5,1292.5 L727.5,1293.3 L728.5,1293.2 L729.5,1292.7 L730.5,1292.8 L731.5,1294.1 L732.5,1295.8 L733.5,1297.2 L742.4,1410.5 L749.4,1510.9" fill="none" stroke="#000" stroke-width="4.5" stroke-linejoin="round" stroke-linecap="butt" />
<path d="M143.5,1411.6 L144.5,1408.2 L145.5,1406.5 L146.5,1406.5 L147.5,1406.2 L148.5,1405.9 L149.5,1405.5 L150.5,1405.7 L151.5,1406.7 L152.5,1406.9 L153.5,1406.1 L154.5,1404.1 L155.5,1402.0 L156.5,1401.7 L157.5,1402.6 L158.5,1403.5 L159.5,1404.0 L160.5,1403.6 L161.5,1402.6 L162.5,1402.0 L163.5,1401.8 L164.5,1403.5 L165.5,1406.1 L166.5,1406.0 L167.5,1405.0 L168.5,1405.6 L169.5,1406.0 L170.5,1405.3 L171.5,1404.2 L172.5,1402.3 L173.5,1400.8 L174.5,1400.4 L175.5,1400.2 L176.5,1399.4 L177.5,1399.5 L178.5,1400.2 L179.5,1400.4 L180.5,1401.3 L181.5,1401.7 L182.5,1400.7 L183.5,1400.0 L184.5,1398.7 L185.5,1398.0 L186.5,1398.9 L187.5,1399.2 L188.5,1397.7 L189.5,1396.6 L190.5,1396.3 L191.5,1396.4 L192.5,1396.5 L193.5,1396.2 L194.5,1396.3 L195.5,1396.6 L196.5,1396.8 L197.5,1396.6 L198.5,1395.6 L199.5,1396.0 L200.5,1398.1 L201.5,1398.2 L202.5,1396.8 L203.5,1395.8 L204.5,1394.9 L205.5,1394.1 L206.5,1394.4 L207.5,1394.6 L208.5,1393.6 L209.5,1392.1 L210.5,1392.2 L211.5,1392.0 L212.5,1390.9 L213.5,1390.1 L214.5,1389.4 L215.5,1388.9 L216.5,1389.4 L217.5,1389.7 L218.5,1388.4 L219.5,1387.0 L220.5,1386.3 L221.5,1387.5 L222.5,1389.1 L223.5,1389.3 L224.5,1388.5 L225.5,1388.0 L226.5,1388.2 L227.5,1388.5 L228.5,1389.2 L229.5,1389.1 L230.5,1389.1 L231.5,1389.6 L232.5,1389.3 L233.5,1389.2 L234.5,1388.8 L235.5,1388.8 L236.5,1389.1 L237.5,1388.7 L238.5,1387.9 L239.5,1387.4 L240.5,1387.4 L241.5,1387.0 L242.5,1385.6 L243.5,1383.7 L244.5,1383.0 L245.5,1384.7 L246.5,1386.9 L247.5,1388.3 L248.5,1389.0 L249.5,1389.5 L250.5,1389.1 L251.5,1387.1 L252.5,1385.9 L253.5,1386.0 L254.5,1385.8 L255.5,1386.4 L256.5,1387.8 L257.5,1387.9 L258.5,1386.6 L259.5,1385.0 L260.5,1385.3 L261.5,1385.6 L262.5,1384.6 L263.5,1384.5 L264.5,1384.0 L265.5,1383.4 L266.5,1384.5 L267.5,1384.6 L268.5,1384.9 L269.5,1384.8 L270.5,1383.5 L271.5,1383.2 L272.5,1383.3 L273.5,1383.2 L274.5,1383.4 L275.5,1383.8 L276.5,1383.3 L277.5,1383.5 L278.5,1383.9 L279.5,1383.3 L280.5,1382.8 L281.5,1383.3 L282.5,1384.2 L283.5,1383.9 L284.5,1382.6 L285.5,1381.9 L286.5,1382.7 L287.5,1383.7 L288.5,1384.1 L289.5,1383.9 L290.5,1383.7 L291.5,1384.7 L292.5,1383.6 L293.5,1381.4 L294.5,1381.6 L295.5,1383.9 L296.5,1384.9 L297.5,1384.5 L298.5,1384.5 L299.5,1384.7 L300.5,1385.5 L301.5,1386.6 L302.5,1386.6 L303.5,1385.2 L304.5,1384.9 L305.5,1386.1 L306.5,1386.0 L307.5,1386.3 L308.5,1387.6 L309.5,1386.8 L310.5,1384.4 L311.5,1383.9 L312.5,1385.1 L313.5,1386.4 L314.5,1389.5 L315.5,1393.4 L316.5,1394.2 L317.5,1392.3 L318.5,1391.4 L319.5,1391.0 L320.5,1389.7 L321.5,1389.3 L322.5,1390.7 L323.5,1391.5 L324.5,1392.1 L325.5,1392.2 L326.5,1392.5 L327.5,1393.6 L328.5,1393.6 L329.5,1393.0 L330.5,1393.3 L331.5,1394.4 L332.5,1394.8 L333.5,1394.3 L334.5,1394.0 L335.5,1393.3 L336.5,1392.9 L337.5,1394.1 L338.5,1396.0 L339.5,1397.1 L340.5,1397.0 L341.5,1395.9 L342.5,1395.8 L343.5,1396.8 L344.5,1397.3 L345.5,1396.5 L346.5,1395.4 L347.5,1396.2 L348.5,1398.7 L349.5,1399.8 L350.5,1399.7 L351.5,1400.2 L352.5,1400.4 L353.5,1400.8 L354.5,1400.9 L355.5,1399.4 L356.5,1397.8 L357.5,1398.0 L358.5,1400.0 L359.5,1401.9 L360.5,1402.8 L361.5,1402.9 L362.5,1402.8 L363.5,1402.5 L364.5,1401.9 L365.5,1402.4 L366.5,1403.2 L367.5,1404.0 L368.5,1405.2 L369.5,1405.6 L370.5,1405.8 L371.5,1405.5 L372.5,1405.5 L373.5,1406.6 L374.5,1406.3 L375.5,1404.7 L376.5,1403.3 L377.5,1402.7 L378.5,1403.2 L379.5,1404.0 L380.5,1404.5 L381.5,1404.8 L382.5,1405.0 L383.5,1404.1 L384.5,1402.9 L385.5,1402.9 L386.5,1403.0 L387.5,1403.5 L388.5,1405.0 L389.5,1405.7 L390.5,1404.2 L391.5,1403.9 L392.5,1406.9 L393.5,1409.6 L394.5,1408.6 L395.5,1407.6 L396.5,1408.1 L397.5,1409.6 L398.5,1410.4 L399.5,1410.0 L400.5,1409.4 L401.5,1408.5 L402.5,1408.0 L403.5,1408.1 L404.5,1408.8 L405.5,1409.4 L406.5,1409.6 L407.5,1409.7 L408.5,1410.5 L409.5,1410.9 L410.5,1410.3 L411.5,1409.7 L412.5,1409.9 L413.5,1411.3 L414.5,1412.6 L415.5,1413.3 L416.5,1414.1 L417.5,1414.8 L418.5,1414.4 L419.5,1414.7 L420.5,1415.5 L421.5,1415.6 L422.5,1415.5 L423.5,1416.1 L424.5,1416.6 L425.5,1415.6 L426.5,1415.0 L427.5,1416.3 L428.5,1417.7 L429.5,1417.5 L430.5,1416.3 L431.5,1415.9 L432.5,1415.5 L433.5,1415.2 L434.5,1415.3 L435.5,1415.3 L436.5,1415.4 L437.5,1415.6 L438.5,1415.4 L439.5,1416.5 L440.5,1417.8 L441.5,1417.0 L442.5,1414.2 L443.5,1411.5 L444.5,1410.5 L445.5,1412.2 L446.5,1413.0 L447.5,1410.6 L448.5,1409.7 L449.5,1411.3 L450.5,1411.1 L451.5,1409.7 L452.5,1410.0 L453.5,1410.4 L454.5,1410.1 L455.5,1410.5 L456.5,1410.8 L457.5,1411.6 L458.5,1411.1 L459.5,1409.3 L460.5,1408.4 L461.5,1409.2 L462.5,1410.1 L463.5,1410.2 L464.5,1410.0 L465.5,1410.6 L466.5,1410.9 L467.5,1410.2 L468.5,1410.3 L469.5,1411.1 L470.5,1411.8 L471.5,1412.8 L472.5,1412.8 L473.5,1411.1 L474.5,1408.7 L475.5,1407.0 L476.5,1408.3 L477.5,1409.9 L478.5,1410.1 L479.5,1410.0 L480.5,1409.6 L481.5,1410.1 L482.5,1409.3 L483.5,1408.2 L484.5,1408.2 L485.5,1408.1 L486.5,1407.3 L487.5,1407.1 L488.5,1408.6 L489.5,1410.5 L490.5,1411.3 L491.5,1410.9 L492.5,1409.3 L493.5,1408.4 L494.5,1408.6 L495.5,1409.5 L496.5,1410.9 L497.5,1411.8 L498.5,1411.2 L499.5,1410.5 L500.5,1409.7 L501.5,1407.8 L502.5,1407.1 L503.5,1408.3 L504.5,1409.0 L505.5,1409.2 L506.5,1409.1 L507.5,1408.3 L508.5,1408.2 L509.5,1408.9 L510.5,1409.6 L511.5,1409.6 L512.5,1408.5 L513.5,1406.7 L514.5,1405.6 L515.5,1406.2 L516.5,1406.5 L517.5,1408.1 L518.5,1409.6 L519.5,1407.8 L520.5,1406.6 L521.5,1407.5 L522.5,1407.2 L523.5,1406.7 L524.5,1407.2 L525.5,1408.1 L526.5,1408.3 L527.5,1407.9 L528.5,1407.5 L529.5,1406.7 L530.5,1406.5 L531.5,1406.4 L532.5,1406.2 L533.5,1405.7 L534.5,1406.1 L535.5,1406.3 L536.5,1404.7 L537.5,1404.1 L538.5,1405.0 L539.5,1405.0 L540.5,1404.8 L541.5,1405.9 L542.5,1406.4 L543.5,1404.8 L544.5,1403.7 L545.5,1403.5 L546.5,1403.1 L547.5,1403.4 L548.5,1403.6 L549.5,1403.3 L550.5,1403.1 L551.5,1402.3 L552.5,1402.7 L553.5,1404.7 L554.5,1405.1 L555.5,1403.0 L556.5,1403.2 L557.5,1404.4 L558.5,1403.4 L559.5,1402.5 L560.5,1401.1 L561.5,1399.7 L562.5,1399.6 L563.5,1399.4 L564.5,1398.9 L565.5,1398.5 L566.5,1398.1 L567.5,1397.5 L568.5,1398.9 L569.5,1400.9 L570.5,1400.6 L571.5,1399.3 L572.5,1398.9 L573.5,1400.3 L574.5,1401.7 L575.5,1400.5 L576.5,1398.5 L577.5,1397.5 L578.5,1397.7 L579.5,1398.1 L580.5,1397.2 L581.5,1396.4 L582.5,1396.5 L583.5,1397.0 L584.5,1397.2 L585.5,1396.8 L586.5,1396.5 L587.5,1397.1 L588.5,1398.0 L589.5,1397.6 L590.5,1396.8 L591.5,1396.4 L592.5,1395.3 L593.5,1394.5 L594.5,1395.8 L595.5,1397.7 L596.5,1397.8 L597.5,1396.4 L598.5,1393.8 L599.5,1392.2 L600.5,1393.0 L601.5,1393.8 L602.5,1392.7 L603.5,1392.4 L604.5,1393.1 L605.5,1392.6 L606.5,1392.0 L607.5,1391.8 L608.5,1391.3 L609.5,1390.6 L610.5,1390.0 L611.5,1389.3 L612.5,1389.4 L613.5,1389.0 L614.5,1387.7 L615.5,1386.8 L616.5,1387.0 L617.5,1388.2 L618.5,1389.1 L619.5,1389.3 L620.5,1389.2 L621.5,1388.4 L622.5,1386.8 L623.5,1385.4 L624.5,1385.0 L625.5,1385.4 L626.5,1386.2 L627.5,1385.3 L628.5,1383.3 L629.5,1382.3 L630.5,1382.8 L631.5,1382.0 L632.5,1379.4 L633.5,1378.2 L634.5,1378.3 L635.5,1379.2 L636.5,1381.0 L637.5,1380.8 L638.5,1378.7 L639.5,1377.7 L640.5,1377.1 L641.5,1375.5 L642.5,1373.0 L643.5,1373.2 L644.5,1374.2 L645.5,1373.8 L646.5,1373.4 L647.5,1372.9 L648.5,1372.7 L649.5,1371.5 L650.5,1369.4 L651.5,1368.1 L652.5,1368.4 L653.5,1368.7 L654.5,1367.8 L655.5,1367.7 L656.5,1367.7 L657.5,1365.0 L658.5,1363.3 L659.5,1362.6 L660.5,1361.3 L661.5,1360.3 L662.5,1359.0 L663.5,1357.9 L664.5,1357.4 L665.5,1356.4 L666.5,1356.1 L667.5,1356.1 L668.5,1355.1 L669.5,1355.1 L670.5,1355.3 L671.5,1354.1 L672.5,1351.7 L673.5,1348.8 L674.5,1346.8 L675.5,1346.5 L676.5,1345.8 L677.5,1343.9 L678.5,1342.5 L679.5,1341.8 L680.5,1340.4 L681.5,1339.0 L682.5,1337.1 L683.5,1336.2 L684.5,1337.1 L685.5,1336.4 L686.5,1333.7 L687.5,1331.0 L688.5,1330.0 L689.5,1329.5 L690.5,1328.7 L691.5,1327.5 L692.5,1325.1 L693.5,1323.0 L694.5,1320.5 L695.5,1318.7 L696.5,1318.8 L697.5,1319.0 L698.5,1317.7 L699.5,1315.6 L700.5,1313.7 L701.5,1312.0 L702.5,1311.1 L703.5,1310.5 L704.5,1309.8 L705.5,1307.8 L706.5,1305.8 L707.5,1306.3 L708.5,1307.0 L709.5,1305.6 L710.5,1303.6 L711.5,1301.8 L712.5,1300.4 L713.5,1298.9 L714.5,1297.1 L715.5,1295.5 L716.5,1294.1 L717.5,1293.1 L718.5,1292.4 L719.5,1292.5 L720.5,1291.6 L721.5,1289.6 L722.5,1289.1 L723.5,1289.2 L724.5,1289.0 L725.5,1287.8 L726.5,1287.1 L727.5,1287.3 L728.5,1287.1 L729.5,1286.2 L730.5,1286.7 L731.5,1287.2 L732.5,1287.4 L733.5,1289.0 L734.5,1291.8 L735.5,1294.4 L736.5,1297.1 L737.5,1300.1 L738.5,1305.7 L739.5,1320.5 L740.5,1342.6 L741.5,1365.8 L742.5,1389.6 L743.5,1412.9 L744.5,1430.0 L745.5,1445.2 L746.5,1461.9 L747.5,1477.3 L748.5,1491.5 L749.5,1504.7" fill="none" stroke="#00ff00" stroke-width="4.7" stroke-linejoin="round" stroke-linecap="butt" />
<path d="M143.5,1438.3 L144.5,1438.0 L145.5,1438.0 L146.5,1438.2 L147.5,1438.3 L148.5,1437.7 L149.5,1435.7 L150.5,1435.6 L151.5,1436.3 L152.5,1436.8 L153.5,1436.8 L154.5,1436.2 L155.5,1435.3 L156.5,1435.4 L157.5,1435.7 L158.5,1435.3 L159.5,1434.9 L160.5,1435.2 L161.5,1435.1 L162.5,1434.0 L163.5,1434.6 L164.5,1434.2 L165.5,1433.5 L166.5,1433.6 L167.5,1433.6 L168.5,1433.5 L169.5,1432.8 L170.5,1432.6 L171.5,1432.0 L172.5,1432.0 L173.5,1432.1 L174.5,1431.6 L175.5,1431.3 L176.5,1430.8 L177.5,1430.7 L178.5,1429.9 L179.5,1429.3 L180.5,1429.2 L181.5,1428.9 L182.5,1428.6 L183.5,1428.8 L184.5,1428.5 L185.5,1427.8 L186.5,1426.6 L187.5,1426.1 L188.5,1426.2 L189.5,1426.0 L190.5,1426.2 L191.5,1426.6 L192.5,1426.8 L193.5,1426.6 L194.5,1425.6 L195.5,1424.6 L196.5,1424.3 L197.5,1423.8 L198.5,1423.5 L199.5,1423.0 L200.5,1423.3 L201.5,1422.8 L202.5,1421.6 L203.5,1420.9 L204.5,1420.9 L205.5,1420.7 L206.5,1420.4 L207.5,1419.7 L208.5,1419.6 L209.5,1420.1 L210.5,1419.9 L211.5,1418.7 L212.5,1418.4 L213.5,1418.6 L214.5,1418.2 L215.5,1418.4 L216.5,1418.8 L217.5,1417.9 L218.5,1417.4 L219.5,1417.1 L220.5,1416.4 L221.5,1415.9 L222.5,1416.6 L223.5,1416.5 L224.5,1416.3 L225.5,1416.8 L226.5,1416.2 L227.5,1415.4 L228.5,1415.5 L229.5,1416.0 L230.5,1415.7 L231.5,1415.0 L232.5,1414.4 L233.5,1414.5 L234.5,1415.1 L235.5,1414.7 L236.5,1413.8 L237.5,1414.2 L238.5,1415.6 L239.5,1416.3 L240.5,1414.8 L241.5,1414.0 L242.5,1414.9 L243.5,1414.8 L244.5,1414.6 L245.5,1415.3 L246.5,1415.2 L247.5,1414.7 L248.5,1414.7 L249.5,1415.4 L250.5,1415.5 L251.5,1415.3 L252.5,1416.0 L253.5,1416.2 L254.5,1417.0 L255.5,1417.0 L256.5,1416.8 L257.5,1416.8 L258.5,1416.7 L259.5,1417.3 L260.5,1418.0 L261.5,1417.7 L262.5,1417.6 L263.5,1417.4 L264.5,1417.8 L265.5,1418.2 L266.5,1417.7 L267.5,1417.6 L268.5,1417.1 L269.5,1417.4 L270.5,1418.5 L271.5,1419.5 L272.5,1419.6 L273.5,1419.1 L274.5,1419.4 L275.5,1419.5 L276.5,1419.4 L277.5,1420.5 L278.5,1421.6 L279.5,1421.6 L280.5,1420.8 L281.5,1420.6 L282.5,1420.7 L283.5,1421.1 L284.5,1421.8 L285.5,1422.4 L286.5,1422.4 L287.5,1422.4 L288.5,1423.3 L289.5,1423.7 L290.5,1423.3 L291.5,1423.4 L292.5,1423.5 L293.5,1423.4 L294.5,1424.5 L295.5,1425.7 L296.5,1426.5 L297.5,1426.1 L298.5,1425.8 L299.5,1426.2 L300.5,1427.0 L301.5,1427.2 L302.5,1427.0 L303.5,1427.5 L304.5,1427.7 L305.5,1427.6 L306.5,1428.7 L307.5,1429.2 L308.5,1429.6 L309.5,1429.7 L310.5,1429.8 L311.5,1430.2 L312.5,1430.9 L313.5,1431.4 L314.5,1431.1 L315.5,1430.8 L316.5,1431.1 L317.5,1431.9 L318.5,1432.8 L319.5,1433.2 L320.5,1434.2 L321.5,1434.5 L322.5,1434.8 L323.5,1435.4 L324.5,1435.3 L325.5,1435.7 L326.5,1436.6 L327.5,1436.9 L328.5,1437.2 L329.5,1438.5 L330.5,1438.3 L331.5,1437.6 L332.5,1438.3 L333.5,1439.3 L334.5,1439.7 L335.5,1440.6 L336.5,1441.6 L337.5,1441.7 L338.5,1441.9 L339.5,1441.5 L340.5,1441.2 L341.5,1441.8 L342.5,1441.8 L343.5,1442.4 L344.5,1442.5 L345.5,1441.9 L346.5,1442.1 L347.5,1442.8 L348.5,1443.7 L349.5,1444.3 L350.5,1444.6 L351.5,1445.2 L352.5,1445.0 L353.5,1444.2 L354.5,1444.2 L355.5,1444.7 L356.5,1444.9 L357.5,1445.4 L358.5,1446.1 L359.5,1446.4 L360.5,1446.5 L361.5,1446.0 L362.5,1445.6 L363.5,1445.4 L364.5,1445.6 L365.5,1446.6 L366.5,1447.4 L367.5,1447.7 L368.5,1448.4 L369.5,1449.1 L370.5,1448.3 L371.5,1448.2 L372.5,1448.4 L373.5,1448.9 L374.5,1449.9 L375.5,1450.2 L376.5,1450.3 L377.5,1450.3 L378.5,1451.6 L379.5,1452.0 L380.5,1450.9 L381.5,1450.8 L382.5,1451.2 L383.5,1451.3 L384.5,1451.1 L385.5,1451.9 L386.5,1452.3 L387.5,1451.5 L388.5,1450.8 L389.5,1451.5 L390.5,1452.5 L391.5,1453.0 L392.5,1452.6 L393.5,1452.6 L394.5,1453.5 L395.5,1454.1 L396.5,1454.3 L397.5,1454.4 L398.5,1454.8 L399.5,1454.4 L400.5,1453.7 L401.5,1454.5 L402.5,1455.3 L403.5,1455.6 L404.5,1455.9 L405.5,1455.6 L406.5,1455.5 L407.5,1455.2 L408.5,1455.4 L409.5,1455.4 L410.5,1455.2 L411.5,1455.4 L412.5,1456.4 L413.5,1456.7 L414.5,1456.2 L415.5,1455.9 L416.5,1456.4 L417.5,1457.0 L418.5,1457.0 L419.5,1457.3 L420.5,1456.8 L421.5,1457.4 L422.5,1458.2 L423.5,1458.3 L424.5,1457.5 L425.5,1456.9 L426.5,1456.9 L427.5,1457.8 L428.5,1457.7 L429.5,1457.3 L430.5,1457.4 L431.5,1457.7 L432.5,1457.9 L433.5,1457.7 L434.5,1456.8 L435.5,1457.2 L436.5,1457.2 L437.5,1457.0 L438.5,1456.9 L439.5,1457.1 L440.5,1457.3 L441.5,1456.8 L442.5,1456.0 L443.5,1456.2 L444.5,1456.5 L445.5,1456.5 L446.5,1456.3 L447.5,1456.3 L448.5,1456.3 L449.5,1456.0 L450.5,1456.4 L451.5,1455.5 L452.5,1454.9 L453.5,1455.7 L454.5,1456.1 L455.5,1456.2 L456.5,1456.0 L457.5,1455.3 L458.5,1454.7 L459.5,1454.5 L460.5,1454.1 L461.5,1454.1 L462.5,1455.0 L463.5,1455.0 L464.5,1453.9 L465.5,1453.1 L466.5,1452.4 L467.5,1451.8 L468.5,1451.9 L469.5,1452.1 L470.5,1451.9 L471.5,1451.2 L472.5,1450.9 L473.5,1452.0 L474.5,1452.0 L475.5,1450.6 L476.5,1450.7 L477.5,1450.9 L478.5,1449.8 L479.5,1449.3 L480.5,1449.7 L481.5,1449.6 L482.5,1449.6 L483.5,1450.5 L484.5,1450.5 L485.5,1449.6 L486.5,1448.7 L487.5,1448.4 L488.5,1448.5 L489.5,1448.3 L490.5,1448.7 L491.5,1448.3 L492.5,1447.4 L493.5,1447.6 L494.5,1447.8 L495.5,1447.0 L496.5,1445.8 L497.5,1445.5 L498.5,1445.5 L499.5,1445.5 L500.5,1445.3 L501.5,1445.1 L502.5,1445.5 L503.5,1445.3 L504.5,1444.0 L505.5,1443.3 L506.5,1443.7 L507.5,1443.8 L508.5,1443.5 L509.5,1442.9 L510.5,1442.7 L511.5,1442.5 L512.5,1443.2 L513.5,1443.0 L514.5,1441.2 L515.5,1439.9 L516.5,1440.3 L517.5,1440.7 L518.5,1440.8 L519.5,1440.8 L520.5,1441.3 L521.5,1441.5 L522.5,1440.1 L523.5,1439.3 L524.5,1438.9 L525.5,1438.2 L526.5,1438.5 L527.5,1437.8 L528.5,1437.0 L529.5,1437.1 L530.5,1437.8 L531.5,1438.1 L532.5,1438.0 L533.5,1437.1 L534.5,1436.3 L535.5,1436.3 L536.5,1436.5 L537.5,1436.4 L538.5,1435.2 L539.5,1435.6 L540.5,1435.6 L541.5,1434.9 L542.5,1434.1 L543.5,1433.3 L544.5,1432.7 L545.5,1432.8 L546.5,1434.1 L547.5,1434.0 L548.5,1433.3 L549.5,1432.3 L550.5,1431.2 L551.5,1431.4 L552.5,1431.9 L553.5,1431.9 L554.5,1431.0 L555.5,1430.9 L556.5,1430.7 L557.5,1430.3 L558.5,1430.0 L559.5,1430.1 L560.5,1429.5 L561.5,1429.0 L562.5,1430.1 L563.5,1430.4 L564.5,1429.2 L565.5,1428.8 L566.5,1428.0 L567.5,1428.0 L568.5,1428.7 L569.5,1428.4 L570.5,1428.2 L571.5,1427.7 L572.5,1427.2 L573.5,1426.8 L574.5,1427.0 L575.5,1426.9 L576.5,1425.7 L577.5,1424.4 L578.5,1423.6 L579.5,1423.2 L580.5,1423.4 L581.5,1422.9 L582.5,1422.1 L583.5,1421.9 L584.5,1421.4 L585.5,1421.6 L586.5,1421.2 L587.5,1420.3 L588.5,1418.6 L589.5,1417.2 L590.5,1416.6 L591.5,1416.8 L592.5,1416.5 L593.5,1416.6 L594.5,1416.1 L595.5,1415.2 L596.5,1413.8 L597.5,1413.3 L598.5,1413.4 L599.5,1412.8 L600.5,1411.7 L601.5,1411.2 L602.5,1410.7 L603.5,1410.5 L604.5,1409.7 L605.5,1409.0 L606.5,1408.9 L607.5,1408.6 L608.5,1407.7 L609.5,1407.0 L610.5,1405.8 L611.5,1405.0 L612.5,1404.2 L613.5,1403.7 L614.5,1402.9 L615.5,1402.6 L616.5,1402.1 L617.5,1400.6 L618.5,1399.5 L619.5,1399.6 L620.5,1399.5 L621.5,1398.7 L622.5,1397.7 L623.5,1397.4 L624.5,1396.7 L625.5,1395.9 L626.5,1394.9 L627.5,1394.7 L628.5,1394.2 L629.5,1392.8 L630.5,1392.0 L631.5,1391.8 L632.5,1391.2 L633.5,1390.2 L634.5,1388.8 L635.5,1387.5 L636.5,1386.9 L637.5,1386.1 L638.5,1385.3 L639.5,1384.5 L640.5,1385.2 L641.5,1385.2 L642.5,1383.5 L643.5,1381.8 L644.5,1381.2 L645.5,1381.1 L646.5,1380.1 L647.5,1379.0 L648.5,1378.7 L649.5,1378.0 L650.5,1376.7 L651.5,1375.4 L652.5,1374.3 L653.5,1373.3 L654.5,1372.6 L655.5,1371.8 L656.5,1371.4 L657.5,1370.3 L658.5,1369.3 L659.5,1368.4 L660.5,1367.1 L661.5,1365.8 L662.5,1365.5 L663.5,1364.4 L664.5,1362.7 L665.5,1361.4 L666.5,1360.5 L667.5,1359.7 L668.5,1358.8 L669.5,1357.7 L670.5,1357.0 L671.5,1356.1 L672.5,1355.3 L673.5,1355.0 L674.5,1353.5 L675.5,1352.2 L676.5,1351.0 L677.5,1350.0 L678.5,1349.4 L679.5,1348.6 L680.5,1346.8 L681.5,1345.2 L682.5,1344.1 L683.5,1342.4 L684.5,1341.9 L685.5,1341.2 L686.5,1339.9 L687.5,1338.1 L688.5,1337.0 L689.5,1335.9 L690.5,1335.1 L691.5,1334.5 L692.5,1333.1 L693.5,1332.0 L694.5,1331.4 L695.5,1329.6 L696.5,1327.4 L697.5,1326.6 L698.5,1326.5 L699.5,1325.8 L700.5,1324.5 L701.5,1322.9 L702.5,1321.1 L703.5,1319.7 L704.5,1318.4 L705.5,1317.5 L706.5,1317.1 L707.5,1317.3 L708.5,1318.1 L709.5,1318.9 L710.5,1320.2 L711.5,1322.0 L712.5,1324.4 L713.5,1329.1 L714.5,1334.3 L715.5,1339.6 L716.5,1345.8 L717.5,1351.7 L718.5,1358.8 L719.5,1365.4 L720.5,1371.2 L721.5,1377.6 L722.5,1384.7 L723.5,1391.5 L724.5,1398.6 L725.5,1404.7 L726.5,1411.4 L727.5,1418.4 L728.5,1424.8 L729.5,1430.9 L730.5,1436.9 L731.5,1442.7 L732.5,1447.8 L733.5,1452.9 L734.5,1457.3 L735.5,1461.7 L736.5,1465.9 L737.5,1470.5 L738.5,1475.4 L739.5,1479.2 L740.5,1481.9 L741.5,1485.4 L742.5,1489.6 L743.5,1493.6 L744.5,1496.7 L745.5,1499.8 L746.5,1502.1 L747.5,1504.4 L748.5,1507.3" fill="none" stroke="#0000ff" stroke-width="4.8" stroke-linejoin="round" stroke-linecap="butt" />
<path d="M143.5,1466.0 L144.5,1468.1 L145.5,1469.4 L146.5,1469.1 L147.5,1468.4 L148.5,1468.9 L149.5,1468.3 L150.5,1467.6 L151.5,1469.3 L152.5,1469.2 L153.5,1466.9 L154.5,1465.5 L155.5,1464.8 L156.5,1465.3 L157.5,1466.1 L158.5,1466.0 L159.5,1464.9 L160.5,1464.3 L161.5,1464.4 L162.5,1465.2 L163.5,1465.9 L164.5,1466.0 L165.5,1466.3 L166.5,1466.0 L167.5,1465.2 L168.5,1463.9 L169.5,1461.9 L170.5,1460.4 L171.5,1459.6 L172.5,1460.0 L173.5,1460.7 L174.5,1460.8 L175.5,1459.8 L176.5,1459.0 L177.5,1459.2 L178.5,1459.6 L179.5,1459.3 L180.5,1457.8 L181.5,1456.7 L182.5,1457.6 L183.5,1459.1 L184.5,1459.0 L185.5,1458.7 L186.5,1459.6 L187.5,1461.1 L188.5,1461.9 L189.5,1462.4 L190.5,1462.3 L191.5,1463.0 L192.5,1464.0 L193.5,1463.6 L194.5,1462.2 L195.5,1461.9 L196.5,1461.8 L197.5,1461.9 L198.5,1463.4 L199.5,1464.4 L200.5,1463.5 L201.5,1462.5 L202.5,1463.1 L203.5,1464.1 L204.5,1464.1 L205.5,1463.5 L206.5,1464.1 L207.5,1464.3 L208.5,1462.3 L209.5,1460.6 L210.5,1459.4 L211.5,1458.9 L212.5,1460.1 L213.5,1461.0 L214.5,1460.2 L215.5,1460.2 L216.5,1461.3 L217.5,1461.2 L218.5,1460.2 L219.5,1459.5 L220.5,1459.6 L221.5,1460.3 L222.5,1461.1 L223.5,1461.4 L224.5,1460.9 L225.5,1460.3 L226.5,1461.1 L227.5,1461.8 L228.5,1462.2 L229.5,1463.0 L230.5,1464.0 L231.5,1464.6 L232.5,1464.8 L233.5,1464.9 L234.5,1466.3 L235.5,1468.0 L236.5,1468.2 L237.5,1467.3 L238.5,1466.8 L239.5,1466.8 L240.5,1467.3 L241.5,1468.3 L242.5,1469.5 L243.5,1470.2 L244.5,1470.4 L245.5,1469.2 L246.5,1467.0 L247.5,1465.9 L248.5,1464.7 L249.5,1463.3 L250.5,1463.3 L251.5,1464.9 L252.5,1466.3 L253.5,1465.5 L254.5,1464.0 L255.5,1463.1 L256.5,1462.5 L257.5,1462.2 L258.5,1461.2 L259.5,1460.4 L260.5,1462.4 L261.5,1465.0 L262.5,1464.1 L263.5,1462.2 L264.5,1461.1 L265.5,1460.4 L266.5,1460.8 L267.5,1460.7 L268.5,1459.6 L269.5,1459.6 L270.5,1460.6 L271.5,1461.5 L272.5,1462.4 L273.5,1464.0 L274.5,1465.4 L275.5,1466.0 L276.5,1466.4 L277.5,1466.0 L278.5,1464.7 L279.5,1464.2 L280.5,1464.1 L281.5,1464.1 L282.5,1463.6 L283.5,1463.9 L284.5,1464.1 L285.5,1462.3 L286.5,1460.7 L287.5,1461.1 L288.5,1461.6 L289.5,1461.5 L290.5,1462.1 L291.5,1462.6 L292.5,1461.9 L293.5,1461.5 L294.5,1461.9 L295.5,1462.7 L296.5,1462.8 L297.5,1463.0 L298.5,1464.6 L299.5,1465.4 L300.5,1463.9 L301.5,1463.6 L302.5,1465.0 L303.5,1466.4 L304.5,1467.3 L305.5,1466.2 L306.5,1465.7 L307.5,1467.5 L308.5,1469.9 L309.5,1470.9 L310.5,1471.0 L311.5,1471.0 L312.5,1470.5 L313.5,1469.5 L314.5,1470.7 L315.5,1471.8 L316.5,1471.5 L317.5,1472.5 L318.5,1474.3 L319.5,1474.9 L320.5,1475.1 L321.5,1476.0 L322.5,1476.1 L323.5,1475.2 L324.5,1473.8 L325.5,1473.6 L326.5,1475.0 L327.5,1475.7 L328.5,1474.1 L329.5,1474.4 L330.5,1476.6 L331.5,1476.5 L332.5,1475.3 L333.5,1476.7 L334.5,1479.0 L335.5,1479.7 L336.5,1478.9 L337.5,1480.0 L338.5,1482.3 L339.5,1482.6 L340.5,1481.7 L341.5,1481.4 L342.5,1482.4 L343.5,1484.3 L344.5,1485.5 L345.5,1486.4 L346.5,1486.1 L347.5,1485.0 L348.5,1485.2 L349.5,1486.3 L350.5,1487.3 L351.5,1488.1 L352.5,1487.7 L353.5,1486.7 L354.5,1485.5 L355.5,1484.2 L356.5,1484.1 L357.5,1484.7 L358.5,1484.2 L359.5,1483.1 L360.5,1482.6 L361.5,1482.6 L362.5,1483.2 L363.5,1483.7 L364.5,1482.7 L365.5,1482.5 L366.5,1483.2 L367.5,1483.2 L368.5,1482.1 L369.5,1481.1 L370.5,1481.2 L371.5,1481.1 L372.5,1480.6 L373.5,1480.7 L374.5,1481.8 L375.5,1483.5 L376.5,1484.2 L377.5,1483.5 L378.5,1482.6 L379.5,1480.6 L380.5,1478.9 L381.5,1479.7 L382.5,1481.1 L383.5,1480.7 L384.5,1479.6 L385.5,1479.0 L386.5,1477.1 L387.5,1475.4 L388.5,1475.9 L389.5,1477.0 L390.5,1476.6 L391.5,1474.5 L392.5,1472.3 L393.5,1472.3 L394.5,1473.1 L395.5,1473.2 L396.5,1472.9 L397.5,1472.2 L398.5,1470.2 L399.5,1468.2 L400.5,1468.5 L401.5,1470.4 L402.5,1470.6 L403.5,1469.6 L404.5,1469.4 L405.5,1468.5 L406.5,1466.9 L407.5,1465.7 L408.5,1466.0 L409.5,1466.8 L410.5,1467.0 L411.5,1467.2 L412.5,1468.1 L413.5,1468.0 L414.5,1466.4 L415.5,1465.2 L416.5,1464.4 L417.5,1464.5 L418.5,1464.4 L419.5,1464.6 L420.5,1465.1 L421.5,1465.3 L422.5,1465.2 L423.5,1464.1 L424.5,1463.7 L425.5,1464.1 L426.5,1464.2 L427.5,1463.8 L428.5,1463.0 L429.5,1462.7 L430.5,1463.2 L431.5,1463.7 L432.5,1464.0 L433.5,1463.4 L434.5,1461.4 L435.5,1459.7 L436.5,1458.8 L437.5,1458.0 L438.5,1458.3 L439.5,1460.4 L440.5,1461.7 L441.5,1461.5 L442.5,1459.9 L443.5,1459.1 L444.5,1458.8 L445.5,1458.8 L446.5,1458.9 L447.5,1458.5 L448.5,1457.8 L449.5,1456.8 L450.5,1455.7 L451.5,1456.6 L452.5,1459.1 L453.5,1461.7 L454.5,1462.8 L455.5,1463.0 L456.5,1463.1 L457.5,1463.6 L458.5,1464.1 L459.5,1463.1 L460.5,1462.6 L461.5,1464.2 L462.5,1465.4 L463.5,1465.1 L464.5,1465.2 L465.5,1466.0 L466.5,1466.3 L467.5,1466.1 L468.5,1465.8 L469.5,1465.2 L470.5,1464.2 L471.5,1462.5 L472.5,1462.2 L473.5,1461.9 L474.5,1460.6 L475.5,1460.0 L476.5,1460.4 L477.5,1459.6 L478.5,1458.4 L479.5,1458.2 L480.5,1458.7 L481.5,1458.6 L482.5,1457.8 L483.5,1457.9 L484.5,1459.0 L485.5,1460.2 L486.5,1460.8 L487.5,1460.3 L488.5,1460.6 L489.5,1460.9 L490.5,1460.1 L491.5,1459.7 L492.5,1459.4 L493.5,1459.3 L494.5,1458.9 L495.5,1457.0 L496.5,1455.3 L497.5,1455.0 L498.5,1456.4 L499.5,1457.6 L500.5,1457.5 L501.5,1457.1 L502.5,1456.8 L503.5,1456.9 L504.5,1456.4 L505.5,1456.3 L506.5,1457.0 L507.5,1456.6 L508.5,1456.1 L509.5,1455.8 L510.5,1455.4 L511.5,1454.3 L512.5,1453.3 L513.5,1453.9 L514.5,1454.5 L515.5,1454.4 L516.5,1454.6 L517.5,1454.6 L518.5,1453.5 L519.5,1452.8 L520.5,1452.1 L521.5,1450.9 L522.5,1451.0 L523.5,1452.4 L524.5,1452.8 L525.5,1451.4 L526.5,1450.0 L527.5,1450.4 L528.5,1451.7 L529.5,1452.8 L530.5,1453.2 L531.5,1453.0 L532.5,1453.0 L533.5,1451.7 L534.5,1449.8 L535.5,1449.9 L536.5,1450.4 L537.5,1450.5 L538.5,1449.8 L539.5,1448.6 L540.5,1448.7 L541.5,1449.7 L542.5,1450.5 L543.5,1451.0 L544.5,1452.0 L545.5,1453.2 L546.5,1453.7 L547.5,1453.9 L548.5,1453.5 L549.5,1453.9 L550.5,1454.0 L551.5,1452.9 L552.5,1453.3 L553.5,1455.6 L554.5,1457.7 L555.5,1458.4 L556.5,1458.0 L557.5,1456.8 L558.5,1455.3 L559.5,1455.6 L560.5,1456.3 L561.5,1455.3 L562.5,1453.6 L563.5,1452.5 L564.5,1452.3 L565.5,1452.7 L566.5,1454.4 L567.5,1455.5 L568.5,1454.8 L569.5,1453.5 L570.5,1452.7 L571.5,1452.0 L572.5,1451.2 L573.5,1451.9 L574.5,1452.4 L575.5,1450.6 L576.5,1449.0 L577.5,1449.2 L578.5,1450.0 L579.5,1449.0 L580.5,1447.3 L581.5,1447.5 L582.5,1449.2 L583.5,1449.9 L584.5,1449.3 L585.5,1448.7 L586.5,1449.1 L587.5,1449.0 L588.5,1446.9 L589.5,1443.8 L590.5,1442.2 L591.5,1442.9 L592.5,1443.9 L593.5,1443.6 L594.5,1443.8 L595.5,1444.5 L596.5,1444.4 L597.5,1445.0 L598.5,1446.9 L599.5,1448.1 L600.5,1448.8 L601.5,1449.3 L602.5,1449.1 L603.5,1447.8 L604.5,1446.0 L605.5,1445.1 L606.5,1445.8 L607.5,1447.4 L608.5,1449.1 L609.5,1450.3 L610.5,1450.9 L611.5,1451.0 L612.5,1450.5 L613.5,1449.5 L614.5,1448.3 L615.5,1447.5 L616.5,1447.0 L617.5,1446.8 L618.5,1447.0 L619.5,1445.8 L620.5,1443.4 L621.5,1442.5 L622.5,1444.0 L623.5,1445.7 L624.5,1446.9 L625.5,1447.3 L626.5,1446.0 L627.5,1445.4 L628.5,1446.8 L629.5,1448.3 L630.5,1447.9 L631.5,1445.9 L632.5,1445.1 L633.5,1446.0 L634.5,1447.3 L635.5,1447.2 L636.5,1446.3 L637.5,1445.7 L638.5,1444.8 L639.5,1444.2 L640.5,1443.8 L641.5,1443.5 L642.5,1443.6 L643.5,1444.3 L644.5,1445.1 L645.5,1445.6 L646.5,1444.6 L647.5,1441.9 L648.5,1439.3 L649.5,1439.0 L650.5,1439.9 L651.5,1440.1 L652.5,1439.8 L653.5,1440.2 L654.5,1440.6 L655.5,1440.3 L656.5,1440.1 L657.5,1439.7 L658.5,1438.9 L659.5,1438.6 L660.5,1438.9 L661.5,1438.6 L662.5,1436.8 L663.5,1435.6 L664.5,1436.4 L665.5,1437.3 L666.5,1437.4 L667.5,1437.9 L668.5,1437.9 L669.5,1437.5 L670.5,1437.5 L671.5,1438.2 L672.5,1438.3 L673.5,1437.4 L674.5,1436.5 L675.5,1436.7 L676.5,1436.7 L677.5,1437.6 L678.5,1438.9 L679.5,1439.5 L680.5,1440.0 L681.5,1440.1 L682.5,1439.8 L683.5,1440.2 L684.5,1441.6 L685.5,1442.0 L686.5,1440.7 L687.5,1440.1 L688.5,1440.5 L689.5,1441.0 L690.5,1442.1 L691.5,1443.4 L692.5,1444.3 L693.5,1444.4 L694.5,1443.0 L695.5,1441.3 L696.5,1441.6 L697.5,1443.6 L698.5,1444.5 L699.5,1443.2 L700.5,1442.7 L701.5,1443.7 L702.5,1444.1 L703.5,1444.4 L704.5,1444.0 L705.5,1442.6 L706.5,1442.1 L707.5,1442.9 L708.5,1444.0 L709.5,1444.3 L710.5,1443.8 L711.5,1443.2 L712.5,1442.8 L713.5,1443.8 L714.5,1444.7 L715.5,1444.1 L716.5,1443.3 L717.5,1443.8 L718.5,1445.1 L719.5,1446.6 L720.5,1446.7 L721.5,1446.6 L722.5,1447.4 L723.5,1448.4 L724.5,1449.0 L725.5,1449.2 L726.5,1449.7 L727.5,1451.3 L728.5,1453.5 L729.5,1456.7 L730.5,1460.2 L731.5,1463.3 L732.5,1464.7 L733.5,1465.5 L734.5,1467.3 L735.5,1470.2 L736.5,1472.2 L737.5,1472.6 L738.5,1473.3 L739.5,1474.1 L740.5,1474.1 L741.5,1474.5 L742.5,1475.2 L743.5,1476.1 L744.5,1478.3 L745.5,1482.4 L746.5,1487.4 L747.5,1494.1 L748.5,1502.3 L749.5,1509.3" fill="none" stroke="#ff8000" stroke-width="4.7" stroke-linejoin="round" stroke-linecap="butt" />
</g>
<rect x="143.4" y="1201.1" width="607.5" height="325.7" fill="none" stroke="#000" stroke-width="3.4"/>
<path d="M998.6,1202.9v5.2M998.6,1526.8v-5.2M1059.4,1202.9v10.0M1059.4,1526.8v-10.0M1120.1,1202.9v5.2M1120.1,1526.8v-5.2M1180.9,1202.9v10.0M1180.9,1526.8v-10.0M1241.6,1202.9v5.2M1241.6,1526.8v-5.2M1302.3,1202.9v10.0M1302.3,1526.8v-10.0M1363.1,1202.9v5.2M1363.1,1526.8v-5.2M1423.8,1202.9v10.0M1423.8,1526.8v-10.0M1484.6,1202.9v5.2M1484.6,1526.8v-5.2M937.9,1256.9h5.2M1545.3,1256.9h-5.2M937.9,1310.9h10.0M1545.3,1310.9h-10.0M937.9,1364.8h5.2M1545.3,1364.8h-5.2M937.9,1418.8h10.0M1545.3,1418.8h-10.0M937.9,1472.8h5.2M1545.3,1472.8h-5.2" stroke="#000" stroke-width="3.0" fill="none"/>
<g clip-path="url(#cph)">
<path d="M938.0,1353.9 L939.0,1352.9 L940.0,1352.5 L941.0,1351.6 L942.0,1349.8 L943.0,1349.6 L944.0,1350.1 L945.0,1350.7 L946.0,1350.4 L947.0,1349.5 L948.0,1350.1 L949.0,1351.5 L950.0,1351.2 L951.0,1350.7 L952.0,1351.2 L953.0,1352.6 L954.0,1353.5 L955.0,1353.3 L956.0,1352.4 L957.0,1351.1 L958.0,1350.5 L959.0,1350.8 L960.0,1349.9 L961.0,1348.8 L962.0,1348.8 L963.0,1349.7 L964.0,1351.5 L965.0,1353.3 L966.0,1353.8 L967.0,1352.8 L968.0,1352.0 L969.0,1351.9 L970.0,1352.3 L971.0,1354.4 L972.0,1356.5 L973.0,1356.2 L974.0,1356.2 L975.0,1357.5 L976.0,1358.2 L977.0,1357.6 L978.0,1356.1 L979.0,1355.8 L980.0,1356.3 L981.0,1355.2 L982.0,1353.8 L983.0,1352.1 L984.0,1350.1 L985.0,1349.5 L986.0,1349.7 L987.0,1349.5 L988.0,1347.8 L989.0,1346.6 L990.0,1346.6 L991.0,1346.0 L992.0,1346.5 L993.0,1347.4 L994.0,1348.3 L995.0,1349.5 L996.0,1349.9 L997.0,1349.0 L998.0,1349.2 L999.0,1350.7 L1000.0,1351.6 L1001.0,1351.7 L1002.0,1351.0 L1003.0,1350.0 L1004.0,1349.5 L1005.0,1350.5 L1006.0,1352.7 L1007.0,1354.4 L1008.0,1353.7 L1009.0,1351.2 L1010.0,1350.3 L1011.0,1350.5 L1012.0,1350.4 L1013.0,1351.6 L1014.0,1354.1 L1015.0,1354.3 L1016.0,1352.2 L1017.0,1350.7 L1018.0,1350.0 L1019.0,1349.5 L1020.0,1350.6 L1021.0,1352.8 L1022.0,1354.1 L1023.0,1353.7 L1024.0,1351.6 L1025.0,1347.9 L1026.0,1346.6 L1027.0,1349.1 L1028.0,1350.6 L1029.0,1350.8 L1030.0,1350.6 L1031.0,1348.6 L1032.0,1347.5 L1033.0,1348.9 L1034.0,1351.2 L1035.0,1351.0 L1036.0,1350.3 L1037.0,1351.7 L1038.0,1352.5 L1039.0,1352.4 L1040.0,1353.4 L1041.0,1355.5 L1042.0,1356.4 L1043.0,1356.0 L1044.0,1355.3 L1045.0,1355.7 L1046.0,1355.9 L1047.0,1355.1 L1048.0,1354.2 L1049.0,1353.5 L1050.0,1353.1 L1051.0,1353.5 L1052.0,1354.2 L1053.0,1353.3 L1054.0,1350.9 L1055.0,1349.4 L1056.0,1348.5 L1057.0,1347.7 L1058.0,1347.8 L1059.0,1347.8 L1060.0,1347.8 L1061.0,1348.0 L1062.0,1348.1 L1063.0,1347.3 L1064.0,1346.0 L1065.0,1344.5 L1066.0,1342.7 L1067.0,1342.4 L1068.0,1344.2 L1069.0,1346.1 L1070.0,1346.6 L1071.0,1344.7 L1072.0,1343.5 L1073.0,1343.9 L1074.0,1344.4 L1075.0,1345.8 L1076.0,1348.8 L1077.0,1350.4 L1078.0,1349.2 L1079.0,1348.1 L1080.0,1348.4 L1081.0,1348.4 L1082.0,1348.8 L1083.0,1350.7 L1084.0,1352.3 L1085.0,1352.5 L1086.0,1351.4 L1087.0,1350.7 L1088.0,1350.2 L1089.0,1350.5 L1090.0,1351.1 L1091.0,1348.9 L1092.0,1347.4 L1093.0,1347.5 L1094.0,1347.7 L1095.0,1348.4 L1096.0,1348.7 L1097.0,1348.7 L1098.0,1348.7 L1099.0,1348.4 L1100.0,1348.0 L1101.0,1348.0 L1102.0,1348.4 L1103.0,1348.4 L1104.0,1347.4 L1105.0,1346.6 L1106.0,1346.9 L1107.0,1347.4 L1108.0,1347.2 L1109.0,1346.7 L1110.0,1347.6 L1111.0,1349.3 L1112.0,1350.1 L1113.0,1351.5 L1114.0,1352.4 L1115.0,1352.1 L1116.0,1351.6 L1117.0,1351.4 L1118.0,1351.5 L1119.0,1352.1 L1120.0,1352.6 L1121.0,1351.7 L1122.0,1349.9 L1123.0,1350.0 L1124.0,1350.7 L1125.0,1349.0 L1126.0,1346.1 L1127.0,1344.8 L1128.0,1344.0 L1129.0,1341.8 L1130.0,1339.7 L1131.0,1339.7 L1132.0,1340.5 L1133.0,1342.1 L1134.0,1341.9 L1135.0,1340.8 L1136.0,1340.5 L1137.0,1339.9 L1138.0,1339.3 L1139.0,1339.5 L1140.0,1339.8 L1141.0,1340.2 L1142.0,1341.7 L1143.0,1343.3 L1144.0,1344.1 L1145.0,1344.5 L1146.0,1344.6 L1147.0,1344.4 L1148.0,1344.0 L1149.0,1343.5 L1150.0,1344.1 L1151.0,1345.6 L1152.0,1345.3 L1153.0,1342.9 L1154.0,1342.6 L1155.0,1345.4 L1156.0,1347.1 L1157.0,1347.0 L1158.0,1345.6 L1159.0,1343.5 L1160.0,1341.9 L1161.0,1342.4 L1162.0,1344.4 L1163.0,1344.7 L1164.0,1342.8 L1165.0,1340.8 L1166.0,1340.1 L1167.0,1339.8 L1168.0,1338.6 L1169.0,1338.0 L1170.0,1340.4 L1171.0,1342.3 L1172.0,1341.4 L1173.0,1340.6 L1174.0,1340.1 L1175.0,1339.4 L1176.0,1339.1 L1177.0,1338.5 L1178.0,1338.4 L1179.0,1338.7 L1180.0,1338.5 L1181.0,1337.7 L1182.0,1337.1 L1183.0,1337.0 L1184.0,1336.7 L1185.0,1336.6 L1186.0,1335.6 L1187.0,1334.6 L1188.0,1334.5 L1189.0,1334.8 L1190.0,1336.1 L1191.0,1338.6 L1192.0,1341.4 L1193.0,1343.3 L1194.0,1344.0 L1195.0,1343.8 L1196.0,1344.2 L1197.0,1346.3 L1198.0,1348.5 L1199.0,1349.8 L1200.0,1350.5 L1201.0,1351.5 L1202.0,1351.8 L1203.0,1351.2 L1204.0,1351.9 L1205.0,1352.4 L1206.0,1350.6 L1207.0,1349.2 L1208.0,1349.3 L1209.0,1349.8 L1210.0,1350.7 L1211.0,1351.0 L1212.0,1349.9 L1213.0,1348.5 L1214.0,1347.0 L1215.0,1346.4 L1216.0,1346.4 L1217.0,1346.5 L1218.0,1346.8 L1219.0,1345.8 L1220.0,1344.5 L1221.0,1343.6 L1222.0,1343.4 L1223.0,1343.3 L1224.0,1343.3 L1225.0,1344.0 L1226.0,1346.6 L1227.0,1348.3 L1228.0,1348.4 L1229.0,1349.9 L1230.0,1350.8 L1231.0,1350.9 L1232.0,1351.4 L1233.0,1352.3 L1234.0,1351.8 L1235.0,1352.3 L1236.0,1352.5 L1237.0,1350.0 L1238.0,1348.4 L1239.0,1349.3 L1240.0,1349.5 L1241.0,1348.8 L1242.0,1348.4 L1243.0,1349.4 L1244.0,1351.6 L1245.0,1351.3 L1246.0,1348.7 L1247.0,1347.8 L1248.0,1348.1 L1249.0,1348.3 L1250.0,1348.0 L1251.0,1347.9 L1252.0,1346.3 L1253.0,1344.4 L1254.0,1343.9 L1255.0,1344.9 L1256.0,1345.9 L1257.0,1344.5 L1258.0,1342.7 L1259.0,1342.8 L1260.0,1342.5 L1261.0,1340.2 L1262.0,1339.6 L1263.0,1341.6 L1264.0,1342.0 L1265.0,1341.0 L1266.0,1341.0 L1267.0,1340.4 L1268.0,1339.4 L1269.0,1341.0 L1270.0,1342.4 L1271.0,1343.2 L1272.0,1344.9 L1273.0,1346.2 L1274.0,1344.8 L1275.0,1342.7 L1276.0,1341.2 L1277.0,1342.6 L1278.0,1343.5 L1279.0,1342.0 L1280.0,1342.0 L1281.0,1345.1 L1282.0,1348.1 L1283.0,1348.5 L1284.0,1347.4 L1285.0,1346.9 L1286.0,1347.6 L1287.0,1349.3 L1288.0,1350.0 L1289.0,1350.2 L1290.0,1349.9 L1291.0,1350.3 L1292.0,1351.1 L1293.0,1351.0 L1294.0,1350.9 L1295.0,1349.8 L1296.0,1348.6 L1297.0,1349.2 L1298.0,1350.4 L1299.0,1349.6 L1300.0,1347.7 L1301.0,1347.3 L1302.0,1348.9 L1303.0,1349.3 L1304.0,1347.6 L1305.0,1344.2 L1306.0,1340.7 L1307.0,1340.9 L1308.0,1342.4 L1309.0,1342.3 L1310.0,1341.5 L1311.0,1340.9 L1312.0,1340.0 L1313.0,1339.1 L1314.0,1339.1 L1315.0,1339.7 L1316.0,1340.0 L1317.0,1341.0 L1318.0,1342.2 L1319.0,1341.6 L1320.0,1339.8 L1321.0,1338.6 L1322.0,1339.8 L1323.0,1341.8 L1324.0,1342.1 L1325.0,1341.2 L1326.0,1340.6 L1327.0,1340.6 L1328.0,1340.2 L1329.0,1338.5 L1330.0,1338.4 L1331.0,1341.3 L1332.0,1342.3 L1333.0,1341.3 L1334.0,1340.3 L1335.0,1339.4 L1336.0,1339.9 L1337.0,1340.2 L1338.0,1339.5 L1339.0,1338.6 L1340.0,1338.6 L1341.0,1339.5 L1342.0,1340.0 L1343.0,1339.5 L1344.0,1338.6 L1345.0,1338.7 L1346.0,1339.6 L1347.0,1339.0 L1348.0,1337.5 L1349.0,1336.2 L1350.0,1335.3 L1351.0,1334.9 L1352.0,1335.6 L1353.0,1337.2 L1354.0,1338.1 L1355.0,1337.7 L1356.0,1336.8 L1357.0,1337.0 L1358.0,1338.1 L1359.0,1338.6 L1360.0,1337.4 L1361.0,1338.2 L1362.0,1340.9 L1363.0,1341.4 L1364.0,1341.6 L1365.0,1344.3 L1366.0,1346.1 L1367.0,1344.6 L1368.0,1342.2 L1369.0,1342.1 L1370.0,1342.4 L1371.0,1342.4 L1372.0,1343.1 L1373.0,1344.6 L1374.0,1344.4 L1375.0,1344.4 L1376.0,1344.9 L1377.0,1344.5 L1378.0,1343.2 L1379.0,1341.8 L1380.0,1340.7 L1381.0,1338.9 L1382.0,1337.6 L1383.0,1338.3 L1384.0,1337.9 L1385.0,1336.7 L1386.0,1335.3 L1387.0,1333.7 L1388.0,1332.6 L1389.0,1333.3 L1390.0,1335.7 L1391.0,1336.9 L1392.0,1335.6 L1393.0,1334.7 L1394.0,1335.2 L1395.0,1333.7 L1396.0,1331.5 L1397.0,1331.9 L1398.0,1335.0 L1399.0,1337.1 L1400.0,1336.4 L1401.0,1335.6 L1402.0,1335.7 L1403.0,1336.1 L1404.0,1337.2 L1405.0,1338.5 L1406.0,1339.5 L1407.0,1340.4 L1408.0,1340.8 L1409.0,1341.9 L1410.0,1342.3 L1411.0,1341.8 L1412.0,1341.9 L1413.0,1343.1 L1414.0,1344.2 L1415.0,1344.0 L1416.0,1344.5 L1417.0,1344.5 L1418.0,1343.5 L1419.0,1342.0 L1420.0,1339.8 L1421.0,1339.8 L1422.0,1340.6 L1423.0,1340.6 L1424.0,1340.1 L1425.0,1338.9 L1426.0,1338.6 L1427.0,1338.5 L1428.0,1336.9 L1429.0,1335.4 L1430.0,1335.3 L1431.0,1334.8 L1432.0,1333.9 L1433.0,1333.3 L1434.0,1331.8 L1435.0,1330.7 L1436.0,1330.9 L1437.0,1331.1 L1438.0,1330.8 L1439.0,1331.2 L1440.0,1332.9 L1441.0,1333.1 L1442.0,1331.7 L1443.0,1329.8 L1444.0,1328.9 L1445.0,1330.3 L1446.0,1331.5 L1447.0,1332.1 L1448.0,1333.0 L1449.0,1334.3 L1450.0,1335.1 L1451.0,1336.6 L1452.0,1338.8 L1453.0,1338.4 L1454.0,1336.5 L1455.0,1336.6 L1456.0,1338.0 L1457.0,1339.0 L1458.0,1338.8 L1459.0,1336.8 L1460.0,1334.9 L1461.0,1335.4 L1462.0,1337.1 L1463.0,1338.5 L1464.0,1339.1 L1465.0,1338.6 L1466.0,1337.0 L1467.0,1335.6 L1468.0,1334.9 L1469.0,1333.5 L1470.0,1332.1 L1471.0,1332.2 L1472.0,1333.6 L1473.0,1334.1 L1474.0,1332.1 L1475.0,1329.5 L1476.0,1328.6 L1477.0,1327.7 L1478.0,1327.4 L1479.0,1327.1 L1480.0,1325.5 L1481.0,1325.0 L1482.0,1327.3 L1483.0,1330.5 L1484.0,1331.0 L1485.0,1330.1 L1486.0,1330.8 L1487.0,1332.0 L1488.0,1332.5 L1489.0,1332.9 L1490.0,1333.6 L1491.0,1333.2 L1492.0,1332.0 L1493.0,1330.8 L1494.0,1331.4 L1495.0,1332.3 L1496.0,1331.1 L1497.0,1329.0 L1498.0,1329.9 L1499.0,1331.0 L1500.0,1331.2 L1501.0,1332.4 L1502.0,1333.0 L1503.0,1331.9 L1504.0,1330.8 L1505.0,1330.1 L1506.0,1329.3 L1507.0,1328.6 L1508.0,1326.7 L1509.0,1324.4 L1510.0,1324.0 L1511.0,1325.3 L1512.0,1325.0 L1513.0,1323.8 L1514.0,1324.0 L1515.0,1323.6 L1516.0,1321.4 L1517.0,1321.3 L1518.0,1323.0 L1519.0,1322.7 L1520.0,1320.6 L1521.0,1320.0 L1522.0,1321.3 L1523.0,1321.5 L1524.0,1318.5 L1525.0,1315.9 L1526.0,1316.0 L1527.0,1315.2 L1528.0,1313.0 L1529.0,1312.2 L1530.0,1313.0 L1531.0,1313.0 L1532.0,1312.6 L1533.0,1312.7 L1534.0,1314.0 L1535.0,1316.1 L1536.0,1317.3 L1537.0,1317.2 L1538.0,1318.7 L1539.0,1322.2 L1540.0,1326.1 L1541.0,1328.3 L1542.0,1330.9 L1543.0,1336.4" fill="none" stroke="#ff8000" stroke-width="4.9" stroke-linejoin="round" stroke-linecap="butt" />
<path d="M938.0,1411.5 L939.0,1411.3 L940.0,1411.0 L941.0,1410.7 L942.0,1410.9 L943.0,1411.4 L944.0,1411.4 L945.0,1411.1 L946.0,1411.1 L947.0,1410.8 L948.0,1410.1 L949.0,1409.8 L950.0,1409.8 L951.0,1409.7 L952.0,1409.4 L953.0,1409.0 L954.0,1408.9 L955.0,1409.1 L956.0,1409.2 L957.0,1408.9 L958.0,1408.4 L959.0,1408.1 L960.0,1408.2 L961.0,1408.6 L962.0,1408.6 L963.0,1408.4 L964.0,1408.4 L965.0,1408.4 L966.0,1407.9 L967.0,1407.2 L968.0,1406.7 L969.0,1406.7 L970.0,1406.8 L971.0,1406.9 L972.0,1407.2 L973.0,1407.6 L974.0,1407.5 L975.0,1406.9 L976.0,1406.5 L977.0,1406.7 L978.0,1406.7 L979.0,1406.4 L980.0,1406.4 L981.0,1406.4 L982.0,1406.3 L983.0,1406.4 L984.0,1406.6 L985.0,1406.8 L986.0,1406.7 L987.0,1406.5 L988.0,1406.6 L989.0,1406.4 L990.0,1405.8 L991.0,1405.4 L992.0,1405.5 L993.0,1405.8 L994.0,1405.7 L995.0,1405.4 L996.0,1405.3 L997.0,1405.6 L998.0,1405.8 L999.0,1405.6 L1000.0,1405.4 L1001.0,1405.1 L1002.0,1404.8 L1003.0,1404.6 L1004.0,1404.5 L1005.0,1404.6 L1006.0,1404.6 L1007.0,1404.5 L1008.0,1404.1 L1009.0,1403.6 L1010.0,1403.4 L1011.0,1403.6 L1012.0,1403.9 L1013.0,1404.3 L1014.0,1404.3 L1015.0,1404.1 L1016.0,1404.2 L1017.0,1404.2 L1018.0,1404.0 L1019.0,1404.1 L1020.0,1404.6 L1021.0,1404.9 L1022.0,1404.9 L1023.0,1404.6 L1024.0,1403.8 L1025.0,1403.0 L1026.0,1402.8 L1027.0,1403.0 L1028.0,1403.1 L1029.0,1402.8 L1030.0,1402.6 L1031.0,1402.8 L1032.0,1403.3 L1033.0,1403.5 L1034.0,1403.3 L1035.0,1402.8 L1036.0,1402.3 L1037.0,1401.9 L1038.0,1401.8 L1039.0,1401.8 L1040.0,1401.6 L1041.0,1401.4 L1042.0,1401.5 L1043.0,1401.5 L1044.0,1401.4 L1045.0,1401.6 L1046.0,1402.0 L1047.0,1402.2 L1048.0,1402.2 L1049.0,1402.1 L1050.0,1401.8 L1051.0,1401.9 L1052.0,1402.4 L1053.0,1402.6 L1054.0,1402.4 L1055.0,1402.1 L1056.0,1401.8 L1057.0,1401.3 L1058.0,1401.0 L1059.0,1401.1 L1060.0,1401.3 L1061.0,1401.6 L1062.0,1401.9 L1063.0,1402.1 L1064.0,1402.2 L1065.0,1402.3 L1066.0,1402.4 L1067.0,1402.8 L1068.0,1403.1 L1069.0,1402.8 L1070.0,1402.2 L1071.0,1402.0 L1072.0,1402.0 L1073.0,1402.2 L1074.0,1402.2 L1075.0,1402.0 L1076.0,1402.0 L1077.0,1402.2 L1078.0,1402.1 L1079.0,1401.8 L1080.0,1401.9 L1081.0,1402.3 L1082.0,1402.6 L1083.0,1402.4 L1084.0,1402.1 L1085.0,1402.2 L1086.0,1402.5 L1087.0,1402.8 L1088.0,1402.6 L1089.0,1402.2 L1090.0,1401.9 L1091.0,1402.0 L1092.0,1402.1 L1093.0,1402.1 L1094.0,1402.1 L1095.0,1402.2 L1096.0,1402.5 L1097.0,1403.2 L1098.0,1404.0 L1099.0,1404.1 L1100.0,1403.4 L1101.0,1402.8 L1102.0,1403.0 L1103.0,1403.6 L1104.0,1403.9 L1105.0,1403.7 L1106.0,1403.3 L1107.0,1403.4 L1108.0,1403.9 L1109.0,1404.2 L1110.0,1404.3 L1111.0,1404.8 L1112.0,1405.5 L1113.0,1406.2 L1114.0,1406.8 L1115.0,1407.3 L1116.0,1407.3 L1117.0,1407.2 L1118.0,1407.2 L1119.0,1407.2 L1120.0,1407.0 L1121.0,1406.9 L1122.0,1407.2 L1123.0,1407.7 L1124.0,1408.1 L1125.0,1408.4 L1126.0,1408.5 L1127.0,1408.4 L1128.0,1408.1 L1129.0,1407.7 L1130.0,1407.3 L1131.0,1407.6 L1132.0,1408.5 L1133.0,1409.4 L1134.0,1409.5 L1135.0,1409.1 L1136.0,1408.8 L1137.0,1409.2 L1138.0,1409.7 L1139.0,1409.9 L1140.0,1409.4 L1141.0,1408.4 L1142.0,1407.8 L1143.0,1407.7 L1144.0,1407.9 L1145.0,1408.3 L1146.0,1408.6 L1147.0,1408.7 L1148.0,1408.8 L1149.0,1408.9 L1150.0,1408.7 L1151.0,1408.4 L1152.0,1408.4 L1153.0,1408.5 L1154.0,1408.4 L1155.0,1408.2 L1156.0,1408.2 L1157.0,1408.3 L1158.0,1408.4 L1159.0,1408.6 L1160.0,1408.7 L1161.0,1408.5 L1162.0,1408.0 L1163.0,1407.9 L1164.0,1407.9 L1165.0,1407.4 L1166.0,1406.7 L1167.0,1406.5 L1168.0,1406.8 L1169.0,1406.7 L1170.0,1406.4 L1171.0,1406.5 L1172.0,1407.1 L1173.0,1407.7 L1174.0,1407.7 L1175.0,1407.3 L1176.0,1407.1 L1177.0,1407.3 L1178.0,1407.7 L1179.0,1408.0 L1180.0,1408.0 L1181.0,1408.0 L1182.0,1407.9 L1183.0,1407.7 L1184.0,1407.7 L1185.0,1407.9 L1186.0,1407.9 L1187.0,1407.5 L1188.0,1406.8 L1189.0,1406.5 L1190.0,1406.7 L1191.0,1407.1 L1192.0,1407.7 L1193.0,1408.2 L1194.0,1408.3 L1195.0,1408.0 L1196.0,1407.7 L1197.0,1407.6 L1198.0,1407.5 L1199.0,1407.5 L1200.0,1407.9 L1201.0,1408.6 L1202.0,1409.5 L1203.0,1410.0 L1204.0,1409.9 L1205.0,1409.4 L1206.0,1409.0 L1207.0,1408.7 L1208.0,1408.6 L1209.0,1408.9 L1210.0,1409.4 L1211.0,1409.6 L1212.0,1409.4 L1213.0,1409.5 L1214.0,1409.6 L1215.0,1409.4 L1216.0,1409.3 L1217.0,1409.5 L1218.0,1410.0 L1219.0,1410.3 L1220.0,1410.1 L1221.0,1409.7 L1222.0,1410.0 L1223.0,1410.7 L1224.0,1410.8 L1225.0,1410.0 L1226.0,1409.1 L1227.0,1408.6 L1228.0,1408.4 L1229.0,1408.5 L1230.0,1408.6 L1231.0,1408.8 L1232.0,1409.0 L1233.0,1409.0 L1234.0,1408.8 L1235.0,1408.5 L1236.0,1408.0 L1237.0,1407.7 L1238.0,1408.1 L1239.0,1408.4 L1240.0,1408.2 L1241.0,1407.6 L1242.0,1407.0 L1243.0,1406.6 L1244.0,1405.9 L1245.0,1405.1 L1246.0,1405.0 L1247.0,1405.5 L1248.0,1406.4 L1249.0,1407.2 L1250.0,1407.5 L1251.0,1407.1 L1252.0,1406.6 L1253.0,1406.3 L1254.0,1405.9 L1255.0,1405.2 L1256.0,1404.8 L1257.0,1404.7 L1258.0,1404.4 L1259.0,1404.1 L1260.0,1404.0 L1261.0,1404.2 L1262.0,1404.5 L1263.0,1404.4 L1264.0,1404.1 L1265.0,1404.2 L1266.0,1404.5 L1267.0,1404.9 L1268.0,1405.4 L1269.0,1405.6 L1270.0,1404.9 L1271.0,1403.9 L1272.0,1403.3 L1273.0,1403.4 L1274.0,1404.0 L1275.0,1404.7 L1276.0,1405.0 L1277.0,1405.0 L1278.0,1404.9 L1279.0,1404.7 L1280.0,1404.3 L1281.0,1404.0 L1282.0,1404.0 L1283.0,1404.1 L1284.0,1404.5 L1285.0,1404.9 L1286.0,1404.9 L1287.0,1404.7 L1288.0,1404.6 L1289.0,1404.7 L1290.0,1405.0 L1291.0,1405.3 L1292.0,1405.2 L1293.0,1404.7 L1294.0,1404.0 L1295.0,1403.7 L1296.0,1403.7 L1297.0,1403.9 L1298.0,1404.1 L1299.0,1404.2 L1300.0,1404.3 L1301.0,1404.1 L1302.0,1403.9 L1303.0,1404.1 L1304.0,1404.4 L1305.0,1404.5 L1306.0,1404.7 L1307.0,1404.8 L1308.0,1404.6 L1309.0,1404.1 L1310.0,1403.7 L1311.0,1403.5 L1312.0,1403.3 L1313.0,1402.9 L1314.0,1402.2 L1315.0,1401.6 L1316.0,1401.3 L1317.0,1401.2 L1318.0,1400.9 L1319.0,1400.8 L1320.0,1400.9 L1321.0,1400.8 L1322.0,1400.5 L1323.0,1400.2 L1324.0,1399.8 L1325.0,1399.3 L1326.0,1398.9 L1327.0,1398.6 L1328.0,1398.5 L1329.0,1398.3 L1330.0,1398.0 L1331.0,1397.6 L1332.0,1397.6 L1333.0,1398.1 L1334.0,1398.1 L1335.0,1397.7 L1336.0,1397.2 L1337.0,1396.5 L1338.0,1395.7 L1339.0,1395.2 L1340.0,1395.0 L1341.0,1394.8 L1342.0,1394.6 L1343.0,1394.3 L1344.0,1394.1 L1345.0,1393.9 L1346.0,1393.5 L1347.0,1393.5 L1348.0,1393.9 L1349.0,1394.2 L1350.0,1394.0 L1351.0,1393.3 L1352.0,1392.8 L1353.0,1392.6 L1354.0,1392.2 L1355.0,1391.6 L1356.0,1391.1 L1357.0,1390.6 L1358.0,1390.1 L1359.0,1389.9 L1360.0,1389.8 L1361.0,1389.9 L1362.0,1390.0 L1363.0,1390.5 L1364.0,1390.6 L1365.0,1390.0 L1366.0,1389.4 L1367.0,1389.3 L1368.0,1388.8 L1369.0,1388.2 L1370.0,1387.5 L1371.0,1386.6 L1372.0,1386.0 L1373.0,1386.0 L1374.0,1386.1 L1375.0,1386.4 L1376.0,1387.0 L1377.0,1387.2 L1378.0,1386.7 L1379.0,1385.9 L1380.0,1385.5 L1381.0,1385.6 L1382.0,1385.8 L1383.0,1385.9 L1384.0,1385.7 L1385.0,1384.9 L1386.0,1384.1 L1387.0,1384.3 L1388.0,1384.9 L1389.0,1385.1 L1390.0,1384.4 L1391.0,1383.6 L1392.0,1383.2 L1393.0,1383.0 L1394.0,1382.8 L1395.0,1383.0 L1396.0,1383.5 L1397.0,1383.5 L1398.0,1383.2 L1399.0,1383.1 L1400.0,1382.9 L1401.0,1382.6 L1402.0,1382.5 L1403.0,1382.6 L1404.0,1382.5 L1405.0,1382.4 L1406.0,1382.4 L1407.0,1382.4 L1408.0,1382.2 L1409.0,1381.6 L1410.0,1381.0 L1411.0,1380.7 L1412.0,1380.8 L1413.0,1381.1 L1414.0,1381.1 L1415.0,1380.9 L1416.0,1380.9 L1417.0,1380.9 L1418.0,1380.7 L1419.0,1380.5 L1420.0,1380.3 L1421.0,1379.9 L1422.0,1379.5 L1423.0,1379.1 L1424.0,1378.3 L1425.0,1377.5 L1426.0,1377.3 L1427.0,1377.8 L1428.0,1378.5 L1429.0,1378.8 L1430.0,1378.6 L1431.0,1377.8 L1432.0,1376.6 L1433.0,1375.9 L1434.0,1375.7 L1435.0,1375.7 L1436.0,1375.8 L1437.0,1375.8 L1438.0,1375.7 L1439.0,1375.5 L1440.0,1375.1 L1441.0,1374.5 L1442.0,1374.6 L1443.0,1375.0 L1444.0,1374.8 L1445.0,1374.1 L1446.0,1373.3 L1447.0,1373.2 L1448.0,1373.5 L1449.0,1373.7 L1450.0,1373.5 L1451.0,1373.0 L1452.0,1372.6 L1453.0,1372.0 L1454.0,1371.2 L1455.0,1371.1 L1456.0,1371.5 L1457.0,1371.9 L1458.0,1371.6 L1459.0,1370.9 L1460.0,1370.3 L1461.0,1369.9 L1462.0,1369.8 L1463.0,1369.6 L1464.0,1369.2 L1465.0,1368.6 L1466.0,1368.1 L1467.0,1367.9 L1468.0,1368.2 L1469.0,1368.5 L1470.0,1368.3 L1471.0,1367.9 L1472.0,1367.8 L1473.0,1368.0 L1474.0,1368.0 L1475.0,1367.5 L1476.0,1366.7 L1477.0,1366.0 L1478.0,1365.8 L1479.0,1365.6 L1480.0,1365.1 L1481.0,1364.6 L1482.0,1364.9 L1483.0,1365.4 L1484.0,1365.4 L1485.0,1365.1 L1486.0,1364.7 L1487.0,1364.3 L1488.0,1363.9 L1489.0,1363.8 L1490.0,1364.1 L1491.0,1364.1 L1492.0,1363.6 L1493.0,1362.9 L1494.0,1362.4 L1495.0,1362.0 L1496.0,1362.0 L1497.0,1362.5 L1498.0,1363.1 L1499.0,1363.3 L1500.0,1362.8 L1501.0,1362.2 L1502.0,1361.6 L1503.0,1361.1 L1504.0,1360.8 L1505.0,1360.8 L1506.0,1360.8 L1507.0,1360.6 L1508.0,1360.3 L1509.0,1360.5 L1510.0,1360.9 L1511.0,1361.2 L1512.0,1361.0 L1513.0,1360.7 L1514.0,1360.7 L1515.0,1360.9 L1516.0,1360.9 L1517.0,1361.1 L1518.0,1361.9 L1519.0,1362.8 L1520.0,1363.4 L1521.0,1363.9 L1522.0,1364.7 L1523.0,1365.4 L1524.0,1365.5 L1525.0,1365.4 L1526.0,1366.0 L1527.0,1367.3 L1528.0,1368.7 L1529.0,1369.8 L1530.0,1370.9 L1531.0,1372.5 L1532.0,1374.6 L1533.0,1376.7 L1534.0,1378.5 L1535.0,1380.0 L1536.0,1382.0 L1537.0,1384.8 L1538.0,1388.4 L1539.0,1391.8 L1540.0,1395.0 L1541.0,1398.9 L1542.0,1403.8 L1543.0,1408.9" fill="none" stroke="#0000ff" stroke-width="5.2" stroke-linejoin="round" stroke-linecap="butt" />
<path d="M938.0,1462.2 L939.0,1462.8 L940.0,1464.3 L941.0,1465.0 L942.0,1465.1 L943.0,1464.9 L944.0,1464.3 L945.0,1464.2 L946.0,1464.6 L947.0,1464.2 L948.0,1463.7 L949.0,1463.0 L950.0,1462.5 L951.0,1463.7 L952.0,1463.7 L953.0,1462.6 L954.0,1463.1 L955.0,1464.0 L956.0,1462.6 L957.0,1460.1 L958.0,1460.2 L959.0,1462.6 L960.0,1464.5 L961.0,1463.9 L962.0,1462.6 L963.0,1462.1 L964.0,1461.5 L965.0,1460.8 L966.0,1459.8 L967.0,1459.3 L968.0,1460.7 L969.0,1461.1 L970.0,1459.6 L971.0,1458.2 L972.0,1458.2 L973.0,1459.4 L974.0,1460.4 L975.0,1460.9 L976.0,1460.0 L977.0,1457.4 L978.0,1456.7 L979.0,1458.0 L980.0,1459.1 L981.0,1458.5 L982.0,1457.8 L983.0,1458.7 L984.0,1460.1 L985.0,1460.6 L986.0,1459.3 L987.0,1457.5 L988.0,1456.5 L989.0,1456.8 L990.0,1458.0 L991.0,1458.4 L992.0,1457.8 L993.0,1457.9 L994.0,1458.6 L995.0,1458.1 L996.0,1456.6 L997.0,1454.8 L998.0,1453.1 L999.0,1452.1 L1000.0,1453.1 L1001.0,1455.7 L1002.0,1456.7 L1003.0,1455.2 L1004.0,1454.1 L1005.0,1455.1 L1006.0,1456.2 L1007.0,1456.0 L1008.0,1455.5 L1009.0,1454.0 L1010.0,1452.2 L1011.0,1452.3 L1012.0,1454.5 L1013.0,1456.5 L1014.0,1455.8 L1015.0,1454.2 L1016.0,1453.7 L1017.0,1453.3 L1018.0,1452.6 L1019.0,1452.4 L1020.0,1453.1 L1021.0,1454.6 L1022.0,1455.8 L1023.0,1455.0 L1024.0,1453.4 L1025.0,1452.1 L1026.0,1450.8 L1027.0,1450.4 L1028.0,1451.5 L1029.0,1452.5 L1030.0,1452.8 L1031.0,1453.4 L1032.0,1453.6 L1033.0,1452.8 L1034.0,1451.2 L1035.0,1450.9 L1036.0,1452.1 L1037.0,1452.2 L1038.0,1452.2 L1039.0,1452.1 L1040.0,1452.4 L1041.0,1453.3 L1042.0,1452.8 L1043.0,1451.0 L1044.0,1449.4 L1045.0,1448.3 L1046.0,1448.6 L1047.0,1449.7 L1048.0,1449.8 L1049.0,1449.9 L1050.0,1450.4 L1051.0,1450.5 L1052.0,1450.3 L1053.0,1449.6 L1054.0,1449.7 L1055.0,1450.3 L1056.0,1450.3 L1057.0,1450.7 L1058.0,1450.6 L1059.0,1448.9 L1060.0,1446.8 L1061.0,1446.1 L1062.0,1446.5 L1063.0,1447.6 L1064.0,1448.8 L1065.0,1448.0 L1066.0,1447.2 L1067.0,1447.6 L1068.0,1447.7 L1069.0,1447.9 L1070.0,1449.4 L1071.0,1450.1 L1072.0,1449.6 L1073.0,1448.8 L1074.0,1447.5 L1075.0,1447.5 L1076.0,1448.6 L1077.0,1449.8 L1078.0,1450.2 L1079.0,1448.9 L1080.0,1448.1 L1081.0,1448.8 L1082.0,1449.5 L1083.0,1449.5 L1084.0,1449.1 L1085.0,1448.8 L1086.0,1448.7 L1087.0,1448.8 L1088.0,1448.3 L1089.0,1448.7 L1090.0,1449.4 L1091.0,1449.0 L1092.0,1449.2 L1093.0,1449.7 L1094.0,1449.9 L1095.0,1450.0 L1096.0,1449.8 L1097.0,1449.1 L1098.0,1447.5 L1099.0,1447.5 L1100.0,1450.0 L1101.0,1452.4 L1102.0,1452.3 L1103.0,1450.4 L1104.0,1449.2 L1105.0,1448.2 L1106.0,1448.1 L1107.0,1449.8 L1108.0,1451.5 L1109.0,1452.4 L1110.0,1451.8 L1111.0,1450.4 L1112.0,1450.1 L1113.0,1451.0 L1114.0,1452.1 L1115.0,1453.7 L1116.0,1455.1 L1117.0,1453.8 L1118.0,1452.1 L1119.0,1453.0 L1120.0,1454.5 L1121.0,1454.2 L1122.0,1453.0 L1123.0,1452.0 L1124.0,1451.6 L1125.0,1451.8 L1126.0,1452.9 L1127.0,1454.2 L1128.0,1455.4 L1129.0,1456.8 L1130.0,1456.4 L1131.0,1455.6 L1132.0,1456.2 L1133.0,1456.4 L1134.0,1455.7 L1135.0,1457.7 L1136.0,1460.2 L1137.0,1459.2 L1138.0,1457.1 L1139.0,1457.2 L1140.0,1459.0 L1141.0,1460.2 L1142.0,1458.8 L1143.0,1457.2 L1144.0,1456.1 L1145.0,1454.2 L1146.0,1453.7 L1147.0,1456.4 L1148.0,1458.8 L1149.0,1459.6 L1150.0,1460.6 L1151.0,1461.2 L1152.0,1460.5 L1153.0,1460.1 L1154.0,1461.9 L1155.0,1463.1 L1156.0,1462.7 L1157.0,1461.9 L1158.0,1461.3 L1159.0,1461.5 L1160.0,1462.6 L1161.0,1463.1 L1162.0,1462.9 L1163.0,1462.9 L1164.0,1463.0 L1165.0,1463.3 L1166.0,1463.9 L1167.0,1465.3 L1168.0,1465.9 L1169.0,1464.4 L1170.0,1462.7 L1171.0,1462.7 L1172.0,1463.3 L1173.0,1463.7 L1174.0,1464.4 L1175.0,1464.7 L1176.0,1464.1 L1177.0,1462.5 L1178.0,1461.4 L1179.0,1461.8 L1180.0,1462.7 L1181.0,1462.8 L1182.0,1462.2 L1183.0,1460.9 L1184.0,1460.9 L1185.0,1461.2 L1186.0,1460.5 L1187.0,1460.6 L1188.0,1461.2 L1189.0,1462.6 L1190.0,1463.9 L1191.0,1464.1 L1192.0,1462.7 L1193.0,1461.9 L1194.0,1463.1 L1195.0,1464.7 L1196.0,1465.8 L1197.0,1466.7 L1198.0,1467.1 L1199.0,1466.3 L1200.0,1465.4 L1201.0,1465.2 L1202.0,1466.4 L1203.0,1467.7 L1204.0,1466.8 L1205.0,1465.6 L1206.0,1466.1 L1207.0,1466.1 L1208.0,1467.4 L1209.0,1469.4 L1210.0,1470.1 L1211.0,1470.5 L1212.0,1470.6 L1213.0,1469.5 L1214.0,1468.4 L1215.0,1468.2 L1216.0,1467.0 L1217.0,1466.1 L1218.0,1467.8 L1219.0,1469.6 L1220.0,1470.1 L1221.0,1470.8 L1222.0,1471.5 L1223.0,1471.2 L1224.0,1470.7 L1225.0,1470.7 L1226.0,1470.4 L1227.0,1469.8 L1228.0,1470.2 L1229.0,1470.1 L1230.0,1468.5 L1231.0,1467.0 L1232.0,1465.7 L1233.0,1465.9 L1234.0,1465.6 L1235.0,1463.6 L1236.0,1462.4 L1237.0,1463.1 L1238.0,1463.9 L1239.0,1464.5 L1240.0,1465.2 L1241.0,1466.1 L1242.0,1466.0 L1243.0,1464.0 L1244.0,1462.4 L1245.0,1462.9 L1246.0,1463.7 L1247.0,1464.1 L1248.0,1464.3 L1249.0,1463.2 L1250.0,1461.8 L1251.0,1460.9 L1252.0,1460.4 L1253.0,1461.5 L1254.0,1462.7 L1255.0,1463.4 L1256.0,1462.9 L1257.0,1461.5 L1258.0,1460.0 L1259.0,1458.9 L1260.0,1459.5 L1261.0,1460.8 L1262.0,1461.6 L1263.0,1461.7 L1264.0,1461.5 L1265.0,1460.8 L1266.0,1459.9 L1267.0,1459.5 L1268.0,1458.5 L1269.0,1457.3 L1270.0,1457.9 L1271.0,1460.7 L1272.0,1462.7 L1273.0,1462.3 L1274.0,1461.4 L1275.0,1462.2 L1276.0,1462.1 L1277.0,1460.9 L1278.0,1461.3 L1279.0,1462.3 L1280.0,1461.9 L1281.0,1461.1 L1282.0,1459.8 L1283.0,1459.7 L1284.0,1460.4 L1285.0,1460.3 L1286.0,1459.8 L1287.0,1459.4 L1288.0,1459.5 L1289.0,1460.3 L1290.0,1459.7 L1291.0,1458.5 L1292.0,1458.0 L1293.0,1457.8 L1294.0,1457.9 L1295.0,1458.5 L1296.0,1458.5 L1297.0,1457.9 L1298.0,1456.3 L1299.0,1455.1 L1300.0,1455.4 L1301.0,1455.8 L1302.0,1456.1 L1303.0,1457.0 L1304.0,1457.6 L1305.0,1457.8 L1306.0,1457.6 L1307.0,1457.0 L1308.0,1455.7 L1309.0,1455.6 L1310.0,1456.7 L1311.0,1457.5 L1312.0,1457.8 L1313.0,1457.4 L1314.0,1456.9 L1315.0,1455.8 L1316.0,1456.0 L1317.0,1457.9 L1318.0,1458.8 L1319.0,1458.8 L1320.0,1457.5 L1321.0,1456.5 L1322.0,1458.1 L1323.0,1460.3 L1324.0,1461.4 L1325.0,1461.1 L1326.0,1459.4 L1327.0,1457.8 L1328.0,1456.7 L1329.0,1456.4 L1330.0,1457.4 L1331.0,1457.8 L1332.0,1456.7 L1333.0,1455.6 L1334.0,1455.5 L1335.0,1455.5 L1336.0,1455.3 L1337.0,1453.9 L1338.0,1452.6 L1339.0,1451.7 L1340.0,1450.8 L1341.0,1450.2 L1342.0,1449.7 L1343.0,1450.2 L1344.0,1452.5 L1345.0,1452.9 L1346.0,1451.4 L1347.0,1450.2 L1348.0,1450.1 L1349.0,1450.0 L1350.0,1448.9 L1351.0,1447.5 L1352.0,1446.6 L1353.0,1446.1 L1354.0,1446.2 L1355.0,1446.3 L1356.0,1446.5 L1357.0,1447.5 L1358.0,1448.9 L1359.0,1448.9 L1360.0,1447.3 L1361.0,1446.3 L1362.0,1446.1 L1363.0,1444.8 L1364.0,1444.0 L1365.0,1444.3 L1366.0,1445.1 L1367.0,1446.4 L1368.0,1446.7 L1369.0,1446.1 L1370.0,1445.2 L1371.0,1444.7 L1372.0,1444.0 L1373.0,1443.5 L1374.0,1443.7 L1375.0,1443.9 L1376.0,1443.3 L1377.0,1441.5 L1378.0,1439.7 L1379.0,1438.5 L1380.0,1437.8 L1381.0,1438.7 L1382.0,1439.9 L1383.0,1439.8 L1384.0,1439.6 L1385.0,1440.8 L1386.0,1440.2 L1387.0,1439.0 L1388.0,1440.1 L1389.0,1441.5 L1390.0,1442.4 L1391.0,1442.3 L1392.0,1440.7 L1393.0,1439.7 L1394.0,1439.3 L1395.0,1439.1 L1396.0,1439.9 L1397.0,1440.1 L1398.0,1439.3 L1399.0,1439.7 L1400.0,1440.2 L1401.0,1438.8 L1402.0,1437.0 L1403.0,1437.1 L1404.0,1438.0 L1405.0,1438.8 L1406.0,1439.0 L1407.0,1438.4 L1408.0,1436.6 L1409.0,1435.8 L1410.0,1436.4 L1411.0,1437.8 L1412.0,1437.4 L1413.0,1435.3 L1414.0,1434.3 L1415.0,1432.7 L1416.0,1430.7 L1417.0,1430.6 L1418.0,1431.9 L1419.0,1432.4 L1420.0,1431.9 L1421.0,1431.8 L1422.0,1431.5 L1423.0,1430.4 L1424.0,1429.3 L1425.0,1429.5 L1426.0,1429.3 L1427.0,1429.2 L1428.0,1430.9 L1429.0,1431.6 L1430.0,1431.1 L1431.0,1430.0 L1432.0,1427.4 L1433.0,1425.3 L1434.0,1425.2 L1435.0,1426.4 L1436.0,1427.8 L1437.0,1427.2 L1438.0,1426.3 L1439.0,1426.8 L1440.0,1427.1 L1441.0,1425.7 L1442.0,1424.5 L1443.0,1424.9 L1444.0,1425.2 L1445.0,1425.0 L1446.0,1424.8 L1447.0,1423.9 L1448.0,1423.1 L1449.0,1423.8 L1450.0,1424.2 L1451.0,1423.5 L1452.0,1423.0 L1453.0,1422.3 L1454.0,1421.1 L1455.0,1420.8 L1456.0,1421.0 L1457.0,1420.8 L1458.0,1420.1 L1459.0,1418.9 L1460.0,1417.0 L1461.0,1415.7 L1462.0,1415.3 L1463.0,1415.6 L1464.0,1415.9 L1465.0,1416.0 L1466.0,1415.7 L1467.0,1414.9 L1468.0,1415.4 L1469.0,1417.0 L1470.0,1417.5 L1471.0,1416.9 L1472.0,1416.6 L1473.0,1415.5 L1474.0,1413.3 L1475.0,1412.0 L1476.0,1411.2 L1477.0,1411.1 L1478.0,1411.1 L1479.0,1410.5 L1480.0,1410.7 L1481.0,1410.5 L1482.0,1410.0 L1483.0,1409.2 L1484.0,1407.2 L1485.0,1405.9 L1486.0,1406.0 L1487.0,1405.8 L1488.0,1404.9 L1489.0,1403.5 L1490.0,1402.4 L1491.0,1401.5 L1492.0,1400.8 L1493.0,1400.7 L1494.0,1401.4 L1495.0,1403.4 L1496.0,1404.2 L1497.0,1401.2 L1498.0,1398.5 L1499.0,1398.0 L1500.0,1397.1 L1501.0,1396.5 L1502.0,1397.0 L1503.0,1397.5 L1504.0,1397.5 L1505.0,1397.4 L1506.0,1397.5 L1507.0,1397.9 L1508.0,1397.1 L1509.0,1395.2 L1510.0,1393.7 L1511.0,1393.4 L1512.0,1394.3 L1513.0,1395.4 L1514.0,1395.7 L1515.0,1394.9 L1516.0,1393.8 L1517.0,1391.3 L1518.0,1389.5 L1519.0,1390.1 L1520.0,1391.8 L1521.0,1392.2 L1522.0,1391.3 L1523.0,1390.7 L1524.0,1389.6 L1525.0,1388.8 L1526.0,1389.6 L1527.0,1390.7 L1528.0,1390.1 L1529.0,1388.6 L1530.0,1388.2 L1531.0,1390.3 L1532.0,1393.4 L1533.0,1395.4 L1534.0,1395.5 L1535.0,1396.3 L1536.0,1399.2 L1537.0,1403.8 L1538.0,1409.1 L1539.0,1414.4 L1540.0,1420.5 L1541.0,1426.4 L1542.0,1432.6 L1543.0,1440.5" fill="none" stroke="#00ff00" stroke-width="5.0" stroke-linejoin="round" stroke-linecap="butt" />
<path d="M938.0,1496.2 L939.0,1497.1 L940.0,1498.5 L941.0,1498.7 L942.0,1498.0 L943.0,1498.2 L944.0,1498.7 L945.0,1498.4 L946.0,1498.3 L947.0,1498.4 L948.0,1498.1 L949.0,1497.8 L950.0,1497.7 L951.0,1497.4 L952.0,1497.1 L953.0,1497.5 L954.0,1497.6 L955.0,1497.4 L956.0,1497.2 L957.0,1496.3 L958.0,1495.2 L959.0,1495.7 L960.0,1497.3 L961.0,1497.9 L962.0,1497.4 L963.0,1496.9 L964.0,1497.6 L965.0,1498.3 L966.0,1497.8 L967.0,1497.2 L968.0,1497.6 L969.0,1497.8 L970.0,1497.9 L971.0,1498.1 L972.0,1498.2 L973.0,1497.7 L974.0,1497.3 L975.0,1497.6 L976.0,1498.2 L977.0,1498.2 L978.0,1497.4 L979.0,1497.1 L980.0,1497.2 L981.0,1497.2 L982.0,1496.4 L983.0,1495.9 L984.0,1496.8 L985.0,1496.9 L986.0,1496.2 L987.0,1495.8 L988.0,1495.9 L989.0,1496.3 L990.0,1497.1 L991.0,1497.7 L992.0,1497.8 L993.0,1497.7 L994.0,1497.6 L995.0,1497.9 L996.0,1498.1 L997.0,1498.3 L998.0,1498.3 L999.0,1498.4 L1000.0,1498.8 L1001.0,1498.7 L1002.0,1498.7 L1003.0,1499.3 L1004.0,1498.7 L1005.0,1496.6 L1006.0,1495.6 L1007.0,1496.6 L1008.0,1498.0 L1009.0,1498.7 L1010.0,1498.6 L1011.0,1498.5 L1012.0,1498.7 L1013.0,1498.4 L1014.0,1497.9 L1015.0,1498.1 L1016.0,1498.1 L1017.0,1497.4 L1018.0,1496.9 L1019.0,1497.5 L1020.0,1498.6 L1021.0,1498.9 L1022.0,1498.5 L1023.0,1497.9 L1024.0,1498.0 L1025.0,1498.4 L1026.0,1498.4 L1027.0,1498.4 L1028.0,1498.1 L1029.0,1498.0 L1030.0,1498.5 L1031.0,1499.1 L1032.0,1499.1 L1033.0,1498.7 L1034.0,1498.3 L1035.0,1497.1 L1036.0,1496.0 L1037.0,1496.1 L1038.0,1497.5 L1039.0,1498.1 L1040.0,1497.1 L1041.0,1496.6 L1042.0,1496.1 L1043.0,1495.6 L1044.0,1495.8 L1045.0,1495.7 L1046.0,1494.9 L1047.0,1494.5 L1048.0,1494.8 L1049.0,1494.9 L1050.0,1494.6 L1051.0,1495.0 L1052.0,1495.1 L1053.0,1495.0 L1054.0,1496.6 L1055.0,1497.9 L1056.0,1498.1 L1057.0,1498.5 L1058.0,1498.8 L1059.0,1498.8 L1060.0,1498.2 L1061.0,1497.4 L1062.0,1497.9 L1063.0,1498.9 L1064.0,1498.6 L1065.0,1498.7 L1066.0,1499.5 L1067.0,1499.3 L1068.0,1498.1 L1069.0,1497.0 L1070.0,1496.7 L1071.0,1496.6 L1072.0,1497.1 L1073.0,1498.3 L1074.0,1498.8 L1075.0,1498.3 L1076.0,1498.2 L1077.0,1498.9 L1078.0,1499.0 L1079.0,1498.9 L1080.0,1499.4 L1081.0,1499.5 L1082.0,1498.7 L1083.0,1498.3 L1084.0,1499.0 L1085.0,1499.9 L1086.0,1500.0 L1087.0,1499.6 L1088.0,1499.5 L1089.0,1499.2 L1090.0,1499.0 L1091.0,1498.9 L1092.0,1499.2 L1093.0,1499.4 L1094.0,1499.1 L1095.0,1498.9 L1096.0,1498.7 L1097.0,1498.3 L1098.0,1498.0 L1099.0,1497.7 L1100.0,1497.3 L1101.0,1498.1 L1102.0,1499.2 L1103.0,1498.8 L1104.0,1497.5 L1105.0,1497.3 L1106.0,1498.5 L1107.0,1499.4 L1108.0,1499.0 L1109.0,1498.6 L1110.0,1498.5 L1111.0,1498.4 L1112.0,1498.3 L1113.0,1498.8 L1114.0,1499.3 L1115.0,1499.3 L1116.0,1499.1 L1117.0,1499.9 L1118.0,1500.6 L1119.0,1500.1 L1120.0,1498.8 L1121.0,1498.2 L1122.0,1499.6 L1123.0,1500.9 L1124.0,1500.7 L1125.0,1500.4 L1126.0,1500.8 L1127.0,1500.8 L1128.0,1499.5 L1129.0,1498.9 L1130.0,1499.2 L1131.0,1498.5 L1132.0,1497.7 L1133.0,1498.2 L1134.0,1498.6 L1135.0,1498.5 L1136.0,1498.7 L1137.0,1498.4 L1138.0,1498.2 L1139.0,1499.5 L1140.0,1501.0 L1141.0,1500.4 L1142.0,1498.5 L1143.0,1497.8 L1144.0,1498.3 L1145.0,1498.4 L1146.0,1498.0 L1147.0,1498.5 L1148.0,1499.6 L1149.0,1500.0 L1150.0,1500.0 L1151.0,1499.8 L1152.0,1499.5 L1153.0,1498.7 L1154.0,1498.0 L1155.0,1497.3 L1156.0,1497.0 L1157.0,1497.3 L1158.0,1497.6 L1159.0,1498.2 L1160.0,1498.9 L1161.0,1499.3 L1162.0,1499.2 L1163.0,1499.0 L1164.0,1499.3 L1165.0,1499.7 L1166.0,1499.2 L1167.0,1498.0 L1168.0,1497.0 L1169.0,1497.6 L1170.0,1498.6 L1171.0,1498.3 L1172.0,1498.2 L1173.0,1498.6 L1174.0,1498.7 L1175.0,1498.9 L1176.0,1498.5 L1177.0,1497.5 L1178.0,1497.3 L1179.0,1497.6 L1180.0,1497.1 L1181.0,1497.0 L1182.0,1497.6 L1183.0,1497.7 L1184.0,1497.9 L1185.0,1497.8 L1186.0,1497.2 L1187.0,1496.7 L1188.0,1496.8 L1189.0,1497.0 L1190.0,1497.1 L1191.0,1497.6 L1192.0,1497.8 L1193.0,1497.8 L1194.0,1497.8 L1195.0,1497.8 L1196.0,1497.8 L1197.0,1497.8 L1198.0,1497.4 L1199.0,1496.6 L1200.0,1495.4 L1201.0,1495.1 L1202.0,1496.0 L1203.0,1496.4 L1204.0,1495.4 L1205.0,1494.7 L1206.0,1495.4 L1207.0,1496.4 L1208.0,1496.6 L1209.0,1495.8 L1210.0,1495.3 L1211.0,1495.8 L1212.0,1496.4 L1213.0,1496.6 L1214.0,1496.6 L1215.0,1496.5 L1216.0,1497.0 L1217.0,1496.8 L1218.0,1495.7 L1219.0,1495.6 L1220.0,1497.1 L1221.0,1498.3 L1222.0,1497.5 L1223.0,1496.7 L1224.0,1496.5 L1225.0,1495.4 L1226.0,1494.4 L1227.0,1494.7 L1228.0,1495.2 L1229.0,1494.4 L1230.0,1494.4 L1231.0,1495.5 L1232.0,1496.2 L1233.0,1495.9 L1234.0,1494.9 L1235.0,1494.4 L1236.0,1494.3 L1237.0,1494.2 L1238.0,1494.7 L1239.0,1495.3 L1240.0,1495.7 L1241.0,1495.4 L1242.0,1495.3 L1243.0,1495.9 L1244.0,1496.5 L1245.0,1496.4 L1246.0,1495.5 L1247.0,1494.6 L1248.0,1493.9 L1249.0,1493.8 L1250.0,1494.3 L1251.0,1495.2 L1252.0,1495.8 L1253.0,1495.7 L1254.0,1495.5 L1255.0,1494.7 L1256.0,1493.2 L1257.0,1492.9 L1258.0,1493.3 L1259.0,1493.4 L1260.0,1493.4 L1261.0,1494.2 L1262.0,1494.7 L1263.0,1494.4 L1264.0,1493.8 L1265.0,1493.3 L1266.0,1493.2 L1267.0,1492.4 L1268.0,1491.8 L1269.0,1492.5 L1270.0,1492.8 L1271.0,1492.0 L1272.0,1491.1 L1273.0,1491.2 L1274.0,1491.3 L1275.0,1491.5 L1276.0,1492.9 L1277.0,1493.8 L1278.0,1493.6 L1279.0,1493.4 L1280.0,1492.7 L1281.0,1492.4 L1282.0,1492.9 L1283.0,1492.8 L1284.0,1491.8 L1285.0,1491.2 L1286.0,1491.9 L1287.0,1493.1 L1288.0,1494.0 L1289.0,1494.4 L1290.0,1493.6 L1291.0,1493.2 L1292.0,1493.0 L1293.0,1492.9 L1294.0,1492.7 L1295.0,1492.2 L1296.0,1491.6 L1297.0,1490.8 L1298.0,1490.5 L1299.0,1490.9 L1300.0,1491.0 L1301.0,1491.3 L1302.0,1492.1 L1303.0,1492.7 L1304.0,1493.3 L1305.0,1493.7 L1306.0,1493.1 L1307.0,1492.2 L1308.0,1491.8 L1309.0,1492.2 L1310.0,1492.1 L1311.0,1491.5 L1312.0,1491.5 L1313.0,1491.5 L1314.0,1491.2 L1315.0,1491.6 L1316.0,1491.8 L1317.0,1490.7 L1318.0,1489.8 L1319.0,1489.4 L1320.0,1488.8 L1321.0,1488.4 L1322.0,1489.3 L1323.0,1490.2 L1324.0,1489.9 L1325.0,1488.4 L1326.0,1487.5 L1327.0,1487.5 L1328.0,1487.3 L1329.0,1487.2 L1330.0,1487.3 L1331.0,1487.3 L1332.0,1487.3 L1333.0,1487.4 L1334.0,1487.9 L1335.0,1488.8 L1336.0,1488.3 L1337.0,1487.0 L1338.0,1486.4 L1339.0,1486.7 L1340.0,1487.1 L1341.0,1487.9 L1342.0,1489.1 L1343.0,1489.3 L1344.0,1488.8 L1345.0,1489.1 L1346.0,1489.7 L1347.0,1490.0 L1348.0,1490.4 L1349.0,1491.3 L1350.0,1491.6 L1351.0,1491.5 L1352.0,1491.0 L1353.0,1490.9 L1354.0,1491.0 L1355.0,1490.8 L1356.0,1489.7 L1357.0,1488.4 L1358.0,1488.0 L1359.0,1488.5 L1360.0,1489.2 L1361.0,1489.3 L1362.0,1489.4 L1363.0,1489.7 L1364.0,1489.3 L1365.0,1488.5 L1366.0,1488.8 L1367.0,1488.8 L1368.0,1487.3 L1369.0,1486.4 L1370.0,1486.4 L1371.0,1486.1 L1372.0,1485.6 L1373.0,1486.0 L1374.0,1486.5 L1375.0,1485.7 L1376.0,1483.8 L1377.0,1482.6 L1378.0,1482.7 L1379.0,1483.1 L1380.0,1482.9 L1381.0,1483.0 L1382.0,1483.3 L1383.0,1483.2 L1384.0,1483.0 L1385.0,1483.6 L1386.0,1484.1 L1387.0,1483.8 L1388.0,1483.5 L1389.0,1483.3 L1390.0,1482.9 L1391.0,1481.5 L1392.0,1480.9 L1393.0,1482.0 L1394.0,1483.4 L1395.0,1483.0 L1396.0,1481.5 L1397.0,1481.1 L1398.0,1481.5 L1399.0,1481.7 L1400.0,1481.4 L1401.0,1480.4 L1402.0,1480.0 L1403.0,1480.8 L1404.0,1480.8 L1405.0,1479.2 L1406.0,1478.3 L1407.0,1478.4 L1408.0,1478.7 L1409.0,1479.2 L1410.0,1479.5 L1411.0,1479.8 L1412.0,1479.9 L1413.0,1480.0 L1414.0,1479.9 L1415.0,1479.3 L1416.0,1479.0 L1417.0,1479.1 L1418.0,1479.1 L1419.0,1479.3 L1420.0,1478.9 L1421.0,1478.7 L1422.0,1479.1 L1423.0,1479.3 L1424.0,1478.6 L1425.0,1477.6 L1426.0,1477.6 L1427.0,1478.4 L1428.0,1478.8 L1429.0,1479.0 L1430.0,1479.1 L1431.0,1479.1 L1432.0,1479.3 L1433.0,1479.3 L1434.0,1478.7 L1435.0,1478.3 L1436.0,1478.5 L1437.0,1478.5 L1438.0,1478.0 L1439.0,1477.6 L1440.0,1478.2 L1441.0,1478.6 L1442.0,1477.9 L1443.0,1477.4 L1444.0,1477.3 L1445.0,1477.0 L1446.0,1476.8 L1447.0,1477.6 L1448.0,1477.8 L1449.0,1477.4 L1450.0,1477.6 L1451.0,1478.0 L1452.0,1478.0 L1453.0,1478.0 L1454.0,1478.1 L1455.0,1477.9 L1456.0,1478.0 L1457.0,1478.2 L1458.0,1477.5 L1459.0,1477.0 L1460.0,1477.7 L1461.0,1478.1 L1462.0,1477.4 L1463.0,1477.0 L1464.0,1477.2 L1465.0,1477.0 L1466.0,1476.6 L1467.0,1477.0 L1468.0,1477.7 L1469.0,1477.2 L1470.0,1476.5 L1471.0,1476.6 L1472.0,1476.8 L1473.0,1476.5 L1474.0,1475.6 L1475.0,1475.7 L1476.0,1475.8 L1477.0,1475.0 L1478.0,1474.9 L1479.0,1475.5 L1480.0,1475.6 L1481.0,1475.3 L1482.0,1474.9 L1483.0,1474.3 L1484.0,1474.8 L1485.0,1475.7 L1486.0,1475.5 L1487.0,1475.3 L1488.0,1475.4 L1489.0,1475.6 L1490.0,1475.6 L1491.0,1475.7 L1492.0,1475.6 L1493.0,1474.5 L1494.0,1473.4 L1495.0,1473.9 L1496.0,1475.1 L1497.0,1475.1 L1498.0,1473.7 L1499.0,1472.7 L1500.0,1473.6 L1501.0,1475.2 L1502.0,1475.4 L1503.0,1474.0 L1504.0,1472.1 L1505.0,1471.2 L1506.0,1471.2 L1507.0,1471.3 L1508.0,1471.5 L1509.0,1471.7 L1510.0,1471.8 L1511.0,1471.7 L1512.0,1471.6 L1513.0,1471.8 L1514.0,1471.6 L1515.0,1470.7 L1516.0,1469.6 L1517.0,1468.2 L1518.0,1466.5 L1519.0,1465.8 L1520.0,1466.5 L1521.0,1467.8 L1522.0,1468.4 L1523.0,1467.5 L1524.0,1466.1 L1525.0,1465.3 L1526.0,1465.1 L1527.0,1465.5 L1528.0,1465.8 L1529.0,1466.0 L1530.0,1466.4 L1531.0,1466.6 L1532.0,1466.1 L1533.0,1465.5 L1534.0,1465.6 L1535.0,1465.8 L1536.0,1466.4 L1537.0,1467.5 L1538.0,1468.2 L1539.0,1468.1 L1540.0,1468.1 L1541.0,1468.9 L1542.0,1470.2 L1543.0,1471.1" fill="none" stroke="#000" stroke-width="4.8" stroke-linejoin="round" stroke-linecap="butt" />
</g>
<rect x="937.9" y="1202.9" width="607.4" height="323.9" fill="none" stroke="#000" stroke-width="3.4"/>
<text x="135.2" y="54.3" font-size="39.3" font-family="Liberation Sans, Arial, sans-serif" text-anchor="end" >0.18</text>
<text x="135.2" y="165.8" font-size="39.3" font-family="Liberation Sans, Arial, sans-serif" text-anchor="end" >0.12</text>
<text x="135.2" y="278.0" font-size="39.3" font-family="Liberation Sans, Arial, sans-serif" text-anchor="end" >0.06</text>
<text x="135.2" y="389.6" font-size="39.3" font-family="Liberation Sans, Arial, sans-serif" text-anchor="end" >0.00</text>
<text x="135.2" y="410.0" font-size="39.3" font-family="Liberation Sans, Arial, sans-serif" text-anchor="end" >0.24</text>
<text x="135.2" y="582.0" font-size="39.3" font-family="Liberation Sans, Arial, sans-serif" text-anchor="end" >0.12</text>
<text x="135.2" y="752.6" font-size="39.3" font-family="Liberation Sans, Arial, sans-serif" text-anchor="end" >0.00</text>
<text x="135.2" y="786.0" font-size="39.3" font-family="Liberation Sans, Arial, sans-serif" text-anchor="end" >0.18</text>
<text x="135.2" y="897.8" font-size="39.3" font-family="Liberation Sans, Arial, sans-serif" text-anchor="end" >0.12</text>
<text x="135.2" y="1009.3" font-size="39.3" font-family="Liberation Sans, Arial, sans-serif" text-anchor="end" >0.06</text>
<text x="135.2" y="1121.0" font-size="39.3" font-family="Liberation Sans, Arial, sans-serif" text-anchor="end" >0.00</text>
<text x="133.7" y="1210.0" font-size="39.3" font-family="Liberation Sans, Arial, sans-serif" text-anchor="end" >0.18</text>
<text x="133.7" y="1319.3" font-size="39.3" font-family="Liberation Sans, Arial, sans-serif" text-anchor="end" >0.12</text>
<text x="133.7" y="1428.4" font-size="39.3" font-family="Liberation Sans, Arial, sans-serif" text-anchor="end" >0.06</text>
<text x="133.7" y="1537.5" font-size="39.3" font-family="Liberation Sans, Arial, sans-serif" text-anchor="end" >0.00</text>
<text x="929.3" y="49.1" font-size="39.3" font-family="Liberation Sans, Arial, sans-serif" text-anchor="end" >0</text>
<text x="927.8" y="162.6" font-size="39.3" font-family="Liberation Sans, Arial, sans-serif" text-anchor="end" >-60</text>
<text x="927.8" y="275.0" font-size="39.3" font-family="Liberation Sans, Arial, sans-serif" text-anchor="end" >-120</text>
<text x="927.8" y="388.4" font-size="39.3" font-family="Liberation Sans, Arial, sans-serif" text-anchor="end" >-180</text>
<text x="927.0" y="414.8" font-size="39.3" font-family="Liberation Sans, Arial, sans-serif" text-anchor="end" >0</text>
<text x="927.0" y="526.2" font-size="39.3" font-family="Liberation Sans, Arial, sans-serif" text-anchor="end" >-60</text>
<text x="927.0" y="638.8" font-size="39.3" font-family="Liberation Sans, Arial, sans-serif" text-anchor="end" >-120</text>
<text x="927.0" y="751.4" font-size="39.3" font-family="Liberation Sans, Arial, sans-serif" text-anchor="end" >-180</text>
<text x="927.8" y="785.8" font-size="39.3" font-family="Liberation Sans, Arial, sans-serif" text-anchor="end" >0</text>
<text x="927.8" y="897.5" font-size="39.3" font-family="Liberation Sans, Arial, sans-serif" text-anchor="end" >-60</text>
<text x="927.8" y="1009.3" font-size="39.3" font-family="Liberation Sans, Arial, sans-serif" text-anchor="end" >-120</text>
<text x="927.8" y="1121.0" font-size="39.3" font-family="Liberation Sans, Arial, sans-serif" text-anchor="end" >-180</text>
<text x="928.3" y="1211.5" font-size="39.3" font-family="Liberation Sans, Arial, sans-serif" text-anchor="end" >0</text>
<text x="928.3" y="1319.5" font-size="39.3" font-family="Liberation Sans, Arial, sans-serif" text-anchor="end" >-60</text>
<text x="928.3" y="1427.3" font-size="39.3" font-family="Liberation Sans, Arial, sans-serif" text-anchor="end" >-120</text>
<text x="928.3" y="1534.8" font-size="39.3" font-family="Liberation Sans, Arial, sans-serif" text-anchor="end" >-180</text>
<text x="204.4" y="32.5" font-size="39.3" font-family="Liberation Sans, Arial, sans-serif" text-anchor="middle" >-4</text>
<text x="997.2" y="31.0" font-size="39.3" font-family="Liberation Sans, Arial, sans-serif" text-anchor="middle" >-4</text>
<text x="324.4" y="32.5" font-size="39.3" font-family="Liberation Sans, Arial, sans-serif" text-anchor="middle" >-2</text>
<text x="1117.5" y="31.0" font-size="39.3" font-family="Liberation Sans, Arial, sans-serif" text-anchor="middle" >-2</text>
<text x="444.4" y="32.5" font-size="39.3" font-family="Liberation Sans, Arial, sans-serif" text-anchor="middle" >0</text>
<text x="1238.0" y="31.0" font-size="39.3" font-family="Liberation Sans, Arial, sans-serif" text-anchor="middle" >0</text>
<text x="564.4" y="32.5" font-size="39.3" font-family="Liberation Sans, Arial, sans-serif" text-anchor="middle" >2</text>
<text x="1358.4" y="31.0" font-size="39.3" font-family="Liberation Sans, Arial, sans-serif" text-anchor="middle" >2</text>
<text x="684.4" y="32.5" font-size="39.3" font-family="Liberation Sans, Arial, sans-serif" text-anchor="middle" >4</text>
<text x="1478.8" y="31.0" font-size="39.3" font-family="Liberation Sans, Arial, sans-serif" text-anchor="middle" >4</text>
<text x="204.1" y="1134.4" font-size="39.3" font-family="Liberation Sans, Arial, sans-serif" text-anchor="middle" >-4</text>
<text x="997.8" y="1133.8" font-size="39.3" font-family="Liberation Sans, Arial, sans-serif" text-anchor="middle" >-4</text>
<text x="325.3" y="1134.4" font-size="39.3" font-family="Liberation Sans, Arial, sans-serif" text-anchor="middle" >-2</text>
<text x="1118.6" y="1133.8" font-size="39.3" font-family="Liberation Sans, Arial, sans-serif" text-anchor="middle" >-2</text>
<text x="446.4" y="1134.4" font-size="39.3" font-family="Liberation Sans, Arial, sans-serif" text-anchor="middle" >0</text>
<text x="1239.3" y="1133.8" font-size="39.3" font-family="Liberation Sans, Arial, sans-serif" text-anchor="middle" >0</text>
<text x="567.5" y="1134.4" font-size="39.3" font-family="Liberation Sans, Arial, sans-serif" text-anchor="middle" >2</text>
<text x="1360.1" y="1133.8" font-size="39.3" font-family="Liberation Sans, Arial, sans-serif" text-anchor="middle" >2</text>
<text x="688.7" y="1134.4" font-size="39.3" font-family="Liberation Sans, Arial, sans-serif" text-anchor="middle" >4</text>
<text x="1480.9" y="1133.8" font-size="39.3" font-family="Liberation Sans, Arial, sans-serif" text-anchor="middle" >4</text>
<text x="141.3" y="1565.0" font-size="39.3" font-family="Liberation Sans, Arial, sans-serif" text-anchor="middle" >-1.0</text>
<text x="936.3" y="1564.4" font-size="39.3" font-family="Liberation Sans, Arial, sans-serif" text-anchor="middle" >-1.0</text>
<text x="263.3" y="1565.0" font-size="39.3" font-family="Liberation Sans, Arial, sans-serif" text-anchor="middle" >-0.8</text>
<text x="1057.8" y="1564.4" font-size="39.3" font-family="Liberation Sans, Arial, sans-serif" text-anchor="middle" >-0.8</text>
<text x="385.3" y="1565.0" font-size="39.3" font-family="Liberation Sans, Arial, sans-serif" text-anchor="middle" >-0.6</text>
<text x="1179.3" y="1564.4" font-size="39.3" font-family="Liberation Sans, Arial, sans-serif" text-anchor="middle" >-0.6</text>
<text x="507.3" y="1565.0" font-size="39.3" font-family="Liberation Sans, Arial, sans-serif" text-anchor="middle" >-0.4</text>
<text x="1300.7" y="1564.4" font-size="39.3" font-family="Liberation Sans, Arial, sans-serif" text-anchor="middle" >-0.4</text>
<text x="629.3" y="1565.0" font-size="39.3" font-family="Liberation Sans, Arial, sans-serif" text-anchor="middle" >-0.2</text>
<text x="1422.2" y="1564.4" font-size="39.3" font-family="Liberation Sans, Arial, sans-serif" text-anchor="middle" >-0.2</text>
<text x="751.6" y="1565.0" font-size="39.3" font-family="Liberation Sans, Arial, sans-serif" text-anchor="middle" >0.0</text>
<text x="1543.7" y="1564.4" font-size="39.3" font-family="Liberation Sans, Arial, sans-serif" text-anchor="middle" >0.0</text>
<text transform="translate(167.5,317.5) scale(1.09,1)" font-size="46.7" font-family="Liberation Sans, Arial, sans-serif">(a)</text>
<text transform="translate(956.7,306.8) scale(1.09,1)" font-size="46.7" font-family="Liberation Sans, Arial, sans-serif">(b)</text>
<text transform="translate(167.5,661.5) scale(1.09,1)" font-size="46.7" font-family="Liberation Sans, Arial, sans-serif">(c)</text>
<text transform="translate(960.0,649.9) scale(1.09,1)" font-size="46.7" font-family="Liberation Sans, Arial, sans-serif">(d)</text>
<text transform="translate(163.0,822.5) scale(1.09,1)" font-size="46.7" font-family="Liberation Sans, Arial, sans-serif">(e)</text>
<text transform="translate(957.3,813.0) scale(1.09,1)" font-size="46.7" font-family="Liberation Sans, Arial, sans-serif">(f)</text>
<text transform="translate(157.9,1266.3) scale(1.09,1)" font-size="46.7" font-family="Liberation Sans, Arial, sans-serif">(g)</text>
<text transform="translate(954.7,1272.0) scale(1.09,1)" font-size="46.7" font-family="Liberation Sans, Arial, sans-serif">(h)</text>
<text transform="translate(43.2,254.5) rotate(-90) scale(1.05,1)" font-size="49.5" font-family="Liberation Serif, Times New Roman, serif" text-anchor="middle"><tspan font-style="italic">A</tspan> (nm)</text>
<text transform="translate(39.0,598.5) rotate(-90) scale(1.05,1)" font-size="49.5" font-family="Liberation Serif, Times New Roman, serif" text-anchor="middle"><tspan font-style="italic">A</tspan> (nm)</text>
<text transform="translate(42.0,961.5) rotate(-90) scale(1.05,1)" font-size="49.5" font-family="Liberation Serif, Times New Roman, serif" text-anchor="middle"><tspan font-style="italic">A</tspan> (nm)</text>
<text transform="translate(40.0,1374.0) rotate(-90) scale(1.05,1)" font-size="49.5" font-family="Liberation Serif, Times New Roman, serif" text-anchor="middle"><tspan font-style="italic">A</tspan> (nm)</text>
<text transform="translate(833.0,241.0) rotate(-90) scale(1.05,1)" font-size="48.6" font-family="Liberation Serif, Times New Roman, serif" text-anchor="middle"><tspan font-style="italic">φ</tspan> (degree)</text>
<text transform="translate(832.5,605.5) rotate(-90) scale(1.05,1)" font-size="48.6" font-family="Liberation Serif, Times New Roman, serif" text-anchor="middle"><tspan font-style="italic">φ</tspan> (degree)</text>
<text transform="translate(834.5,961.5) rotate(-90) scale(1.05,1)" font-size="48.6" font-family="Liberation Serif, Times New Roman, serif" text-anchor="middle"><tspan font-style="italic">φ</tspan> (degree)</text>
<text transform="translate(833.0,1400.0) rotate(-90) scale(1.05,1)" font-size="48.6" font-family="Liberation Serif, Times New Roman, serif" text-anchor="middle"><tspan font-style="italic">φ</tspan> (degree)</text>
<text transform="translate(445.2,1167.5) scale(1.075,1)" font-size="41.8" font-family="Liberation Serif, Times New Roman, serif" text-anchor="middle"><tspan font-style="italic">r</tspan> (μm)</text>
<text transform="translate(1237.5,1166.0) scale(1.075,1)" font-size="41.8" font-family="Liberation Serif, Times New Roman, serif" text-anchor="middle"><tspan font-style="italic">r</tspan> (μm)</text>
<text transform="translate(446.5,1605.0) scale(1.09,1)" font-size="48.3" font-family="Liberation Serif, Times New Roman, serif" text-anchor="middle"><tspan font-style="italic">r</tspan> (μm)</text>
<text transform="translate(1247.2,1605.0) scale(1.09,1)" font-size="48.3" font-family="Liberation Serif, Times New Roman, serif" text-anchor="middle"><tspan font-style="italic">r</tspan> (μm)</text>
<text x="592.0" y="800.4" font-size="34.5" font-family="Liberation Serif, Times New Roman, serif" font-weight="bold" fill="#000" textLength="145.6" lengthAdjust="spacing"><tspan font-style="italic">d</tspan>=300 nm</text>
<text x="628.0" y="845.7" font-size="34.5" font-family="Liberation Serif, Times New Roman, serif" font-weight="bold" fill="#ff0000" textLength="106.5" lengthAdjust="spacing">500 nm</text>
<text x="633.5" y="918.8" font-size="34.5" font-family="Liberation Serif, Times New Roman, serif" font-weight="bold" fill="#00ff00" textLength="109.0" lengthAdjust="spacing">600 nm</text>
<text x="632.9" y="964.8" font-size="34.5" font-family="Liberation Serif, Times New Roman, serif" font-weight="bold" fill="#800000" textLength="107.6" lengthAdjust="spacing">750 nm</text>
<text x="634.2" y="1016.9" font-size="34.5" font-family="Liberation Serif, Times New Roman, serif" font-weight="bold" fill="#0000ff" textLength="108.3" lengthAdjust="spacing">625 nm</text>
<text x="636.9" y="1085.2" font-size="34.5" font-family="Liberation Serif, Times New Roman, serif" font-weight="bold" fill="#ff8000" textLength="107.0" lengthAdjust="spacing">700 nm</text>
<text x="487.4" y="1275.9" font-size="34.5" font-family="Liberation Serif, Times New Roman, serif" font-weight="bold" fill="#000" textLength="146.6" lengthAdjust="spacing"><tspan font-style="italic">d</tspan>=300 nm</text>
<text x="527.3" y="1365.2" font-size="34.5" font-family="Liberation Serif, Times New Roman, serif" font-weight="bold" fill="#00ff00" textLength="106.7" lengthAdjust="spacing">600 nm</text>
<text x="608.5" y="1432.1" font-size="34.5" font-family="Liberation Serif, Times New Roman, serif" font-weight="bold" fill="#0000ff" textLength="108.3" lengthAdjust="spacing">625 nm</text>
<text x="608.5" y="1485.3" font-size="34.5" font-family="Liberation Serif, Times New Roman, serif" font-weight="bold" fill="#ff8000" textLength="108.3" lengthAdjust="spacing">700 nm</text>
</svg>
</body></html>
